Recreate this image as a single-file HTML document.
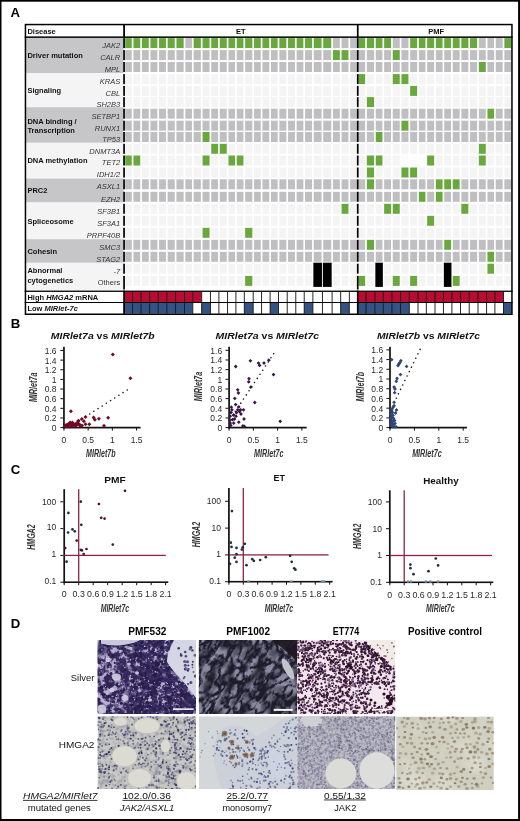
<!DOCTYPE html>
<html><head><meta charset="utf-8"><title>Figure</title><style>
html,body{margin:0;padding:0;background:#fff;overflow:hidden;}
svg{display:block;}
text{font-family:"Liberation Sans",Arial,sans-serif;}
.pl{font-size:13.2px;font-weight:bold;fill:#000;}
.b75{font-size:7.5px;font-weight:bold;fill:#111;}
.gi{font-size:7.5px;font-style:italic;fill:#353535;}
.gn{font-size:7.5px;fill:#353535;}
.tk{font-size:8.5px;fill:#2a2a2a;}
.tt{font-size:8.6px;font-weight:bold;font-style:italic;fill:#111;}
.ax{font-size:10.2px;font-style:italic;font-weight:bold;fill:#333;}
.ct{font-size:9.7px;font-weight:bold;fill:#111;}
.tkc{font-size:8.8px;fill:#2a2a2a;}
.dl{font-size:9.7px;fill:#111;}
.dbt{font-size:9.2px;fill:#111;}
.dh{font-size:10.3px;font-weight:bold;fill:#000;}
</style></head><body>
<svg width="520" height="821" viewBox="0 0 520 821">
<rect x="0" y="0" width="520" height="821" fill="#fff"/>
<text x="10.6" y="17.2" class="pl">A</text>
<rect x="25" y="38" width="98.5" height="35" fill="#c6c6c9"/>
<rect x="25" y="73" width="98.5" height="34.2" fill="#f4f4f5"/>
<rect x="25" y="107.2" width="98.5" height="35.6" fill="#c6c6c9"/>
<rect x="25" y="142.8" width="98.5" height="35.7" fill="#f4f4f5"/>
<rect x="25" y="178.5" width="98.5" height="24" fill="#c6c6c9"/>
<rect x="25" y="202.5" width="98.5" height="36.7" fill="#f4f4f5"/>
<rect x="25" y="239.2" width="98.5" height="23.6" fill="#c6c6c9"/>
<rect x="25" y="262.8" width="98.5" height="27.8" fill="#f4f4f5"/>
<rect x="125.2" y="38.1" width="6.55" height="10.0" fill="#68a83c"/>
<rect x="133.45" y="38.1" width="6.8" height="10.0" fill="#68a83c"/>
<rect x="141.95" y="38.1" width="6.8" height="10.0" fill="#68a83c"/>
<rect x="150.45" y="38.1" width="6.9" height="10.0" fill="#68a83c"/>
<rect x="159.05" y="38.1" width="6.9" height="10.0" fill="#68a83c"/>
<rect x="167.65" y="38.1" width="7.1" height="10.0" fill="#68a83c"/>
<rect x="176.45" y="38.1" width="7.2" height="10.0" fill="#68a83c"/>
<rect x="185.35" y="38.1" width="6.6" height="10.0" fill="#bfbfc2"/>
<rect x="193.65" y="38.1" width="7.2" height="10.0" fill="#68a83c"/>
<rect x="202.55" y="38.1" width="7" height="10.0" fill="#68a83c"/>
<rect x="211.25" y="38.1" width="6.8" height="10.0" fill="#68a83c"/>
<rect x="219.75" y="38.1" width="7" height="10.0" fill="#68a83c"/>
<rect x="228.45" y="38.1" width="6.6" height="10.0" fill="#68a83c"/>
<rect x="236.75" y="38.1" width="6.7" height="10.0" fill="#68a83c"/>
<rect x="245.15" y="38.1" width="7.2" height="10.0" fill="#68a83c"/>
<rect x="254.05" y="38.1" width="6.7" height="10.0" fill="#68a83c"/>
<rect x="262.45" y="38.1" width="6.8" height="10.0" fill="#68a83c"/>
<rect x="270.95" y="38.1" width="6.7" height="10.0" fill="#68a83c"/>
<rect x="279.35" y="38.1" width="7" height="10.0" fill="#68a83c"/>
<rect x="288.05" y="38.1" width="6.9" height="10.0" fill="#68a83c"/>
<rect x="296.65" y="38.1" width="6.7" height="10.0" fill="#68a83c"/>
<rect x="305.05" y="38.1" width="7" height="10.0" fill="#68a83c"/>
<rect x="313.75" y="38.1" width="7.8" height="10.0" fill="#68a83c"/>
<rect x="323.25" y="38.1" width="8" height="10.0" fill="#68a83c"/>
<rect x="332.95" y="38.1" width="6.9" height="10.0" fill="#bfbfc2"/>
<rect x="341.55" y="38.1" width="6.9" height="10.0" fill="#bfbfc2"/>
<rect x="350.15" y="38.1" width="6.75" height="10.0" fill="#bfbfc2"/>
<rect x="358.5" y="38.1" width="6.65" height="10.0" fill="#68a83c"/>
<rect x="366.85" y="38.1" width="7.2" height="10.0" fill="#68a83c"/>
<rect x="375.75" y="38.1" width="6.7" height="10.0" fill="#68a83c"/>
<rect x="384.15" y="38.1" width="6.9" height="10.0" fill="#68a83c"/>
<rect x="392.75" y="38.1" width="7" height="10.0" fill="#bfbfc2"/>
<rect x="401.45" y="38.1" width="7" height="10.0" fill="#bfbfc2"/>
<rect x="410.15" y="38.1" width="7" height="10.0" fill="#68a83c"/>
<rect x="418.85" y="38.1" width="6.6" height="10.0" fill="#68a83c"/>
<rect x="427.15" y="38.1" width="7" height="10.0" fill="#68a83c"/>
<rect x="435.85" y="38.1" width="6.7" height="10.0" fill="#68a83c"/>
<rect x="444.25" y="38.1" width="6.8" height="10.0" fill="#68a83c"/>
<rect x="452.75" y="38.1" width="6.9" height="10.0" fill="#68a83c"/>
<rect x="461.35" y="38.1" width="7" height="10.0" fill="#68a83c"/>
<rect x="470.05" y="38.1" width="7.1" height="10.0" fill="#68a83c"/>
<rect x="478.85" y="38.1" width="6.9" height="10.0" fill="#bfbfc2"/>
<rect x="487.45" y="38.1" width="6.6" height="10.0" fill="#bfbfc2"/>
<rect x="495.75" y="38.1" width="6.9" height="10.0" fill="#bfbfc2"/>
<rect x="504.35" y="38.1" width="6.65" height="10.0" fill="#68a83c"/>
<rect x="125.2" y="50.1" width="6.55" height="10.0" fill="#bfbfc2"/>
<rect x="133.45" y="50.1" width="6.8" height="10.0" fill="#bfbfc2"/>
<rect x="141.95" y="50.1" width="6.8" height="10.0" fill="#bfbfc2"/>
<rect x="150.45" y="50.1" width="6.9" height="10.0" fill="#bfbfc2"/>
<rect x="159.05" y="50.1" width="6.9" height="10.0" fill="#bfbfc2"/>
<rect x="167.65" y="50.1" width="7.1" height="10.0" fill="#bfbfc2"/>
<rect x="176.45" y="50.1" width="7.2" height="10.0" fill="#bfbfc2"/>
<rect x="185.35" y="50.1" width="6.6" height="10.0" fill="#bfbfc2"/>
<rect x="193.65" y="50.1" width="7.2" height="10.0" fill="#bfbfc2"/>
<rect x="202.55" y="50.1" width="7" height="10.0" fill="#bfbfc2"/>
<rect x="211.25" y="50.1" width="6.8" height="10.0" fill="#bfbfc2"/>
<rect x="219.75" y="50.1" width="7" height="10.0" fill="#bfbfc2"/>
<rect x="228.45" y="50.1" width="6.6" height="10.0" fill="#bfbfc2"/>
<rect x="236.75" y="50.1" width="6.7" height="10.0" fill="#bfbfc2"/>
<rect x="245.15" y="50.1" width="7.2" height="10.0" fill="#bfbfc2"/>
<rect x="254.05" y="50.1" width="6.7" height="10.0" fill="#bfbfc2"/>
<rect x="262.45" y="50.1" width="6.8" height="10.0" fill="#bfbfc2"/>
<rect x="270.95" y="50.1" width="6.7" height="10.0" fill="#bfbfc2"/>
<rect x="279.35" y="50.1" width="7" height="10.0" fill="#bfbfc2"/>
<rect x="288.05" y="50.1" width="6.9" height="10.0" fill="#bfbfc2"/>
<rect x="296.65" y="50.1" width="6.7" height="10.0" fill="#bfbfc2"/>
<rect x="305.05" y="50.1" width="7" height="10.0" fill="#bfbfc2"/>
<rect x="313.75" y="50.1" width="7.8" height="10.0" fill="#bfbfc2"/>
<rect x="323.25" y="50.1" width="8" height="10.0" fill="#bfbfc2"/>
<rect x="332.95" y="50.1" width="6.9" height="10.0" fill="#68a83c"/>
<rect x="341.55" y="50.1" width="6.9" height="10.0" fill="#68a83c"/>
<rect x="350.15" y="50.1" width="6.75" height="10.0" fill="#bfbfc2"/>
<rect x="358.5" y="50.1" width="6.65" height="10.0" fill="#bfbfc2"/>
<rect x="366.85" y="50.1" width="7.2" height="10.0" fill="#bfbfc2"/>
<rect x="375.75" y="50.1" width="6.7" height="10.0" fill="#bfbfc2"/>
<rect x="384.15" y="50.1" width="6.9" height="10.0" fill="#bfbfc2"/>
<rect x="392.75" y="50.1" width="7" height="10.0" fill="#68a83c"/>
<rect x="401.45" y="50.1" width="7" height="10.0" fill="#bfbfc2"/>
<rect x="410.15" y="50.1" width="7" height="10.0" fill="#bfbfc2"/>
<rect x="418.85" y="50.1" width="6.6" height="10.0" fill="#bfbfc2"/>
<rect x="427.15" y="50.1" width="7" height="10.0" fill="#bfbfc2"/>
<rect x="435.85" y="50.1" width="6.7" height="10.0" fill="#bfbfc2"/>
<rect x="444.25" y="50.1" width="6.8" height="10.0" fill="#bfbfc2"/>
<rect x="452.75" y="50.1" width="6.9" height="10.0" fill="#bfbfc2"/>
<rect x="461.35" y="50.1" width="7" height="10.0" fill="#bfbfc2"/>
<rect x="470.05" y="50.1" width="7.1" height="10.0" fill="#bfbfc2"/>
<rect x="478.85" y="50.1" width="6.9" height="10.0" fill="#bfbfc2"/>
<rect x="487.45" y="50.1" width="6.6" height="10.0" fill="#bfbfc2"/>
<rect x="495.75" y="50.1" width="6.9" height="10.0" fill="#bfbfc2"/>
<rect x="504.35" y="50.1" width="6.65" height="10.0" fill="#bfbfc2"/>
<rect x="125.2" y="62" width="6.55" height="10.0" fill="#bfbfc2"/>
<rect x="133.45" y="62" width="6.8" height="10.0" fill="#bfbfc2"/>
<rect x="141.95" y="62" width="6.8" height="10.0" fill="#bfbfc2"/>
<rect x="150.45" y="62" width="6.9" height="10.0" fill="#bfbfc2"/>
<rect x="159.05" y="62" width="6.9" height="10.0" fill="#bfbfc2"/>
<rect x="167.65" y="62" width="7.1" height="10.0" fill="#bfbfc2"/>
<rect x="176.45" y="62" width="7.2" height="10.0" fill="#bfbfc2"/>
<rect x="185.35" y="62" width="6.6" height="10.0" fill="#bfbfc2"/>
<rect x="193.65" y="62" width="7.2" height="10.0" fill="#bfbfc2"/>
<rect x="202.55" y="62" width="7" height="10.0" fill="#bfbfc2"/>
<rect x="211.25" y="62" width="6.8" height="10.0" fill="#bfbfc2"/>
<rect x="219.75" y="62" width="7" height="10.0" fill="#bfbfc2"/>
<rect x="228.45" y="62" width="6.6" height="10.0" fill="#bfbfc2"/>
<rect x="236.75" y="62" width="6.7" height="10.0" fill="#bfbfc2"/>
<rect x="245.15" y="62" width="7.2" height="10.0" fill="#bfbfc2"/>
<rect x="254.05" y="62" width="6.7" height="10.0" fill="#bfbfc2"/>
<rect x="262.45" y="62" width="6.8" height="10.0" fill="#bfbfc2"/>
<rect x="270.95" y="62" width="6.7" height="10.0" fill="#bfbfc2"/>
<rect x="279.35" y="62" width="7" height="10.0" fill="#bfbfc2"/>
<rect x="288.05" y="62" width="6.9" height="10.0" fill="#bfbfc2"/>
<rect x="296.65" y="62" width="6.7" height="10.0" fill="#bfbfc2"/>
<rect x="305.05" y="62" width="7" height="10.0" fill="#bfbfc2"/>
<rect x="313.75" y="62" width="7.8" height="10.0" fill="#bfbfc2"/>
<rect x="323.25" y="62" width="8" height="10.0" fill="#bfbfc2"/>
<rect x="332.95" y="62" width="6.9" height="10.0" fill="#bfbfc2"/>
<rect x="341.55" y="62" width="6.9" height="10.0" fill="#bfbfc2"/>
<rect x="350.15" y="62" width="6.75" height="10.0" fill="#bfbfc2"/>
<rect x="358.5" y="62" width="6.65" height="10.0" fill="#bfbfc2"/>
<rect x="366.85" y="62" width="7.2" height="10.0" fill="#bfbfc2"/>
<rect x="375.75" y="62" width="6.7" height="10.0" fill="#bfbfc2"/>
<rect x="384.15" y="62" width="6.9" height="10.0" fill="#bfbfc2"/>
<rect x="392.75" y="62" width="7" height="10.0" fill="#bfbfc2"/>
<rect x="401.45" y="62" width="7" height="10.0" fill="#bfbfc2"/>
<rect x="410.15" y="62" width="7" height="10.0" fill="#bfbfc2"/>
<rect x="418.85" y="62" width="6.6" height="10.0" fill="#bfbfc2"/>
<rect x="427.15" y="62" width="7" height="10.0" fill="#bfbfc2"/>
<rect x="435.85" y="62" width="6.7" height="10.0" fill="#bfbfc2"/>
<rect x="444.25" y="62" width="6.8" height="10.0" fill="#bfbfc2"/>
<rect x="452.75" y="62" width="6.9" height="10.0" fill="#bfbfc2"/>
<rect x="461.35" y="62" width="7" height="10.0" fill="#bfbfc2"/>
<rect x="470.05" y="62" width="7.1" height="10.0" fill="#bfbfc2"/>
<rect x="478.85" y="62" width="6.9" height="10.0" fill="#68a83c"/>
<rect x="487.45" y="62" width="6.6" height="10.0" fill="#bfbfc2"/>
<rect x="495.75" y="62" width="6.9" height="10.0" fill="#bfbfc2"/>
<rect x="504.35" y="62" width="6.65" height="10.0" fill="#bfbfc2"/>
<rect x="125.2" y="74.1" width="6.55" height="10.0" fill="#f4f4f5"/>
<rect x="133.45" y="74.1" width="6.8" height="10.0" fill="#f4f4f5"/>
<rect x="141.95" y="74.1" width="6.8" height="10.0" fill="#f4f4f5"/>
<rect x="150.45" y="74.1" width="6.9" height="10.0" fill="#f4f4f5"/>
<rect x="159.05" y="74.1" width="6.9" height="10.0" fill="#f4f4f5"/>
<rect x="167.65" y="74.1" width="7.1" height="10.0" fill="#f4f4f5"/>
<rect x="176.45" y="74.1" width="7.2" height="10.0" fill="#f4f4f5"/>
<rect x="185.35" y="74.1" width="6.6" height="10.0" fill="#f4f4f5"/>
<rect x="193.65" y="74.1" width="7.2" height="10.0" fill="#f4f4f5"/>
<rect x="202.55" y="74.1" width="7" height="10.0" fill="#f4f4f5"/>
<rect x="211.25" y="74.1" width="6.8" height="10.0" fill="#f4f4f5"/>
<rect x="219.75" y="74.1" width="7" height="10.0" fill="#f4f4f5"/>
<rect x="228.45" y="74.1" width="6.6" height="10.0" fill="#f4f4f5"/>
<rect x="236.75" y="74.1" width="6.7" height="10.0" fill="#f4f4f5"/>
<rect x="245.15" y="74.1" width="7.2" height="10.0" fill="#f4f4f5"/>
<rect x="254.05" y="74.1" width="6.7" height="10.0" fill="#f4f4f5"/>
<rect x="262.45" y="74.1" width="6.8" height="10.0" fill="#f4f4f5"/>
<rect x="270.95" y="74.1" width="6.7" height="10.0" fill="#f4f4f5"/>
<rect x="279.35" y="74.1" width="7" height="10.0" fill="#f4f4f5"/>
<rect x="288.05" y="74.1" width="6.9" height="10.0" fill="#f4f4f5"/>
<rect x="296.65" y="74.1" width="6.7" height="10.0" fill="#f4f4f5"/>
<rect x="305.05" y="74.1" width="7" height="10.0" fill="#f4f4f5"/>
<rect x="313.75" y="74.1" width="7.8" height="10.0" fill="#f4f4f5"/>
<rect x="323.25" y="74.1" width="8" height="10.0" fill="#f4f4f5"/>
<rect x="332.95" y="74.1" width="6.9" height="10.0" fill="#f4f4f5"/>
<rect x="341.55" y="74.1" width="6.9" height="10.0" fill="#f4f4f5"/>
<rect x="350.15" y="74.1" width="6.75" height="10.0" fill="#f4f4f5"/>
<rect x="358.5" y="74.1" width="6.65" height="10.0" fill="#68a83c"/>
<rect x="366.85" y="74.1" width="7.2" height="10.0" fill="#f4f4f5"/>
<rect x="375.75" y="74.1" width="6.7" height="10.0" fill="#f4f4f5"/>
<rect x="384.15" y="74.1" width="6.9" height="10.0" fill="#f4f4f5"/>
<rect x="392.75" y="74.1" width="7" height="10.0" fill="#68a83c"/>
<rect x="401.45" y="74.1" width="7" height="10.0" fill="#68a83c"/>
<rect x="410.15" y="74.1" width="7" height="10.0" fill="#f4f4f5"/>
<rect x="418.85" y="74.1" width="6.6" height="10.0" fill="#f4f4f5"/>
<rect x="427.15" y="74.1" width="7" height="10.0" fill="#f4f4f5"/>
<rect x="435.85" y="74.1" width="6.7" height="10.0" fill="#f4f4f5"/>
<rect x="444.25" y="74.1" width="6.8" height="10.0" fill="#f4f4f5"/>
<rect x="452.75" y="74.1" width="6.9" height="10.0" fill="#f4f4f5"/>
<rect x="461.35" y="74.1" width="7" height="10.0" fill="#f4f4f5"/>
<rect x="470.05" y="74.1" width="7.1" height="10.0" fill="#f4f4f5"/>
<rect x="478.85" y="74.1" width="6.9" height="10.0" fill="#f4f4f5"/>
<rect x="487.45" y="74.1" width="6.6" height="10.0" fill="#f4f4f5"/>
<rect x="495.75" y="74.1" width="6.9" height="10.0" fill="#f4f4f5"/>
<rect x="504.35" y="74.1" width="6.65" height="10.0" fill="#f4f4f5"/>
<rect x="125.2" y="85.9" width="6.55" height="10.0" fill="#f4f4f5"/>
<rect x="133.45" y="85.9" width="6.8" height="10.0" fill="#f4f4f5"/>
<rect x="141.95" y="85.9" width="6.8" height="10.0" fill="#f4f4f5"/>
<rect x="150.45" y="85.9" width="6.9" height="10.0" fill="#f4f4f5"/>
<rect x="159.05" y="85.9" width="6.9" height="10.0" fill="#f4f4f5"/>
<rect x="167.65" y="85.9" width="7.1" height="10.0" fill="#f4f4f5"/>
<rect x="176.45" y="85.9" width="7.2" height="10.0" fill="#f4f4f5"/>
<rect x="185.35" y="85.9" width="6.6" height="10.0" fill="#f4f4f5"/>
<rect x="193.65" y="85.9" width="7.2" height="10.0" fill="#f4f4f5"/>
<rect x="202.55" y="85.9" width="7" height="10.0" fill="#f4f4f5"/>
<rect x="211.25" y="85.9" width="6.8" height="10.0" fill="#f4f4f5"/>
<rect x="219.75" y="85.9" width="7" height="10.0" fill="#f4f4f5"/>
<rect x="228.45" y="85.9" width="6.6" height="10.0" fill="#f4f4f5"/>
<rect x="236.75" y="85.9" width="6.7" height="10.0" fill="#f4f4f5"/>
<rect x="245.15" y="85.9" width="7.2" height="10.0" fill="#f4f4f5"/>
<rect x="254.05" y="85.9" width="6.7" height="10.0" fill="#f4f4f5"/>
<rect x="262.45" y="85.9" width="6.8" height="10.0" fill="#f4f4f5"/>
<rect x="270.95" y="85.9" width="6.7" height="10.0" fill="#f4f4f5"/>
<rect x="279.35" y="85.9" width="7" height="10.0" fill="#f4f4f5"/>
<rect x="288.05" y="85.9" width="6.9" height="10.0" fill="#f4f4f5"/>
<rect x="296.65" y="85.9" width="6.7" height="10.0" fill="#f4f4f5"/>
<rect x="305.05" y="85.9" width="7" height="10.0" fill="#f4f4f5"/>
<rect x="313.75" y="85.9" width="7.8" height="10.0" fill="#f4f4f5"/>
<rect x="323.25" y="85.9" width="8" height="10.0" fill="#f4f4f5"/>
<rect x="332.95" y="85.9" width="6.9" height="10.0" fill="#f4f4f5"/>
<rect x="341.55" y="85.9" width="6.9" height="10.0" fill="#f4f4f5"/>
<rect x="350.15" y="85.9" width="6.75" height="10.0" fill="#f4f4f5"/>
<rect x="358.5" y="85.9" width="6.65" height="10.0" fill="#f4f4f5"/>
<rect x="366.85" y="85.9" width="7.2" height="10.0" fill="#f4f4f5"/>
<rect x="375.75" y="85.9" width="6.7" height="10.0" fill="#f4f4f5"/>
<rect x="384.15" y="85.9" width="6.9" height="10.0" fill="#f4f4f5"/>
<rect x="392.75" y="85.9" width="7" height="10.0" fill="#f4f4f5"/>
<rect x="401.45" y="85.9" width="7" height="10.0" fill="#f4f4f5"/>
<rect x="410.15" y="85.9" width="7" height="10.0" fill="#68a83c"/>
<rect x="418.85" y="85.9" width="6.6" height="10.0" fill="#f4f4f5"/>
<rect x="427.15" y="85.9" width="7" height="10.0" fill="#f4f4f5"/>
<rect x="435.85" y="85.9" width="6.7" height="10.0" fill="#f4f4f5"/>
<rect x="444.25" y="85.9" width="6.8" height="10.0" fill="#f4f4f5"/>
<rect x="452.75" y="85.9" width="6.9" height="10.0" fill="#f4f4f5"/>
<rect x="461.35" y="85.9" width="7" height="10.0" fill="#f4f4f5"/>
<rect x="470.05" y="85.9" width="7.1" height="10.0" fill="#f4f4f5"/>
<rect x="478.85" y="85.9" width="6.9" height="10.0" fill="#f4f4f5"/>
<rect x="487.45" y="85.9" width="6.6" height="10.0" fill="#f4f4f5"/>
<rect x="495.75" y="85.9" width="6.9" height="10.0" fill="#f4f4f5"/>
<rect x="504.35" y="85.9" width="6.65" height="10.0" fill="#f4f4f5"/>
<rect x="125.2" y="97.1" width="6.55" height="10.0" fill="#f4f4f5"/>
<rect x="133.45" y="97.1" width="6.8" height="10.0" fill="#f4f4f5"/>
<rect x="141.95" y="97.1" width="6.8" height="10.0" fill="#f4f4f5"/>
<rect x="150.45" y="97.1" width="6.9" height="10.0" fill="#f4f4f5"/>
<rect x="159.05" y="97.1" width="6.9" height="10.0" fill="#f4f4f5"/>
<rect x="167.65" y="97.1" width="7.1" height="10.0" fill="#f4f4f5"/>
<rect x="176.45" y="97.1" width="7.2" height="10.0" fill="#f4f4f5"/>
<rect x="185.35" y="97.1" width="6.6" height="10.0" fill="#f4f4f5"/>
<rect x="193.65" y="97.1" width="7.2" height="10.0" fill="#f4f4f5"/>
<rect x="202.55" y="97.1" width="7" height="10.0" fill="#f4f4f5"/>
<rect x="211.25" y="97.1" width="6.8" height="10.0" fill="#f4f4f5"/>
<rect x="219.75" y="97.1" width="7" height="10.0" fill="#f4f4f5"/>
<rect x="228.45" y="97.1" width="6.6" height="10.0" fill="#f4f4f5"/>
<rect x="236.75" y="97.1" width="6.7" height="10.0" fill="#f4f4f5"/>
<rect x="245.15" y="97.1" width="7.2" height="10.0" fill="#f4f4f5"/>
<rect x="254.05" y="97.1" width="6.7" height="10.0" fill="#f4f4f5"/>
<rect x="262.45" y="97.1" width="6.8" height="10.0" fill="#f4f4f5"/>
<rect x="270.95" y="97.1" width="6.7" height="10.0" fill="#f4f4f5"/>
<rect x="279.35" y="97.1" width="7" height="10.0" fill="#f4f4f5"/>
<rect x="288.05" y="97.1" width="6.9" height="10.0" fill="#f4f4f5"/>
<rect x="296.65" y="97.1" width="6.7" height="10.0" fill="#f4f4f5"/>
<rect x="305.05" y="97.1" width="7" height="10.0" fill="#f4f4f5"/>
<rect x="313.75" y="97.1" width="7.8" height="10.0" fill="#f4f4f5"/>
<rect x="323.25" y="97.1" width="8" height="10.0" fill="#f4f4f5"/>
<rect x="332.95" y="97.1" width="6.9" height="10.0" fill="#f4f4f5"/>
<rect x="341.55" y="97.1" width="6.9" height="10.0" fill="#f4f4f5"/>
<rect x="350.15" y="97.1" width="6.75" height="10.0" fill="#f4f4f5"/>
<rect x="358.5" y="97.1" width="6.65" height="10.0" fill="#f4f4f5"/>
<rect x="366.85" y="97.1" width="7.2" height="10.0" fill="#68a83c"/>
<rect x="375.75" y="97.1" width="6.7" height="10.0" fill="#f4f4f5"/>
<rect x="384.15" y="97.1" width="6.9" height="10.0" fill="#f4f4f5"/>
<rect x="392.75" y="97.1" width="7" height="10.0" fill="#f4f4f5"/>
<rect x="401.45" y="97.1" width="7" height="10.0" fill="#f4f4f5"/>
<rect x="410.15" y="97.1" width="7" height="10.0" fill="#f4f4f5"/>
<rect x="418.85" y="97.1" width="6.6" height="10.0" fill="#f4f4f5"/>
<rect x="427.15" y="97.1" width="7" height="10.0" fill="#f4f4f5"/>
<rect x="435.85" y="97.1" width="6.7" height="10.0" fill="#f4f4f5"/>
<rect x="444.25" y="97.1" width="6.8" height="10.0" fill="#f4f4f5"/>
<rect x="452.75" y="97.1" width="6.9" height="10.0" fill="#f4f4f5"/>
<rect x="461.35" y="97.1" width="7" height="10.0" fill="#f4f4f5"/>
<rect x="470.05" y="97.1" width="7.1" height="10.0" fill="#f4f4f5"/>
<rect x="478.85" y="97.1" width="6.9" height="10.0" fill="#f4f4f5"/>
<rect x="487.45" y="97.1" width="6.6" height="10.0" fill="#f4f4f5"/>
<rect x="495.75" y="97.1" width="6.9" height="10.0" fill="#f4f4f5"/>
<rect x="504.35" y="97.1" width="6.65" height="10.0" fill="#f4f4f5"/>
<rect x="125.2" y="108.7" width="6.55" height="10.0" fill="#bfbfc2"/>
<rect x="133.45" y="108.7" width="6.8" height="10.0" fill="#bfbfc2"/>
<rect x="141.95" y="108.7" width="6.8" height="10.0" fill="#bfbfc2"/>
<rect x="150.45" y="108.7" width="6.9" height="10.0" fill="#bfbfc2"/>
<rect x="159.05" y="108.7" width="6.9" height="10.0" fill="#bfbfc2"/>
<rect x="167.65" y="108.7" width="7.1" height="10.0" fill="#bfbfc2"/>
<rect x="176.45" y="108.7" width="7.2" height="10.0" fill="#bfbfc2"/>
<rect x="185.35" y="108.7" width="6.6" height="10.0" fill="#bfbfc2"/>
<rect x="193.65" y="108.7" width="7.2" height="10.0" fill="#bfbfc2"/>
<rect x="202.55" y="108.7" width="7" height="10.0" fill="#bfbfc2"/>
<rect x="211.25" y="108.7" width="6.8" height="10.0" fill="#bfbfc2"/>
<rect x="219.75" y="108.7" width="7" height="10.0" fill="#bfbfc2"/>
<rect x="228.45" y="108.7" width="6.6" height="10.0" fill="#bfbfc2"/>
<rect x="236.75" y="108.7" width="6.7" height="10.0" fill="#bfbfc2"/>
<rect x="245.15" y="108.7" width="7.2" height="10.0" fill="#bfbfc2"/>
<rect x="254.05" y="108.7" width="6.7" height="10.0" fill="#bfbfc2"/>
<rect x="262.45" y="108.7" width="6.8" height="10.0" fill="#bfbfc2"/>
<rect x="270.95" y="108.7" width="6.7" height="10.0" fill="#bfbfc2"/>
<rect x="279.35" y="108.7" width="7" height="10.0" fill="#bfbfc2"/>
<rect x="288.05" y="108.7" width="6.9" height="10.0" fill="#bfbfc2"/>
<rect x="296.65" y="108.7" width="6.7" height="10.0" fill="#bfbfc2"/>
<rect x="305.05" y="108.7" width="7" height="10.0" fill="#bfbfc2"/>
<rect x="313.75" y="108.7" width="7.8" height="10.0" fill="#bfbfc2"/>
<rect x="323.25" y="108.7" width="8" height="10.0" fill="#bfbfc2"/>
<rect x="332.95" y="108.7" width="6.9" height="10.0" fill="#bfbfc2"/>
<rect x="341.55" y="108.7" width="6.9" height="10.0" fill="#bfbfc2"/>
<rect x="350.15" y="108.7" width="6.75" height="10.0" fill="#bfbfc2"/>
<rect x="358.5" y="108.7" width="6.65" height="10.0" fill="#bfbfc2"/>
<rect x="366.85" y="108.7" width="7.2" height="10.0" fill="#bfbfc2"/>
<rect x="375.75" y="108.7" width="6.7" height="10.0" fill="#bfbfc2"/>
<rect x="384.15" y="108.7" width="6.9" height="10.0" fill="#bfbfc2"/>
<rect x="392.75" y="108.7" width="7" height="10.0" fill="#bfbfc2"/>
<rect x="401.45" y="108.7" width="7" height="10.0" fill="#bfbfc2"/>
<rect x="410.15" y="108.7" width="7" height="10.0" fill="#bfbfc2"/>
<rect x="418.85" y="108.7" width="6.6" height="10.0" fill="#bfbfc2"/>
<rect x="427.15" y="108.7" width="7" height="10.0" fill="#bfbfc2"/>
<rect x="435.85" y="108.7" width="6.7" height="10.0" fill="#bfbfc2"/>
<rect x="444.25" y="108.7" width="6.8" height="10.0" fill="#bfbfc2"/>
<rect x="452.75" y="108.7" width="6.9" height="10.0" fill="#bfbfc2"/>
<rect x="461.35" y="108.7" width="7" height="10.0" fill="#bfbfc2"/>
<rect x="470.05" y="108.7" width="7.1" height="10.0" fill="#bfbfc2"/>
<rect x="478.85" y="108.7" width="6.9" height="10.0" fill="#bfbfc2"/>
<rect x="487.45" y="108.7" width="6.6" height="10.0" fill="#68a83c"/>
<rect x="495.75" y="108.7" width="6.9" height="10.0" fill="#bfbfc2"/>
<rect x="504.35" y="108.7" width="6.65" height="10.0" fill="#bfbfc2"/>
<rect x="125.2" y="120.7" width="6.55" height="10.0" fill="#bfbfc2"/>
<rect x="133.45" y="120.7" width="6.8" height="10.0" fill="#bfbfc2"/>
<rect x="141.95" y="120.7" width="6.8" height="10.0" fill="#bfbfc2"/>
<rect x="150.45" y="120.7" width="6.9" height="10.0" fill="#bfbfc2"/>
<rect x="159.05" y="120.7" width="6.9" height="10.0" fill="#bfbfc2"/>
<rect x="167.65" y="120.7" width="7.1" height="10.0" fill="#bfbfc2"/>
<rect x="176.45" y="120.7" width="7.2" height="10.0" fill="#bfbfc2"/>
<rect x="185.35" y="120.7" width="6.6" height="10.0" fill="#bfbfc2"/>
<rect x="193.65" y="120.7" width="7.2" height="10.0" fill="#bfbfc2"/>
<rect x="202.55" y="120.7" width="7" height="10.0" fill="#bfbfc2"/>
<rect x="211.25" y="120.7" width="6.8" height="10.0" fill="#bfbfc2"/>
<rect x="219.75" y="120.7" width="7" height="10.0" fill="#bfbfc2"/>
<rect x="228.45" y="120.7" width="6.6" height="10.0" fill="#bfbfc2"/>
<rect x="236.75" y="120.7" width="6.7" height="10.0" fill="#bfbfc2"/>
<rect x="245.15" y="120.7" width="7.2" height="10.0" fill="#bfbfc2"/>
<rect x="254.05" y="120.7" width="6.7" height="10.0" fill="#bfbfc2"/>
<rect x="262.45" y="120.7" width="6.8" height="10.0" fill="#bfbfc2"/>
<rect x="270.95" y="120.7" width="6.7" height="10.0" fill="#bfbfc2"/>
<rect x="279.35" y="120.7" width="7" height="10.0" fill="#bfbfc2"/>
<rect x="288.05" y="120.7" width="6.9" height="10.0" fill="#bfbfc2"/>
<rect x="296.65" y="120.7" width="6.7" height="10.0" fill="#bfbfc2"/>
<rect x="305.05" y="120.7" width="7" height="10.0" fill="#bfbfc2"/>
<rect x="313.75" y="120.7" width="7.8" height="10.0" fill="#bfbfc2"/>
<rect x="323.25" y="120.7" width="8" height="10.0" fill="#bfbfc2"/>
<rect x="332.95" y="120.7" width="6.9" height="10.0" fill="#bfbfc2"/>
<rect x="341.55" y="120.7" width="6.9" height="10.0" fill="#bfbfc2"/>
<rect x="350.15" y="120.7" width="6.75" height="10.0" fill="#bfbfc2"/>
<rect x="358.5" y="120.7" width="6.65" height="10.0" fill="#bfbfc2"/>
<rect x="366.85" y="120.7" width="7.2" height="10.0" fill="#bfbfc2"/>
<rect x="375.75" y="120.7" width="6.7" height="10.0" fill="#bfbfc2"/>
<rect x="384.15" y="120.7" width="6.9" height="10.0" fill="#bfbfc2"/>
<rect x="392.75" y="120.7" width="7" height="10.0" fill="#bfbfc2"/>
<rect x="401.45" y="120.7" width="7" height="10.0" fill="#68a83c"/>
<rect x="410.15" y="120.7" width="7" height="10.0" fill="#bfbfc2"/>
<rect x="418.85" y="120.7" width="6.6" height="10.0" fill="#bfbfc2"/>
<rect x="427.15" y="120.7" width="7" height="10.0" fill="#bfbfc2"/>
<rect x="435.85" y="120.7" width="6.7" height="10.0" fill="#bfbfc2"/>
<rect x="444.25" y="120.7" width="6.8" height="10.0" fill="#bfbfc2"/>
<rect x="452.75" y="120.7" width="6.9" height="10.0" fill="#bfbfc2"/>
<rect x="461.35" y="120.7" width="7" height="10.0" fill="#bfbfc2"/>
<rect x="470.05" y="120.7" width="7.1" height="10.0" fill="#bfbfc2"/>
<rect x="478.85" y="120.7" width="6.9" height="10.0" fill="#bfbfc2"/>
<rect x="487.45" y="120.7" width="6.6" height="10.0" fill="#bfbfc2"/>
<rect x="495.75" y="120.7" width="6.9" height="10.0" fill="#bfbfc2"/>
<rect x="504.35" y="120.7" width="6.65" height="10.0" fill="#bfbfc2"/>
<rect x="125.2" y="132" width="6.55" height="10.0" fill="#bfbfc2"/>
<rect x="133.45" y="132" width="6.8" height="10.0" fill="#bfbfc2"/>
<rect x="141.95" y="132" width="6.8" height="10.0" fill="#bfbfc2"/>
<rect x="150.45" y="132" width="6.9" height="10.0" fill="#bfbfc2"/>
<rect x="159.05" y="132" width="6.9" height="10.0" fill="#bfbfc2"/>
<rect x="167.65" y="132" width="7.1" height="10.0" fill="#bfbfc2"/>
<rect x="176.45" y="132" width="7.2" height="10.0" fill="#bfbfc2"/>
<rect x="185.35" y="132" width="6.6" height="10.0" fill="#bfbfc2"/>
<rect x="193.65" y="132" width="7.2" height="10.0" fill="#bfbfc2"/>
<rect x="202.55" y="132" width="7" height="10.0" fill="#68a83c"/>
<rect x="211.25" y="132" width="6.8" height="10.0" fill="#bfbfc2"/>
<rect x="219.75" y="132" width="7" height="10.0" fill="#bfbfc2"/>
<rect x="228.45" y="132" width="6.6" height="10.0" fill="#bfbfc2"/>
<rect x="236.75" y="132" width="6.7" height="10.0" fill="#bfbfc2"/>
<rect x="245.15" y="132" width="7.2" height="10.0" fill="#bfbfc2"/>
<rect x="254.05" y="132" width="6.7" height="10.0" fill="#bfbfc2"/>
<rect x="262.45" y="132" width="6.8" height="10.0" fill="#bfbfc2"/>
<rect x="270.95" y="132" width="6.7" height="10.0" fill="#bfbfc2"/>
<rect x="279.35" y="132" width="7" height="10.0" fill="#bfbfc2"/>
<rect x="288.05" y="132" width="6.9" height="10.0" fill="#bfbfc2"/>
<rect x="296.65" y="132" width="6.7" height="10.0" fill="#bfbfc2"/>
<rect x="305.05" y="132" width="7" height="10.0" fill="#bfbfc2"/>
<rect x="313.75" y="132" width="7.8" height="10.0" fill="#bfbfc2"/>
<rect x="323.25" y="132" width="8" height="10.0" fill="#bfbfc2"/>
<rect x="332.95" y="132" width="6.9" height="10.0" fill="#bfbfc2"/>
<rect x="341.55" y="132" width="6.9" height="10.0" fill="#bfbfc2"/>
<rect x="350.15" y="132" width="6.75" height="10.0" fill="#bfbfc2"/>
<rect x="358.5" y="132" width="6.65" height="10.0" fill="#bfbfc2"/>
<rect x="366.85" y="132" width="7.2" height="10.0" fill="#bfbfc2"/>
<rect x="375.75" y="132" width="6.7" height="10.0" fill="#68a83c"/>
<rect x="384.15" y="132" width="6.9" height="10.0" fill="#bfbfc2"/>
<rect x="392.75" y="132" width="7" height="10.0" fill="#bfbfc2"/>
<rect x="401.45" y="132" width="7" height="10.0" fill="#bfbfc2"/>
<rect x="410.15" y="132" width="7" height="10.0" fill="#bfbfc2"/>
<rect x="418.85" y="132" width="6.6" height="10.0" fill="#bfbfc2"/>
<rect x="427.15" y="132" width="7" height="10.0" fill="#bfbfc2"/>
<rect x="435.85" y="132" width="6.7" height="10.0" fill="#bfbfc2"/>
<rect x="444.25" y="132" width="6.8" height="10.0" fill="#bfbfc2"/>
<rect x="452.75" y="132" width="6.9" height="10.0" fill="#bfbfc2"/>
<rect x="461.35" y="132" width="7" height="10.0" fill="#bfbfc2"/>
<rect x="470.05" y="132" width="7.1" height="10.0" fill="#bfbfc2"/>
<rect x="478.85" y="132" width="6.9" height="10.0" fill="#bfbfc2"/>
<rect x="487.45" y="132" width="6.6" height="10.0" fill="#bfbfc2"/>
<rect x="495.75" y="132" width="6.9" height="10.0" fill="#bfbfc2"/>
<rect x="504.35" y="132" width="6.65" height="10.0" fill="#bfbfc2"/>
<rect x="125.2" y="143.8" width="6.55" height="10.0" fill="#f4f4f5"/>
<rect x="133.45" y="143.8" width="6.8" height="10.0" fill="#f4f4f5"/>
<rect x="141.95" y="143.8" width="6.8" height="10.0" fill="#f4f4f5"/>
<rect x="150.45" y="143.8" width="6.9" height="10.0" fill="#f4f4f5"/>
<rect x="159.05" y="143.8" width="6.9" height="10.0" fill="#f4f4f5"/>
<rect x="167.65" y="143.8" width="7.1" height="10.0" fill="#f4f4f5"/>
<rect x="176.45" y="143.8" width="7.2" height="10.0" fill="#f4f4f5"/>
<rect x="185.35" y="143.8" width="6.6" height="10.0" fill="#f4f4f5"/>
<rect x="193.65" y="143.8" width="7.2" height="10.0" fill="#f4f4f5"/>
<rect x="202.55" y="143.8" width="7" height="10.0" fill="#f4f4f5"/>
<rect x="211.25" y="143.8" width="6.8" height="10.0" fill="#68a83c"/>
<rect x="219.75" y="143.8" width="7" height="10.0" fill="#68a83c"/>
<rect x="228.45" y="143.8" width="6.6" height="10.0" fill="#f4f4f5"/>
<rect x="236.75" y="143.8" width="6.7" height="10.0" fill="#f4f4f5"/>
<rect x="245.15" y="143.8" width="7.2" height="10.0" fill="#f4f4f5"/>
<rect x="254.05" y="143.8" width="6.7" height="10.0" fill="#f4f4f5"/>
<rect x="262.45" y="143.8" width="6.8" height="10.0" fill="#f4f4f5"/>
<rect x="270.95" y="143.8" width="6.7" height="10.0" fill="#f4f4f5"/>
<rect x="279.35" y="143.8" width="7" height="10.0" fill="#f4f4f5"/>
<rect x="288.05" y="143.8" width="6.9" height="10.0" fill="#f4f4f5"/>
<rect x="296.65" y="143.8" width="6.7" height="10.0" fill="#f4f4f5"/>
<rect x="305.05" y="143.8" width="7" height="10.0" fill="#f4f4f5"/>
<rect x="313.75" y="143.8" width="7.8" height="10.0" fill="#f4f4f5"/>
<rect x="323.25" y="143.8" width="8" height="10.0" fill="#f4f4f5"/>
<rect x="332.95" y="143.8" width="6.9" height="10.0" fill="#f4f4f5"/>
<rect x="341.55" y="143.8" width="6.9" height="10.0" fill="#f4f4f5"/>
<rect x="350.15" y="143.8" width="6.75" height="10.0" fill="#f4f4f5"/>
<rect x="358.5" y="143.8" width="6.65" height="10.0" fill="#f4f4f5"/>
<rect x="366.85" y="143.8" width="7.2" height="10.0" fill="#f4f4f5"/>
<rect x="375.75" y="143.8" width="6.7" height="10.0" fill="#f4f4f5"/>
<rect x="384.15" y="143.8" width="6.9" height="10.0" fill="#f4f4f5"/>
<rect x="392.75" y="143.8" width="7" height="10.0" fill="#f4f4f5"/>
<rect x="401.45" y="143.8" width="7" height="10.0" fill="#f4f4f5"/>
<rect x="410.15" y="143.8" width="7" height="10.0" fill="#f4f4f5"/>
<rect x="418.85" y="143.8" width="6.6" height="10.0" fill="#f4f4f5"/>
<rect x="427.15" y="143.8" width="7" height="10.0" fill="#f4f4f5"/>
<rect x="435.85" y="143.8" width="6.7" height="10.0" fill="#f4f4f5"/>
<rect x="444.25" y="143.8" width="6.8" height="10.0" fill="#f4f4f5"/>
<rect x="452.75" y="143.8" width="6.9" height="10.0" fill="#f4f4f5"/>
<rect x="461.35" y="143.8" width="7" height="10.0" fill="#f4f4f5"/>
<rect x="470.05" y="143.8" width="7.1" height="10.0" fill="#f4f4f5"/>
<rect x="478.85" y="143.8" width="6.9" height="10.0" fill="#68a83c"/>
<rect x="487.45" y="143.8" width="6.6" height="10.0" fill="#f4f4f5"/>
<rect x="495.75" y="143.8" width="6.9" height="10.0" fill="#f4f4f5"/>
<rect x="504.35" y="143.8" width="6.65" height="10.0" fill="#f4f4f5"/>
<rect x="125.2" y="155.5" width="6.55" height="10.0" fill="#68a83c"/>
<rect x="133.45" y="155.5" width="6.8" height="10.0" fill="#68a83c"/>
<rect x="141.95" y="155.5" width="6.8" height="10.0" fill="#f4f4f5"/>
<rect x="150.45" y="155.5" width="6.9" height="10.0" fill="#f4f4f5"/>
<rect x="159.05" y="155.5" width="6.9" height="10.0" fill="#f4f4f5"/>
<rect x="167.65" y="155.5" width="7.1" height="10.0" fill="#f4f4f5"/>
<rect x="176.45" y="155.5" width="7.2" height="10.0" fill="#f4f4f5"/>
<rect x="185.35" y="155.5" width="6.6" height="10.0" fill="#f4f4f5"/>
<rect x="193.65" y="155.5" width="7.2" height="10.0" fill="#f4f4f5"/>
<rect x="202.55" y="155.5" width="7" height="10.0" fill="#68a83c"/>
<rect x="211.25" y="155.5" width="6.8" height="10.0" fill="#f4f4f5"/>
<rect x="219.75" y="155.5" width="7" height="10.0" fill="#f4f4f5"/>
<rect x="228.45" y="155.5" width="6.6" height="10.0" fill="#68a83c"/>
<rect x="236.75" y="155.5" width="6.7" height="10.0" fill="#68a83c"/>
<rect x="245.15" y="155.5" width="7.2" height="10.0" fill="#f4f4f5"/>
<rect x="254.05" y="155.5" width="6.7" height="10.0" fill="#f4f4f5"/>
<rect x="262.45" y="155.5" width="6.8" height="10.0" fill="#f4f4f5"/>
<rect x="270.95" y="155.5" width="6.7" height="10.0" fill="#f4f4f5"/>
<rect x="279.35" y="155.5" width="7" height="10.0" fill="#f4f4f5"/>
<rect x="288.05" y="155.5" width="6.9" height="10.0" fill="#f4f4f5"/>
<rect x="296.65" y="155.5" width="6.7" height="10.0" fill="#f4f4f5"/>
<rect x="305.05" y="155.5" width="7" height="10.0" fill="#f4f4f5"/>
<rect x="313.75" y="155.5" width="7.8" height="10.0" fill="#f4f4f5"/>
<rect x="323.25" y="155.5" width="8" height="10.0" fill="#f4f4f5"/>
<rect x="332.95" y="155.5" width="6.9" height="10.0" fill="#f4f4f5"/>
<rect x="341.55" y="155.5" width="6.9" height="10.0" fill="#f4f4f5"/>
<rect x="350.15" y="155.5" width="6.75" height="10.0" fill="#f4f4f5"/>
<rect x="358.5" y="155.5" width="6.65" height="10.0" fill="#f4f4f5"/>
<rect x="366.85" y="155.5" width="7.2" height="10.0" fill="#68a83c"/>
<rect x="375.75" y="155.5" width="6.7" height="10.0" fill="#68a83c"/>
<rect x="384.15" y="155.5" width="6.9" height="10.0" fill="#f4f4f5"/>
<rect x="392.75" y="155.5" width="7" height="10.0" fill="#f4f4f5"/>
<rect x="401.45" y="155.5" width="7" height="10.0" fill="#fdfdfd"/>
<rect x="410.15" y="155.5" width="7" height="10.0" fill="#fdfdfd"/>
<rect x="418.85" y="155.5" width="6.6" height="10.0" fill="#fdfdfd"/>
<rect x="427.15" y="155.5" width="7" height="10.0" fill="#68a83c"/>
<rect x="435.85" y="155.5" width="6.7" height="10.0" fill="#f4f4f5"/>
<rect x="444.25" y="155.5" width="6.8" height="10.0" fill="#f4f4f5"/>
<rect x="452.75" y="155.5" width="6.9" height="10.0" fill="#f4f4f5"/>
<rect x="461.35" y="155.5" width="7" height="10.0" fill="#f4f4f5"/>
<rect x="470.05" y="155.5" width="7.1" height="10.0" fill="#f4f4f5"/>
<rect x="478.85" y="155.5" width="6.9" height="10.0" fill="#68a83c"/>
<rect x="487.45" y="155.5" width="6.6" height="10.0" fill="#f4f4f5"/>
<rect x="495.75" y="155.5" width="6.9" height="10.0" fill="#f4f4f5"/>
<rect x="504.35" y="155.5" width="6.65" height="10.0" fill="#f4f4f5"/>
<rect x="125.2" y="167.5" width="6.55" height="10.0" fill="#f4f4f5"/>
<rect x="133.45" y="167.5" width="6.8" height="10.0" fill="#f4f4f5"/>
<rect x="141.95" y="167.5" width="6.8" height="10.0" fill="#f4f4f5"/>
<rect x="150.45" y="167.5" width="6.9" height="10.0" fill="#f4f4f5"/>
<rect x="159.05" y="167.5" width="6.9" height="10.0" fill="#f4f4f5"/>
<rect x="167.65" y="167.5" width="7.1" height="10.0" fill="#f4f4f5"/>
<rect x="176.45" y="167.5" width="7.2" height="10.0" fill="#f4f4f5"/>
<rect x="185.35" y="167.5" width="6.6" height="10.0" fill="#f4f4f5"/>
<rect x="193.65" y="167.5" width="7.2" height="10.0" fill="#f4f4f5"/>
<rect x="202.55" y="167.5" width="7" height="10.0" fill="#f4f4f5"/>
<rect x="211.25" y="167.5" width="6.8" height="10.0" fill="#f4f4f5"/>
<rect x="219.75" y="167.5" width="7" height="10.0" fill="#f4f4f5"/>
<rect x="228.45" y="167.5" width="6.6" height="10.0" fill="#f4f4f5"/>
<rect x="236.75" y="167.5" width="6.7" height="10.0" fill="#f4f4f5"/>
<rect x="245.15" y="167.5" width="7.2" height="10.0" fill="#f4f4f5"/>
<rect x="254.05" y="167.5" width="6.7" height="10.0" fill="#f4f4f5"/>
<rect x="262.45" y="167.5" width="6.8" height="10.0" fill="#f4f4f5"/>
<rect x="270.95" y="167.5" width="6.7" height="10.0" fill="#f4f4f5"/>
<rect x="279.35" y="167.5" width="7" height="10.0" fill="#f4f4f5"/>
<rect x="288.05" y="167.5" width="6.9" height="10.0" fill="#f4f4f5"/>
<rect x="296.65" y="167.5" width="6.7" height="10.0" fill="#f4f4f5"/>
<rect x="305.05" y="167.5" width="7" height="10.0" fill="#f4f4f5"/>
<rect x="313.75" y="167.5" width="7.8" height="10.0" fill="#f4f4f5"/>
<rect x="323.25" y="167.5" width="8" height="10.0" fill="#f4f4f5"/>
<rect x="332.95" y="167.5" width="6.9" height="10.0" fill="#f4f4f5"/>
<rect x="341.55" y="167.5" width="6.9" height="10.0" fill="#f4f4f5"/>
<rect x="350.15" y="167.5" width="6.75" height="10.0" fill="#f4f4f5"/>
<rect x="358.5" y="167.5" width="6.65" height="10.0" fill="#f4f4f5"/>
<rect x="366.85" y="167.5" width="7.2" height="10.0" fill="#68a83c"/>
<rect x="375.75" y="167.5" width="6.7" height="10.0" fill="#f4f4f5"/>
<rect x="384.15" y="167.5" width="6.9" height="10.0" fill="#f4f4f5"/>
<rect x="392.75" y="167.5" width="7" height="10.0" fill="#f4f4f5"/>
<rect x="401.45" y="167.5" width="7" height="10.0" fill="#68a83c"/>
<rect x="410.15" y="167.5" width="7" height="10.0" fill="#68a83c"/>
<rect x="418.85" y="167.5" width="6.6" height="10.0" fill="#f4f4f5"/>
<rect x="427.15" y="167.5" width="7" height="10.0" fill="#f4f4f5"/>
<rect x="435.85" y="167.5" width="6.7" height="10.0" fill="#f4f4f5"/>
<rect x="444.25" y="167.5" width="6.8" height="10.0" fill="#f4f4f5"/>
<rect x="452.75" y="167.5" width="6.9" height="10.0" fill="#f4f4f5"/>
<rect x="461.35" y="167.5" width="7" height="10.0" fill="#f4f4f5"/>
<rect x="470.05" y="167.5" width="7.1" height="10.0" fill="#f4f4f5"/>
<rect x="478.85" y="167.5" width="6.9" height="10.0" fill="#f4f4f5"/>
<rect x="487.45" y="167.5" width="6.6" height="10.0" fill="#f4f4f5"/>
<rect x="495.75" y="167.5" width="6.9" height="10.0" fill="#f4f4f5"/>
<rect x="504.35" y="167.5" width="6.65" height="10.0" fill="#f4f4f5"/>
<rect x="125.2" y="179.3" width="6.55" height="10.0" fill="#bfbfc2"/>
<rect x="133.45" y="179.3" width="6.8" height="10.0" fill="#bfbfc2"/>
<rect x="141.95" y="179.3" width="6.8" height="10.0" fill="#bfbfc2"/>
<rect x="150.45" y="179.3" width="6.9" height="10.0" fill="#bfbfc2"/>
<rect x="159.05" y="179.3" width="6.9" height="10.0" fill="#bfbfc2"/>
<rect x="167.65" y="179.3" width="7.1" height="10.0" fill="#bfbfc2"/>
<rect x="176.45" y="179.3" width="7.2" height="10.0" fill="#bfbfc2"/>
<rect x="185.35" y="179.3" width="6.6" height="10.0" fill="#bfbfc2"/>
<rect x="193.65" y="179.3" width="7.2" height="10.0" fill="#bfbfc2"/>
<rect x="202.55" y="179.3" width="7" height="10.0" fill="#bfbfc2"/>
<rect x="211.25" y="179.3" width="6.8" height="10.0" fill="#bfbfc2"/>
<rect x="219.75" y="179.3" width="7" height="10.0" fill="#bfbfc2"/>
<rect x="228.45" y="179.3" width="6.6" height="10.0" fill="#bfbfc2"/>
<rect x="236.75" y="179.3" width="6.7" height="10.0" fill="#bfbfc2"/>
<rect x="245.15" y="179.3" width="7.2" height="10.0" fill="#bfbfc2"/>
<rect x="254.05" y="179.3" width="6.7" height="10.0" fill="#bfbfc2"/>
<rect x="262.45" y="179.3" width="6.8" height="10.0" fill="#bfbfc2"/>
<rect x="270.95" y="179.3" width="6.7" height="10.0" fill="#bfbfc2"/>
<rect x="279.35" y="179.3" width="7" height="10.0" fill="#bfbfc2"/>
<rect x="288.05" y="179.3" width="6.9" height="10.0" fill="#bfbfc2"/>
<rect x="296.65" y="179.3" width="6.7" height="10.0" fill="#bfbfc2"/>
<rect x="305.05" y="179.3" width="7" height="10.0" fill="#bfbfc2"/>
<rect x="313.75" y="179.3" width="7.8" height="10.0" fill="#bfbfc2"/>
<rect x="323.25" y="179.3" width="8" height="10.0" fill="#bfbfc2"/>
<rect x="332.95" y="179.3" width="6.9" height="10.0" fill="#bfbfc2"/>
<rect x="341.55" y="179.3" width="6.9" height="10.0" fill="#bfbfc2"/>
<rect x="350.15" y="179.3" width="6.75" height="10.0" fill="#bfbfc2"/>
<rect x="358.5" y="179.3" width="6.65" height="10.0" fill="#bfbfc2"/>
<rect x="366.85" y="179.3" width="7.2" height="10.0" fill="#68a83c"/>
<rect x="375.75" y="179.3" width="6.7" height="10.0" fill="#bfbfc2"/>
<rect x="384.15" y="179.3" width="6.9" height="10.0" fill="#bfbfc2"/>
<rect x="392.75" y="179.3" width="7" height="10.0" fill="#bfbfc2"/>
<rect x="401.45" y="179.3" width="7" height="10.0" fill="#bfbfc2"/>
<rect x="410.15" y="179.3" width="7" height="10.0" fill="#bfbfc2"/>
<rect x="418.85" y="179.3" width="6.6" height="10.0" fill="#bfbfc2"/>
<rect x="427.15" y="179.3" width="7" height="10.0" fill="#bfbfc2"/>
<rect x="435.85" y="179.3" width="6.7" height="10.0" fill="#68a83c"/>
<rect x="444.25" y="179.3" width="6.8" height="10.0" fill="#68a83c"/>
<rect x="452.75" y="179.3" width="6.9" height="10.0" fill="#68a83c"/>
<rect x="461.35" y="179.3" width="7" height="10.0" fill="#bfbfc2"/>
<rect x="470.05" y="179.3" width="7.1" height="10.0" fill="#bfbfc2"/>
<rect x="478.85" y="179.3" width="6.9" height="10.0" fill="#bfbfc2"/>
<rect x="487.45" y="179.3" width="6.6" height="10.0" fill="#bfbfc2"/>
<rect x="495.75" y="179.3" width="6.9" height="10.0" fill="#bfbfc2"/>
<rect x="504.35" y="179.3" width="6.65" height="10.0" fill="#bfbfc2"/>
<rect x="125.2" y="191.8" width="6.55" height="10.0" fill="#bfbfc2"/>
<rect x="133.45" y="191.8" width="6.8" height="10.0" fill="#bfbfc2"/>
<rect x="141.95" y="191.8" width="6.8" height="10.0" fill="#bfbfc2"/>
<rect x="150.45" y="191.8" width="6.9" height="10.0" fill="#bfbfc2"/>
<rect x="159.05" y="191.8" width="6.9" height="10.0" fill="#bfbfc2"/>
<rect x="167.65" y="191.8" width="7.1" height="10.0" fill="#bfbfc2"/>
<rect x="176.45" y="191.8" width="7.2" height="10.0" fill="#bfbfc2"/>
<rect x="185.35" y="191.8" width="6.6" height="10.0" fill="#bfbfc2"/>
<rect x="193.65" y="191.8" width="7.2" height="10.0" fill="#bfbfc2"/>
<rect x="202.55" y="191.8" width="7" height="10.0" fill="#bfbfc2"/>
<rect x="211.25" y="191.8" width="6.8" height="10.0" fill="#bfbfc2"/>
<rect x="219.75" y="191.8" width="7" height="10.0" fill="#bfbfc2"/>
<rect x="228.45" y="191.8" width="6.6" height="10.0" fill="#bfbfc2"/>
<rect x="236.75" y="191.8" width="6.7" height="10.0" fill="#bfbfc2"/>
<rect x="245.15" y="191.8" width="7.2" height="10.0" fill="#bfbfc2"/>
<rect x="254.05" y="191.8" width="6.7" height="10.0" fill="#bfbfc2"/>
<rect x="262.45" y="191.8" width="6.8" height="10.0" fill="#bfbfc2"/>
<rect x="270.95" y="191.8" width="6.7" height="10.0" fill="#bfbfc2"/>
<rect x="279.35" y="191.8" width="7" height="10.0" fill="#bfbfc2"/>
<rect x="288.05" y="191.8" width="6.9" height="10.0" fill="#bfbfc2"/>
<rect x="296.65" y="191.8" width="6.7" height="10.0" fill="#bfbfc2"/>
<rect x="305.05" y="191.8" width="7" height="10.0" fill="#bfbfc2"/>
<rect x="313.75" y="191.8" width="7.8" height="10.0" fill="#bfbfc2"/>
<rect x="323.25" y="191.8" width="8" height="10.0" fill="#bfbfc2"/>
<rect x="332.95" y="191.8" width="6.9" height="10.0" fill="#bfbfc2"/>
<rect x="341.55" y="191.8" width="6.9" height="10.0" fill="#bfbfc2"/>
<rect x="350.15" y="191.8" width="6.75" height="10.0" fill="#bfbfc2"/>
<rect x="358.5" y="191.8" width="6.65" height="10.0" fill="#bfbfc2"/>
<rect x="366.85" y="191.8" width="7.2" height="10.0" fill="#bfbfc2"/>
<rect x="375.75" y="191.8" width="6.7" height="10.0" fill="#bfbfc2"/>
<rect x="384.15" y="191.8" width="6.9" height="10.0" fill="#bfbfc2"/>
<rect x="392.75" y="191.8" width="7" height="10.0" fill="#bfbfc2"/>
<rect x="401.45" y="191.8" width="7" height="10.0" fill="#bfbfc2"/>
<rect x="410.15" y="191.8" width="7" height="10.0" fill="#bfbfc2"/>
<rect x="418.85" y="191.8" width="6.6" height="10.0" fill="#68a83c"/>
<rect x="427.15" y="191.8" width="7" height="10.0" fill="#bfbfc2"/>
<rect x="435.85" y="191.8" width="6.7" height="10.0" fill="#68a83c"/>
<rect x="444.25" y="191.8" width="6.8" height="10.0" fill="#bfbfc2"/>
<rect x="452.75" y="191.8" width="6.9" height="10.0" fill="#bfbfc2"/>
<rect x="461.35" y="191.8" width="7" height="10.0" fill="#bfbfc2"/>
<rect x="470.05" y="191.8" width="7.1" height="10.0" fill="#bfbfc2"/>
<rect x="478.85" y="191.8" width="6.9" height="10.0" fill="#bfbfc2"/>
<rect x="487.45" y="191.8" width="6.6" height="10.0" fill="#bfbfc2"/>
<rect x="495.75" y="191.8" width="6.9" height="10.0" fill="#bfbfc2"/>
<rect x="504.35" y="191.8" width="6.65" height="10.0" fill="#bfbfc2"/>
<rect x="125.2" y="203.8" width="6.55" height="10.0" fill="#f4f4f5"/>
<rect x="133.45" y="203.8" width="6.8" height="10.0" fill="#f4f4f5"/>
<rect x="141.95" y="203.8" width="6.8" height="10.0" fill="#f4f4f5"/>
<rect x="150.45" y="203.8" width="6.9" height="10.0" fill="#f4f4f5"/>
<rect x="159.05" y="203.8" width="6.9" height="10.0" fill="#f4f4f5"/>
<rect x="167.65" y="203.8" width="7.1" height="10.0" fill="#f4f4f5"/>
<rect x="176.45" y="203.8" width="7.2" height="10.0" fill="#f4f4f5"/>
<rect x="185.35" y="203.8" width="6.6" height="10.0" fill="#f4f4f5"/>
<rect x="193.65" y="203.8" width="7.2" height="10.0" fill="#f4f4f5"/>
<rect x="202.55" y="203.8" width="7" height="10.0" fill="#f4f4f5"/>
<rect x="211.25" y="203.8" width="6.8" height="10.0" fill="#f4f4f5"/>
<rect x="219.75" y="203.8" width="7" height="10.0" fill="#f4f4f5"/>
<rect x="228.45" y="203.8" width="6.6" height="10.0" fill="#f4f4f5"/>
<rect x="236.75" y="203.8" width="6.7" height="10.0" fill="#f4f4f5"/>
<rect x="245.15" y="203.8" width="7.2" height="10.0" fill="#f4f4f5"/>
<rect x="254.05" y="203.8" width="6.7" height="10.0" fill="#f4f4f5"/>
<rect x="262.45" y="203.8" width="6.8" height="10.0" fill="#f4f4f5"/>
<rect x="270.95" y="203.8" width="6.7" height="10.0" fill="#f4f4f5"/>
<rect x="279.35" y="203.8" width="7" height="10.0" fill="#f4f4f5"/>
<rect x="288.05" y="203.8" width="6.9" height="10.0" fill="#f4f4f5"/>
<rect x="296.65" y="203.8" width="6.7" height="10.0" fill="#f4f4f5"/>
<rect x="305.05" y="203.8" width="7" height="10.0" fill="#f4f4f5"/>
<rect x="313.75" y="203.8" width="7.8" height="10.0" fill="#f4f4f5"/>
<rect x="323.25" y="203.8" width="8" height="10.0" fill="#f4f4f5"/>
<rect x="332.95" y="203.8" width="6.9" height="10.0" fill="#f4f4f5"/>
<rect x="341.55" y="203.8" width="6.9" height="10.0" fill="#68a83c"/>
<rect x="350.15" y="203.8" width="6.75" height="10.0" fill="#f4f4f5"/>
<rect x="358.5" y="203.8" width="6.65" height="10.0" fill="#f4f4f5"/>
<rect x="366.85" y="203.8" width="7.2" height="10.0" fill="#f4f4f5"/>
<rect x="375.75" y="203.8" width="6.7" height="10.0" fill="#f4f4f5"/>
<rect x="384.15" y="203.8" width="6.9" height="10.0" fill="#68a83c"/>
<rect x="392.75" y="203.8" width="7" height="10.0" fill="#68a83c"/>
<rect x="401.45" y="203.8" width="7" height="10.0" fill="#f4f4f5"/>
<rect x="410.15" y="203.8" width="7" height="10.0" fill="#f4f4f5"/>
<rect x="418.85" y="203.8" width="6.6" height="10.0" fill="#f4f4f5"/>
<rect x="427.15" y="203.8" width="7" height="10.0" fill="#f4f4f5"/>
<rect x="435.85" y="203.8" width="6.7" height="10.0" fill="#f4f4f5"/>
<rect x="444.25" y="203.8" width="6.8" height="10.0" fill="#f4f4f5"/>
<rect x="452.75" y="203.8" width="6.9" height="10.0" fill="#f4f4f5"/>
<rect x="461.35" y="203.8" width="7" height="10.0" fill="#68a83c"/>
<rect x="470.05" y="203.8" width="7.1" height="10.0" fill="#f4f4f5"/>
<rect x="478.85" y="203.8" width="6.9" height="10.0" fill="#f4f4f5"/>
<rect x="487.45" y="203.8" width="6.6" height="10.0" fill="#f4f4f5"/>
<rect x="495.75" y="203.8" width="6.9" height="10.0" fill="#f4f4f5"/>
<rect x="504.35" y="203.8" width="6.65" height="10.0" fill="#f4f4f5"/>
<rect x="125.2" y="215.8" width="6.55" height="10.0" fill="#f4f4f5"/>
<rect x="133.45" y="215.8" width="6.8" height="10.0" fill="#f4f4f5"/>
<rect x="141.95" y="215.8" width="6.8" height="10.0" fill="#f4f4f5"/>
<rect x="150.45" y="215.8" width="6.9" height="10.0" fill="#f4f4f5"/>
<rect x="159.05" y="215.8" width="6.9" height="10.0" fill="#f4f4f5"/>
<rect x="167.65" y="215.8" width="7.1" height="10.0" fill="#f4f4f5"/>
<rect x="176.45" y="215.8" width="7.2" height="10.0" fill="#f4f4f5"/>
<rect x="185.35" y="215.8" width="6.6" height="10.0" fill="#f4f4f5"/>
<rect x="193.65" y="215.8" width="7.2" height="10.0" fill="#f4f4f5"/>
<rect x="202.55" y="215.8" width="7" height="10.0" fill="#f4f4f5"/>
<rect x="211.25" y="215.8" width="6.8" height="10.0" fill="#f4f4f5"/>
<rect x="219.75" y="215.8" width="7" height="10.0" fill="#f4f4f5"/>
<rect x="228.45" y="215.8" width="6.6" height="10.0" fill="#f4f4f5"/>
<rect x="236.75" y="215.8" width="6.7" height="10.0" fill="#f4f4f5"/>
<rect x="245.15" y="215.8" width="7.2" height="10.0" fill="#f4f4f5"/>
<rect x="254.05" y="215.8" width="6.7" height="10.0" fill="#f4f4f5"/>
<rect x="262.45" y="215.8" width="6.8" height="10.0" fill="#f4f4f5"/>
<rect x="270.95" y="215.8" width="6.7" height="10.0" fill="#f4f4f5"/>
<rect x="279.35" y="215.8" width="7" height="10.0" fill="#f4f4f5"/>
<rect x="288.05" y="215.8" width="6.9" height="10.0" fill="#f4f4f5"/>
<rect x="296.65" y="215.8" width="6.7" height="10.0" fill="#f4f4f5"/>
<rect x="305.05" y="215.8" width="7" height="10.0" fill="#f4f4f5"/>
<rect x="313.75" y="215.8" width="7.8" height="10.0" fill="#f4f4f5"/>
<rect x="323.25" y="215.8" width="8" height="10.0" fill="#f4f4f5"/>
<rect x="332.95" y="215.8" width="6.9" height="10.0" fill="#f4f4f5"/>
<rect x="341.55" y="215.8" width="6.9" height="10.0" fill="#f4f4f5"/>
<rect x="350.15" y="215.8" width="6.75" height="10.0" fill="#f4f4f5"/>
<rect x="358.5" y="215.8" width="6.65" height="10.0" fill="#f4f4f5"/>
<rect x="366.85" y="215.8" width="7.2" height="10.0" fill="#f4f4f5"/>
<rect x="375.75" y="215.8" width="6.7" height="10.0" fill="#f4f4f5"/>
<rect x="384.15" y="215.8" width="6.9" height="10.0" fill="#f4f4f5"/>
<rect x="392.75" y="215.8" width="7" height="10.0" fill="#f4f4f5"/>
<rect x="401.45" y="215.8" width="7" height="10.0" fill="#f4f4f5"/>
<rect x="410.15" y="215.8" width="7" height="10.0" fill="#f4f4f5"/>
<rect x="418.85" y="215.8" width="6.6" height="10.0" fill="#f4f4f5"/>
<rect x="427.15" y="215.8" width="7" height="10.0" fill="#68a83c"/>
<rect x="435.85" y="215.8" width="6.7" height="10.0" fill="#f4f4f5"/>
<rect x="444.25" y="215.8" width="6.8" height="10.0" fill="#f4f4f5"/>
<rect x="452.75" y="215.8" width="6.9" height="10.0" fill="#f4f4f5"/>
<rect x="461.35" y="215.8" width="7" height="10.0" fill="#f4f4f5"/>
<rect x="470.05" y="215.8" width="7.1" height="10.0" fill="#f4f4f5"/>
<rect x="478.85" y="215.8" width="6.9" height="10.0" fill="#f4f4f5"/>
<rect x="487.45" y="215.8" width="6.6" height="10.0" fill="#f4f4f5"/>
<rect x="495.75" y="215.8" width="6.9" height="10.0" fill="#f4f4f5"/>
<rect x="504.35" y="215.8" width="6.65" height="10.0" fill="#f4f4f5"/>
<rect x="125.2" y="227.8" width="6.55" height="10.0" fill="#f4f4f5"/>
<rect x="133.45" y="227.8" width="6.8" height="10.0" fill="#f4f4f5"/>
<rect x="141.95" y="227.8" width="6.8" height="10.0" fill="#f4f4f5"/>
<rect x="150.45" y="227.8" width="6.9" height="10.0" fill="#f4f4f5"/>
<rect x="159.05" y="227.8" width="6.9" height="10.0" fill="#f4f4f5"/>
<rect x="167.65" y="227.8" width="7.1" height="10.0" fill="#f4f4f5"/>
<rect x="176.45" y="227.8" width="7.2" height="10.0" fill="#f4f4f5"/>
<rect x="185.35" y="227.8" width="6.6" height="10.0" fill="#f4f4f5"/>
<rect x="193.65" y="227.8" width="7.2" height="10.0" fill="#f4f4f5"/>
<rect x="202.55" y="227.8" width="7" height="10.0" fill="#68a83c"/>
<rect x="211.25" y="227.8" width="6.8" height="10.0" fill="#f4f4f5"/>
<rect x="219.75" y="227.8" width="7" height="10.0" fill="#f4f4f5"/>
<rect x="228.45" y="227.8" width="6.6" height="10.0" fill="#f4f4f5"/>
<rect x="236.75" y="227.8" width="6.7" height="10.0" fill="#f4f4f5"/>
<rect x="245.15" y="227.8" width="7.2" height="10.0" fill="#68a83c"/>
<rect x="254.05" y="227.8" width="6.7" height="10.0" fill="#f4f4f5"/>
<rect x="262.45" y="227.8" width="6.8" height="10.0" fill="#f4f4f5"/>
<rect x="270.95" y="227.8" width="6.7" height="10.0" fill="#f4f4f5"/>
<rect x="279.35" y="227.8" width="7" height="10.0" fill="#f4f4f5"/>
<rect x="288.05" y="227.8" width="6.9" height="10.0" fill="#f4f4f5"/>
<rect x="296.65" y="227.8" width="6.7" height="10.0" fill="#f4f4f5"/>
<rect x="305.05" y="227.8" width="7" height="10.0" fill="#f4f4f5"/>
<rect x="313.75" y="227.8" width="7.8" height="10.0" fill="#f4f4f5"/>
<rect x="323.25" y="227.8" width="8" height="10.0" fill="#f4f4f5"/>
<rect x="332.95" y="227.8" width="6.9" height="10.0" fill="#f4f4f5"/>
<rect x="341.55" y="227.8" width="6.9" height="10.0" fill="#f4f4f5"/>
<rect x="350.15" y="227.8" width="6.75" height="10.0" fill="#f4f4f5"/>
<rect x="358.5" y="227.8" width="6.65" height="10.0" fill="#f4f4f5"/>
<rect x="366.85" y="227.8" width="7.2" height="10.0" fill="#f4f4f5"/>
<rect x="375.75" y="227.8" width="6.7" height="10.0" fill="#f4f4f5"/>
<rect x="384.15" y="227.8" width="6.9" height="10.0" fill="#f4f4f5"/>
<rect x="392.75" y="227.8" width="7" height="10.0" fill="#f4f4f5"/>
<rect x="401.45" y="227.8" width="7" height="10.0" fill="#f4f4f5"/>
<rect x="410.15" y="227.8" width="7" height="10.0" fill="#f4f4f5"/>
<rect x="418.85" y="227.8" width="6.6" height="10.0" fill="#f4f4f5"/>
<rect x="427.15" y="227.8" width="7" height="10.0" fill="#f4f4f5"/>
<rect x="435.85" y="227.8" width="6.7" height="10.0" fill="#f4f4f5"/>
<rect x="444.25" y="227.8" width="6.8" height="10.0" fill="#f4f4f5"/>
<rect x="452.75" y="227.8" width="6.9" height="10.0" fill="#f4f4f5"/>
<rect x="461.35" y="227.8" width="7" height="10.0" fill="#f4f4f5"/>
<rect x="470.05" y="227.8" width="7.1" height="10.0" fill="#f4f4f5"/>
<rect x="478.85" y="227.8" width="6.9" height="10.0" fill="#f4f4f5"/>
<rect x="487.45" y="227.8" width="6.6" height="10.0" fill="#f4f4f5"/>
<rect x="495.75" y="227.8" width="6.9" height="10.0" fill="#f4f4f5"/>
<rect x="504.35" y="227.8" width="6.65" height="10.0" fill="#f4f4f5"/>
<rect x="125.2" y="239.8" width="6.55" height="10.0" fill="#bfbfc2"/>
<rect x="133.45" y="239.8" width="6.8" height="10.0" fill="#bfbfc2"/>
<rect x="141.95" y="239.8" width="6.8" height="10.0" fill="#bfbfc2"/>
<rect x="150.45" y="239.8" width="6.9" height="10.0" fill="#bfbfc2"/>
<rect x="159.05" y="239.8" width="6.9" height="10.0" fill="#bfbfc2"/>
<rect x="167.65" y="239.8" width="7.1" height="10.0" fill="#bfbfc2"/>
<rect x="176.45" y="239.8" width="7.2" height="10.0" fill="#bfbfc2"/>
<rect x="185.35" y="239.8" width="6.6" height="10.0" fill="#bfbfc2"/>
<rect x="193.65" y="239.8" width="7.2" height="10.0" fill="#bfbfc2"/>
<rect x="202.55" y="239.8" width="7" height="10.0" fill="#bfbfc2"/>
<rect x="211.25" y="239.8" width="6.8" height="10.0" fill="#bfbfc2"/>
<rect x="219.75" y="239.8" width="7" height="10.0" fill="#bfbfc2"/>
<rect x="228.45" y="239.8" width="6.6" height="10.0" fill="#bfbfc2"/>
<rect x="236.75" y="239.8" width="6.7" height="10.0" fill="#bfbfc2"/>
<rect x="245.15" y="239.8" width="7.2" height="10.0" fill="#bfbfc2"/>
<rect x="254.05" y="239.8" width="6.7" height="10.0" fill="#bfbfc2"/>
<rect x="262.45" y="239.8" width="6.8" height="10.0" fill="#bfbfc2"/>
<rect x="270.95" y="239.8" width="6.7" height="10.0" fill="#bfbfc2"/>
<rect x="279.35" y="239.8" width="7" height="10.0" fill="#bfbfc2"/>
<rect x="288.05" y="239.8" width="6.9" height="10.0" fill="#bfbfc2"/>
<rect x="296.65" y="239.8" width="6.7" height="10.0" fill="#bfbfc2"/>
<rect x="305.05" y="239.8" width="7" height="10.0" fill="#bfbfc2"/>
<rect x="313.75" y="239.8" width="7.8" height="10.0" fill="#bfbfc2"/>
<rect x="323.25" y="239.8" width="8" height="10.0" fill="#bfbfc2"/>
<rect x="332.95" y="239.8" width="6.9" height="10.0" fill="#bfbfc2"/>
<rect x="341.55" y="239.8" width="6.9" height="10.0" fill="#bfbfc2"/>
<rect x="350.15" y="239.8" width="6.75" height="10.0" fill="#bfbfc2"/>
<rect x="358.5" y="239.8" width="6.65" height="10.0" fill="#bfbfc2"/>
<rect x="366.85" y="239.8" width="7.2" height="10.0" fill="#68a83c"/>
<rect x="375.75" y="239.8" width="6.7" height="10.0" fill="#bfbfc2"/>
<rect x="384.15" y="239.8" width="6.9" height="10.0" fill="#bfbfc2"/>
<rect x="392.75" y="239.8" width="7" height="10.0" fill="#bfbfc2"/>
<rect x="401.45" y="239.8" width="7" height="10.0" fill="#bfbfc2"/>
<rect x="410.15" y="239.8" width="7" height="10.0" fill="#bfbfc2"/>
<rect x="418.85" y="239.8" width="6.6" height="10.0" fill="#bfbfc2"/>
<rect x="427.15" y="239.8" width="7" height="10.0" fill="#bfbfc2"/>
<rect x="435.85" y="239.8" width="6.7" height="10.0" fill="#bfbfc2"/>
<rect x="444.25" y="239.8" width="6.8" height="10.0" fill="#68a83c"/>
<rect x="452.75" y="239.8" width="6.9" height="10.0" fill="#bfbfc2"/>
<rect x="461.35" y="239.8" width="7" height="10.0" fill="#bfbfc2"/>
<rect x="470.05" y="239.8" width="7.1" height="10.0" fill="#bfbfc2"/>
<rect x="478.85" y="239.8" width="6.9" height="10.0" fill="#bfbfc2"/>
<rect x="487.45" y="239.8" width="6.6" height="10.0" fill="#bfbfc2"/>
<rect x="495.75" y="239.8" width="6.9" height="10.0" fill="#bfbfc2"/>
<rect x="504.35" y="239.8" width="6.65" height="10.0" fill="#bfbfc2"/>
<rect x="125.2" y="251.8" width="6.55" height="10.0" fill="#bfbfc2"/>
<rect x="133.45" y="251.8" width="6.8" height="10.0" fill="#bfbfc2"/>
<rect x="141.95" y="251.8" width="6.8" height="10.0" fill="#bfbfc2"/>
<rect x="150.45" y="251.8" width="6.9" height="10.0" fill="#bfbfc2"/>
<rect x="159.05" y="251.8" width="6.9" height="10.0" fill="#bfbfc2"/>
<rect x="167.65" y="251.8" width="7.1" height="10.0" fill="#bfbfc2"/>
<rect x="176.45" y="251.8" width="7.2" height="10.0" fill="#bfbfc2"/>
<rect x="185.35" y="251.8" width="6.6" height="10.0" fill="#bfbfc2"/>
<rect x="193.65" y="251.8" width="7.2" height="10.0" fill="#bfbfc2"/>
<rect x="202.55" y="251.8" width="7" height="10.0" fill="#bfbfc2"/>
<rect x="211.25" y="251.8" width="6.8" height="10.0" fill="#bfbfc2"/>
<rect x="219.75" y="251.8" width="7" height="10.0" fill="#bfbfc2"/>
<rect x="228.45" y="251.8" width="6.6" height="10.0" fill="#bfbfc2"/>
<rect x="236.75" y="251.8" width="6.7" height="10.0" fill="#bfbfc2"/>
<rect x="245.15" y="251.8" width="7.2" height="10.0" fill="#bfbfc2"/>
<rect x="254.05" y="251.8" width="6.7" height="10.0" fill="#bfbfc2"/>
<rect x="262.45" y="251.8" width="6.8" height="10.0" fill="#bfbfc2"/>
<rect x="270.95" y="251.8" width="6.7" height="10.0" fill="#bfbfc2"/>
<rect x="279.35" y="251.8" width="7" height="10.0" fill="#bfbfc2"/>
<rect x="288.05" y="251.8" width="6.9" height="10.0" fill="#bfbfc2"/>
<rect x="296.65" y="251.8" width="6.7" height="10.0" fill="#bfbfc2"/>
<rect x="305.05" y="251.8" width="7" height="10.0" fill="#bfbfc2"/>
<rect x="313.75" y="251.8" width="7.8" height="10.0" fill="#bfbfc2"/>
<rect x="323.25" y="251.8" width="8" height="10.0" fill="#bfbfc2"/>
<rect x="332.95" y="251.8" width="6.9" height="10.0" fill="#bfbfc2"/>
<rect x="341.55" y="251.8" width="6.9" height="10.0" fill="#bfbfc2"/>
<rect x="350.15" y="251.8" width="6.75" height="10.0" fill="#bfbfc2"/>
<rect x="358.5" y="251.8" width="6.65" height="10.0" fill="#bfbfc2"/>
<rect x="366.85" y="251.8" width="7.2" height="10.0" fill="#bfbfc2"/>
<rect x="375.75" y="251.8" width="6.7" height="10.0" fill="#bfbfc2"/>
<rect x="384.15" y="251.8" width="6.9" height="10.0" fill="#bfbfc2"/>
<rect x="392.75" y="251.8" width="7" height="10.0" fill="#bfbfc2"/>
<rect x="401.45" y="251.8" width="7" height="10.0" fill="#bfbfc2"/>
<rect x="410.15" y="251.8" width="7" height="10.0" fill="#bfbfc2"/>
<rect x="418.85" y="251.8" width="6.6" height="10.0" fill="#bfbfc2"/>
<rect x="427.15" y="251.8" width="7" height="10.0" fill="#bfbfc2"/>
<rect x="435.85" y="251.8" width="6.7" height="10.0" fill="#bfbfc2"/>
<rect x="444.25" y="251.8" width="6.8" height="10.0" fill="#bfbfc2"/>
<rect x="452.75" y="251.8" width="6.9" height="10.0" fill="#bfbfc2"/>
<rect x="461.35" y="251.8" width="7" height="10.0" fill="#bfbfc2"/>
<rect x="470.05" y="251.8" width="7.1" height="10.0" fill="#bfbfc2"/>
<rect x="478.85" y="251.8" width="6.9" height="10.0" fill="#bfbfc2"/>
<rect x="487.45" y="251.8" width="6.6" height="10.0" fill="#68a83c"/>
<rect x="495.75" y="251.8" width="6.9" height="10.0" fill="#bfbfc2"/>
<rect x="504.35" y="251.8" width="6.65" height="10.0" fill="#bfbfc2"/>
<rect x="125.2" y="263.7" width="6.55" height="10.0" fill="#f4f4f5"/>
<rect x="133.45" y="263.7" width="6.8" height="10.0" fill="#f4f4f5"/>
<rect x="141.95" y="263.7" width="6.8" height="10.0" fill="#f4f4f5"/>
<rect x="150.45" y="263.7" width="6.9" height="10.0" fill="#f4f4f5"/>
<rect x="159.05" y="263.7" width="6.9" height="10.0" fill="#f4f4f5"/>
<rect x="167.65" y="263.7" width="7.1" height="10.0" fill="#f4f4f5"/>
<rect x="176.45" y="263.7" width="7.2" height="10.0" fill="#f4f4f5"/>
<rect x="185.35" y="263.7" width="6.6" height="10.0" fill="#f4f4f5"/>
<rect x="193.65" y="263.7" width="7.2" height="10.0" fill="#f4f4f5"/>
<rect x="202.55" y="263.7" width="7" height="10.0" fill="#f4f4f5"/>
<rect x="211.25" y="263.7" width="6.8" height="10.0" fill="#f4f4f5"/>
<rect x="219.75" y="263.7" width="7" height="10.0" fill="#f4f4f5"/>
<rect x="228.45" y="263.7" width="6.6" height="10.0" fill="#f4f4f5"/>
<rect x="236.75" y="263.7" width="6.7" height="10.0" fill="#f4f4f5"/>
<rect x="245.15" y="263.7" width="7.2" height="10.0" fill="#f4f4f5"/>
<rect x="254.05" y="263.7" width="6.7" height="10.0" fill="#f4f4f5"/>
<rect x="262.45" y="263.7" width="6.8" height="10.0" fill="#f4f4f5"/>
<rect x="270.95" y="263.7" width="6.7" height="10.0" fill="#f4f4f5"/>
<rect x="279.35" y="263.7" width="7" height="10.0" fill="#f4f4f5"/>
<rect x="288.05" y="263.7" width="6.9" height="10.0" fill="#f4f4f5"/>
<rect x="296.65" y="263.7" width="6.7" height="10.0" fill="#f4f4f5"/>
<rect x="305.05" y="263.7" width="7" height="10.0" fill="#f4f4f5"/>
<rect x="332.95" y="263.7" width="6.9" height="10.0" fill="#f4f4f5"/>
<rect x="341.55" y="263.7" width="6.9" height="10.0" fill="#f4f4f5"/>
<rect x="350.15" y="263.7" width="6.75" height="10.0" fill="#f4f4f5"/>
<rect x="358.5" y="263.7" width="6.65" height="10.0" fill="#f4f4f5"/>
<rect x="366.85" y="263.7" width="7.2" height="10.0" fill="#f4f4f5"/>
<rect x="384.15" y="263.7" width="6.9" height="10.0" fill="#f4f4f5"/>
<rect x="392.75" y="263.7" width="7" height="10.0" fill="#f4f4f5"/>
<rect x="401.45" y="263.7" width="7" height="10.0" fill="#f4f4f5"/>
<rect x="410.15" y="263.7" width="7" height="10.0" fill="#f4f4f5"/>
<rect x="418.85" y="263.7" width="6.6" height="10.0" fill="#f4f4f5"/>
<rect x="427.15" y="263.7" width="7" height="10.0" fill="#f4f4f5"/>
<rect x="435.85" y="263.7" width="6.7" height="10.0" fill="#f4f4f5"/>
<rect x="452.75" y="263.7" width="6.9" height="10.0" fill="#f4f4f5"/>
<rect x="461.35" y="263.7" width="7" height="10.0" fill="#f4f4f5"/>
<rect x="470.05" y="263.7" width="7.1" height="10.0" fill="#f4f4f5"/>
<rect x="478.85" y="263.7" width="6.9" height="10.0" fill="#f4f4f5"/>
<rect x="487.45" y="263.7" width="6.6" height="10.0" fill="#68a83c"/>
<rect x="495.75" y="263.7" width="6.9" height="10.0" fill="#f4f4f5"/>
<rect x="504.35" y="263.7" width="6.65" height="10.0" fill="#f4f4f5"/>
<rect x="125.2" y="275.9" width="6.55" height="10.0" fill="#f4f4f5"/>
<rect x="133.45" y="275.9" width="6.8" height="10.0" fill="#f4f4f5"/>
<rect x="141.95" y="275.9" width="6.8" height="10.0" fill="#f4f4f5"/>
<rect x="150.45" y="275.9" width="6.9" height="10.0" fill="#f4f4f5"/>
<rect x="159.05" y="275.9" width="6.9" height="10.0" fill="#f4f4f5"/>
<rect x="167.65" y="275.9" width="7.1" height="10.0" fill="#f4f4f5"/>
<rect x="176.45" y="275.9" width="7.2" height="10.0" fill="#f4f4f5"/>
<rect x="185.35" y="275.9" width="6.6" height="10.0" fill="#f4f4f5"/>
<rect x="193.65" y="275.9" width="7.2" height="10.0" fill="#f4f4f5"/>
<rect x="202.55" y="275.9" width="7" height="10.0" fill="#f4f4f5"/>
<rect x="211.25" y="275.9" width="6.8" height="10.0" fill="#f4f4f5"/>
<rect x="219.75" y="275.9" width="7" height="10.0" fill="#f4f4f5"/>
<rect x="228.45" y="275.9" width="6.6" height="10.0" fill="#f4f4f5"/>
<rect x="236.75" y="275.9" width="6.7" height="10.0" fill="#f4f4f5"/>
<rect x="245.15" y="275.9" width="7.2" height="10.0" fill="#68a83c"/>
<rect x="254.05" y="275.9" width="6.7" height="10.0" fill="#f4f4f5"/>
<rect x="262.45" y="275.9" width="6.8" height="10.0" fill="#f4f4f5"/>
<rect x="270.95" y="275.9" width="6.7" height="10.0" fill="#f4f4f5"/>
<rect x="279.35" y="275.9" width="7" height="10.0" fill="#f4f4f5"/>
<rect x="288.05" y="275.9" width="6.9" height="10.0" fill="#f4f4f5"/>
<rect x="296.65" y="275.9" width="6.7" height="10.0" fill="#f4f4f5"/>
<rect x="305.05" y="275.9" width="7" height="10.0" fill="#f4f4f5"/>
<rect x="332.95" y="275.9" width="6.9" height="10.0" fill="#f4f4f5"/>
<rect x="341.55" y="275.9" width="6.9" height="10.0" fill="#f4f4f5"/>
<rect x="350.15" y="275.9" width="6.75" height="10.0" fill="#f4f4f5"/>
<rect x="358.5" y="275.9" width="6.65" height="10.0" fill="#68a83c"/>
<rect x="366.85" y="275.9" width="7.2" height="10.0" fill="#f4f4f5"/>
<rect x="384.15" y="275.9" width="6.9" height="10.0" fill="#f4f4f5"/>
<rect x="392.75" y="275.9" width="7" height="10.0" fill="#68a83c"/>
<rect x="401.45" y="275.9" width="7" height="10.0" fill="#f4f4f5"/>
<rect x="410.15" y="275.9" width="7" height="10.0" fill="#68a83c"/>
<rect x="418.85" y="275.9" width="6.6" height="10.0" fill="#f4f4f5"/>
<rect x="427.15" y="275.9" width="7" height="10.0" fill="#f4f4f5"/>
<rect x="435.85" y="275.9" width="6.7" height="10.0" fill="#f4f4f5"/>
<rect x="452.75" y="275.9" width="6.9" height="10.0" fill="#68a83c"/>
<rect x="461.35" y="275.9" width="7" height="10.0" fill="#f4f4f5"/>
<rect x="470.05" y="275.9" width="7.1" height="10.0" fill="#f4f4f5"/>
<rect x="478.85" y="275.9" width="6.9" height="10.0" fill="#f4f4f5"/>
<rect x="487.45" y="275.9" width="6.6" height="10.0" fill="#f4f4f5"/>
<rect x="495.75" y="275.9" width="6.9" height="10.0" fill="#f4f4f5"/>
<rect x="504.35" y="275.9" width="6.65" height="10.0" fill="#f4f4f5"/>
<rect x="313.35" y="262.7" width="8.6" height="24.2" fill="#000"/>
<rect x="322.85" y="262.7" width="8.8" height="24.2" fill="#000"/>
<rect x="375.35" y="262.7" width="7.5" height="24.2" fill="#000"/>
<rect x="443.85" y="262.7" width="7.6" height="24.2" fill="#000"/>
<rect x="123.2" y="38.1" width="1.7" height="10" fill="#000"/>
<rect x="123.2" y="50.1" width="1.7" height="10" fill="#000"/>
<rect x="123.2" y="62" width="1.7" height="10" fill="#000"/>
<rect x="123.2" y="74.1" width="1.7" height="10" fill="#000"/>
<rect x="123.2" y="85.9" width="1.7" height="10" fill="#000"/>
<rect x="123.2" y="97.1" width="1.7" height="10" fill="#000"/>
<rect x="123.2" y="108.7" width="1.7" height="10" fill="#000"/>
<rect x="123.2" y="120.7" width="1.7" height="10" fill="#000"/>
<rect x="123.2" y="132" width="1.7" height="10" fill="#000"/>
<rect x="123.2" y="143.8" width="1.7" height="10" fill="#000"/>
<rect x="123.2" y="155.5" width="1.7" height="10" fill="#000"/>
<rect x="123.2" y="167.5" width="1.7" height="10" fill="#000"/>
<rect x="123.2" y="179.3" width="1.7" height="10" fill="#000"/>
<rect x="123.2" y="191.8" width="1.7" height="10" fill="#000"/>
<rect x="123.2" y="203.8" width="1.7" height="10" fill="#000"/>
<rect x="123.2" y="215.8" width="1.7" height="10" fill="#000"/>
<rect x="123.2" y="227.8" width="1.7" height="10" fill="#000"/>
<rect x="123.2" y="239.8" width="1.7" height="10" fill="#000"/>
<rect x="123.2" y="251.8" width="1.7" height="10" fill="#000"/>
<rect x="123.2" y="263.7" width="1.7" height="10" fill="#000"/>
<rect x="123.2" y="275.9" width="1.7" height="13.6" fill="#000"/>
<rect x="356.9" y="38.1" width="1.7" height="10" fill="#000"/>
<rect x="356.9" y="50.1" width="1.7" height="10" fill="#000"/>
<rect x="356.9" y="62" width="1.7" height="10" fill="#000"/>
<rect x="356.9" y="74.1" width="1.7" height="10" fill="#000"/>
<rect x="356.9" y="85.9" width="1.7" height="10" fill="#000"/>
<rect x="356.9" y="97.1" width="1.7" height="10" fill="#000"/>
<rect x="356.9" y="108.7" width="1.7" height="10" fill="#000"/>
<rect x="356.9" y="120.7" width="1.7" height="10" fill="#000"/>
<rect x="356.9" y="132" width="1.7" height="10" fill="#000"/>
<rect x="356.9" y="143.8" width="1.7" height="10" fill="#000"/>
<rect x="356.9" y="155.5" width="1.7" height="10" fill="#000"/>
<rect x="356.9" y="167.5" width="1.7" height="10" fill="#000"/>
<rect x="356.9" y="179.3" width="1.7" height="10" fill="#000"/>
<rect x="356.9" y="191.8" width="1.7" height="10" fill="#000"/>
<rect x="356.9" y="203.8" width="1.7" height="10" fill="#000"/>
<rect x="356.9" y="215.8" width="1.7" height="10" fill="#000"/>
<rect x="356.9" y="227.8" width="1.7" height="10" fill="#000"/>
<rect x="356.9" y="239.8" width="1.7" height="10" fill="#000"/>
<rect x="356.9" y="251.8" width="1.7" height="10" fill="#000"/>
<rect x="356.9" y="263.7" width="1.7" height="10" fill="#000"/>
<rect x="356.9" y="275.9" width="1.7" height="13.6" fill="#000"/>
<rect x="124.45" y="291.8" width="8.15" height="10.2" fill="#b80c32"/>
<rect x="124.45" y="303.0" width="8.15" height="10.6" fill="#345384"/>
<rect x="132.6" y="291.8" width="8.5" height="10.2" fill="#b80c32"/>
<rect x="132.6" y="303.0" width="8.5" height="10.6" fill="#345384"/>
<rect x="141.1" y="291.8" width="8.5" height="10.2" fill="#b80c32"/>
<rect x="141.1" y="303.0" width="8.5" height="10.6" fill="#345384"/>
<rect x="149.6" y="291.8" width="8.6" height="10.2" fill="#b80c32"/>
<rect x="149.6" y="303.0" width="8.6" height="10.6" fill="#345384"/>
<rect x="158.2" y="291.8" width="8.6" height="10.2" fill="#b80c32"/>
<rect x="158.2" y="303.0" width="8.6" height="10.6" fill="#345384"/>
<rect x="166.8" y="291.8" width="8.8" height="10.2" fill="#b80c32"/>
<rect x="166.8" y="303.0" width="8.8" height="10.6" fill="#345384"/>
<rect x="175.6" y="291.8" width="8.9" height="10.2" fill="#b80c32"/>
<rect x="175.6" y="303.0" width="8.9" height="10.6" fill="#345384"/>
<rect x="184.5" y="291.8" width="8.3" height="10.2" fill="#b80c32"/>
<rect x="184.5" y="303.0" width="8.3" height="10.6" fill="#345384"/>
<rect x="192.8" y="291.8" width="8.9" height="10.2" fill="#b80c32"/>
<rect x="192.8" y="303.0" width="8.9" height="10.6" fill="#fff"/>
<rect x="201.7" y="291.8" width="8.7" height="10.2" fill="#fff"/>
<rect x="201.7" y="303.0" width="8.7" height="10.6" fill="#345384"/>
<rect x="210.4" y="291.8" width="8.5" height="10.2" fill="#fff"/>
<rect x="210.4" y="303.0" width="8.5" height="10.6" fill="#fff"/>
<rect x="218.9" y="291.8" width="8.7" height="10.2" fill="#fff"/>
<rect x="218.9" y="303.0" width="8.7" height="10.6" fill="#fff"/>
<rect x="227.6" y="291.8" width="8.3" height="10.2" fill="#fff"/>
<rect x="227.6" y="303.0" width="8.3" height="10.6" fill="#fff"/>
<rect x="235.9" y="291.8" width="8.4" height="10.2" fill="#fff"/>
<rect x="235.9" y="303.0" width="8.4" height="10.6" fill="#fff"/>
<rect x="244.3" y="291.8" width="8.9" height="10.2" fill="#fff"/>
<rect x="244.3" y="303.0" width="8.9" height="10.6" fill="#345384"/>
<rect x="253.2" y="291.8" width="8.4" height="10.2" fill="#fff"/>
<rect x="253.2" y="303.0" width="8.4" height="10.6" fill="#fff"/>
<rect x="261.6" y="291.8" width="8.5" height="10.2" fill="#fff"/>
<rect x="261.6" y="303.0" width="8.5" height="10.6" fill="#fff"/>
<rect x="270.1" y="291.8" width="8.4" height="10.2" fill="#fff"/>
<rect x="270.1" y="303.0" width="8.4" height="10.6" fill="#345384"/>
<rect x="278.5" y="291.8" width="8.7" height="10.2" fill="#fff"/>
<rect x="278.5" y="303.0" width="8.7" height="10.6" fill="#fff"/>
<rect x="287.2" y="291.8" width="8.6" height="10.2" fill="#fff"/>
<rect x="287.2" y="303.0" width="8.6" height="10.6" fill="#fff"/>
<rect x="295.8" y="291.8" width="8.4" height="10.2" fill="#fff"/>
<rect x="295.8" y="303.0" width="8.4" height="10.6" fill="#fff"/>
<rect x="304.2" y="291.8" width="8.7" height="10.2" fill="#fff"/>
<rect x="304.2" y="303.0" width="8.7" height="10.6" fill="#345384"/>
<rect x="312.9" y="291.8" width="9.5" height="10.2" fill="#fff"/>
<rect x="312.9" y="303.0" width="9.5" height="10.6" fill="#fff"/>
<rect x="322.4" y="291.8" width="9.7" height="10.2" fill="#fff"/>
<rect x="322.4" y="303.0" width="9.7" height="10.6" fill="#fff"/>
<rect x="332.1" y="291.8" width="8.6" height="10.2" fill="#fff"/>
<rect x="332.1" y="303.0" width="8.6" height="10.6" fill="#fff"/>
<rect x="340.7" y="291.8" width="8.6" height="10.2" fill="#fff"/>
<rect x="340.7" y="303.0" width="8.6" height="10.6" fill="#345384"/>
<rect x="349.3" y="291.8" width="8.45" height="10.2" fill="#fff"/>
<rect x="349.3" y="303.0" width="8.45" height="10.6" fill="#fff"/>
<rect x="357.7" y="291.8" width="8.3" height="10.2" fill="#b80c32"/>
<rect x="357.7" y="303.0" width="8.3" height="10.6" fill="#345384"/>
<rect x="366" y="291.8" width="8.9" height="10.2" fill="#b80c32"/>
<rect x="366" y="303.0" width="8.9" height="10.6" fill="#345384"/>
<rect x="374.9" y="291.8" width="8.4" height="10.2" fill="#b80c32"/>
<rect x="374.9" y="303.0" width="8.4" height="10.6" fill="#345384"/>
<rect x="383.3" y="291.8" width="8.6" height="10.2" fill="#b80c32"/>
<rect x="383.3" y="303.0" width="8.6" height="10.6" fill="#345384"/>
<rect x="391.9" y="291.8" width="8.7" height="10.2" fill="#b80c32"/>
<rect x="391.9" y="303.0" width="8.7" height="10.6" fill="#345384"/>
<rect x="400.6" y="291.8" width="8.7" height="10.2" fill="#b80c32"/>
<rect x="400.6" y="303.0" width="8.7" height="10.6" fill="#345384"/>
<rect x="409.3" y="291.8" width="8.7" height="10.2" fill="#b80c32"/>
<rect x="409.3" y="303.0" width="8.7" height="10.6" fill="#fff"/>
<rect x="418" y="291.8" width="8.3" height="10.2" fill="#b80c32"/>
<rect x="418" y="303.0" width="8.3" height="10.6" fill="#fff"/>
<rect x="426.3" y="291.8" width="8.7" height="10.2" fill="#b80c32"/>
<rect x="426.3" y="303.0" width="8.7" height="10.6" fill="#fff"/>
<rect x="435" y="291.8" width="8.4" height="10.2" fill="#b80c32"/>
<rect x="435" y="303.0" width="8.4" height="10.6" fill="#fff"/>
<rect x="443.4" y="291.8" width="8.5" height="10.2" fill="#b80c32"/>
<rect x="443.4" y="303.0" width="8.5" height="10.6" fill="#fff"/>
<rect x="451.9" y="291.8" width="8.6" height="10.2" fill="#b80c32"/>
<rect x="451.9" y="303.0" width="8.6" height="10.6" fill="#fff"/>
<rect x="460.5" y="291.8" width="8.7" height="10.2" fill="#b80c32"/>
<rect x="460.5" y="303.0" width="8.7" height="10.6" fill="#fff"/>
<rect x="469.2" y="291.8" width="8.8" height="10.2" fill="#b80c32"/>
<rect x="469.2" y="303.0" width="8.8" height="10.6" fill="#fff"/>
<rect x="478" y="291.8" width="8.6" height="10.2" fill="#b80c32"/>
<rect x="478" y="303.0" width="8.6" height="10.6" fill="#fff"/>
<rect x="486.6" y="291.8" width="8.3" height="10.2" fill="#b80c32"/>
<rect x="486.6" y="303.0" width="8.3" height="10.6" fill="#fff"/>
<rect x="494.9" y="291.8" width="8.6" height="10.2" fill="#b80c32"/>
<rect x="494.9" y="303.0" width="8.6" height="10.6" fill="#fff"/>
<rect x="503.5" y="291.8" width="8.35" height="10.2" fill="#fff"/>
<rect x="503.5" y="303.0" width="8.35" height="10.6" fill="#345384"/>
<rect x="132.15" y="291.8" width="0.9" height="22" fill="#111"/>
<rect x="140.65" y="291.8" width="0.9" height="22" fill="#111"/>
<rect x="149.15" y="291.8" width="0.9" height="22" fill="#111"/>
<rect x="157.75" y="291.8" width="0.9" height="22" fill="#111"/>
<rect x="166.35" y="291.8" width="0.9" height="22" fill="#111"/>
<rect x="175.15" y="291.8" width="0.9" height="22" fill="#111"/>
<rect x="184.05" y="291.8" width="0.9" height="22" fill="#111"/>
<rect x="192.35" y="291.8" width="0.9" height="22" fill="#111"/>
<rect x="201.25" y="291.8" width="0.9" height="22" fill="#111"/>
<rect x="209.95" y="291.8" width="0.9" height="22" fill="#111"/>
<rect x="218.45" y="291.8" width="0.9" height="22" fill="#111"/>
<rect x="227.15" y="291.8" width="0.9" height="22" fill="#111"/>
<rect x="235.45" y="291.8" width="0.9" height="22" fill="#111"/>
<rect x="243.85" y="291.8" width="0.9" height="22" fill="#111"/>
<rect x="252.75" y="291.8" width="0.9" height="22" fill="#111"/>
<rect x="261.15" y="291.8" width="0.9" height="22" fill="#111"/>
<rect x="269.65" y="291.8" width="0.9" height="22" fill="#111"/>
<rect x="278.05" y="291.8" width="0.9" height="22" fill="#111"/>
<rect x="286.75" y="291.8" width="0.9" height="22" fill="#111"/>
<rect x="295.35" y="291.8" width="0.9" height="22" fill="#111"/>
<rect x="303.75" y="291.8" width="0.9" height="22" fill="#111"/>
<rect x="312.45" y="291.8" width="0.9" height="22" fill="#111"/>
<rect x="321.95" y="291.8" width="0.9" height="22" fill="#111"/>
<rect x="331.65" y="291.8" width="0.9" height="22" fill="#111"/>
<rect x="340.25" y="291.8" width="0.9" height="22" fill="#111"/>
<rect x="348.85" y="291.8" width="0.9" height="22" fill="#111"/>
<rect x="365.55" y="291.8" width="0.9" height="22" fill="#111"/>
<rect x="374.45" y="291.8" width="0.9" height="22" fill="#111"/>
<rect x="382.85" y="291.8" width="0.9" height="22" fill="#111"/>
<rect x="391.45" y="291.8" width="0.9" height="22" fill="#111"/>
<rect x="400.15" y="291.8" width="0.9" height="22" fill="#111"/>
<rect x="408.85" y="291.8" width="0.9" height="22" fill="#111"/>
<rect x="417.55" y="291.8" width="0.9" height="22" fill="#111"/>
<rect x="425.85" y="291.8" width="0.9" height="22" fill="#111"/>
<rect x="434.55" y="291.8" width="0.9" height="22" fill="#111"/>
<rect x="442.95" y="291.8" width="0.9" height="22" fill="#111"/>
<rect x="451.45" y="291.8" width="0.9" height="22" fill="#111"/>
<rect x="460.05" y="291.8" width="0.9" height="22" fill="#111"/>
<rect x="468.75" y="291.8" width="0.9" height="22" fill="#111"/>
<rect x="477.55" y="291.8" width="0.9" height="22" fill="#111"/>
<rect x="486.15" y="291.8" width="0.9" height="22" fill="#111"/>
<rect x="494.45" y="291.8" width="0.9" height="22" fill="#111"/>
<rect x="503.05" y="291.8" width="0.9" height="22" fill="#111"/>
<rect x="24.7" y="290.6" width="487.9" height="1.3" fill="#000"/>
<rect x="24.7" y="302.0" width="487.9" height="1.0" fill="#000"/>
<rect x="123.2" y="290.6" width="1.8" height="24" fill="#000"/>
<rect x="356.9" y="290.6" width="1.7" height="24" fill="#000"/>
<rect x="24.7" y="36.4" width="487.9" height="1.5" fill="#000"/>
<rect x="123.2" y="24" width="1.8" height="13" fill="#000"/>
<rect x="356.9" y="24" width="1.7" height="13" fill="#000"/>
<rect x="25.45" y="24.55" width="486.5" height="289.7" fill="none" stroke="#000" stroke-width="1.5"/>
<text x="27.4" y="33.7" class="b75">Disease</text>
<text x="240.8" y="33.7" class="b75" text-anchor="middle">ET</text>
<text x="436.2" y="33.7" class="b75" text-anchor="middle">PMF</text>
<text x="27.4" y="58.25" class="b75">Driver mutation</text>
<text x="27.4" y="92.85" class="b75">Signaling</text>
<text x="27.4" y="123.9" class="b75">DNA binding /</text>
<text x="27.4" y="132.6" class="b75">Transcription</text>
<text x="27.4" y="163.4" class="b75">DNA methylation</text>
<text x="27.4" y="193.25" class="b75">PRC2</text>
<text x="27.4" y="223.6" class="b75">Spliceosome</text>
<text x="27.4" y="253.75" class="b75">Cohesin</text>
<text x="27.4" y="273.3" class="b75">Abnormal</text>
<text x="27.4" y="282.5" class="b75">cytogenetics</text>
<text x="120.2" y="48" class="gi" text-anchor="end">JAK2</text>
<text x="120.2" y="60" class="gi" text-anchor="end">CALR</text>
<text x="120.2" y="71.9" class="gi" text-anchor="end">MPL</text>
<text x="120.2" y="84" class="gi" text-anchor="end">KRAS</text>
<text x="120.2" y="95.8" class="gi" text-anchor="end">CBL</text>
<text x="120.2" y="107" class="gi" text-anchor="end">SH2B3</text>
<text x="120.2" y="118.6" class="gi" text-anchor="end">SETBP1</text>
<text x="120.2" y="130.6" class="gi" text-anchor="end">RUNX1</text>
<text x="120.2" y="141.9" class="gi" text-anchor="end">TP53</text>
<text x="120.2" y="153.7" class="gi" text-anchor="end">DNMT3A</text>
<text x="120.2" y="165.4" class="gi" text-anchor="end">TET2</text>
<text x="120.2" y="177.4" class="gi" text-anchor="end">IDH1/2</text>
<text x="120.2" y="189.2" class="gi" text-anchor="end">ASXL1</text>
<text x="120.2" y="201.7" class="gi" text-anchor="end">EZH2</text>
<text x="120.2" y="213.7" class="gi" text-anchor="end">SF3B1</text>
<text x="120.2" y="225.7" class="gi" text-anchor="end">SF3A1</text>
<text x="120.2" y="237.7" class="gi" text-anchor="end">PRPF40B</text>
<text x="120.2" y="249.7" class="gi" text-anchor="end">SMC3</text>
<text x="120.2" y="261.7" class="gi" text-anchor="end">STAG2</text>
<text x="120.2" y="273.6" class="gi" text-anchor="end">-7</text>
<text x="120.2" y="285.1" class="gn" text-anchor="end">Others</text>
<text x="27.4" y="299.5" class="b75">High <tspan font-style="italic">HMGA2</tspan> mRNA</text>
<text x="27.4" y="311.3" class="b75">Low <tspan font-style="italic">MIRlet-7c</tspan></text>
<text x="10.7" y="328.3" class="pl">B</text>
<rect x="63.1" y="346.8" width="1.7" height="81.8" fill="#111"/>
<rect x="63.1" y="426.75" width="77.5" height="1.7" fill="#111"/>
<rect x="60.35" y="427.1" width="3" height="1" fill="#111"/>
<text x="56.6" y="431" class="tk" text-anchor="end">0</text>
<rect x="60.35" y="417.46" width="3" height="1" fill="#111"/>
<text x="56.6" y="421.36" class="tk" text-anchor="end">0.2</text>
<rect x="60.35" y="407.82" width="3" height="1" fill="#111"/>
<text x="56.6" y="411.72" class="tk" text-anchor="end">0.4</text>
<rect x="60.35" y="398.18" width="3" height="1" fill="#111"/>
<text x="56.6" y="402.08" class="tk" text-anchor="end">0.6</text>
<rect x="60.35" y="388.54" width="3" height="1" fill="#111"/>
<text x="56.6" y="392.44" class="tk" text-anchor="end">0.8</text>
<rect x="60.35" y="378.9" width="3" height="1" fill="#111"/>
<text x="56.6" y="382.8" class="tk" text-anchor="end">1</text>
<rect x="60.35" y="369.26" width="3" height="1" fill="#111"/>
<text x="56.6" y="373.16" class="tk" text-anchor="end">1.2</text>
<rect x="60.35" y="359.62" width="3" height="1" fill="#111"/>
<text x="56.6" y="363.52" class="tk" text-anchor="end">1.4</text>
<rect x="60.35" y="349.98" width="3" height="1" fill="#111"/>
<text x="56.6" y="353.88" class="tk" text-anchor="end">1.6</text>
<rect x="63.45" y="427.6" width="1" height="3" fill="#111"/>
<text x="63.95" y="442.7" class="tk" text-anchor="middle">0</text>
<rect x="87.65" y="427.6" width="1" height="3" fill="#111"/>
<text x="88.15" y="442.7" class="tk" text-anchor="middle">0.5</text>
<rect x="111.85" y="427.6" width="1" height="3" fill="#111"/>
<text x="112.35" y="442.7" class="tk" text-anchor="middle">1</text>
<rect x="136.05" y="427.6" width="1" height="3" fill="#111"/>
<text x="136.55" y="442.7" class="tk" text-anchor="middle">1.5</text>
<line x1="73" y1="424.6" x2="129.3" y2="388.6" stroke="#111" stroke-width="1.6" stroke-linecap="round" stroke-dasharray="0 4.95"/>
<path d="M112.8 352.5L114.8 354.5L112.8 356.5L110.8 354.5Z" fill="#700a26"/>
<path d="M130.4 376.3L132.4 378.3L130.4 380.3L128.4 378.3Z" fill="#700a26"/>
<path d="M70.9 409.3L72.9 411.3L70.9 413.3L68.9 411.3Z" fill="#700a26"/>
<path d="M85.5 415L87.5 417L85.5 419L83.5 417Z" fill="#700a26"/>
<path d="M81.9 416.9L83.9 418.9L81.9 420.9L79.9 418.9Z" fill="#700a26"/>
<path d="M83.9 419.2L85.9 421.2L83.9 423.2L81.9 421.2Z" fill="#700a26"/>
<path d="M85.5 422.2L87.5 424.2L85.5 426.2L83.5 424.2Z" fill="#700a26"/>
<path d="M89.3 422.2L91.3 424.2L89.3 426.2L87.3 424.2Z" fill="#700a26"/>
<path d="M93.6 415.6L95.6 417.6L93.6 419.6L91.6 417.6Z" fill="#700a26"/>
<path d="M94.9 417.7L96.9 419.7L94.9 421.7L92.9 419.7Z" fill="#700a26"/>
<path d="M98.9 416.8L100.9 418.8L98.9 420.8L96.9 418.8Z" fill="#700a26"/>
<path d="M108.1 415.8L110.1 417.8L108.1 419.8L106.1 417.8Z" fill="#700a26"/>
<path d="M104 423.8L106 425.8L104 427.8L102 425.8Z" fill="#700a26"/>
<path d="M78.4 419L80.4 421L78.4 423L76.4 421Z" fill="#700a26"/>
<path d="M78.8 422L80.8 424L78.8 426L76.8 424Z" fill="#700a26"/>
<path d="M70.1 420.4L72.1 422.4L70.1 424.4L68.1 422.4Z" fill="#700a26"/>
<path d="M72.4 420.4L74.4 422.4L72.4 424.4L70.4 422.4Z" fill="#700a26"/>
<path d="M78.5 418.7L80.5 420.7L78.5 422.7L76.5 420.7Z" fill="#700a26"/>
<path d="M65.2 423.6L67.2 425.6L65.2 427.6L63.2 425.6Z" fill="#700a26"/>
<path d="M66.3 423L68.3 425L66.3 427L64.3 425Z" fill="#700a26"/>
<path d="M68 422.4L70 424.4L68 426.4L66 424.4Z" fill="#700a26"/>
<path d="M69.2 421.4L71.2 423.4L69.2 425.4L67.2 423.4Z" fill="#700a26"/>
<path d="M70.6 422L72.6 424L70.6 426L68.6 424Z" fill="#700a26"/>
<path d="M71.8 423L73.8 425L71.8 427L69.8 425Z" fill="#700a26"/>
<path d="M73.3 422.2L75.3 424.2L73.3 426.2L71.3 424.2Z" fill="#700a26"/>
<path d="M74.4 422.6L76.4 424.6L74.4 426.6L72.4 424.6Z" fill="#700a26"/>
<path d="M75.6 422L77.6 424L75.6 426L73.6 424Z" fill="#700a26"/>
<path d="M76.7 423L78.7 425L76.7 427L74.7 425Z" fill="#700a26"/>
<path d="M77.4 421L79.4 423L77.4 425L75.4 423Z" fill="#700a26"/>
<path d="M79.6 422.8L81.6 424.8L79.6 426.8L77.6 424.8Z" fill="#700a26"/>
<path d="M67 424.6L69 426.6L67 428.6L65 426.6Z" fill="#700a26"/>
<path d="M64.6 424.8L66.6 426.8L64.6 428.8L62.6 426.8Z" fill="#700a26"/>
<path d="M72 424.2L74 426.2L72 428.2L70 426.2Z" fill="#700a26"/>
<path d="M75 424.4L77 426.4L75 428.4L73 426.4Z" fill="#700a26"/>
<path d="M80.4 424L82.4 426L80.4 428L78.4 426Z" fill="#700a26"/>
<path d="M82 423.6L84 425.6L82 427.6L80 425.6Z" fill="#700a26"/>
<path d="M69 424.5L71 426.5L69 428.5L67 426.5Z" fill="#700a26"/>
<text x="102.7" y="339.4" class="tt" text-anchor="middle" textLength="103.8" lengthAdjust="spacingAndGlyphs">MIRlet7a<tspan font-style="normal"> vs </tspan>MIRlet7b</text>
<text x="100.85" y="457.4" class="ax" text-anchor="middle" textLength="29.5" lengthAdjust="spacingAndGlyphs">MIRlet7b</text>
<text x="0" y="0" transform="translate(37 387.35) rotate(-90)" class="ax" text-anchor="middle" textLength="29.5" lengthAdjust="spacingAndGlyphs">MIRlet7a</text>
<rect x="228.25" y="346.8" width="1.7" height="81.8" fill="#111"/>
<rect x="228.25" y="426.75" width="78.45" height="1.7" fill="#111"/>
<rect x="225.5" y="427.1" width="3" height="1" fill="#111"/>
<text x="222.2" y="431" class="tk" text-anchor="end">0</text>
<rect x="225.5" y="417.44" width="3" height="1" fill="#111"/>
<text x="222.2" y="421.34" class="tk" text-anchor="end">0.2</text>
<rect x="225.5" y="407.78" width="3" height="1" fill="#111"/>
<text x="222.2" y="411.68" class="tk" text-anchor="end">0.4</text>
<rect x="225.5" y="398.12" width="3" height="1" fill="#111"/>
<text x="222.2" y="402.02" class="tk" text-anchor="end">0.6</text>
<rect x="225.5" y="388.46" width="3" height="1" fill="#111"/>
<text x="222.2" y="392.36" class="tk" text-anchor="end">0.8</text>
<rect x="225.5" y="378.8" width="3" height="1" fill="#111"/>
<text x="222.2" y="382.7" class="tk" text-anchor="end">1</text>
<rect x="225.5" y="369.14" width="3" height="1" fill="#111"/>
<text x="222.2" y="373.04" class="tk" text-anchor="end">1.2</text>
<rect x="225.5" y="359.48" width="3" height="1" fill="#111"/>
<text x="222.2" y="363.38" class="tk" text-anchor="end">1.4</text>
<rect x="225.5" y="349.82" width="3" height="1" fill="#111"/>
<text x="222.2" y="353.72" class="tk" text-anchor="end">1.6</text>
<rect x="228.6" y="427.6" width="1" height="3" fill="#111"/>
<text x="229.1" y="442.7" class="tk" text-anchor="middle">0</text>
<rect x="252.85" y="427.6" width="1" height="3" fill="#111"/>
<text x="253.35" y="442.7" class="tk" text-anchor="middle">0.5</text>
<rect x="277.1" y="427.6" width="1" height="3" fill="#111"/>
<text x="277.6" y="442.7" class="tk" text-anchor="middle">1</text>
<rect x="301.35" y="427.6" width="1" height="3" fill="#111"/>
<text x="301.85" y="442.7" class="tk" text-anchor="middle">1.5</text>
<line x1="229.8" y1="419.6" x2="274.4" y2="352.7" stroke="#111" stroke-width="1.6" stroke-linecap="round" stroke-dasharray="0 4.95"/>
<path d="M235.7 364.6L237.6 366.5L235.7 368.4L233.8 366.5Z" fill="#3a1648"/>
<path d="M250.4 358.9L252.3 360.8L250.4 362.7L248.5 360.8Z" fill="#3a1648"/>
<path d="M258.5 361.2L260.4 363.1L258.5 365L256.6 363.1Z" fill="#3a1648"/>
<path d="M259.6 363.5L261.5 365.4L259.6 367.3L257.7 365.4Z" fill="#3a1648"/>
<path d="M264 361.2L265.9 363.1L264 365L262.1 363.1Z" fill="#3a1648"/>
<path d="M268.8 358.3L270.7 360.2L268.8 362.1L266.9 360.2Z" fill="#3a1648"/>
<path d="M273.5 372.7L275.4 374.6L273.5 376.5L271.6 374.6Z" fill="#3a1648"/>
<path d="M249 376.8L250.9 378.7L249 380.6L247.1 378.7Z" fill="#3a1648"/>
<path d="M248.7 379.9L250.6 381.8L248.7 383.7L246.8 381.8Z" fill="#3a1648"/>
<path d="M250.8 385.3L252.7 387.2L250.8 389.1L248.9 387.2Z" fill="#3a1648"/>
<path d="M237.7 387.9L239.6 389.8L237.7 391.7L235.8 389.8Z" fill="#3a1648"/>
<path d="M238.4 391.1L240.3 393L238.4 394.9L236.5 393Z" fill="#3a1648"/>
<path d="M234.8 396.5L236.7 398.4L234.8 400.3L232.9 398.4Z" fill="#3a1648"/>
<path d="M254.8 400.6L256.7 402.5L254.8 404.4L252.9 402.5Z" fill="#3a1648"/>
<path d="M235.6 402.7L237.5 404.6L235.6 406.5L233.7 404.6Z" fill="#3a1648"/>
<path d="M231.3 405.3L233.2 407.2L231.3 409.1L229.4 407.2Z" fill="#3a1648"/>
<path d="M238.8 405L240.7 406.9L238.8 408.8L236.9 406.9Z" fill="#3a1648"/>
<path d="M237.7 407.9L239.6 409.8L237.7 411.7L235.8 409.8Z" fill="#3a1648"/>
<path d="M243.5 407.9L245.4 409.8L243.5 411.7L241.6 409.8Z" fill="#3a1648"/>
<path d="M240.6 407.9L242.5 409.8L240.6 411.7L238.7 409.8Z" fill="#3a1648"/>
<path d="M231.9 407.9L233.8 409.8L231.9 411.7L230 409.8Z" fill="#3a1648"/>
<path d="M236.5 410.8L238.4 412.7L236.5 414.6L234.6 412.7Z" fill="#3a1648"/>
<path d="M233.7 413.1L235.6 415L233.7 416.9L231.8 415Z" fill="#3a1648"/>
<path d="M236 414.3L237.9 416.2L236 418.1L234.1 416.2Z" fill="#3a1648"/>
<path d="M230.2 414.3L232.1 416.2L230.2 418.1L228.3 416.2Z" fill="#3a1648"/>
<path d="M232.5 417.7L234.4 419.6L232.5 421.5L230.6 419.6Z" fill="#3a1648"/>
<path d="M244 417.1L245.9 419L244 420.9L242.1 419Z" fill="#3a1648"/>
<path d="M238.8 420.3L240.7 422.2L238.8 424.1L236.9 422.2Z" fill="#3a1648"/>
<path d="M233.7 421.2L235.6 423.1L233.7 425L231.8 423.1Z" fill="#3a1648"/>
<path d="M230.2 421.2L232.1 423.1L230.2 425L228.3 423.1Z" fill="#3a1648"/>
<path d="M242.9 424.1L244.8 426L242.9 427.9L241 426Z" fill="#3a1648"/>
<path d="M244.4 424.6L246.3 426.5L244.4 428.4L242.5 426.5Z" fill="#3a1648"/>
<path d="M280.2 419.4L282.1 421.3L280.2 423.2L278.3 421.3Z" fill="#3a1648"/>
<path d="M230.8 423.5L232.7 425.4L230.8 427.3L228.9 425.4Z" fill="#3a1648"/>
<path d="M239.5 409.6L241.4 411.5L239.5 413.4L237.6 411.5Z" fill="#3a1648"/>
<path d="M234.5 417.1L236.4 419L234.5 420.9L232.6 419Z" fill="#3a1648"/>
<path d="M241 412.1L242.9 414L241 415.9L239.1 414Z" fill="#3a1648"/>
<path d="M230 418.1L231.9 420L230 421.9L228.1 420Z" fill="#3a1648"/>
<path d="M231 410.6L232.9 412.5L231 414.4L229.1 412.5Z" fill="#3a1648"/>
<text x="267.4" y="338.9" class="tt" text-anchor="middle" textLength="103.6" lengthAdjust="spacingAndGlyphs">MIRlet7a<tspan font-style="normal"> vs </tspan>MIRlet7c</text>
<text x="268.85" y="457.3" class="ax" text-anchor="middle" textLength="29.5" lengthAdjust="spacingAndGlyphs">MIRlet7c</text>
<text x="0" y="0" transform="translate(202.2 386.5) rotate(-90)" class="ax" text-anchor="middle" textLength="29.5" lengthAdjust="spacingAndGlyphs">MIRlet7a</text>
<rect x="389.15" y="346.8" width="1.7" height="81.8" fill="#111"/>
<rect x="389.15" y="426.75" width="77.85" height="1.7" fill="#111"/>
<rect x="386.4" y="427.1" width="3" height="1" fill="#111"/>
<text x="383.2" y="431" class="tk" text-anchor="end">0</text>
<rect x="386.4" y="417.38" width="3" height="1" fill="#111"/>
<text x="383.2" y="421.28" class="tk" text-anchor="end">0.2</text>
<rect x="386.4" y="407.66" width="3" height="1" fill="#111"/>
<text x="383.2" y="411.56" class="tk" text-anchor="end">0.4</text>
<rect x="386.4" y="397.94" width="3" height="1" fill="#111"/>
<text x="383.2" y="401.84" class="tk" text-anchor="end">0.6</text>
<rect x="386.4" y="388.22" width="3" height="1" fill="#111"/>
<text x="383.2" y="392.12" class="tk" text-anchor="end">0.8</text>
<rect x="386.4" y="378.5" width="3" height="1" fill="#111"/>
<text x="383.2" y="382.4" class="tk" text-anchor="end">1</text>
<rect x="386.4" y="368.78" width="3" height="1" fill="#111"/>
<text x="383.2" y="372.68" class="tk" text-anchor="end">1.2</text>
<rect x="386.4" y="359.06" width="3" height="1" fill="#111"/>
<text x="383.2" y="362.96" class="tk" text-anchor="end">1.4</text>
<rect x="386.4" y="349.34" width="3" height="1" fill="#111"/>
<text x="383.2" y="353.24" class="tk" text-anchor="end">1.6</text>
<rect x="389.5" y="427.6" width="1" height="3" fill="#111"/>
<text x="390" y="442.7" class="tk" text-anchor="middle">0</text>
<rect x="413.9" y="427.6" width="1" height="3" fill="#111"/>
<text x="414.4" y="442.7" class="tk" text-anchor="middle">0.5</text>
<rect x="438.3" y="427.6" width="1" height="3" fill="#111"/>
<text x="438.8" y="442.7" class="tk" text-anchor="middle">1</text>
<rect x="462.7" y="427.6" width="1" height="3" fill="#111"/>
<text x="463.2" y="442.7" class="tk" text-anchor="middle">1.5</text>
<line x1="396.2" y1="398.3" x2="421" y2="347.6" stroke="#111" stroke-width="1.6" stroke-linecap="round" stroke-dasharray="0 4.95"/>
<path d="M391.7 357.8L393.6 359.7L391.7 361.6L389.8 359.7Z" fill="#2e4676"/>
<path d="M400.9 358.8L402.8 360.7L400.9 362.6L399 360.7Z" fill="#2e4676"/>
<path d="M399.9 360.7L401.8 362.6L399.9 364.5L398 362.6Z" fill="#2e4676"/>
<path d="M398.9 362.1L400.8 364L398.9 365.9L397 364Z" fill="#2e4676"/>
<path d="M398 363.6L399.9 365.5L398 367.4L396.1 365.5Z" fill="#2e4676"/>
<path d="M406.6 364.5L408.5 366.4L406.6 368.3L404.7 366.4Z" fill="#2e4676"/>
<path d="M400.4 372.7L402.3 374.6L400.4 376.5L398.5 374.6Z" fill="#2e4676"/>
<path d="M397 376.6L398.9 378.5L397 380.4L395.1 378.5Z" fill="#2e4676"/>
<path d="M396.3 379.4L398.2 381.3L396.3 383.2L394.4 381.3Z" fill="#2e4676"/>
<path d="M394.1 385.2L396 387.1L394.1 389L392.2 387.1Z" fill="#2e4676"/>
<path d="M395 387.1L396.9 389L395 390.9L393.1 389Z" fill="#2e4676"/>
<path d="M394.6 390.8L396.5 392.7L394.6 394.6L392.7 392.7Z" fill="#2e4676"/>
<path d="M394.1 400.4L396 402.3L394.1 404.2L392.2 402.3Z" fill="#2e4676"/>
<path d="M394.1 403.8L396 405.7L394.1 407.6L392.2 405.7Z" fill="#2e4676"/>
<path d="M396.5 408.1L398.4 410L396.5 411.9L394.6 410Z" fill="#2e4676"/>
<path d="M393.2 405.2L395.1 407.1L393.2 409L391.3 407.1Z" fill="#2e4676"/>
<path d="M391.5 408.6L393.4 410.5L391.5 412.4L389.6 410.5Z" fill="#2e4676"/>
<path d="M392.5 410.6L394.4 412.5L392.5 414.4L390.6 412.5Z" fill="#2e4676"/>
<path d="M391 412.6L392.9 414.5L391 416.4L389.1 414.5Z" fill="#2e4676"/>
<path d="M393 413.6L394.9 415.5L393 417.4L391.1 415.5Z" fill="#2e4676"/>
<path d="M391.5 415.6L393.4 417.5L391.5 419.4L389.6 417.5Z" fill="#2e4676"/>
<path d="M393.5 416.6L395.4 418.5L393.5 420.4L391.6 418.5Z" fill="#2e4676"/>
<path d="M391 418.1L392.9 420L391 421.9L389.1 420Z" fill="#2e4676"/>
<path d="M392.5 419.6L394.4 421.5L392.5 423.4L390.6 421.5Z" fill="#2e4676"/>
<path d="M394.5 418.6L396.4 420.5L394.5 422.4L392.6 420.5Z" fill="#2e4676"/>
<path d="M391.5 421.1L393.4 423L391.5 424.9L389.6 423Z" fill="#2e4676"/>
<path d="M393 422.1L394.9 424L393 425.9L391.1 424Z" fill="#2e4676"/>
<path d="M395 421.6L396.9 423.5L395 425.4L393.1 423.5Z" fill="#2e4676"/>
<path d="M391 423.6L392.9 425.5L391 427.4L389.1 425.5Z" fill="#2e4676"/>
<path d="M392.5 424.6L394.4 426.5L392.5 428.4L390.6 426.5Z" fill="#2e4676"/>
<path d="M394 424.6L395.9 426.5L394 428.4L392.1 426.5Z" fill="#2e4676"/>
<path d="M396 424.9L397.9 426.8L396 428.7L394.1 426.8Z" fill="#2e4676"/>
<path d="M390.8 416.9L392.7 418.8L390.8 420.7L388.9 418.8Z" fill="#2e4676"/>
<path d="M395.5 411.1L397.4 413L395.5 414.9L393.6 413Z" fill="#2e4676"/>
<path d="M392 407.1L393.9 409L392 410.9L390.1 409Z" fill="#2e4676"/>
<text x="428.45" y="338.5" class="tt" text-anchor="middle" textLength="103.1" lengthAdjust="spacingAndGlyphs">MIRlet7b<tspan font-style="normal"> vs </tspan>MIRlet7c</text>
<text x="426.9" y="457" class="ax" text-anchor="middle" textLength="29.5" lengthAdjust="spacingAndGlyphs">MIRlet7c</text>
<text x="0" y="0" transform="translate(363.5 386.75) rotate(-90)" class="ax" text-anchor="middle" textLength="29.5" lengthAdjust="spacingAndGlyphs">MIRlet7b</text>
<text x="10.7" y="473.6" class="pl">C</text>
<rect x="63.35" y="489.2" width="1.7" height="94" fill="#111"/>
<rect x="63.35" y="581.4" width="104.95" height="1.6" fill="#111"/>
<rect x="60.4" y="581.7" width="3" height="1" fill="#111"/>
<text x="56.3" y="584.4" class="tk" text-anchor="end">0.1</text>
<rect x="60.4" y="554.9" width="3" height="1" fill="#111"/>
<text x="56.3" y="556.6" class="tk" text-anchor="end">1</text>
<rect x="60.4" y="528.1" width="3" height="1" fill="#111"/>
<text x="56.3" y="529.8" class="tk" text-anchor="end">10</text>
<rect x="60.4" y="501.3" width="3" height="1" fill="#111"/>
<text x="56.3" y="504.6" class="tk" text-anchor="end">100</text>
<rect x="63.7" y="582.2" width="1" height="3" fill="#111"/>
<text x="64.2" y="597.4" class="tkc" text-anchor="middle">0</text>
<rect x="78.19" y="582.2" width="1" height="3" fill="#111"/>
<text x="78.69" y="597.4" class="tkc" text-anchor="middle">0.3</text>
<rect x="92.68" y="582.2" width="1" height="3" fill="#111"/>
<text x="93.18" y="597.4" class="tkc" text-anchor="middle">0.6</text>
<rect x="107.17" y="582.2" width="1" height="3" fill="#111"/>
<text x="107.67" y="597.4" class="tkc" text-anchor="middle">0.9</text>
<rect x="121.66" y="582.2" width="1" height="3" fill="#111"/>
<text x="122.16" y="597.4" class="tkc" text-anchor="middle">1.2</text>
<rect x="136.15" y="582.2" width="1" height="3" fill="#111"/>
<text x="136.65" y="597.4" class="tkc" text-anchor="middle">1.5</text>
<rect x="150.64" y="582.2" width="1" height="3" fill="#111"/>
<text x="151.14" y="597.4" class="tkc" text-anchor="middle">1.8</text>
<rect x="165.13" y="582.2" width="1" height="3" fill="#111"/>
<text x="165.63" y="597.4" class="tkc" text-anchor="middle">2.1</text>
<rect x="78.04" y="489.2" width="1.3" height="93" fill="#8e2444"/>
<rect x="64.2" y="554.75" width="101.6" height="1.3" fill="#8e2444"/>
<circle cx="125" cy="490.8" r="1.35" fill="#5c0c26"/>
<circle cx="98.9" cy="504" r="1.35" fill="#5c0c26"/>
<circle cx="101.2" cy="517.8" r="1.35" fill="#5c0c26"/>
<circle cx="104.6" cy="518.6" r="1.35" fill="#5c0c26"/>
<circle cx="76.7" cy="540.6" r="1.35" fill="#5c0c26"/>
<circle cx="65.2" cy="548.1" r="1.35" fill="#5c0c26"/>
<circle cx="86.5" cy="549" r="1.35" fill="#5c0c26"/>
<circle cx="83.7" cy="554.1" r="1.35" fill="#5c0c26"/>
<circle cx="80.8" cy="501.7" r="1.35" fill="#1c2d48"/>
<circle cx="68.4" cy="512.9" r="1.35" fill="#1c2d48"/>
<circle cx="81.3" cy="524.8" r="1.35" fill="#1c2d48"/>
<circle cx="72.5" cy="529.4" r="1.35" fill="#1c2d48"/>
<circle cx="74.8" cy="531.3" r="1.35" fill="#1c2d48"/>
<circle cx="68.1" cy="532.5" r="1.35" fill="#1c2d48"/>
<circle cx="112.8" cy="544.6" r="1.35" fill="#1c2d48"/>
<circle cx="80.8" cy="549.8" r="1.35" fill="#1c2d48"/>
<circle cx="81.9" cy="550.4" r="1.35" fill="#1c2d48"/>
<circle cx="66.6" cy="561.7" r="1.35" fill="#1c2d48"/>
<text x="115" y="483.1" class="ct" text-anchor="middle" textLength="21.5" lengthAdjust="spacingAndGlyphs">PMF</text>
<text x="0" y="0" transform="translate(34.8 537.1) rotate(-90)" class="ax" text-anchor="middle" textLength="25.3" lengthAdjust="spacingAndGlyphs">HMGA2</text>
<text x="114.9" y="612.2" class="ax" text-anchor="middle" textLength="28.5" lengthAdjust="spacingAndGlyphs">MIRlet7c</text>
<rect x="228.05" y="488" width="1.7" height="94.7" fill="#111"/>
<rect x="228.05" y="580.9" width="104.55" height="1.6" fill="#111"/>
<rect x="225.1" y="581.2" width="3" height="1" fill="#111"/>
<text x="221" y="583.9" class="tk" text-anchor="end">0.1</text>
<rect x="225.1" y="554.4" width="3" height="1" fill="#111"/>
<text x="221" y="556.9" class="tk" text-anchor="end">1</text>
<rect x="225.1" y="527.6" width="3" height="1" fill="#111"/>
<text x="221" y="530.7" class="tk" text-anchor="end">10</text>
<rect x="225.1" y="500.8" width="3" height="1" fill="#111"/>
<text x="221" y="504.1" class="tk" text-anchor="end">100</text>
<rect x="228.4" y="581.7" width="1" height="3" fill="#111"/>
<text x="228.9" y="596.9" class="tkc" text-anchor="middle">0</text>
<rect x="242.8" y="581.7" width="1" height="3" fill="#111"/>
<text x="243.3" y="596.9" class="tkc" text-anchor="middle">0.3</text>
<rect x="257.2" y="581.7" width="1" height="3" fill="#111"/>
<text x="257.7" y="596.9" class="tkc" text-anchor="middle">0.6</text>
<rect x="271.6" y="581.7" width="1" height="3" fill="#111"/>
<text x="272.1" y="596.9" class="tkc" text-anchor="middle">0.9</text>
<rect x="286" y="581.7" width="1" height="3" fill="#111"/>
<text x="286.5" y="596.9" class="tkc" text-anchor="middle">1.2</text>
<rect x="300.4" y="581.7" width="1" height="3" fill="#111"/>
<text x="300.9" y="596.9" class="tkc" text-anchor="middle">1.5</text>
<rect x="314.8" y="581.7" width="1" height="3" fill="#111"/>
<text x="315.3" y="596.9" class="tkc" text-anchor="middle">1.8</text>
<rect x="329.2" y="581.7" width="1" height="3" fill="#111"/>
<text x="329.7" y="596.9" class="tkc" text-anchor="middle">2.1</text>
<rect x="242.65" y="488" width="1.3" height="93.7" fill="#8e2444"/>
<rect x="228.9" y="554.25" width="99.7" height="1.3" fill="#8e2444"/>
<circle cx="231.9" cy="511.1" r="1.35" fill="#1c2d48"/>
<circle cx="230.8" cy="542.7" r="1.35" fill="#1c2d48"/>
<circle cx="231.5" cy="546.9" r="1.35" fill="#1c2d48"/>
<circle cx="236.5" cy="547.9" r="1.35" fill="#1c2d48"/>
<circle cx="244.8" cy="543.8" r="1.35" fill="#1c2d48"/>
<circle cx="242.7" cy="547.3" r="1.35" fill="#1c2d48"/>
<circle cx="241.9" cy="549.6" r="1.35" fill="#1c2d48"/>
<circle cx="236.5" cy="554.2" r="1.35" fill="#1c2d48"/>
<circle cx="234.8" cy="557.7" r="1.35" fill="#1c2d48"/>
<circle cx="236.5" cy="561.9" r="1.35" fill="#1c2d48"/>
<circle cx="230" cy="563.8" r="1.35" fill="#1c2d48"/>
<circle cx="246.5" cy="565.2" r="1.35" fill="#1c2d48"/>
<circle cx="252.3" cy="559.2" r="1.35" fill="#1c2d48"/>
<circle cx="253.8" cy="560.8" r="1.35" fill="#1c2d48"/>
<circle cx="260.2" cy="560" r="1.35" fill="#1c2d48"/>
<circle cx="265.8" cy="557.2" r="1.35" fill="#1c2d48"/>
<circle cx="290.1" cy="555.8" r="1.35" fill="#1c2d48"/>
<circle cx="291.7" cy="561.8" r="1.35" fill="#1c2d48"/>
<circle cx="294.2" cy="568.3" r="1.35" fill="#1c2d48"/>
<circle cx="295.4" cy="569.7" r="1.35" fill="#1c2d48"/>
<circle cx="248.5" cy="581.6" r="1.35" fill="#6f8aa8"/>
<circle cx="291.2" cy="581.6" r="1.35" fill="#6f8aa8"/>
<circle cx="322" cy="581.6" r="1.35" fill="#6f8aa8"/>
<circle cx="324" cy="581.6" r="1.35" fill="#6f8aa8"/>
<text x="279.25" y="480.8" class="ct" text-anchor="middle" textLength="11.4" lengthAdjust="spacingAndGlyphs">ET</text>
<text x="0" y="0" transform="translate(199.6 534.6) rotate(-90)" class="ax" text-anchor="middle" textLength="25.3" lengthAdjust="spacingAndGlyphs">HMGA2</text>
<text x="278.9" y="612" class="ax" text-anchor="middle" textLength="28.5" lengthAdjust="spacingAndGlyphs">MIRlet7c</text>
<rect x="388.95" y="490.3" width="1.7" height="93" fill="#111"/>
<rect x="388.95" y="581.5" width="104.35" height="1.6" fill="#111"/>
<rect x="386" y="581.8" width="3" height="1" fill="#111"/>
<text x="382" y="584.5" class="tk" text-anchor="end">0.1</text>
<rect x="386" y="555" width="3" height="1" fill="#111"/>
<text x="382" y="558.1" class="tk" text-anchor="end">1</text>
<rect x="386" y="528.2" width="3" height="1" fill="#111"/>
<text x="382" y="531.9" class="tk" text-anchor="end">10</text>
<rect x="386" y="501.4" width="3" height="1" fill="#111"/>
<text x="382" y="505.1" class="tk" text-anchor="end">100</text>
<rect x="389.3" y="582.3" width="1" height="3" fill="#111"/>
<text x="389.8" y="597.5" class="tkc" text-anchor="middle">0</text>
<rect x="403.7" y="582.3" width="1" height="3" fill="#111"/>
<text x="404.2" y="597.5" class="tkc" text-anchor="middle">0.3</text>
<rect x="418.1" y="582.3" width="1" height="3" fill="#111"/>
<text x="418.6" y="597.5" class="tkc" text-anchor="middle">0.6</text>
<rect x="432.5" y="582.3" width="1" height="3" fill="#111"/>
<text x="433" y="597.5" class="tkc" text-anchor="middle">0.9</text>
<rect x="446.9" y="582.3" width="1" height="3" fill="#111"/>
<text x="447.4" y="597.5" class="tkc" text-anchor="middle">1.2</text>
<rect x="461.3" y="582.3" width="1" height="3" fill="#111"/>
<text x="461.8" y="597.5" class="tkc" text-anchor="middle">1.5</text>
<rect x="475.7" y="582.3" width="1" height="3" fill="#111"/>
<text x="476.2" y="597.5" class="tkc" text-anchor="middle">1.8</text>
<rect x="490.1" y="582.3" width="1" height="3" fill="#111"/>
<text x="490.6" y="597.5" class="tkc" text-anchor="middle">2.1</text>
<rect x="403.55" y="490.3" width="1.3" height="92" fill="#8e2444"/>
<rect x="389.8" y="554.85" width="102.2" height="1.3" fill="#8e2444"/>
<circle cx="435.8" cy="558.5" r="1.35" fill="#1c2d48"/>
<circle cx="438.1" cy="565.4" r="1.35" fill="#1c2d48"/>
<circle cx="410.4" cy="564.6" r="1.35" fill="#1c2d48"/>
<circle cx="410.4" cy="568.2" r="1.35" fill="#1c2d48"/>
<circle cx="413.5" cy="574.2" r="1.35" fill="#1c2d48"/>
<circle cx="428.5" cy="571.2" r="1.35" fill="#1c2d48"/>
<circle cx="408" cy="581.6" r="1.35" fill="#6f8aa8"/>
<circle cx="411" cy="581.6" r="1.35" fill="#6f8aa8"/>
<circle cx="425.8" cy="581.6" r="1.35" fill="#6f8aa8"/>
<circle cx="430.4" cy="581.6" r="1.35" fill="#6f8aa8"/>
<circle cx="438.1" cy="581.6" r="1.35" fill="#6f8aa8"/>
<text x="441" y="483.9" class="ct" text-anchor="middle" textLength="35.5" lengthAdjust="spacingAndGlyphs">Healthy</text>
<text x="0" y="0" transform="translate(360.8 536.3) rotate(-90)" class="ax" text-anchor="middle" textLength="25.3" lengthAdjust="spacingAndGlyphs">HMGA2</text>
<text x="440.3" y="612" class="ax" text-anchor="middle" textLength="28.5" lengthAdjust="spacingAndGlyphs">MIRlet7c</text>
<defs><filter id="bl" x="-0.02" y="-0.02" width="1.04" height="1.04"><feGaussianBlur stdDeviation="0.45"/></filter><filter id="f1a" x="0" y="0" width="1" height="1" filterUnits="objectBoundingBox" color-interpolation-filters="sRGB"><feTurbulence type="fractalNoise" baseFrequency="0.17" numOctaves="3" seed="3"/><feColorMatrix type="matrix" values="0 0 0 0 0.204 0 0 0 0 0.153 0 0 0 0 0.353 5.0 0 0 0 -1.95"/></filter><filter id="f1c" x="0" y="0" width="1" height="1" filterUnits="objectBoundingBox" color-interpolation-filters="sRGB"><feTurbulence type="fractalNoise" baseFrequency="0.05" numOctaves="2" seed="13"/><feColorMatrix type="matrix" values="0 0 0 0 0.227 0 0 0 0 0.173 0 0 0 0 0.376 4.0 0 0 0 -1.9"/></filter><filter id="f2a" x="0" y="0" width="1" height="1" filterUnits="objectBoundingBox" color-interpolation-filters="sRGB"><feTurbulence type="turbulence" baseFrequency="0.08 0.14" numOctaves="3" seed="5"/><feColorMatrix type="matrix" values="0 0 0 0 0.110 0 0 0 0 0.110 0 0 0 0 0.173 -4.6 0 0 0 1.75"/></filter><filter id="f2b" x="0" y="0" width="1" height="1" filterUnits="objectBoundingBox" color-interpolation-filters="sRGB"><feTurbulence type="fractalNoise" baseFrequency="0.05 0.09" numOctaves="2" seed="17"/><feColorMatrix type="matrix" values="0 0 0 0 0.133 0 0 0 0 0.133 0 0 0 0 0.180 3.0 0 0 0 -1.2"/></filter><filter id="f4n" x="0" y="0" width="1" height="1" filterUnits="objectBoundingBox" color-interpolation-filters="sRGB"><feTurbulence type="fractalNoise" baseFrequency="0.2" numOctaves="2" seed="71"/><feColorMatrix type="matrix" values="0 0 0 0 0.612 0 0 0 0 0.612 0 0 0 0 0.643 2.2 0 0 0 -0.9"/></filter><filter id="f6n" x="0" y="0" width="1" height="1" filterUnits="objectBoundingBox" color-interpolation-filters="sRGB"><feTurbulence type="fractalNoise" baseFrequency="0.35" numOctaves="2" seed="81"/><feColorMatrix type="matrix" values="0 0 0 0 0.541 0 0 0 0 0.533 0 0 0 0 0.612 2.4 0 0 0 -0.95"/></filter><filter id="f7n" x="0" y="0" width="1" height="1" filterUnits="objectBoundingBox" color-interpolation-filters="sRGB"><feTurbulence type="fractalNoise" baseFrequency="0.04" numOctaves="2" seed="91"/><feColorMatrix type="matrix" values="0 0 0 0 0.878 0 0 0 0 0.878 0 0 0 0 0.831 2.2 0 0 0 -1.0"/></filter></defs>
<text x="10.7" y="628.3" class="pl">D</text>
<text x="147.3" y="635.0" class="dh" text-anchor="middle" textLength="38.2" lengthAdjust="spacingAndGlyphs">PMF532</text>
<text x="248.2" y="635.0" class="dh" text-anchor="middle" textLength="43.8" lengthAdjust="spacingAndGlyphs">PMF1002</text>
<text x="345.95" y="635.0" class="dh" text-anchor="middle" textLength="26.5" lengthAdjust="spacingAndGlyphs">ET774</text>
<text x="445" y="635.0" class="dh" text-anchor="middle" textLength="74.0" lengthAdjust="spacingAndGlyphs">Positive control</text>
<text x="94.4" y="680.9" class="dl" text-anchor="end" textLength="23.6" lengthAdjust="spacingAndGlyphs">Silver</text>
<text x="94.4" y="747.8" class="dl" text-anchor="end" textLength="35.6" lengthAdjust="spacingAndGlyphs">HMGA2</text>
<clipPath id="c1"><rect x="97.5" y="640.1" width="98.5" height="74"/></clipPath>
<g clip-path="url(#c1)">
<rect x="97.5" y="640.1" width="98.5" height="74" fill="#b4aed0"/>
<g filter="url(#bl)"><rect x="97.5" y="640.1" width="98.5" height="74" filter="url(#f1c)"/><rect x="97.5" y="640.1" width="98.5" height="74" filter="url(#f1a)"/><g fill="#2c2150"><circle cx="129.4" cy="651.2" r="1.4"/><circle cx="132.0" cy="676.8" r="1.5"/><circle cx="151.0" cy="642.0" r="1.3"/><circle cx="132.0" cy="680.7" r="1.0"/><circle cx="148.6" cy="681.2" r="1.5"/><circle cx="146.8" cy="653.2" r="1.2"/><circle cx="171.7" cy="682.1" r="1.6"/><circle cx="104.0" cy="694.6" r="1.1"/><circle cx="148.4" cy="674.4" r="1.3"/><circle cx="133.8" cy="700.0" r="1.1"/><circle cx="122.0" cy="648.1" r="1.0"/><circle cx="141.8" cy="692.8" r="1.2"/><circle cx="151.1" cy="651.9" r="1.2"/><circle cx="178.2" cy="702.3" r="1.6"/><circle cx="134.1" cy="686.0" r="1.0"/><circle cx="175.5" cy="699.6" r="1.1"/><circle cx="149.9" cy="670.1" r="1.1"/><circle cx="114.7" cy="662.9" r="1.1"/><circle cx="100.5" cy="650.3" r="1.4"/><circle cx="117.8" cy="648.3" r="0.9"/><circle cx="159.7" cy="661.3" r="1.0"/><circle cx="118.6" cy="691.8" r="1.3"/><circle cx="160.7" cy="673.6" r="1.2"/><circle cx="142.5" cy="713.4" r="1.0"/><circle cx="128.7" cy="662.2" r="1.4"/><circle cx="159.2" cy="671.6" r="0.9"/><circle cx="143.3" cy="655.3" r="1.1"/><circle cx="118.5" cy="708.6" r="1.1"/><circle cx="152.4" cy="704.5" r="1.3"/></g><g fill="#33275a" fill-opacity="0.5"><circle cx="106.8" cy="683.2" r="1.6"/><circle cx="112.4" cy="653.1" r="1.1"/><circle cx="170.7" cy="646.3" r="1.0"/><circle cx="168.5" cy="676.6" r="1.1"/><circle cx="158.1" cy="654.5" r="1.3"/><circle cx="132.9" cy="651.1" r="1.7"/><circle cx="147.1" cy="668.0" r="1.7"/><circle cx="166.1" cy="684.2" r="1.4"/></g><g fill="#251c45" fill-opacity="0.5"><circle cx="140.2" cy="645.2" r="1.0"/><circle cx="165.7" cy="686.0" r="1.0"/><circle cx="151.6" cy="663.1" r="1.0"/><circle cx="139.4" cy="696.6" r="1.5"/><circle cx="163.0" cy="710.3" r="1.0"/><circle cx="159.8" cy="674.3" r="1.0"/><circle cx="148.1" cy="694.8" r="1.5"/></g><g fill="#2c2150" fill-opacity="0.75"><circle cx="153.2" cy="710.2" r="1.4"/><circle cx="153.8" cy="653.9" r="1.0"/><circle cx="122.0" cy="653.3" r="1.5"/><circle cx="121.9" cy="669.0" r="1.6"/><circle cx="165.5" cy="678.2" r="1.4"/><circle cx="118.1" cy="652.0" r="1.2"/><circle cx="153.3" cy="679.8" r="1.7"/><circle cx="111.4" cy="685.9" r="1.0"/><circle cx="103.1" cy="654.2" r="0.9"/><circle cx="116.8" cy="663.6" r="1.5"/><circle cx="103.8" cy="713.0" r="1.5"/><circle cx="97.8" cy="699.1" r="1.5"/><circle cx="135.2" cy="675.5" r="1.4"/><circle cx="135.6" cy="707.9" r="1.6"/><circle cx="103.9" cy="668.9" r="1.6"/><circle cx="121.0" cy="675.8" r="1.4"/><circle cx="116.5" cy="646.7" r="1.2"/><circle cx="161.1" cy="672.0" r="1.1"/><circle cx="159.2" cy="679.1" r="1.2"/><circle cx="99.8" cy="684.2" r="1.2"/><circle cx="115.8" cy="709.3" r="1.5"/><circle cx="97.8" cy="660.7" r="1.2"/><circle cx="129.8" cy="663.7" r="1.2"/><circle cx="136.1" cy="651.9" r="1.2"/><circle cx="107.4" cy="674.4" r="0.9"/><circle cx="156.6" cy="701.3" r="1.1"/><circle cx="123.1" cy="697.6" r="1.7"/><circle cx="137.9" cy="661.0" r="1.1"/><circle cx="151.8" cy="687.5" r="1.6"/><circle cx="104.0" cy="685.5" r="1.5"/><circle cx="123.4" cy="677.5" r="1.2"/><circle cx="114.1" cy="698.2" r="1.0"/><circle cx="132.9" cy="704.7" r="1.3"/><circle cx="189.0" cy="706.3" r="1.0"/><circle cx="127.8" cy="655.7" r="1.4"/><circle cx="100.6" cy="670.6" r="1.2"/><circle cx="166.9" cy="679.9" r="1.1"/><circle cx="173.0" cy="676.3" r="1.7"/><circle cx="132.5" cy="669.7" r="1.2"/><circle cx="110.0" cy="684.0" r="1.5"/><circle cx="116.1" cy="712.3" r="1.5"/><circle cx="169.7" cy="672.2" r="1.1"/><circle cx="135.8" cy="676.3" r="1.7"/><circle cx="111.3" cy="701.6" r="1.4"/><circle cx="114.0" cy="706.0" r="1.4"/><circle cx="118.5" cy="645.8" r="1.6"/><circle cx="115.3" cy="666.7" r="1.4"/><circle cx="164.7" cy="709.0" r="1.2"/><circle cx="101.4" cy="693.6" r="1.6"/><circle cx="139.0" cy="647.5" r="1.6"/><circle cx="99.5" cy="682.0" r="1.4"/><circle cx="99.0" cy="688.2" r="1.6"/><circle cx="123.4" cy="671.3" r="1.4"/><circle cx="168.6" cy="712.8" r="1.1"/><circle cx="142.8" cy="646.5" r="1.5"/><circle cx="143.1" cy="646.1" r="1.2"/><circle cx="160.5" cy="708.3" r="1.5"/><circle cx="103.3" cy="681.0" r="0.9"/><circle cx="159.4" cy="650.6" r="1.1"/></g><g fill="#33275a" fill-opacity="0.75"><circle cx="136.6" cy="712.3" r="0.9"/><circle cx="111.7" cy="648.7" r="1.1"/><circle cx="136.3" cy="675.7" r="1.2"/><circle cx="123.2" cy="667.2" r="1.0"/><circle cx="105.9" cy="688.9" r="1.6"/><circle cx="169.0" cy="647.6" r="1.5"/><circle cx="112.5" cy="677.8" r="1.6"/><circle cx="166.5" cy="646.6" r="0.9"/><circle cx="101.8" cy="692.6" r="1.7"/><circle cx="115.3" cy="709.1" r="1.4"/><circle cx="131.3" cy="701.7" r="1.5"/><circle cx="135.1" cy="675.2" r="1.3"/><circle cx="155.3" cy="669.2" r="1.1"/><circle cx="155.0" cy="706.2" r="1.4"/><circle cx="152.5" cy="686.5" r="1.4"/><circle cx="111.5" cy="678.8" r="1.7"/><circle cx="145.9" cy="673.4" r="1.1"/><circle cx="102.4" cy="694.3" r="1.3"/><circle cx="147.1" cy="686.7" r="1.6"/><circle cx="128.7" cy="702.2" r="1.1"/><circle cx="176.6" cy="694.7" r="1.6"/><circle cx="153.3" cy="667.6" r="1.5"/><circle cx="115.8" cy="657.5" r="1.1"/><circle cx="136.5" cy="713.5" r="1.3"/><circle cx="167.7" cy="691.0" r="1.6"/><circle cx="191.7" cy="707.9" r="1.0"/><circle cx="133.0" cy="696.7" r="1.3"/><circle cx="153.4" cy="662.5" r="1.3"/><circle cx="107.8" cy="685.4" r="1.4"/><circle cx="129.7" cy="705.2" r="1.2"/><circle cx="149.8" cy="640.5" r="0.9"/><circle cx="155.9" cy="710.9" r="1.3"/><circle cx="140.7" cy="697.3" r="1.4"/><circle cx="168.7" cy="684.7" r="1.2"/><circle cx="98.7" cy="703.3" r="1.2"/><circle cx="163.3" cy="688.3" r="1.6"/><circle cx="121.4" cy="669.6" r="1.5"/><circle cx="119.0" cy="693.1" r="1.7"/><circle cx="113.7" cy="708.9" r="1.0"/><circle cx="161.5" cy="697.8" r="1.3"/><circle cx="134.6" cy="658.8" r="1.2"/><circle cx="126.4" cy="685.1" r="1.4"/><circle cx="185.6" cy="698.4" r="1.6"/><circle cx="145.2" cy="707.1" r="1.5"/><circle cx="147.1" cy="660.1" r="1.3"/><circle cx="146.8" cy="680.3" r="1.2"/><circle cx="98.9" cy="668.7" r="1.4"/><circle cx="109.5" cy="675.0" r="1.1"/><circle cx="111.8" cy="699.1" r="1.2"/><circle cx="111.4" cy="706.0" r="1.7"/><circle cx="126.0" cy="682.8" r="1.2"/><circle cx="159.4" cy="673.5" r="1.2"/><circle cx="142.0" cy="705.9" r="1.3"/><circle cx="99.1" cy="699.8" r="1.2"/></g><g fill="#3d3066" fill-opacity="0.75"><circle cx="158.5" cy="676.8" r="1.3"/><circle cx="149.2" cy="704.8" r="1.5"/><circle cx="104.7" cy="677.9" r="1.0"/><circle cx="145.7" cy="642.9" r="1.4"/><circle cx="157.7" cy="676.6" r="1.1"/><circle cx="118.0" cy="667.9" r="1.4"/><circle cx="128.2" cy="650.7" r="1.5"/><circle cx="165.7" cy="678.3" r="1.1"/><circle cx="125.0" cy="659.2" r="1.5"/><circle cx="189.8" cy="713.2" r="1.7"/><circle cx="183.4" cy="701.2" r="1.1"/><circle cx="141.6" cy="670.9" r="1.2"/><circle cx="142.7" cy="692.1" r="1.2"/><circle cx="104.6" cy="709.5" r="1.4"/><circle cx="130.9" cy="681.0" r="1.6"/><circle cx="113.6" cy="646.3" r="1.6"/><circle cx="165.7" cy="643.4" r="1.0"/><circle cx="123.4" cy="711.3" r="1.7"/><circle cx="160.8" cy="645.7" r="1.0"/><circle cx="159.7" cy="660.7" r="1.0"/><circle cx="188.8" cy="692.8" r="1.6"/><circle cx="162.7" cy="687.1" r="1.0"/><circle cx="144.0" cy="665.5" r="1.1"/><circle cx="171.6" cy="676.9" r="1.4"/><circle cx="127.1" cy="709.9" r="1.1"/><circle cx="146.6" cy="690.0" r="1.2"/><circle cx="116.6" cy="674.5" r="1.1"/><circle cx="171.1" cy="706.6" r="1.2"/><circle cx="180.9" cy="689.2" r="1.0"/><circle cx="167.4" cy="665.9" r="0.9"/><circle cx="153.3" cy="666.5" r="1.2"/><circle cx="139.2" cy="700.8" r="1.2"/><circle cx="188.8" cy="694.6" r="1.0"/><circle cx="152.9" cy="696.1" r="0.9"/><circle cx="156.6" cy="680.8" r="1.4"/><circle cx="127.9" cy="658.5" r="1.2"/><circle cx="150.3" cy="703.5" r="1.5"/><circle cx="123.7" cy="681.0" r="1.2"/><circle cx="170.1" cy="644.9" r="1.4"/><circle cx="173.3" cy="684.6" r="1.3"/><circle cx="129.7" cy="651.5" r="1.6"/><circle cx="160.8" cy="691.6" r="1.3"/><circle cx="98.8" cy="671.0" r="1.2"/><circle cx="152.9" cy="656.7" r="1.7"/><circle cx="176.8" cy="699.2" r="1.2"/><circle cx="145.3" cy="686.2" r="1.0"/><circle cx="150.6" cy="703.9" r="0.9"/><circle cx="152.9" cy="689.3" r="1.6"/><circle cx="152.1" cy="707.6" r="1.1"/><circle cx="169.0" cy="641.1" r="1.0"/><circle cx="154.6" cy="706.5" r="1.6"/><circle cx="111.8" cy="695.9" r="1.7"/><circle cx="141.0" cy="688.4" r="1.3"/><circle cx="138.1" cy="651.5" r="1.1"/><circle cx="195.8" cy="708.5" r="1.0"/><circle cx="175.3" cy="709.9" r="1.1"/></g><g fill="#251c45" fill-opacity="0.75"><circle cx="162.9" cy="644.5" r="1.5"/><circle cx="135.5" cy="689.5" r="0.9"/><circle cx="183.3" cy="710.5" r="1.4"/><circle cx="144.2" cy="648.5" r="1.3"/><circle cx="178.1" cy="694.8" r="1.1"/><circle cx="107.6" cy="674.8" r="1.2"/><circle cx="115.1" cy="698.5" r="1.2"/><circle cx="155.7" cy="674.5" r="1.4"/><circle cx="152.8" cy="696.3" r="1.6"/><circle cx="117.1" cy="660.5" r="1.3"/><circle cx="119.1" cy="710.6" r="1.2"/><circle cx="163.3" cy="656.6" r="1.5"/><circle cx="181.2" cy="690.1" r="1.7"/><circle cx="108.0" cy="700.7" r="1.2"/><circle cx="120.6" cy="696.1" r="1.1"/><circle cx="124.0" cy="689.8" r="1.5"/><circle cx="113.4" cy="655.4" r="1.6"/><circle cx="142.1" cy="664.7" r="1.5"/><circle cx="138.2" cy="670.7" r="1.3"/><circle cx="168.6" cy="688.0" r="1.5"/><circle cx="156.7" cy="640.8" r="1.1"/><circle cx="158.9" cy="685.2" r="1.6"/><circle cx="168.9" cy="702.2" r="1.7"/><circle cx="167.0" cy="654.5" r="1.3"/><circle cx="133.4" cy="706.5" r="0.9"/><circle cx="159.1" cy="670.0" r="1.2"/><circle cx="187.5" cy="700.4" r="1.0"/><circle cx="151.5" cy="644.7" r="1.0"/><circle cx="145.0" cy="644.0" r="1.6"/><circle cx="140.7" cy="641.7" r="1.4"/><circle cx="142.5" cy="658.8" r="1.7"/><circle cx="127.2" cy="649.9" r="1.2"/><circle cx="98.9" cy="699.4" r="1.5"/><circle cx="178.4" cy="706.1" r="1.4"/><circle cx="170.9" cy="674.5" r="1.5"/><circle cx="181.4" cy="708.3" r="1.7"/><circle cx="162.9" cy="705.2" r="1.5"/><circle cx="139.2" cy="673.7" r="1.4"/><circle cx="107.5" cy="682.6" r="1.3"/><circle cx="158.0" cy="687.2" r="1.1"/><circle cx="123.6" cy="657.4" r="1.0"/><circle cx="145.2" cy="706.5" r="0.9"/><circle cx="152.1" cy="701.3" r="1.1"/><circle cx="148.9" cy="701.1" r="1.5"/><circle cx="105.8" cy="686.6" r="1.5"/><circle cx="128.3" cy="684.5" r="1.7"/><circle cx="128.7" cy="710.3" r="1.5"/><circle cx="181.3" cy="699.8" r="1.4"/><circle cx="148.7" cy="641.5" r="0.9"/><circle cx="153.1" cy="687.5" r="1.7"/><circle cx="114.0" cy="676.4" r="1.2"/></g><g fill="#251c45"><circle cx="137.1" cy="660.6" r="1.0"/><circle cx="124.9" cy="670.8" r="1.2"/><circle cx="146.9" cy="696.6" r="1.2"/><circle cx="103.5" cy="694.8" r="1.6"/><circle cx="191.8" cy="703.2" r="1.0"/><circle cx="101.6" cy="687.2" r="1.7"/><circle cx="142.7" cy="700.8" r="1.7"/><circle cx="128.6" cy="697.3" r="1.5"/><circle cx="136.1" cy="708.7" r="1.6"/><circle cx="120.5" cy="675.2" r="1.7"/><circle cx="123.6" cy="646.2" r="1.0"/><circle cx="112.7" cy="679.6" r="1.4"/><circle cx="136.0" cy="670.0" r="1.7"/><circle cx="148.8" cy="708.6" r="1.0"/><circle cx="160.4" cy="704.6" r="1.5"/><circle cx="117.2" cy="685.1" r="1.3"/><circle cx="168.8" cy="675.4" r="1.3"/><circle cx="161.1" cy="667.6" r="1.1"/><circle cx="121.4" cy="703.2" r="1.5"/><circle cx="160.5" cy="701.4" r="1.3"/><circle cx="142.0" cy="698.2" r="1.1"/><circle cx="130.9" cy="703.9" r="1.2"/><circle cx="111.3" cy="673.1" r="1.0"/><circle cx="185.7" cy="689.5" r="1.1"/><circle cx="109.2" cy="695.9" r="1.7"/></g><g fill="#3d3066"><circle cx="125.3" cy="650.8" r="1.3"/><circle cx="186.2" cy="702.3" r="1.3"/><circle cx="121.9" cy="678.8" r="1.6"/><circle cx="134.5" cy="649.0" r="1.2"/><circle cx="109.9" cy="682.2" r="0.9"/><circle cx="139.3" cy="667.4" r="1.3"/><circle cx="133.2" cy="669.4" r="0.9"/><circle cx="147.2" cy="655.2" r="1.7"/><circle cx="132.1" cy="696.0" r="1.0"/><circle cx="137.2" cy="687.2" r="1.1"/><circle cx="148.3" cy="663.0" r="1.7"/><circle cx="126.2" cy="686.4" r="1.2"/><circle cx="160.9" cy="649.1" r="1.6"/><circle cx="122.8" cy="660.9" r="1.5"/><circle cx="125.8" cy="672.3" r="1.3"/><circle cx="162.6" cy="704.7" r="1.6"/><circle cx="179.3" cy="698.9" r="1.2"/><circle cx="127.4" cy="668.5" r="1.0"/><circle cx="178.5" cy="698.3" r="1.3"/><circle cx="138.7" cy="668.6" r="1.5"/><circle cx="153.3" cy="661.7" r="0.9"/><circle cx="173.1" cy="700.7" r="1.7"/><circle cx="120.7" cy="693.4" r="1.0"/><circle cx="113.0" cy="701.7" r="1.0"/></g><g fill="#33275a"><circle cx="119.5" cy="700.1" r="1.7"/><circle cx="163.4" cy="698.1" r="1.6"/><circle cx="160.9" cy="667.1" r="1.1"/><circle cx="124.3" cy="707.1" r="1.0"/><circle cx="147.3" cy="712.5" r="1.3"/><circle cx="185.0" cy="711.9" r="1.1"/><circle cx="179.8" cy="706.1" r="1.4"/><circle cx="177.5" cy="686.7" r="1.6"/><circle cx="110.6" cy="674.2" r="1.6"/><circle cx="117.6" cy="658.9" r="1.4"/><circle cx="141.5" cy="685.8" r="1.6"/><circle cx="186.6" cy="702.4" r="1.1"/><circle cx="108.5" cy="686.1" r="1.0"/><circle cx="145.8" cy="676.4" r="1.5"/><circle cx="146.9" cy="668.1" r="1.6"/><circle cx="166.8" cy="702.5" r="1.0"/><circle cx="162.3" cy="654.5" r="1.0"/><circle cx="108.3" cy="662.5" r="1.2"/><circle cx="159.9" cy="686.3" r="1.0"/><circle cx="138.1" cy="647.6" r="1.4"/><circle cx="170.8" cy="708.4" r="1.2"/><circle cx="135.7" cy="667.9" r="1.5"/><circle cx="105.9" cy="681.0" r="1.5"/><circle cx="155.5" cy="654.0" r="1.1"/><circle cx="109.7" cy="675.7" r="1.0"/><circle cx="187.6" cy="706.1" r="1.3"/><circle cx="113.5" cy="701.7" r="1.7"/><circle cx="153.8" cy="650.2" r="1.0"/></g><g fill="#2c2150" fill-opacity="0.5"><circle cx="139.7" cy="660.4" r="0.9"/><circle cx="100.4" cy="670.5" r="1.4"/><circle cx="171.9" cy="707.9" r="1.4"/><circle cx="132.8" cy="667.1" r="1.5"/><circle cx="110.3" cy="708.3" r="1.2"/><circle cx="110.5" cy="656.8" r="1.4"/><circle cx="148.5" cy="676.5" r="1.0"/><circle cx="185.2" cy="707.7" r="0.9"/><circle cx="130.9" cy="713.7" r="1.2"/></g><g fill="#3d3066" fill-opacity="0.5"><circle cx="171.0" cy="691.1" r="1.6"/><circle cx="161.2" cy="661.8" r="1.2"/></g><g fill="#46386e"><circle cx="139.0" cy="645.9" r="1.1"/><circle cx="168.5" cy="692.4" r="1.6"/><circle cx="146.9" cy="640.7" r="1.6"/><circle cx="133.7" cy="670.1" r="1.1"/><circle cx="142.1" cy="664.8" r="1.3"/><circle cx="182.1" cy="707.6" r="1.7"/><circle cx="143.9" cy="690.3" r="1.2"/><circle cx="149.7" cy="652.4" r="1.0"/><circle cx="166.9" cy="709.1" r="1.4"/><circle cx="148.7" cy="654.0" r="1.4"/><circle cx="168.8" cy="703.0" r="1.7"/><circle cx="154.3" cy="647.7" r="1.3"/><circle cx="166.6" cy="676.9" r="1.8"/><circle cx="135.6" cy="703.0" r="1.2"/><circle cx="145.5" cy="666.1" r="1.3"/><circle cx="147.6" cy="712.5" r="1.7"/><circle cx="160.8" cy="653.9" r="1.1"/><circle cx="137.1" cy="678.7" r="1.7"/><circle cx="155.6" cy="699.3" r="1.5"/><circle cx="166.4" cy="711.1" r="1.4"/><circle cx="141.9" cy="656.5" r="1.1"/><circle cx="188.8" cy="700.5" r="1.2"/><circle cx="142.2" cy="649.6" r="1.2"/><circle cx="151.1" cy="656.0" r="1.3"/><circle cx="167.3" cy="672.6" r="1.8"/><circle cx="147.8" cy="689.1" r="1.1"/><circle cx="164.2" cy="686.6" r="1.8"/><circle cx="161.1" cy="690.1" r="1.2"/><circle cx="163.8" cy="711.8" r="1.5"/><circle cx="165.0" cy="664.7" r="1.7"/><circle cx="131.0" cy="693.1" r="1.8"/><circle cx="153.1" cy="650.8" r="1.3"/><circle cx="173.0" cy="685.1" r="1.2"/><circle cx="177.5" cy="691.2" r="1.1"/><circle cx="151.4" cy="683.0" r="1.3"/><circle cx="162.7" cy="658.6" r="1.4"/><circle cx="157.5" cy="680.1" r="1.6"/><circle cx="175.7" cy="696.1" r="1.1"/><circle cx="158.7" cy="646.9" r="1.3"/><circle cx="132.8" cy="699.3" r="1.1"/><circle cx="148.4" cy="656.0" r="1.7"/><circle cx="152.5" cy="666.2" r="1.0"/><circle cx="159.3" cy="656.8" r="1.2"/><circle cx="144.4" cy="677.1" r="1.2"/><circle cx="139.0" cy="694.4" r="1.8"/><circle cx="165.1" cy="713.2" r="1.0"/><circle cx="150.4" cy="666.8" r="1.3"/><circle cx="179.2" cy="697.5" r="1.2"/><circle cx="186.8" cy="703.4" r="1.6"/><circle cx="153.5" cy="704.0" r="1.0"/><circle cx="146.2" cy="713.7" r="1.2"/><circle cx="132.8" cy="710.9" r="1.8"/><circle cx="170.0" cy="680.4" r="1.8"/><circle cx="142.0" cy="677.1" r="1.8"/><circle cx="168.5" cy="690.2" r="1.3"/><circle cx="142.9" cy="647.6" r="1.3"/><circle cx="164.5" cy="640.1" r="1.2"/><circle cx="143.1" cy="659.7" r="1.4"/><circle cx="130.0" cy="696.0" r="1.3"/><circle cx="148.7" cy="678.4" r="1.0"/><circle cx="146.6" cy="704.2" r="1.6"/><circle cx="143.3" cy="655.0" r="1.0"/><circle cx="171.3" cy="709.1" r="1.5"/><circle cx="156.2" cy="654.9" r="1.2"/><circle cx="136.4" cy="673.1" r="1.6"/><circle cx="148.3" cy="651.6" r="1.2"/><circle cx="139.2" cy="660.7" r="1.2"/><circle cx="179.5" cy="696.7" r="1.7"/><circle cx="195.2" cy="707.3" r="1.6"/><circle cx="184.7" cy="714.0" r="1.3"/><circle cx="153.9" cy="646.5" r="1.2"/><circle cx="160.3" cy="697.7" r="1.7"/><circle cx="189.2" cy="695.2" r="1.7"/><circle cx="136.7" cy="668.6" r="1.5"/><circle cx="138.3" cy="705.9" r="1.3"/><circle cx="146.9" cy="663.6" r="1.7"/><circle cx="138.5" cy="701.5" r="1.1"/><circle cx="146.7" cy="692.6" r="1.5"/><circle cx="173.5" cy="681.3" r="1.4"/><circle cx="144.3" cy="653.9" r="1.7"/><circle cx="156.9" cy="640.9" r="1.4"/><circle cx="187.9" cy="704.9" r="1.1"/><circle cx="186.4" cy="692.8" r="1.1"/><circle cx="149.0" cy="644.9" r="1.3"/><circle cx="135.7" cy="689.8" r="1.6"/><circle cx="175.6" cy="697.2" r="1.5"/><circle cx="144.5" cy="644.4" r="1.4"/><circle cx="166.5" cy="669.7" r="1.4"/><circle cx="134.5" cy="673.6" r="1.5"/><circle cx="136.8" cy="696.3" r="1.1"/><circle cx="139.6" cy="641.0" r="1.7"/><circle cx="157.9" cy="643.2" r="1.7"/><circle cx="189.9" cy="703.6" r="1.3"/><circle cx="181.8" cy="705.9" r="1.0"/><circle cx="133.1" cy="691.3" r="1.5"/><circle cx="152.4" cy="712.9" r="1.7"/><circle cx="189.7" cy="699.4" r="1.0"/><circle cx="133.4" cy="710.2" r="1.5"/><circle cx="170.5" cy="685.8" r="1.5"/><circle cx="164.6" cy="693.5" r="1.5"/><circle cx="150.6" cy="674.8" r="1.7"/><circle cx="158.7" cy="659.1" r="1.4"/><circle cx="137.6" cy="670.6" r="1.6"/><circle cx="151.8" cy="662.3" r="1.5"/><circle cx="166.4" cy="673.1" r="1.4"/><circle cx="166.6" cy="699.4" r="1.7"/><circle cx="138.7" cy="645.6" r="1.7"/><circle cx="170.4" cy="705.1" r="1.1"/><circle cx="158.3" cy="673.7" r="1.3"/><circle cx="184.3" cy="687.6" r="1.5"/><circle cx="143.2" cy="700.9" r="1.5"/><circle cx="134.4" cy="704.3" r="1.3"/><circle cx="159.9" cy="654.0" r="1.7"/><circle cx="145.6" cy="687.4" r="1.6"/><circle cx="153.2" cy="678.7" r="1.2"/><circle cx="169.3" cy="672.4" r="1.1"/><circle cx="156.7" cy="708.7" r="1.7"/><circle cx="131.2" cy="708.4" r="1.1"/><circle cx="162.6" cy="691.9" r="1.3"/><circle cx="149.0" cy="649.1" r="1.2"/><circle cx="161.4" cy="700.3" r="1.6"/><circle cx="152.0" cy="702.2" r="1.1"/><circle cx="185.2" cy="705.1" r="1.1"/><circle cx="165.7" cy="647.8" r="1.5"/><circle cx="171.5" cy="682.1" r="1.4"/><circle cx="188.8" cy="706.7" r="1.8"/><circle cx="169.8" cy="699.5" r="1.3"/><circle cx="167.8" cy="707.0" r="1.2"/><circle cx="139.1" cy="651.9" r="1.3"/><circle cx="134.7" cy="707.0" r="1.8"/><circle cx="151.3" cy="668.7" r="1.3"/></g><g fill="#33275a"><circle cx="176.9" cy="696.4" r="1.1"/><circle cx="142.3" cy="646.6" r="1.5"/><circle cx="148.0" cy="654.9" r="1.5"/><circle cx="153.1" cy="708.5" r="1.1"/><circle cx="148.0" cy="664.1" r="1.2"/><circle cx="141.0" cy="711.1" r="1.6"/><circle cx="154.6" cy="689.5" r="1.1"/><circle cx="144.1" cy="686.7" r="1.5"/><circle cx="152.0" cy="662.2" r="1.4"/><circle cx="171.0" cy="708.8" r="1.1"/><circle cx="169.8" cy="678.8" r="1.7"/><circle cx="186.9" cy="706.4" r="1.4"/><circle cx="165.8" cy="670.5" r="1.1"/><circle cx="147.9" cy="693.0" r="1.3"/><circle cx="186.0" cy="710.2" r="1.1"/><circle cx="142.2" cy="668.9" r="1.6"/><circle cx="142.4" cy="654.2" r="1.2"/><circle cx="155.9" cy="660.7" r="1.0"/><circle cx="156.5" cy="702.0" r="1.6"/><circle cx="139.8" cy="710.5" r="1.4"/><circle cx="175.5" cy="691.5" r="1.6"/><circle cx="189.9" cy="699.7" r="1.6"/><circle cx="150.3" cy="702.6" r="1.4"/><circle cx="137.9" cy="648.5" r="1.7"/><circle cx="185.1" cy="697.7" r="1.4"/><circle cx="154.2" cy="654.9" r="1.2"/><circle cx="173.7" cy="676.0" r="1.4"/><circle cx="134.5" cy="687.5" r="1.6"/><circle cx="155.1" cy="709.7" r="1.5"/><circle cx="167.5" cy="674.2" r="1.6"/><circle cx="156.5" cy="681.7" r="1.3"/><circle cx="154.9" cy="667.3" r="1.5"/><circle cx="142.1" cy="672.7" r="1.2"/><circle cx="140.7" cy="702.0" r="1.5"/><circle cx="185.5" cy="690.4" r="1.6"/><circle cx="132.2" cy="701.5" r="1.3"/><circle cx="151.4" cy="641.1" r="1.5"/><circle cx="191.1" cy="704.7" r="1.5"/><circle cx="144.1" cy="672.9" r="1.0"/><circle cx="170.8" cy="684.5" r="1.7"/><circle cx="190.0" cy="706.9" r="1.1"/><circle cx="181.2" cy="698.8" r="1.2"/><circle cx="179.2" cy="694.8" r="1.4"/><circle cx="153.8" cy="669.3" r="1.6"/><circle cx="144.8" cy="678.8" r="1.8"/><circle cx="133.7" cy="680.3" r="1.2"/><circle cx="143.4" cy="684.9" r="1.6"/><circle cx="151.7" cy="707.2" r="1.3"/><circle cx="191.3" cy="697.0" r="1.8"/><circle cx="148.5" cy="676.0" r="1.7"/><circle cx="147.7" cy="685.2" r="1.8"/><circle cx="155.4" cy="653.3" r="1.5"/><circle cx="193.9" cy="703.2" r="1.8"/><circle cx="153.3" cy="663.6" r="1.3"/><circle cx="152.5" cy="668.6" r="1.3"/><circle cx="176.2" cy="678.7" r="1.4"/><circle cx="139.5" cy="652.5" r="1.3"/><circle cx="155.6" cy="685.0" r="1.2"/><circle cx="152.4" cy="682.9" r="1.7"/><circle cx="168.4" cy="670.1" r="1.6"/><circle cx="140.7" cy="693.4" r="1.6"/><circle cx="162.9" cy="651.8" r="1.6"/><circle cx="133.1" cy="701.4" r="1.1"/><circle cx="167.5" cy="711.7" r="1.3"/><circle cx="161.4" cy="647.2" r="1.5"/><circle cx="154.5" cy="702.0" r="1.1"/><circle cx="184.8" cy="704.7" r="1.4"/><circle cx="143.6" cy="647.9" r="1.2"/><circle cx="151.0" cy="654.7" r="1.3"/><circle cx="159.7" cy="698.6" r="1.5"/><circle cx="148.9" cy="647.3" r="1.2"/><circle cx="149.4" cy="650.4" r="1.2"/><circle cx="129.8" cy="698.0" r="1.6"/><circle cx="167.9" cy="673.9" r="1.3"/><circle cx="144.3" cy="711.0" r="1.3"/><circle cx="178.1" cy="687.5" r="1.2"/><circle cx="134.9" cy="678.2" r="1.7"/><circle cx="170.2" cy="697.7" r="1.3"/><circle cx="146.7" cy="684.6" r="1.3"/><circle cx="154.4" cy="708.7" r="1.2"/><circle cx="180.7" cy="690.4" r="1.7"/><circle cx="148.5" cy="682.1" r="1.2"/><circle cx="181.1" cy="695.1" r="1.6"/><circle cx="136.4" cy="706.4" r="1.3"/><circle cx="137.0" cy="688.3" r="1.7"/><circle cx="133.4" cy="676.9" r="1.3"/><circle cx="178.9" cy="705.4" r="1.1"/><circle cx="138.3" cy="677.6" r="1.7"/><circle cx="151.1" cy="662.4" r="1.6"/><circle cx="160.1" cy="682.7" r="1.3"/><circle cx="142.0" cy="665.4" r="1.1"/><circle cx="151.1" cy="679.8" r="1.8"/><circle cx="140.0" cy="644.0" r="1.5"/><circle cx="142.6" cy="659.1" r="1.0"/><circle cx="147.9" cy="655.3" r="1.3"/><circle cx="149.9" cy="664.9" r="1.5"/><circle cx="152.2" cy="688.3" r="1.5"/><circle cx="151.3" cy="652.3" r="1.5"/><circle cx="179.0" cy="709.1" r="1.0"/><circle cx="188.0" cy="696.5" r="1.7"/><circle cx="153.7" cy="675.9" r="1.7"/><circle cx="132.8" cy="709.9" r="1.4"/><circle cx="171.0" cy="697.2" r="1.5"/><circle cx="167.5" cy="706.8" r="1.1"/><circle cx="166.4" cy="709.6" r="1.3"/><circle cx="164.9" cy="692.7" r="1.1"/><circle cx="154.5" cy="707.5" r="1.8"/><circle cx="166.3" cy="705.7" r="1.0"/><circle cx="143.0" cy="682.2" r="1.2"/><circle cx="152.1" cy="703.7" r="1.8"/><circle cx="173.1" cy="692.5" r="1.5"/><circle cx="152.0" cy="676.6" r="1.3"/><circle cx="150.3" cy="692.2" r="1.3"/><circle cx="182.6" cy="691.4" r="1.5"/><circle cx="137.3" cy="691.6" r="1.0"/><circle cx="137.4" cy="706.7" r="1.6"/><circle cx="175.3" cy="699.6" r="1.6"/><circle cx="162.1" cy="664.6" r="1.0"/><circle cx="147.4" cy="661.7" r="1.3"/><circle cx="175.8" cy="694.5" r="1.0"/><circle cx="152.9" cy="655.0" r="1.6"/><circle cx="170.1" cy="705.7" r="1.6"/><circle cx="183.0" cy="687.7" r="1.0"/><circle cx="175.6" cy="689.7" r="1.0"/><circle cx="157.4" cy="665.1" r="1.6"/><circle cx="139.3" cy="662.4" r="1.3"/><circle cx="159.9" cy="695.7" r="1.0"/><circle cx="167.9" cy="668.0" r="1.7"/><circle cx="157.8" cy="651.4" r="1.2"/><circle cx="173.8" cy="684.8" r="1.2"/><circle cx="182.0" cy="706.9" r="1.1"/><circle cx="163.2" cy="657.2" r="1.7"/><circle cx="139.1" cy="683.9" r="1.1"/><circle cx="171.3" cy="695.3" r="1.0"/><circle cx="166.9" cy="690.2" r="1.3"/></g><g fill="#3d3066"><circle cx="154.0" cy="693.5" r="1.0"/><circle cx="165.0" cy="713.0" r="1.0"/><circle cx="150.3" cy="658.1" r="1.7"/><circle cx="157.9" cy="657.7" r="1.4"/><circle cx="134.3" cy="661.8" r="1.3"/><circle cx="144.5" cy="694.5" r="1.6"/><circle cx="165.5" cy="688.2" r="1.2"/><circle cx="171.7" cy="678.3" r="1.7"/><circle cx="155.9" cy="667.9" r="1.2"/><circle cx="148.0" cy="702.5" r="1.7"/><circle cx="156.3" cy="686.3" r="1.8"/><circle cx="174.1" cy="695.3" r="1.1"/><circle cx="137.5" cy="688.6" r="1.2"/><circle cx="139.0" cy="676.9" r="1.4"/><circle cx="137.3" cy="666.6" r="1.1"/><circle cx="185.9" cy="690.0" r="1.8"/><circle cx="141.1" cy="649.3" r="1.6"/><circle cx="143.5" cy="711.4" r="1.1"/><circle cx="150.6" cy="655.3" r="1.0"/><circle cx="136.5" cy="673.0" r="1.5"/><circle cx="170.8" cy="686.5" r="1.7"/><circle cx="185.0" cy="708.7" r="1.1"/><circle cx="138.1" cy="701.2" r="1.3"/><circle cx="134.7" cy="708.2" r="1.7"/><circle cx="169.1" cy="704.6" r="1.5"/><circle cx="141.3" cy="711.0" r="1.4"/><circle cx="180.0" cy="686.9" r="1.5"/><circle cx="160.8" cy="706.3" r="1.6"/><circle cx="166.7" cy="650.7" r="1.6"/><circle cx="176.6" cy="680.8" r="1.7"/><circle cx="176.2" cy="708.3" r="1.7"/><circle cx="143.3" cy="641.7" r="1.1"/><circle cx="144.2" cy="687.6" r="1.0"/><circle cx="143.2" cy="674.3" r="1.0"/><circle cx="143.0" cy="681.4" r="1.1"/><circle cx="142.2" cy="712.8" r="1.4"/><circle cx="150.2" cy="664.2" r="1.3"/><circle cx="166.1" cy="705.4" r="1.2"/><circle cx="156.2" cy="672.2" r="1.1"/><circle cx="134.5" cy="662.4" r="1.4"/><circle cx="149.1" cy="708.1" r="1.6"/><circle cx="150.1" cy="676.8" r="1.7"/><circle cx="138.9" cy="643.5" r="1.6"/><circle cx="163.6" cy="680.7" r="1.6"/><circle cx="158.6" cy="688.0" r="1.4"/><circle cx="150.2" cy="644.8" r="1.8"/><circle cx="172.2" cy="708.5" r="1.6"/><circle cx="162.0" cy="657.6" r="1.3"/><circle cx="137.7" cy="693.2" r="1.2"/><circle cx="144.5" cy="659.4" r="1.3"/><circle cx="153.0" cy="705.6" r="1.5"/><circle cx="162.8" cy="670.3" r="1.5"/><circle cx="181.6" cy="692.4" r="1.6"/><circle cx="195.7" cy="709.6" r="1.4"/><circle cx="163.4" cy="646.6" r="1.1"/><circle cx="148.7" cy="673.3" r="1.2"/><circle cx="142.5" cy="682.1" r="1.0"/><circle cx="172.8" cy="695.2" r="1.1"/><circle cx="152.8" cy="698.1" r="1.6"/><circle cx="131.2" cy="688.3" r="1.7"/><circle cx="172.1" cy="707.0" r="1.3"/><circle cx="158.1" cy="642.4" r="1.3"/><circle cx="178.5" cy="689.4" r="1.1"/><circle cx="169.3" cy="672.9" r="1.8"/><circle cx="160.0" cy="712.2" r="1.3"/><circle cx="166.7" cy="712.0" r="1.6"/><circle cx="147.0" cy="709.9" r="1.2"/><circle cx="150.8" cy="708.0" r="1.4"/><circle cx="149.3" cy="669.1" r="1.6"/><circle cx="141.7" cy="672.1" r="1.2"/><circle cx="175.0" cy="692.1" r="1.5"/><circle cx="150.5" cy="691.8" r="1.1"/><circle cx="140.8" cy="652.8" r="1.6"/><circle cx="182.1" cy="711.2" r="1.3"/><circle cx="143.7" cy="666.3" r="1.1"/><circle cx="162.5" cy="658.6" r="1.3"/><circle cx="142.9" cy="641.6" r="1.7"/><circle cx="179.1" cy="702.0" r="1.8"/><circle cx="149.2" cy="680.3" r="1.3"/><circle cx="132.4" cy="701.2" r="1.3"/><circle cx="180.6" cy="689.0" r="1.2"/><circle cx="144.1" cy="709.0" r="1.7"/><circle cx="150.8" cy="693.5" r="1.1"/><circle cx="155.2" cy="644.5" r="1.2"/><circle cx="157.2" cy="663.6" r="1.2"/><circle cx="182.1" cy="710.1" r="1.6"/><circle cx="194.3" cy="702.2" r="1.2"/><circle cx="158.4" cy="663.0" r="1.6"/><circle cx="148.3" cy="708.2" r="1.4"/><circle cx="193.3" cy="706.7" r="1.2"/><circle cx="153.0" cy="648.7" r="1.5"/><circle cx="191.4" cy="711.9" r="1.1"/><circle cx="145.7" cy="695.4" r="1.7"/><circle cx="136.5" cy="646.8" r="1.5"/><circle cx="138.7" cy="653.6" r="1.8"/><circle cx="157.9" cy="665.1" r="1.6"/><circle cx="134.2" cy="674.5" r="1.5"/><circle cx="171.7" cy="703.2" r="1.5"/><circle cx="147.8" cy="652.8" r="1.6"/><circle cx="168.1" cy="706.6" r="1.8"/><circle cx="141.2" cy="663.5" r="1.7"/><circle cx="146.4" cy="685.8" r="1.3"/><circle cx="178.6" cy="700.2" r="1.2"/><circle cx="187.9" cy="706.9" r="1.0"/><circle cx="147.6" cy="665.6" r="1.7"/><circle cx="138.1" cy="661.6" r="1.4"/><circle cx="153.6" cy="666.2" r="1.3"/><circle cx="169.5" cy="690.2" r="1.3"/><circle cx="147.9" cy="675.5" r="1.4"/><circle cx="162.0" cy="641.5" r="1.4"/></g><g fill="#251c45"><circle cx="148.8" cy="702.4" r="1.7"/><circle cx="165.8" cy="703.6" r="1.3"/><circle cx="145.7" cy="648.0" r="1.6"/><circle cx="141.1" cy="656.8" r="1.5"/><circle cx="183.6" cy="709.5" r="1.3"/><circle cx="193.0" cy="709.2" r="1.2"/><circle cx="134.9" cy="711.9" r="1.6"/><circle cx="157.7" cy="680.6" r="1.5"/><circle cx="131.7" cy="703.4" r="1.7"/><circle cx="168.1" cy="668.1" r="1.4"/><circle cx="164.4" cy="668.5" r="1.3"/><circle cx="163.1" cy="663.2" r="1.5"/><circle cx="161.7" cy="678.3" r="1.5"/><circle cx="158.0" cy="643.0" r="1.5"/><circle cx="162.3" cy="647.3" r="1.3"/><circle cx="183.3" cy="713.4" r="1.7"/><circle cx="156.9" cy="668.6" r="1.0"/><circle cx="153.1" cy="666.9" r="1.3"/><circle cx="148.8" cy="688.3" r="1.8"/><circle cx="171.7" cy="682.1" r="1.2"/><circle cx="151.0" cy="699.2" r="1.6"/><circle cx="189.9" cy="695.5" r="1.1"/><circle cx="140.7" cy="679.1" r="1.3"/><circle cx="156.4" cy="665.2" r="1.4"/><circle cx="136.9" cy="645.3" r="1.0"/><circle cx="143.8" cy="687.8" r="1.8"/><circle cx="142.0" cy="643.1" r="1.5"/><circle cx="189.3" cy="710.0" r="1.4"/><circle cx="135.1" cy="656.9" r="1.1"/><circle cx="135.2" cy="645.3" r="1.0"/><circle cx="158.3" cy="680.2" r="1.4"/><circle cx="194.0" cy="707.3" r="1.7"/><circle cx="151.5" cy="694.6" r="1.8"/><circle cx="183.2" cy="693.9" r="1.3"/><circle cx="175.0" cy="689.8" r="1.7"/><circle cx="135.7" cy="655.2" r="1.7"/><circle cx="146.6" cy="666.2" r="1.4"/><circle cx="141.8" cy="641.5" r="1.0"/><circle cx="148.2" cy="695.5" r="1.5"/><circle cx="168.3" cy="699.3" r="1.1"/><circle cx="168.5" cy="697.5" r="1.8"/><circle cx="141.3" cy="685.8" r="1.7"/><circle cx="144.0" cy="664.1" r="1.0"/><circle cx="153.8" cy="681.4" r="1.5"/><circle cx="167.1" cy="713.7" r="1.2"/><circle cx="147.9" cy="666.8" r="1.7"/><circle cx="162.0" cy="673.6" r="1.1"/><circle cx="145.6" cy="673.1" r="1.1"/><circle cx="161.7" cy="640.4" r="1.1"/><circle cx="170.2" cy="703.6" r="1.2"/><circle cx="180.5" cy="708.2" r="1.6"/><circle cx="151.1" cy="692.8" r="1.2"/><circle cx="132.7" cy="681.8" r="1.7"/><circle cx="154.5" cy="675.1" r="1.7"/><circle cx="160.3" cy="702.8" r="1.2"/><circle cx="135.0" cy="708.9" r="1.3"/><circle cx="135.6" cy="653.6" r="1.3"/><circle cx="160.2" cy="679.7" r="1.1"/><circle cx="171.2" cy="712.0" r="1.5"/><circle cx="142.0" cy="683.5" r="1.4"/><circle cx="150.0" cy="700.5" r="1.7"/><circle cx="145.7" cy="680.3" r="1.3"/><circle cx="171.1" cy="699.6" r="1.5"/><circle cx="139.5" cy="707.3" r="1.4"/><circle cx="144.8" cy="679.7" r="1.5"/><circle cx="133.9" cy="660.9" r="1.0"/><circle cx="140.5" cy="673.9" r="1.6"/><circle cx="167.3" cy="642.4" r="1.4"/><circle cx="157.3" cy="665.3" r="1.2"/><circle cx="150.2" cy="706.6" r="1.6"/><circle cx="192.1" cy="712.7" r="1.3"/><circle cx="132.0" cy="705.0" r="1.8"/><circle cx="157.4" cy="683.4" r="1.5"/><circle cx="179.1" cy="682.2" r="1.6"/><circle cx="161.4" cy="647.8" r="1.6"/><circle cx="175.1" cy="689.0" r="1.5"/><circle cx="133.7" cy="688.2" r="1.2"/><circle cx="136.5" cy="652.1" r="1.8"/><circle cx="173.8" cy="691.2" r="1.6"/><circle cx="135.1" cy="645.1" r="1.1"/><circle cx="151.2" cy="660.9" r="1.4"/><circle cx="159.4" cy="656.0" r="1.5"/><circle cx="141.6" cy="675.3" r="1.4"/><circle cx="141.1" cy="711.2" r="1.3"/><circle cx="136.0" cy="700.1" r="1.5"/><circle cx="155.0" cy="645.9" r="1.7"/><circle cx="158.1" cy="664.0" r="1.8"/><circle cx="131.3" cy="711.9" r="1.4"/><circle cx="182.2" cy="695.7" r="1.7"/><circle cx="169.2" cy="701.1" r="1.4"/><circle cx="135.7" cy="709.0" r="1.7"/><circle cx="180.7" cy="693.2" r="1.7"/><circle cx="140.8" cy="663.6" r="1.4"/><circle cx="167.9" cy="670.1" r="1.2"/><circle cx="177.6" cy="706.1" r="1.7"/><circle cx="141.1" cy="653.7" r="1.6"/><circle cx="157.8" cy="669.8" r="1.6"/><circle cx="147.0" cy="686.9" r="1.7"/><circle cx="140.5" cy="705.4" r="1.8"/><circle cx="136.2" cy="687.2" r="1.1"/><circle cx="157.8" cy="684.0" r="1.2"/><circle cx="181.6" cy="690.2" r="1.1"/><circle cx="137.2" cy="656.0" r="1.4"/><circle cx="156.0" cy="663.0" r="1.5"/><circle cx="147.4" cy="677.4" r="1.1"/><circle cx="184.6" cy="697.0" r="1.5"/><circle cx="175.1" cy="702.3" r="1.5"/><circle cx="169.7" cy="708.2" r="1.3"/><circle cx="170.4" cy="675.3" r="1.3"/><circle cx="145.4" cy="676.7" r="1.8"/></g><g fill="#2c2150"><circle cx="180.3" cy="704.3" r="1.5"/><circle cx="161.4" cy="679.3" r="1.4"/><circle cx="131.8" cy="691.8" r="1.2"/><circle cx="186.7" cy="693.1" r="1.0"/><circle cx="158.0" cy="683.4" r="1.6"/><circle cx="167.4" cy="684.7" r="1.0"/><circle cx="170.0" cy="700.0" r="1.7"/><circle cx="146.0" cy="697.2" r="1.1"/><circle cx="139.5" cy="671.6" r="1.7"/><circle cx="146.6" cy="702.4" r="1.5"/><circle cx="161.8" cy="677.8" r="1.0"/><circle cx="142.9" cy="705.7" r="1.8"/><circle cx="154.4" cy="669.5" r="1.6"/><circle cx="142.5" cy="685.1" r="1.2"/><circle cx="185.5" cy="694.5" r="1.6"/><circle cx="157.8" cy="714.1" r="1.3"/><circle cx="139.1" cy="662.5" r="1.3"/><circle cx="155.9" cy="690.7" r="1.3"/><circle cx="132.9" cy="696.6" r="1.5"/><circle cx="174.4" cy="712.2" r="1.5"/><circle cx="146.6" cy="648.2" r="1.2"/><circle cx="138.5" cy="680.2" r="1.0"/><circle cx="176.9" cy="713.8" r="1.5"/><circle cx="156.2" cy="654.1" r="1.6"/><circle cx="137.5" cy="693.7" r="1.3"/><circle cx="146.3" cy="665.4" r="1.7"/><circle cx="137.8" cy="705.9" r="1.4"/><circle cx="157.6" cy="648.9" r="1.1"/><circle cx="136.9" cy="695.2" r="1.3"/><circle cx="132.1" cy="680.7" r="1.6"/><circle cx="142.2" cy="666.3" r="1.6"/><circle cx="159.6" cy="675.9" r="1.0"/><circle cx="165.7" cy="683.3" r="1.1"/><circle cx="149.9" cy="680.8" r="1.3"/><circle cx="139.2" cy="684.7" r="1.7"/><circle cx="175.4" cy="701.9" r="1.1"/><circle cx="136.1" cy="650.6" r="1.6"/><circle cx="135.7" cy="686.6" r="1.3"/><circle cx="140.1" cy="698.5" r="1.0"/><circle cx="173.6" cy="699.7" r="1.1"/><circle cx="141.7" cy="698.7" r="1.6"/><circle cx="134.6" cy="684.1" r="1.5"/><circle cx="137.6" cy="659.6" r="1.1"/><circle cx="176.8" cy="713.4" r="1.7"/><circle cx="131.2" cy="686.0" r="1.0"/><circle cx="164.0" cy="663.4" r="1.8"/><circle cx="135.8" cy="689.0" r="1.1"/><circle cx="194.4" cy="703.1" r="1.5"/><circle cx="154.4" cy="709.3" r="1.5"/><circle cx="153.2" cy="650.0" r="1.6"/><circle cx="172.6" cy="694.9" r="1.3"/><circle cx="148.4" cy="668.7" r="1.4"/><circle cx="140.7" cy="645.7" r="1.7"/><circle cx="154.7" cy="683.3" r="1.8"/><circle cx="155.8" cy="687.4" r="1.0"/><circle cx="161.7" cy="674.5" r="1.2"/><circle cx="136.0" cy="644.2" r="1.6"/><circle cx="181.8" cy="712.6" r="1.3"/><circle cx="159.8" cy="641.3" r="1.6"/><circle cx="137.7" cy="698.4" r="1.2"/><circle cx="136.5" cy="669.1" r="1.0"/><circle cx="150.5" cy="689.1" r="1.1"/><circle cx="160.6" cy="706.0" r="1.0"/><circle cx="161.8" cy="661.6" r="1.7"/><circle cx="142.3" cy="697.4" r="1.4"/><circle cx="173.7" cy="692.5" r="1.1"/><circle cx="169.4" cy="702.7" r="1.6"/><circle cx="146.2" cy="711.2" r="1.4"/><circle cx="165.8" cy="709.2" r="1.7"/><circle cx="165.1" cy="688.7" r="1.6"/><circle cx="171.5" cy="676.6" r="1.6"/><circle cx="188.3" cy="694.0" r="1.6"/><circle cx="148.0" cy="701.8" r="1.4"/><circle cx="146.9" cy="678.6" r="1.5"/><circle cx="147.7" cy="698.8" r="1.4"/><circle cx="146.8" cy="687.8" r="1.8"/><circle cx="144.4" cy="655.8" r="1.2"/><circle cx="150.5" cy="682.2" r="1.7"/><circle cx="145.0" cy="712.2" r="1.5"/><circle cx="155.1" cy="644.7" r="1.5"/><circle cx="154.0" cy="689.4" r="1.7"/><circle cx="164.8" cy="692.0" r="1.8"/><circle cx="147.6" cy="706.5" r="1.8"/><circle cx="166.6" cy="668.1" r="1.0"/><circle cx="142.3" cy="707.1" r="1.3"/><circle cx="181.0" cy="701.0" r="1.5"/><circle cx="142.2" cy="707.3" r="1.2"/><circle cx="142.1" cy="709.0" r="1.2"/><circle cx="135.9" cy="641.4" r="1.6"/><circle cx="169.0" cy="684.1" r="1.6"/><circle cx="153.2" cy="640.6" r="1.6"/><circle cx="142.0" cy="705.3" r="1.8"/><circle cx="171.0" cy="707.9" r="1.6"/><circle cx="189.8" cy="702.0" r="1.6"/><circle cx="146.3" cy="665.8" r="1.3"/><circle cx="144.5" cy="658.5" r="1.3"/><circle cx="140.1" cy="661.3" r="1.7"/><circle cx="146.6" cy="644.7" r="1.1"/><circle cx="154.0" cy="691.1" r="1.4"/><circle cx="137.8" cy="650.6" r="1.1"/><circle cx="170.5" cy="675.0" r="1.7"/><circle cx="133.2" cy="674.1" r="1.6"/><circle cx="162.0" cy="677.8" r="1.3"/><circle cx="171.6" cy="688.2" r="1.6"/><circle cx="151.6" cy="652.0" r="1.7"/><circle cx="128.7" cy="707.8" r="1.1"/><circle cx="154.3" cy="710.9" r="1.2"/><circle cx="134.7" cy="670.1" r="1.3"/><circle cx="167.3" cy="670.5" r="1.4"/><circle cx="152.4" cy="693.1" r="1.2"/><circle cx="134.8" cy="654.3" r="1.5"/><circle cx="162.6" cy="697.5" r="1.1"/><circle cx="156.1" cy="646.4" r="1.3"/><circle cx="173.5" cy="688.9" r="1.0"/><circle cx="141.1" cy="655.4" r="1.4"/><circle cx="155.7" cy="693.2" r="1.3"/><circle cx="132.2" cy="698.8" r="1.5"/><circle cx="138.0" cy="707.4" r="1.4"/><circle cx="161.4" cy="674.7" r="1.1"/><circle cx="141.5" cy="666.1" r="1.3"/><circle cx="164.0" cy="669.8" r="1.1"/><circle cx="168.3" cy="681.9" r="1.7"/></g><g fill="#c8c2e0"><circle cx="103.4" cy="699.7" r="0.5"/><circle cx="119.1" cy="672.4" r="0.5"/><circle cx="139.1" cy="686.7" r="0.7"/><circle cx="156.3" cy="712.4" r="0.5"/><circle cx="113.3" cy="642.9" r="0.5"/><circle cx="193.5" cy="713.7" r="0.7"/><circle cx="113.8" cy="706.2" r="0.7"/><circle cx="147.9" cy="650.9" r="0.5"/><circle cx="146.4" cy="691.0" r="0.5"/><circle cx="146.8" cy="708.4" r="0.7"/><circle cx="130.4" cy="675.5" r="0.6"/><circle cx="128.7" cy="667.9" r="0.5"/><circle cx="182.1" cy="713.3" r="0.6"/><circle cx="155.3" cy="671.7" r="0.7"/><circle cx="155.5" cy="649.9" r="0.6"/><circle cx="105.5" cy="673.3" r="0.6"/><circle cx="179.9" cy="700.1" r="0.5"/><circle cx="144.6" cy="646.4" r="0.7"/><circle cx="118.7" cy="684.5" r="0.7"/><circle cx="169.3" cy="665.4" r="0.7"/><circle cx="172.5" cy="683.7" r="0.5"/><circle cx="133.7" cy="711.1" r="0.7"/><circle cx="146.6" cy="660.9" r="0.5"/><circle cx="128.4" cy="642.1" r="0.5"/><circle cx="144.9" cy="708.9" r="0.5"/><circle cx="133.0" cy="684.8" r="0.5"/><circle cx="167.4" cy="683.5" r="0.6"/><circle cx="152.0" cy="655.2" r="0.6"/><circle cx="108.4" cy="661.2" r="0.5"/><circle cx="164.3" cy="692.8" r="0.5"/><circle cx="132.0" cy="692.6" r="0.6"/><circle cx="98.8" cy="655.0" r="0.5"/><circle cx="164.0" cy="668.5" r="0.7"/><circle cx="104.1" cy="701.5" r="0.7"/><circle cx="133.4" cy="689.0" r="0.7"/><circle cx="161.9" cy="651.9" r="0.7"/><circle cx="132.9" cy="706.7" r="0.5"/><circle cx="113.5" cy="651.2" r="0.5"/><circle cx="138.2" cy="680.3" r="0.5"/><circle cx="120.8" cy="650.4" r="0.7"/><circle cx="121.3" cy="701.1" r="0.5"/><circle cx="163.5" cy="701.9" r="0.6"/><circle cx="109.6" cy="702.8" r="0.6"/><circle cx="178.1" cy="698.6" r="0.5"/><circle cx="130.5" cy="647.6" r="0.7"/><circle cx="97.9" cy="656.5" r="0.6"/><circle cx="130.5" cy="659.7" r="0.7"/><circle cx="101.2" cy="670.9" r="0.7"/><circle cx="110.0" cy="645.0" r="0.6"/><circle cx="166.2" cy="682.8" r="0.7"/><circle cx="113.4" cy="672.4" r="0.5"/><circle cx="106.5" cy="693.8" r="0.7"/><circle cx="109.9" cy="666.3" r="0.6"/><circle cx="158.5" cy="688.9" r="0.5"/><circle cx="151.1" cy="661.7" r="0.7"/><circle cx="106.0" cy="666.7" r="0.6"/><circle cx="130.7" cy="648.0" r="0.7"/><circle cx="139.0" cy="663.3" r="0.7"/><circle cx="167.7" cy="666.1" r="0.5"/><circle cx="139.3" cy="651.3" r="0.7"/><circle cx="115.8" cy="698.0" r="0.7"/><circle cx="164.4" cy="686.3" r="0.5"/><circle cx="154.6" cy="682.4" r="0.5"/><circle cx="117.2" cy="703.4" r="0.7"/><circle cx="143.9" cy="697.2" r="0.7"/><circle cx="101.1" cy="664.1" r="0.6"/><circle cx="195.3" cy="707.8" r="0.5"/><circle cx="121.5" cy="683.5" r="0.6"/><circle cx="174.0" cy="675.5" r="0.7"/><circle cx="162.8" cy="674.2" r="0.6"/><circle cx="190.0" cy="705.1" r="0.5"/><circle cx="165.8" cy="645.0" r="0.7"/><circle cx="108.7" cy="661.5" r="0.6"/><circle cx="172.5" cy="685.8" r="0.7"/><circle cx="133.6" cy="712.9" r="0.6"/><circle cx="99.7" cy="706.6" r="0.5"/><circle cx="113.7" cy="707.9" r="0.7"/><circle cx="164.1" cy="676.8" r="0.6"/><circle cx="150.8" cy="645.0" r="0.5"/><circle cx="123.0" cy="687.8" r="0.5"/><circle cx="162.4" cy="704.4" r="0.5"/><circle cx="127.9" cy="690.3" r="0.6"/><circle cx="163.7" cy="695.1" r="0.5"/><circle cx="141.7" cy="711.9" r="0.7"/><circle cx="105.5" cy="686.3" r="0.6"/><circle cx="123.9" cy="702.7" r="0.5"/><circle cx="156.9" cy="649.8" r="0.6"/><circle cx="163.7" cy="662.3" r="0.7"/><circle cx="134.6" cy="699.8" r="0.7"/><circle cx="125.2" cy="695.2" r="0.7"/><circle cx="110.6" cy="662.6" r="0.5"/><circle cx="112.9" cy="696.6" r="0.6"/><circle cx="144.0" cy="677.6" r="0.7"/><circle cx="161.9" cy="658.4" r="0.6"/><circle cx="177.0" cy="704.6" r="0.5"/><circle cx="151.9" cy="684.6" r="0.6"/><circle cx="166.5" cy="652.6" r="0.7"/><circle cx="179.7" cy="692.9" r="0.6"/><circle cx="119.3" cy="704.2" r="0.6"/><circle cx="107.3" cy="693.5" r="0.7"/><circle cx="118.9" cy="697.9" r="0.5"/><circle cx="131.7" cy="647.7" r="0.7"/><circle cx="165.6" cy="651.4" r="0.6"/><circle cx="103.4" cy="682.4" r="0.7"/><circle cx="122.0" cy="646.2" r="0.5"/><circle cx="171.3" cy="673.5" r="0.6"/><circle cx="118.3" cy="643.6" r="0.5"/><circle cx="178.1" cy="704.8" r="0.6"/><circle cx="99.7" cy="672.7" r="0.5"/><circle cx="101.7" cy="661.9" r="0.7"/><circle cx="100.0" cy="693.7" r="0.6"/><circle cx="158.2" cy="687.2" r="0.7"/><circle cx="135.2" cy="672.3" r="0.5"/><circle cx="148.6" cy="681.2" r="0.7"/><circle cx="161.7" cy="659.5" r="0.7"/><circle cx="140.9" cy="696.5" r="0.5"/></g><g fill="#b4acd4"><circle cx="116.5" cy="695.4" r="0.7"/><circle cx="108.6" cy="652.0" r="0.5"/><circle cx="163.7" cy="711.8" r="0.6"/><circle cx="129.5" cy="670.3" r="0.6"/><circle cx="141.4" cy="686.1" r="0.7"/><circle cx="151.4" cy="705.5" r="0.5"/><circle cx="184.3" cy="684.5" r="0.6"/><circle cx="167.0" cy="654.0" r="0.6"/><circle cx="175.5" cy="698.4" r="0.7"/><circle cx="128.8" cy="696.1" r="0.5"/><circle cx="113.1" cy="703.6" r="0.6"/><circle cx="112.2" cy="696.4" r="0.6"/><circle cx="157.2" cy="672.3" r="0.7"/><circle cx="146.1" cy="693.5" r="0.5"/><circle cx="124.9" cy="667.5" r="0.7"/><circle cx="173.2" cy="691.3" r="0.6"/><circle cx="142.4" cy="704.0" r="0.6"/><circle cx="132.1" cy="703.1" r="0.7"/><circle cx="172.1" cy="687.8" r="0.7"/><circle cx="130.6" cy="652.1" r="0.7"/><circle cx="123.1" cy="644.5" r="0.5"/><circle cx="193.1" cy="697.1" r="0.6"/><circle cx="118.4" cy="670.8" r="0.6"/><circle cx="164.7" cy="695.2" r="0.5"/><circle cx="144.9" cy="679.3" r="0.5"/><circle cx="113.3" cy="690.7" r="0.6"/><circle cx="185.1" cy="707.8" r="0.7"/><circle cx="146.1" cy="659.8" r="0.6"/><circle cx="133.9" cy="697.6" r="0.7"/><circle cx="125.1" cy="706.3" r="0.7"/><circle cx="107.5" cy="709.1" r="0.5"/><circle cx="179.2" cy="706.1" r="0.6"/><circle cx="113.3" cy="677.3" r="0.6"/><circle cx="179.7" cy="683.6" r="0.6"/><circle cx="115.3" cy="645.2" r="0.5"/><circle cx="105.3" cy="695.9" r="0.5"/><circle cx="121.6" cy="651.5" r="0.5"/><circle cx="148.1" cy="708.8" r="0.6"/><circle cx="147.8" cy="652.5" r="0.7"/><circle cx="123.0" cy="673.6" r="0.5"/><circle cx="137.7" cy="679.7" r="0.5"/><circle cx="112.8" cy="645.2" r="0.6"/><circle cx="147.0" cy="676.2" r="0.5"/><circle cx="152.9" cy="673.2" r="0.5"/><circle cx="175.3" cy="698.6" r="0.5"/><circle cx="121.1" cy="656.4" r="0.7"/><circle cx="131.8" cy="691.5" r="0.6"/><circle cx="162.4" cy="659.3" r="0.5"/><circle cx="106.6" cy="656.4" r="0.5"/><circle cx="105.8" cy="662.7" r="0.6"/><circle cx="116.9" cy="678.4" r="0.6"/><circle cx="138.7" cy="689.2" r="0.5"/><circle cx="124.7" cy="697.1" r="0.7"/><circle cx="148.5" cy="658.4" r="0.7"/><circle cx="142.0" cy="666.5" r="0.5"/><circle cx="133.6" cy="641.2" r="0.6"/><circle cx="133.0" cy="642.4" r="0.7"/><circle cx="145.5" cy="667.4" r="0.5"/><circle cx="101.8" cy="649.7" r="0.6"/><circle cx="130.2" cy="703.1" r="0.7"/><circle cx="108.5" cy="660.1" r="0.6"/><circle cx="147.7" cy="649.1" r="0.5"/><circle cx="108.9" cy="713.1" r="0.5"/><circle cx="148.7" cy="680.8" r="0.5"/><circle cx="174.1" cy="702.4" r="0.6"/><circle cx="113.2" cy="710.9" r="0.7"/><circle cx="133.8" cy="672.1" r="0.6"/><circle cx="133.8" cy="692.8" r="0.5"/><circle cx="130.5" cy="685.6" r="0.6"/><circle cx="129.9" cy="702.6" r="0.6"/><circle cx="113.5" cy="689.1" r="0.6"/><circle cx="133.0" cy="659.1" r="0.5"/><circle cx="100.3" cy="656.3" r="0.7"/><circle cx="168.1" cy="694.3" r="0.5"/><circle cx="99.1" cy="706.0" r="0.6"/><circle cx="150.0" cy="703.9" r="0.5"/><circle cx="99.7" cy="693.3" r="0.5"/><circle cx="183.2" cy="713.3" r="0.6"/><circle cx="152.0" cy="640.4" r="0.5"/><circle cx="119.9" cy="646.8" r="0.7"/><circle cx="157.8" cy="703.9" r="0.5"/><circle cx="118.9" cy="710.7" r="0.6"/><circle cx="146.9" cy="642.0" r="0.7"/><circle cx="137.0" cy="651.9" r="0.6"/><circle cx="123.5" cy="665.8" r="0.5"/><circle cx="134.6" cy="682.9" r="0.5"/><circle cx="175.0" cy="690.3" r="0.7"/><circle cx="112.9" cy="652.8" r="0.7"/><circle cx="144.3" cy="679.8" r="0.6"/><circle cx="101.3" cy="696.9" r="0.6"/><circle cx="123.4" cy="653.5" r="0.5"/><circle cx="119.5" cy="658.0" r="0.7"/><circle cx="108.7" cy="656.6" r="0.5"/><circle cx="101.1" cy="696.1" r="0.6"/><circle cx="119.5" cy="671.0" r="0.6"/><circle cx="164.2" cy="683.3" r="0.6"/><circle cx="124.5" cy="701.4" r="0.7"/><circle cx="109.2" cy="690.8" r="0.7"/><circle cx="159.3" cy="686.8" r="0.7"/><circle cx="111.6" cy="669.1" r="0.5"/><circle cx="130.7" cy="649.5" r="0.7"/><circle cx="108.9" cy="694.2" r="0.5"/><circle cx="109.1" cy="674.4" r="0.6"/><circle cx="129.2" cy="687.9" r="0.7"/><circle cx="156.9" cy="652.7" r="0.5"/><circle cx="152.7" cy="670.8" r="0.5"/><circle cx="162.9" cy="698.5" r="0.7"/></g><path d="M174 640 C170 648 167 655 167 662 C172 670 180 678 186 685 C190 690 194 695 196 698 L196 640 Z" fill="#d4d6e3"/><g fill="#3e3768"><circle cx="190.8" cy="647.5" r="1.5"/><circle cx="184.6" cy="676.9" r="0.9"/><circle cx="180.7" cy="653.9" r="0.9"/><circle cx="192.8" cy="661.7" r="1.0"/><circle cx="185.3" cy="668.9" r="1.5"/><circle cx="187.9" cy="670.5" r="1.2"/><circle cx="192.4" cy="664.8" r="1.0"/><circle cx="192.4" cy="650.4" r="1.2"/><circle cx="181.2" cy="655.4" r="1.3"/><circle cx="188.3" cy="665.6" r="1.0"/><circle cx="178.7" cy="648.3" r="1.3"/></g><g fill="#524a7a"><circle cx="185.3" cy="665.2" r="1.5"/><circle cx="187.9" cy="669.2" r="0.9"/><circle cx="185.9" cy="656.3" r="1.3"/><circle cx="183.7" cy="678.3" r="1.0"/><circle cx="184.7" cy="661.5" r="1.5"/><circle cx="188.7" cy="668.9" r="1.0"/><circle cx="185.2" cy="652.0" r="1.3"/><circle cx="187.5" cy="661.8" r="1.5"/><circle cx="195.4" cy="676.1" r="1.6"/><circle cx="190.9" cy="682.5" r="1.5"/></g><g fill="#6a6490"><circle cx="188.1" cy="684.1" r="1.2"/><circle cx="185.7" cy="667.9" r="1.0"/><circle cx="193.5" cy="672.1" r="1.0"/><circle cx="195.0" cy="655.3" r="1.5"/><circle cx="192.6" cy="667.3" r="0.9"/><circle cx="189.9" cy="649.2" r="1.2"/><circle cx="185.0" cy="662.0" r="1.1"/><circle cx="188.1" cy="684.0" r="1.0"/></g><path d="M101 640 L140 640 C134 644 126 646 118 646 C110 646 105 645 101 643.5 Z" fill="#cac8de"/><path d="M103 644.5 C111 646.8 126 647.2 140 641" fill="none" stroke="#2a2040" stroke-width="1.1"/><ellipse cx="116.5" cy="677" rx="4.5" ry="3.6" fill="#cfcbe2" fill-opacity="0.92"/><ellipse cx="102" cy="709" rx="4.5" ry="4.5" fill="#cfcbe2" fill-opacity="0.92"/><ellipse cx="125" cy="698" rx="3.6" ry="3" fill="#cfcbe2" fill-opacity="0.92"/><ellipse cx="112" cy="690" rx="2.6" ry="2.2" fill="#cfcbe2" fill-opacity="0.92"/><ellipse cx="150" cy="700" rx="2.2" ry="1.8" fill="#cfcbe2" fill-opacity="0.92"/><ellipse cx="108" cy="660" rx="2.6" ry="2.2" fill="#cfcbe2" fill-opacity="0.92"/><ellipse cx="137" cy="673" rx="2" ry="1.8" fill="#cfcbe2" fill-opacity="0.92"/><ellipse cx="129" cy="664" rx="1.8" ry="1.6" fill="#cfcbe2" fill-opacity="0.92"/></g><rect x="173" y="708.3" width="20.7" height="1.6" fill="#f4f4f8"/>
</g>
<clipPath id="c2"><rect x="198.8" y="640.1" width="98.4" height="74"/></clipPath>
<g clip-path="url(#c2)">
<rect x="198.8" y="640.1" width="98.4" height="74" fill="#8a8aa0"/>
<g filter="url(#bl)"><g transform="rotate(-55 248 677)"><rect x="178" y="607" width="140" height="140" filter="url(#f2b)"/><rect x="178" y="607" width="140" height="140" filter="url(#f2a)"/></g><g fill="#403a5c" fill-opacity="0.5"><circle cx="286.6" cy="674.0" r="1.1"/><circle cx="277.4" cy="702.4" r="1.5"/><circle cx="256.9" cy="686.6" r="1.3"/><circle cx="202.6" cy="658.8" r="1.4"/><circle cx="273.5" cy="663.5" r="1.0"/><circle cx="210.0" cy="695.0" r="1.4"/><circle cx="247.2" cy="669.3" r="1.4"/><circle cx="228.9" cy="647.3" r="1.1"/><circle cx="264.5" cy="646.2" r="1.1"/><circle cx="227.1" cy="704.5" r="1.4"/><circle cx="293.7" cy="650.3" r="1.5"/><circle cx="270.8" cy="642.8" r="1.2"/><circle cx="222.1" cy="697.8" r="1.2"/><circle cx="212.0" cy="693.0" r="1.5"/><circle cx="242.6" cy="704.4" r="1.4"/><circle cx="232.6" cy="688.8" r="1.6"/><circle cx="242.7" cy="662.6" r="1.3"/></g><g fill="#35324a" fill-opacity="0.5"><circle cx="207.5" cy="706.1" r="1.3"/><circle cx="237.7" cy="640.9" r="1.2"/><circle cx="240.1" cy="689.4" r="1.0"/><circle cx="213.2" cy="669.5" r="1.5"/><circle cx="254.6" cy="664.2" r="1.5"/><circle cx="225.8" cy="671.9" r="1.3"/><circle cx="246.1" cy="670.5" r="1.6"/><circle cx="212.4" cy="643.7" r="1.2"/><circle cx="255.9" cy="640.9" r="1.2"/><circle cx="210.2" cy="684.4" r="1.5"/><circle cx="286.9" cy="658.3" r="1.3"/><circle cx="260.7" cy="684.7" r="0.9"/><circle cx="286.0" cy="710.5" r="1.0"/><circle cx="252.7" cy="708.8" r="0.9"/><circle cx="221.3" cy="640.1" r="1.5"/><circle cx="279.0" cy="651.8" r="1.0"/><circle cx="291.6" cy="686.4" r="1.0"/><circle cx="222.6" cy="698.4" r="1.4"/><circle cx="267.6" cy="649.4" r="1.2"/><circle cx="227.5" cy="648.7" r="1.2"/><circle cx="236.2" cy="708.1" r="1.5"/><circle cx="235.3" cy="713.0" r="1.1"/><circle cx="208.7" cy="664.8" r="1.1"/><circle cx="266.9" cy="686.7" r="1.4"/><circle cx="270.5" cy="654.7" r="1.1"/><circle cx="231.3" cy="663.8" r="1.0"/><circle cx="232.5" cy="694.1" r="1.4"/></g><g fill="#2a2838" fill-opacity="0.75"><circle cx="208.9" cy="651.5" r="1.4"/><circle cx="242.2" cy="686.8" r="1.5"/><circle cx="294.3" cy="667.6" r="1.6"/><circle cx="264.1" cy="664.9" r="1.2"/><circle cx="242.6" cy="698.8" r="1.3"/><circle cx="247.0" cy="676.5" r="1.2"/><circle cx="285.2" cy="689.3" r="1.1"/><circle cx="285.0" cy="644.4" r="1.5"/><circle cx="215.0" cy="659.5" r="1.4"/><circle cx="236.2" cy="709.0" r="1.3"/><circle cx="281.2" cy="648.9" r="1.5"/><circle cx="204.1" cy="651.8" r="1.1"/><circle cx="206.4" cy="694.2" r="1.0"/><circle cx="228.7" cy="666.9" r="1.1"/><circle cx="247.9" cy="682.4" r="1.1"/><circle cx="236.1" cy="713.1" r="0.9"/><circle cx="245.0" cy="705.9" r="1.1"/><circle cx="270.8" cy="648.7" r="1.4"/><circle cx="287.3" cy="660.2" r="1.0"/><circle cx="232.5" cy="677.7" r="1.2"/><circle cx="222.0" cy="658.4" r="1.1"/></g><g fill="#2a2838" fill-opacity="0.5"><circle cx="278.7" cy="711.9" r="1.1"/><circle cx="221.3" cy="658.7" r="0.9"/><circle cx="204.5" cy="673.1" r="0.9"/><circle cx="202.5" cy="698.4" r="1.2"/><circle cx="293.1" cy="677.0" r="1.3"/><circle cx="203.2" cy="661.5" r="1.4"/><circle cx="292.7" cy="697.7" r="1.6"/><circle cx="253.8" cy="697.4" r="1.6"/><circle cx="277.1" cy="643.9" r="1.0"/><circle cx="210.8" cy="699.4" r="1.3"/><circle cx="216.9" cy="685.5" r="1.2"/><circle cx="216.5" cy="655.4" r="1.6"/><circle cx="261.9" cy="677.9" r="1.0"/><circle cx="279.4" cy="667.7" r="1.5"/><circle cx="270.7" cy="646.6" r="1.6"/><circle cx="261.1" cy="667.1" r="1.0"/><circle cx="212.7" cy="664.1" r="1.2"/><circle cx="228.0" cy="707.8" r="1.0"/><circle cx="240.2" cy="686.2" r="1.1"/><circle cx="235.5" cy="644.3" r="1.4"/><circle cx="295.5" cy="653.9" r="1.4"/></g><g fill="#403a5c" fill-opacity="0.75"><circle cx="238.1" cy="654.2" r="1.4"/><circle cx="238.6" cy="647.6" r="1.4"/><circle cx="290.1" cy="682.0" r="1.5"/><circle cx="263.7" cy="671.9" r="1.5"/><circle cx="294.1" cy="686.2" r="1.2"/><circle cx="269.5" cy="712.6" r="1.4"/><circle cx="224.0" cy="659.2" r="1.0"/><circle cx="200.8" cy="713.8" r="1.4"/><circle cx="218.8" cy="667.5" r="1.4"/><circle cx="254.9" cy="686.9" r="1.1"/><circle cx="246.7" cy="642.5" r="1.4"/><circle cx="233.2" cy="696.4" r="1.3"/><circle cx="228.7" cy="696.3" r="1.2"/><circle cx="291.1" cy="661.0" r="1.4"/><circle cx="231.2" cy="649.9" r="1.5"/></g><g fill="#35324a" fill-opacity="0.75"><circle cx="212.2" cy="676.5" r="1.1"/><circle cx="200.0" cy="646.9" r="0.9"/><circle cx="274.2" cy="697.3" r="1.3"/><circle cx="211.5" cy="653.7" r="1.4"/><circle cx="282.3" cy="682.0" r="1.1"/><circle cx="267.4" cy="689.9" r="1.0"/><circle cx="283.8" cy="687.3" r="1.2"/><circle cx="207.6" cy="648.8" r="0.9"/><circle cx="236.4" cy="702.2" r="1.5"/><circle cx="253.6" cy="693.6" r="1.0"/><circle cx="229.1" cy="678.2" r="1.1"/><circle cx="200.4" cy="692.6" r="1.5"/><circle cx="210.1" cy="695.5" r="1.4"/><circle cx="252.2" cy="671.6" r="1.1"/><circle cx="279.1" cy="673.6" r="1.4"/><circle cx="276.0" cy="680.8" r="1.4"/><circle cx="227.5" cy="691.0" r="1.0"/><circle cx="260.2" cy="702.7" r="1.1"/><circle cx="222.2" cy="679.7" r="1.5"/></g><path d="M273 640 L297.2 640 L297.2 662 C292 656 286 651 281 647 C277 644 274 642 273 640 Z" fill="#20161f" fill-opacity="0.92"/><ellipse cx="288" cy="669" rx="3.6" ry="11.5" transform="rotate(-28 288 669)" fill="#c2c4cc"/></g><rect x="273.7" y="708.9" width="19" height="2" fill="#f2f2f6"/>
</g>
<clipPath id="c3"><rect x="297.2" y="640.1" width="98.1" height="74"/></clipPath>
<g clip-path="url(#c3)">
<rect x="297.2" y="640.1" width="98.1" height="74" fill="#f1e4ec"/>
<g filter="url(#bl)"><path d="M364 640 L395.3 640 L395.3 670 C388 663 380 656 372 648 C368 645 365 642 364 640 Z" fill="#f1ebe8"/><ellipse cx="378" cy="697" rx="10" ry="9" fill="#f3e9ee"/><g fill="#4a2646"><circle cx="331.5" cy="676.0" r="1.0"/><circle cx="390.8" cy="686.8" r="1.0"/><circle cx="299.2" cy="676.4" r="1.0"/><circle cx="349.0" cy="702.7" r="0.7"/><circle cx="301.2" cy="650.1" r="1.3"/><circle cx="337.0" cy="650.1" r="1.2"/><circle cx="311.4" cy="678.0" r="1.2"/><circle cx="306.8" cy="703.1" r="1.0"/><circle cx="344.7" cy="705.1" r="1.1"/><circle cx="371.6" cy="662.4" r="1.1"/><circle cx="386.5" cy="707.3" r="0.8"/><circle cx="387.0" cy="711.7" r="0.9"/><circle cx="374.5" cy="709.4" r="1.1"/><circle cx="307.0" cy="683.6" r="0.9"/><circle cx="317.3" cy="704.0" r="1.0"/><circle cx="322.9" cy="672.5" r="1.2"/><circle cx="314.5" cy="707.9" r="0.9"/><circle cx="323.2" cy="689.9" r="1.1"/><circle cx="361.3" cy="648.4" r="0.7"/><circle cx="346.9" cy="651.7" r="1.2"/><circle cx="382.3" cy="682.0" r="1.0"/><circle cx="314.9" cy="707.7" r="1.0"/><circle cx="298.2" cy="657.6" r="1.2"/><circle cx="343.2" cy="646.6" r="0.9"/><circle cx="349.2" cy="680.0" r="1.0"/><circle cx="387.4" cy="689.4" r="0.8"/><circle cx="386.3" cy="664.4" r="0.8"/><circle cx="342.5" cy="712.8" r="0.9"/><circle cx="380.4" cy="673.3" r="0.8"/><circle cx="337.3" cy="681.4" r="1.2"/><circle cx="310.1" cy="658.9" r="1.2"/><circle cx="328.6" cy="644.5" r="0.8"/><circle cx="365.9" cy="664.0" r="1.2"/><circle cx="370.4" cy="689.6" r="0.9"/><circle cx="394.8" cy="681.3" r="0.9"/><circle cx="340.0" cy="688.3" r="1.2"/><circle cx="315.6" cy="712.9" r="1.3"/><circle cx="317.0" cy="703.4" r="0.9"/><circle cx="297.9" cy="655.0" r="1.3"/><circle cx="349.1" cy="686.0" r="0.9"/><circle cx="333.1" cy="640.0" r="1.3"/><circle cx="304.4" cy="713.5" r="1.1"/><circle cx="312.9" cy="680.2" r="0.9"/><circle cx="310.4" cy="659.5" r="0.9"/><circle cx="342.1" cy="655.2" r="1.2"/><circle cx="297.7" cy="653.7" r="1.0"/><circle cx="311.9" cy="689.0" r="0.7"/><circle cx="345.6" cy="710.6" r="0.8"/><circle cx="352.7" cy="681.5" r="1.3"/><circle cx="326.5" cy="676.3" r="0.7"/><circle cx="358.6" cy="646.4" r="0.9"/><circle cx="356.5" cy="700.8" r="0.7"/><circle cx="379.2" cy="657.5" r="1.1"/><circle cx="333.4" cy="660.4" r="1.2"/><circle cx="304.9" cy="705.0" r="0.9"/><circle cx="317.0" cy="676.9" r="1.0"/><circle cx="321.7" cy="687.2" r="1.2"/><circle cx="357.6" cy="707.8" r="1.3"/><circle cx="358.6" cy="699.5" r="1.2"/><circle cx="356.0" cy="648.8" r="0.8"/><circle cx="353.8" cy="713.2" r="1.1"/><circle cx="308.4" cy="649.7" r="0.7"/><circle cx="358.4" cy="677.7" r="1.0"/><circle cx="323.6" cy="711.2" r="0.9"/><circle cx="366.9" cy="706.4" r="1.2"/><circle cx="345.5" cy="646.0" r="1.1"/><circle cx="387.3" cy="662.8" r="1.0"/><circle cx="326.1" cy="700.2" r="1.2"/><circle cx="367.8" cy="684.5" r="0.8"/><circle cx="374.4" cy="667.0" r="1.0"/><circle cx="312.6" cy="696.3" r="1.3"/><circle cx="314.7" cy="665.1" r="0.9"/><circle cx="342.6" cy="694.0" r="1.0"/><circle cx="324.4" cy="678.9" r="1.0"/><circle cx="339.6" cy="644.4" r="1.3"/><circle cx="320.1" cy="702.4" r="1.2"/><circle cx="389.9" cy="702.1" r="0.7"/><circle cx="358.0" cy="672.3" r="0.9"/><circle cx="301.3" cy="645.5" r="1.2"/><circle cx="315.4" cy="662.6" r="1.2"/><circle cx="362.7" cy="680.0" r="0.7"/><circle cx="394.2" cy="677.4" r="0.9"/><circle cx="354.2" cy="656.2" r="1.1"/><circle cx="339.6" cy="702.1" r="1.1"/><circle cx="349.0" cy="670.5" r="0.7"/><circle cx="323.1" cy="645.6" r="1.1"/><circle cx="345.6" cy="711.5" r="1.2"/><circle cx="312.6" cy="656.1" r="0.7"/><circle cx="355.3" cy="710.8" r="0.8"/><circle cx="347.0" cy="681.2" r="0.9"/><circle cx="297.9" cy="672.9" r="1.3"/><circle cx="305.1" cy="681.3" r="0.7"/><circle cx="353.4" cy="711.0" r="0.9"/><circle cx="356.1" cy="702.3" r="1.0"/><circle cx="377.9" cy="677.7" r="1.3"/><circle cx="363.2" cy="657.2" r="1.0"/><circle cx="349.5" cy="660.6" r="1.0"/><circle cx="342.1" cy="669.0" r="1.1"/><circle cx="318.3" cy="711.2" r="1.0"/><circle cx="348.4" cy="648.1" r="1.2"/><circle cx="345.6" cy="692.8" r="1.1"/><circle cx="372.8" cy="656.9" r="1.2"/><circle cx="325.2" cy="711.9" r="0.8"/><circle cx="300.9" cy="680.8" r="0.7"/><circle cx="319.2" cy="678.1" r="0.7"/><circle cx="353.2" cy="670.0" r="1.2"/><circle cx="371.3" cy="682.2" r="1.1"/><circle cx="330.8" cy="655.5" r="0.7"/><circle cx="303.2" cy="648.6" r="1.3"/><circle cx="320.7" cy="678.5" r="0.8"/><circle cx="369.4" cy="668.3" r="1.1"/><circle cx="321.1" cy="657.1" r="1.0"/><circle cx="390.1" cy="710.4" r="1.1"/><circle cx="345.5" cy="640.4" r="1.2"/><circle cx="306.1" cy="708.7" r="1.3"/><circle cx="330.1" cy="713.7" r="0.9"/><circle cx="340.0" cy="660.2" r="0.9"/><circle cx="321.0" cy="694.5" r="1.0"/><circle cx="342.9" cy="710.1" r="1.2"/><circle cx="302.1" cy="676.0" r="0.7"/><circle cx="339.5" cy="702.2" r="1.1"/><circle cx="356.8" cy="695.3" r="1.0"/><circle cx="330.2" cy="644.6" r="0.9"/><circle cx="317.0" cy="652.9" r="0.8"/><circle cx="336.1" cy="703.6" r="0.7"/><circle cx="336.4" cy="681.0" r="0.9"/><circle cx="359.7" cy="700.6" r="0.8"/><circle cx="354.8" cy="674.0" r="0.7"/><circle cx="364.7" cy="709.8" r="0.7"/><circle cx="389.1" cy="666.1" r="1.2"/><circle cx="345.4" cy="685.5" r="1.0"/><circle cx="390.2" cy="712.8" r="0.7"/><circle cx="299.1" cy="672.3" r="1.0"/><circle cx="312.1" cy="641.6" r="0.8"/><circle cx="319.0" cy="699.9" r="0.9"/><circle cx="330.8" cy="663.0" r="1.2"/><circle cx="357.9" cy="654.4" r="1.0"/><circle cx="393.4" cy="686.5" r="1.3"/><circle cx="361.0" cy="664.2" r="1.0"/><circle cx="345.0" cy="668.9" r="0.9"/><circle cx="312.3" cy="655.2" r="1.1"/><circle cx="356.2" cy="713.1" r="1.3"/><circle cx="375.1" cy="662.5" r="0.9"/><circle cx="328.6" cy="664.9" r="0.8"/><circle cx="344.9" cy="653.9" r="1.1"/><circle cx="369.4" cy="711.9" r="1.3"/><circle cx="363.0" cy="703.1" r="0.8"/><circle cx="318.7" cy="642.1" r="0.7"/><circle cx="322.2" cy="642.3" r="0.8"/><circle cx="301.0" cy="688.3" r="1.3"/><circle cx="314.9" cy="674.2" r="1.2"/><circle cx="312.8" cy="684.7" r="0.7"/><circle cx="310.1" cy="653.5" r="0.9"/><circle cx="343.0" cy="652.8" r="1.0"/><circle cx="325.2" cy="666.3" r="1.0"/><circle cx="371.8" cy="659.5" r="1.1"/><circle cx="302.7" cy="665.9" r="1.0"/><circle cx="315.1" cy="704.8" r="0.7"/><circle cx="349.5" cy="644.0" r="1.2"/><circle cx="346.6" cy="678.7" r="1.1"/><circle cx="347.1" cy="652.2" r="0.9"/><circle cx="351.3" cy="709.0" r="1.1"/><circle cx="355.9" cy="662.1" r="0.9"/><circle cx="378.7" cy="684.1" r="1.0"/><circle cx="328.8" cy="675.1" r="1.0"/><circle cx="331.7" cy="676.7" r="1.0"/><circle cx="339.2" cy="651.0" r="1.2"/><circle cx="346.6" cy="642.6" r="0.9"/><circle cx="378.0" cy="709.7" r="1.3"/><circle cx="348.4" cy="642.6" r="1.1"/><circle cx="342.2" cy="674.4" r="1.3"/><circle cx="361.6" cy="678.7" r="1.1"/><circle cx="350.9" cy="708.3" r="1.1"/><circle cx="365.2" cy="696.3" r="1.1"/><circle cx="388.1" cy="713.6" r="0.9"/><circle cx="341.4" cy="644.0" r="1.1"/><circle cx="352.4" cy="667.3" r="0.8"/><circle cx="319.7" cy="651.6" r="1.0"/><circle cx="299.2" cy="679.5" r="1.0"/><circle cx="316.0" cy="703.1" r="1.0"/><circle cx="324.1" cy="697.2" r="1.2"/><circle cx="387.2" cy="672.1" r="0.9"/><circle cx="333.6" cy="684.0" r="0.8"/><circle cx="366.3" cy="710.7" r="0.9"/><circle cx="343.6" cy="676.4" r="0.9"/><circle cx="349.0" cy="686.1" r="0.7"/><circle cx="337.7" cy="681.3" r="0.8"/><circle cx="320.2" cy="705.5" r="0.9"/><circle cx="307.2" cy="688.8" r="1.1"/><circle cx="384.6" cy="665.4" r="0.7"/><circle cx="362.6" cy="662.1" r="1.0"/><circle cx="310.2" cy="705.1" r="0.9"/><circle cx="320.5" cy="704.8" r="1.2"/><circle cx="364.5" cy="677.4" r="0.9"/><circle cx="350.6" cy="697.8" r="1.0"/><circle cx="361.3" cy="714.0" r="1.1"/><circle cx="354.4" cy="674.4" r="0.8"/><circle cx="367.9" cy="674.0" r="0.9"/><circle cx="336.9" cy="668.4" r="0.7"/><circle cx="344.0" cy="685.6" r="1.2"/><circle cx="334.7" cy="669.6" r="0.9"/><circle cx="338.0" cy="712.7" r="1.0"/><circle cx="367.1" cy="645.9" r="1.3"/><circle cx="341.1" cy="640.3" r="0.7"/><circle cx="366.4" cy="683.6" r="1.1"/><circle cx="307.2" cy="681.8" r="0.8"/><circle cx="307.4" cy="670.0" r="1.0"/><circle cx="386.9" cy="703.9" r="0.7"/><circle cx="330.7" cy="688.5" r="0.8"/><circle cx="318.2" cy="679.2" r="1.1"/><circle cx="314.6" cy="660.7" r="0.7"/><circle cx="364.5" cy="645.8" r="1.1"/><circle cx="335.6" cy="651.4" r="1.2"/><circle cx="390.9" cy="694.7" r="1.2"/><circle cx="350.2" cy="677.5" r="1.1"/><circle cx="321.8" cy="705.9" r="0.9"/><circle cx="356.2" cy="712.1" r="0.8"/><circle cx="344.6" cy="677.2" r="0.9"/><circle cx="313.0" cy="668.5" r="1.0"/><circle cx="327.0" cy="657.7" r="1.2"/><circle cx="313.3" cy="658.7" r="0.9"/><circle cx="367.3" cy="670.3" r="1.0"/><circle cx="330.2" cy="686.4" r="0.8"/><circle cx="325.0" cy="671.3" r="1.1"/><circle cx="363.3" cy="693.1" r="1.2"/><circle cx="318.0" cy="672.8" r="1.1"/><circle cx="331.8" cy="649.7" r="0.8"/><circle cx="375.5" cy="673.7" r="1.0"/><circle cx="362.4" cy="649.2" r="1.0"/><circle cx="377.9" cy="682.6" r="1.0"/><circle cx="326.8" cy="644.5" r="1.3"/><circle cx="298.6" cy="664.3" r="1.2"/><circle cx="382.2" cy="708.9" r="0.8"/><circle cx="332.8" cy="661.8" r="0.8"/><circle cx="325.1" cy="682.4" r="1.1"/><circle cx="336.1" cy="687.7" r="0.9"/><circle cx="368.1" cy="678.7" r="1.1"/><circle cx="339.9" cy="670.6" r="1.3"/><circle cx="371.7" cy="679.9" r="1.0"/><circle cx="334.5" cy="673.4" r="0.7"/><circle cx="317.2" cy="669.3" r="0.9"/><circle cx="321.7" cy="705.8" r="0.8"/><circle cx="365.0" cy="679.3" r="1.3"/><circle cx="320.1" cy="643.1" r="0.9"/><circle cx="350.5" cy="705.4" r="1.3"/><circle cx="350.7" cy="653.1" r="0.9"/><circle cx="363.5" cy="680.8" r="1.2"/><circle cx="339.4" cy="660.1" r="0.9"/><circle cx="355.2" cy="650.8" r="0.9"/><circle cx="298.7" cy="688.4" r="1.3"/><circle cx="301.9" cy="642.5" r="1.2"/><circle cx="385.1" cy="683.2" r="1.0"/><circle cx="377.1" cy="709.4" r="1.0"/><circle cx="367.1" cy="713.2" r="0.7"/><circle cx="304.0" cy="653.9" r="1.1"/><circle cx="366.9" cy="678.2" r="0.9"/><circle cx="326.4" cy="704.9" r="0.9"/><circle cx="361.5" cy="703.1" r="0.8"/><circle cx="377.5" cy="710.0" r="0.9"/><circle cx="316.1" cy="677.1" r="1.2"/><circle cx="309.1" cy="666.8" r="0.9"/><circle cx="340.5" cy="670.5" r="0.8"/><circle cx="325.5" cy="673.8" r="0.8"/><circle cx="346.0" cy="687.2" r="1.2"/><circle cx="345.0" cy="708.6" r="0.7"/><circle cx="332.3" cy="680.2" r="1.2"/><circle cx="347.9" cy="695.5" r="1.0"/><circle cx="362.7" cy="712.1" r="1.2"/></g><g fill="#5a3a5a"><circle cx="318.5" cy="696.7" r="1.0"/><circle cx="350.7" cy="709.7" r="0.7"/><circle cx="326.3" cy="686.3" r="1.2"/><circle cx="362.0" cy="658.8" r="1.2"/><circle cx="301.8" cy="653.4" r="0.7"/><circle cx="311.3" cy="690.5" r="1.0"/><circle cx="339.6" cy="681.6" r="0.9"/><circle cx="306.1" cy="641.3" r="1.1"/><circle cx="341.2" cy="701.2" r="1.2"/><circle cx="308.4" cy="684.0" r="1.3"/><circle cx="303.9" cy="699.9" r="1.1"/><circle cx="314.2" cy="700.7" r="0.8"/><circle cx="345.2" cy="680.3" r="1.2"/><circle cx="357.3" cy="665.9" r="0.8"/><circle cx="350.4" cy="661.9" r="0.8"/><circle cx="313.4" cy="669.8" r="0.7"/><circle cx="306.8" cy="653.3" r="1.3"/><circle cx="333.6" cy="665.4" r="0.7"/><circle cx="332.9" cy="705.3" r="1.1"/><circle cx="309.3" cy="665.6" r="0.7"/><circle cx="364.8" cy="692.9" r="1.0"/><circle cx="315.4" cy="670.5" r="1.0"/><circle cx="394.8" cy="709.2" r="1.2"/><circle cx="305.4" cy="690.1" r="0.9"/><circle cx="334.2" cy="650.1" r="1.2"/><circle cx="355.7" cy="700.4" r="0.8"/><circle cx="364.9" cy="714.0" r="0.9"/><circle cx="327.2" cy="675.3" r="1.1"/><circle cx="297.3" cy="645.3" r="0.7"/><circle cx="373.6" cy="668.9" r="1.0"/><circle cx="365.9" cy="650.5" r="0.7"/><circle cx="348.6" cy="703.5" r="1.2"/><circle cx="384.3" cy="662.9" r="1.2"/><circle cx="306.2" cy="647.8" r="1.0"/><circle cx="323.6" cy="651.0" r="1.2"/><circle cx="299.1" cy="702.0" r="1.1"/><circle cx="362.2" cy="688.2" r="0.7"/><circle cx="308.6" cy="681.8" r="1.3"/><circle cx="307.5" cy="667.4" r="1.3"/><circle cx="349.2" cy="665.2" r="1.3"/><circle cx="336.3" cy="707.3" r="0.9"/><circle cx="318.9" cy="692.6" r="1.0"/><circle cx="337.7" cy="659.9" r="0.8"/><circle cx="375.7" cy="659.6" r="1.1"/><circle cx="331.7" cy="663.7" r="1.1"/><circle cx="384.5" cy="666.5" r="1.2"/><circle cx="387.7" cy="713.0" r="0.7"/><circle cx="310.8" cy="677.5" r="1.3"/><circle cx="313.6" cy="663.3" r="0.9"/><circle cx="374.3" cy="653.8" r="0.8"/><circle cx="306.4" cy="664.3" r="0.7"/><circle cx="369.8" cy="661.4" r="1.1"/><circle cx="341.5" cy="644.3" r="1.1"/><circle cx="347.0" cy="663.3" r="1.0"/><circle cx="324.8" cy="674.4" r="1.3"/><circle cx="315.0" cy="664.6" r="0.7"/><circle cx="301.9" cy="692.1" r="1.1"/><circle cx="352.9" cy="677.9" r="1.1"/><circle cx="372.1" cy="682.3" r="0.8"/><circle cx="325.7" cy="680.0" r="0.7"/><circle cx="317.4" cy="679.2" r="0.7"/><circle cx="338.6" cy="696.0" r="0.9"/><circle cx="349.8" cy="648.9" r="1.2"/><circle cx="337.6" cy="692.5" r="0.8"/><circle cx="354.5" cy="666.2" r="1.1"/><circle cx="320.5" cy="667.8" r="1.3"/><circle cx="351.6" cy="664.1" r="0.7"/><circle cx="388.8" cy="696.2" r="1.1"/><circle cx="345.9" cy="648.4" r="1.0"/><circle cx="301.6" cy="709.6" r="1.2"/><circle cx="362.0" cy="678.7" r="0.7"/><circle cx="382.5" cy="712.8" r="0.8"/><circle cx="335.5" cy="675.7" r="0.7"/><circle cx="363.8" cy="702.2" r="1.2"/><circle cx="319.3" cy="649.9" r="1.1"/><circle cx="332.5" cy="694.4" r="0.7"/><circle cx="315.2" cy="695.5" r="1.2"/><circle cx="378.5" cy="676.9" r="0.7"/><circle cx="314.3" cy="662.7" r="1.2"/><circle cx="298.2" cy="684.4" r="1.2"/><circle cx="303.3" cy="670.9" r="0.8"/><circle cx="372.2" cy="660.6" r="1.1"/><circle cx="347.0" cy="686.8" r="0.8"/><circle cx="312.4" cy="707.5" r="1.1"/><circle cx="353.4" cy="694.5" r="1.1"/><circle cx="331.5" cy="644.5" r="0.8"/><circle cx="319.6" cy="704.0" r="1.2"/><circle cx="352.4" cy="650.0" r="0.8"/><circle cx="303.2" cy="707.1" r="1.3"/><circle cx="383.6" cy="678.2" r="1.2"/><circle cx="312.9" cy="686.6" r="1.3"/><circle cx="302.7" cy="663.5" r="1.2"/><circle cx="351.0" cy="643.8" r="0.8"/><circle cx="312.4" cy="693.8" r="0.7"/><circle cx="316.6" cy="643.2" r="1.1"/><circle cx="338.1" cy="712.7" r="1.1"/><circle cx="318.9" cy="663.1" r="1.1"/><circle cx="388.7" cy="714.1" r="0.8"/><circle cx="358.5" cy="679.6" r="0.7"/><circle cx="331.6" cy="712.4" r="0.8"/><circle cx="339.1" cy="688.7" r="0.7"/><circle cx="351.4" cy="644.1" r="0.9"/><circle cx="377.6" cy="711.2" r="1.1"/><circle cx="304.5" cy="660.7" r="0.8"/><circle cx="332.7" cy="704.9" r="1.0"/><circle cx="311.7" cy="704.6" r="1.0"/><circle cx="350.7" cy="699.3" r="0.7"/><circle cx="329.9" cy="691.8" r="0.9"/><circle cx="341.7" cy="710.8" r="1.3"/><circle cx="371.8" cy="671.2" r="0.8"/><circle cx="306.4" cy="649.9" r="1.1"/><circle cx="312.1" cy="681.9" r="0.8"/><circle cx="360.9" cy="693.5" r="1.3"/><circle cx="386.6" cy="672.2" r="0.8"/><circle cx="323.8" cy="652.5" r="1.3"/><circle cx="379.7" cy="687.5" r="1.3"/><circle cx="308.6" cy="700.9" r="0.9"/><circle cx="374.8" cy="711.6" r="1.1"/><circle cx="393.2" cy="677.3" r="1.1"/><circle cx="316.7" cy="693.1" r="1.0"/><circle cx="327.7" cy="693.7" r="1.3"/><circle cx="345.1" cy="646.8" r="1.2"/><circle cx="343.9" cy="675.9" r="1.1"/><circle cx="330.0" cy="697.5" r="0.9"/><circle cx="368.1" cy="693.3" r="1.1"/><circle cx="392.8" cy="698.4" r="1.2"/><circle cx="304.7" cy="656.5" r="1.1"/><circle cx="326.6" cy="696.7" r="1.2"/><circle cx="363.4" cy="671.4" r="1.0"/><circle cx="357.7" cy="670.2" r="1.2"/><circle cx="355.7" cy="640.7" r="1.1"/><circle cx="394.8" cy="698.4" r="1.2"/><circle cx="359.7" cy="683.3" r="1.0"/><circle cx="394.4" cy="708.8" r="1.2"/><circle cx="335.8" cy="673.9" r="0.8"/><circle cx="316.4" cy="702.6" r="0.8"/><circle cx="354.0" cy="654.0" r="1.1"/><circle cx="355.7" cy="711.3" r="1.3"/><circle cx="302.7" cy="664.7" r="0.8"/><circle cx="333.0" cy="700.9" r="0.7"/><circle cx="387.9" cy="710.7" r="0.7"/><circle cx="386.2" cy="706.5" r="1.2"/><circle cx="380.4" cy="670.8" r="1.3"/><circle cx="350.7" cy="643.2" r="0.8"/><circle cx="308.7" cy="687.7" r="0.9"/><circle cx="367.6" cy="666.8" r="1.1"/><circle cx="313.5" cy="673.8" r="0.7"/><circle cx="350.6" cy="664.7" r="0.7"/><circle cx="351.1" cy="685.6" r="0.8"/><circle cx="358.0" cy="697.8" r="1.1"/><circle cx="341.5" cy="643.9" r="0.7"/><circle cx="375.0" cy="683.7" r="1.1"/><circle cx="322.6" cy="664.4" r="0.8"/><circle cx="298.5" cy="699.5" r="1.2"/><circle cx="391.9" cy="711.6" r="0.9"/><circle cx="363.0" cy="683.9" r="0.9"/><circle cx="336.9" cy="656.7" r="0.7"/><circle cx="306.5" cy="681.0" r="1.0"/><circle cx="320.6" cy="662.5" r="0.9"/><circle cx="343.8" cy="645.2" r="1.0"/><circle cx="323.6" cy="693.6" r="1.1"/><circle cx="307.4" cy="705.8" r="1.0"/><circle cx="365.2" cy="714.0" r="0.9"/><circle cx="334.9" cy="710.8" r="1.2"/><circle cx="357.8" cy="662.0" r="1.1"/><circle cx="337.5" cy="648.5" r="0.7"/><circle cx="367.5" cy="675.5" r="1.1"/><circle cx="370.2" cy="662.1" r="0.8"/><circle cx="343.1" cy="642.2" r="0.8"/><circle cx="365.7" cy="670.3" r="1.3"/><circle cx="393.9" cy="672.4" r="0.8"/><circle cx="350.1" cy="657.7" r="1.3"/><circle cx="339.5" cy="657.0" r="1.2"/><circle cx="348.0" cy="696.3" r="0.7"/><circle cx="334.6" cy="694.8" r="1.0"/><circle cx="381.5" cy="670.2" r="0.9"/><circle cx="378.0" cy="653.6" r="1.0"/><circle cx="304.1" cy="657.1" r="1.1"/><circle cx="318.1" cy="713.1" r="0.9"/><circle cx="315.3" cy="699.3" r="1.1"/><circle cx="300.2" cy="708.5" r="1.1"/><circle cx="379.0" cy="708.2" r="0.7"/><circle cx="365.1" cy="646.2" r="1.1"/><circle cx="331.7" cy="683.4" r="0.8"/><circle cx="334.5" cy="702.9" r="1.1"/><circle cx="365.0" cy="681.9" r="1.1"/><circle cx="328.3" cy="680.0" r="1.3"/><circle cx="302.7" cy="651.0" r="1.0"/><circle cx="357.4" cy="705.7" r="0.8"/><circle cx="315.9" cy="704.1" r="0.9"/><circle cx="363.9" cy="690.0" r="0.9"/><circle cx="393.4" cy="681.8" r="0.7"/><circle cx="339.7" cy="690.4" r="1.2"/><circle cx="325.4" cy="670.6" r="1.0"/><circle cx="339.8" cy="665.0" r="1.1"/><circle cx="359.7" cy="681.0" r="0.7"/><circle cx="351.6" cy="662.5" r="0.8"/><circle cx="335.7" cy="646.3" r="0.8"/><circle cx="372.8" cy="669.7" r="1.2"/><circle cx="366.4" cy="646.4" r="0.8"/><circle cx="302.8" cy="663.0" r="1.0"/><circle cx="386.3" cy="676.3" r="1.1"/><circle cx="346.6" cy="695.3" r="1.1"/><circle cx="376.5" cy="711.6" r="0.7"/><circle cx="356.5" cy="696.8" r="1.1"/><circle cx="324.4" cy="695.1" r="1.1"/><circle cx="386.1" cy="686.3" r="0.9"/><circle cx="312.2" cy="654.0" r="1.2"/><circle cx="372.1" cy="670.9" r="1.2"/><circle cx="327.8" cy="647.7" r="0.9"/><circle cx="322.0" cy="669.5" r="1.0"/><circle cx="362.2" cy="680.3" r="1.1"/><circle cx="348.6" cy="692.0" r="1.0"/><circle cx="303.6" cy="665.3" r="0.7"/><circle cx="319.3" cy="692.3" r="0.9"/><circle cx="324.0" cy="654.0" r="1.2"/><circle cx="312.6" cy="710.6" r="1.3"/><circle cx="297.4" cy="699.2" r="0.7"/><circle cx="394.3" cy="689.2" r="1.3"/><circle cx="310.8" cy="661.7" r="1.0"/><circle cx="388.8" cy="699.5" r="1.2"/><circle cx="339.6" cy="678.0" r="1.2"/><circle cx="355.6" cy="693.4" r="0.9"/><circle cx="367.5" cy="660.3" r="1.0"/><circle cx="362.3" cy="652.0" r="1.0"/><circle cx="375.8" cy="683.0" r="0.8"/><circle cx="327.1" cy="675.2" r="0.8"/><circle cx="356.0" cy="705.4" r="0.9"/><circle cx="303.3" cy="698.2" r="1.0"/><circle cx="335.1" cy="650.2" r="1.2"/><circle cx="392.0" cy="690.0" r="0.8"/><circle cx="344.1" cy="664.5" r="0.8"/><circle cx="346.8" cy="646.2" r="1.0"/><circle cx="305.4" cy="708.2" r="0.9"/><circle cx="311.4" cy="690.0" r="1.2"/><circle cx="310.0" cy="654.9" r="0.8"/><circle cx="309.5" cy="683.1" r="0.8"/><circle cx="327.4" cy="642.2" r="1.2"/><circle cx="324.3" cy="700.3" r="1.1"/><circle cx="370.0" cy="704.4" r="1.3"/><circle cx="343.2" cy="653.4" r="1.2"/><circle cx="307.9" cy="649.2" r="1.3"/><circle cx="311.2" cy="658.5" r="0.8"/><circle cx="377.9" cy="663.6" r="0.7"/><circle cx="344.4" cy="707.1" r="1.1"/><circle cx="332.9" cy="698.4" r="0.8"/><circle cx="384.2" cy="660.2" r="0.9"/><circle cx="350.6" cy="687.0" r="0.8"/><circle cx="300.7" cy="672.7" r="0.8"/><circle cx="305.4" cy="653.3" r="1.2"/><circle cx="378.5" cy="672.6" r="0.8"/><circle cx="340.6" cy="691.1" r="1.1"/><circle cx="346.7" cy="686.2" r="1.1"/><circle cx="325.9" cy="650.8" r="0.7"/><circle cx="325.4" cy="690.6" r="1.2"/><circle cx="327.1" cy="696.6" r="0.9"/><circle cx="314.7" cy="645.9" r="1.3"/><circle cx="389.2" cy="671.8" r="1.0"/><circle cx="351.7" cy="704.9" r="1.1"/><circle cx="349.7" cy="676.5" r="0.8"/><circle cx="301.2" cy="682.8" r="1.3"/><circle cx="345.9" cy="681.7" r="1.0"/><circle cx="359.4" cy="646.8" r="1.0"/></g><g fill="#2e1028"><circle cx="330.4" cy="669.5" r="1.3"/><circle cx="315.9" cy="681.4" r="1.1"/><circle cx="313.7" cy="665.5" r="1.2"/><circle cx="317.8" cy="647.9" r="1.1"/><circle cx="311.8" cy="690.7" r="0.7"/><circle cx="320.7" cy="641.1" r="1.2"/><circle cx="340.8" cy="648.6" r="0.8"/><circle cx="319.7" cy="665.4" r="1.0"/><circle cx="329.6" cy="710.0" r="1.3"/><circle cx="364.3" cy="673.1" r="1.1"/><circle cx="354.8" cy="672.9" r="1.2"/><circle cx="333.0" cy="643.6" r="1.2"/><circle cx="334.6" cy="660.1" r="0.7"/><circle cx="304.0" cy="659.3" r="0.8"/><circle cx="351.2" cy="664.2" r="0.8"/><circle cx="360.3" cy="690.5" r="0.8"/><circle cx="310.5" cy="664.0" r="0.8"/><circle cx="342.4" cy="700.2" r="0.9"/><circle cx="331.9" cy="691.4" r="0.9"/><circle cx="371.8" cy="681.1" r="0.9"/><circle cx="391.4" cy="698.0" r="1.1"/><circle cx="309.9" cy="684.4" r="1.1"/><circle cx="345.2" cy="703.0" r="0.7"/><circle cx="379.4" cy="681.4" r="0.9"/><circle cx="318.9" cy="656.4" r="0.7"/><circle cx="370.9" cy="710.1" r="1.2"/><circle cx="333.8" cy="714.0" r="1.0"/><circle cx="322.1" cy="641.9" r="1.3"/><circle cx="388.8" cy="710.2" r="1.2"/><circle cx="330.6" cy="700.7" r="1.0"/><circle cx="302.8" cy="699.1" r="1.2"/><circle cx="367.3" cy="713.0" r="0.7"/><circle cx="340.3" cy="713.1" r="0.9"/><circle cx="332.3" cy="685.9" r="1.0"/><circle cx="317.0" cy="706.9" r="1.3"/><circle cx="370.2" cy="702.6" r="0.7"/><circle cx="391.0" cy="669.3" r="0.8"/><circle cx="305.3" cy="695.6" r="0.8"/><circle cx="323.1" cy="677.7" r="0.7"/><circle cx="344.6" cy="700.3" r="1.1"/><circle cx="361.7" cy="654.5" r="1.0"/><circle cx="304.7" cy="697.0" r="0.8"/><circle cx="338.9" cy="679.3" r="0.8"/><circle cx="311.6" cy="645.7" r="0.9"/><circle cx="299.7" cy="674.8" r="1.0"/><circle cx="340.3" cy="711.9" r="1.0"/><circle cx="349.6" cy="683.1" r="0.7"/><circle cx="394.4" cy="677.5" r="1.1"/><circle cx="344.3" cy="674.7" r="0.7"/><circle cx="335.0" cy="700.3" r="0.8"/><circle cx="322.1" cy="702.0" r="1.2"/><circle cx="340.5" cy="690.6" r="0.8"/><circle cx="308.7" cy="678.2" r="1.2"/><circle cx="366.0" cy="671.2" r="0.7"/><circle cx="340.4" cy="709.7" r="1.0"/><circle cx="304.6" cy="704.4" r="1.0"/><circle cx="368.9" cy="650.6" r="1.0"/><circle cx="362.2" cy="692.6" r="0.9"/><circle cx="372.0" cy="675.5" r="0.7"/><circle cx="307.6" cy="647.0" r="0.7"/><circle cx="309.8" cy="710.2" r="1.1"/><circle cx="361.3" cy="651.7" r="1.2"/><circle cx="340.2" cy="648.4" r="0.8"/><circle cx="350.7" cy="705.2" r="0.7"/><circle cx="304.3" cy="650.8" r="0.7"/><circle cx="303.2" cy="641.7" r="1.1"/><circle cx="324.3" cy="678.1" r="0.7"/><circle cx="304.5" cy="645.6" r="1.2"/><circle cx="310.2" cy="680.6" r="0.9"/><circle cx="301.1" cy="690.1" r="0.9"/><circle cx="338.6" cy="661.9" r="1.0"/><circle cx="315.2" cy="653.6" r="1.1"/><circle cx="342.6" cy="691.9" r="1.1"/><circle cx="372.3" cy="680.3" r="1.1"/><circle cx="305.9" cy="697.4" r="1.2"/><circle cx="316.0" cy="667.8" r="0.8"/><circle cx="362.7" cy="676.6" r="0.8"/><circle cx="382.6" cy="682.6" r="1.2"/><circle cx="301.5" cy="705.4" r="1.0"/><circle cx="347.6" cy="693.9" r="0.9"/><circle cx="319.1" cy="675.8" r="1.1"/><circle cx="311.3" cy="689.3" r="1.2"/><circle cx="313.7" cy="702.1" r="0.8"/><circle cx="365.5" cy="644.2" r="0.8"/><circle cx="330.0" cy="641.8" r="0.7"/><circle cx="353.4" cy="701.3" r="0.7"/><circle cx="317.4" cy="657.2" r="1.2"/><circle cx="366.2" cy="711.2" r="1.0"/><circle cx="364.6" cy="674.5" r="1.2"/><circle cx="357.8" cy="678.4" r="1.0"/><circle cx="345.8" cy="651.7" r="0.9"/><circle cx="382.4" cy="659.1" r="1.3"/><circle cx="349.2" cy="689.3" r="1.3"/><circle cx="364.0" cy="648.2" r="0.7"/><circle cx="391.1" cy="690.3" r="0.8"/><circle cx="374.4" cy="683.0" r="1.1"/><circle cx="323.3" cy="695.6" r="0.9"/><circle cx="335.2" cy="712.3" r="0.8"/><circle cx="391.5" cy="703.3" r="0.8"/><circle cx="363.2" cy="644.6" r="1.0"/><circle cx="350.0" cy="683.6" r="1.2"/><circle cx="380.5" cy="708.1" r="0.7"/><circle cx="298.8" cy="703.0" r="1.0"/><circle cx="354.6" cy="671.4" r="1.2"/><circle cx="308.9" cy="659.2" r="0.9"/><circle cx="369.2" cy="667.5" r="1.1"/><circle cx="343.7" cy="684.5" r="0.9"/><circle cx="378.8" cy="655.5" r="1.1"/><circle cx="298.1" cy="702.1" r="1.2"/><circle cx="353.3" cy="649.8" r="1.3"/><circle cx="366.4" cy="693.8" r="1.1"/><circle cx="336.9" cy="646.8" r="1.0"/><circle cx="315.7" cy="688.2" r="0.9"/><circle cx="348.6" cy="671.0" r="1.3"/><circle cx="332.4" cy="710.5" r="1.2"/><circle cx="380.9" cy="666.8" r="1.2"/><circle cx="351.8" cy="645.3" r="1.1"/><circle cx="310.8" cy="659.7" r="1.2"/><circle cx="299.6" cy="651.3" r="0.9"/><circle cx="354.1" cy="684.1" r="1.3"/><circle cx="309.4" cy="681.4" r="0.8"/><circle cx="340.0" cy="673.4" r="0.9"/><circle cx="329.6" cy="713.7" r="1.1"/><circle cx="302.6" cy="656.4" r="1.1"/><circle cx="350.1" cy="682.1" r="1.1"/><circle cx="353.3" cy="692.3" r="0.9"/><circle cx="359.8" cy="668.3" r="1.2"/><circle cx="335.9" cy="685.7" r="1.0"/><circle cx="344.8" cy="660.1" r="1.0"/><circle cx="338.1" cy="692.4" r="1.0"/><circle cx="341.0" cy="673.7" r="1.0"/><circle cx="308.1" cy="674.3" r="0.8"/><circle cx="302.5" cy="660.0" r="1.3"/><circle cx="369.8" cy="661.9" r="0.7"/><circle cx="395.1" cy="686.0" r="0.9"/><circle cx="318.9" cy="647.0" r="0.8"/><circle cx="332.5" cy="698.1" r="1.1"/><circle cx="371.2" cy="651.9" r="0.9"/><circle cx="303.5" cy="706.0" r="1.0"/><circle cx="332.8" cy="671.1" r="0.9"/><circle cx="324.8" cy="643.6" r="0.7"/><circle cx="341.6" cy="644.7" r="0.7"/><circle cx="352.5" cy="679.6" r="0.9"/><circle cx="339.7" cy="669.8" r="0.8"/><circle cx="344.6" cy="681.5" r="1.3"/><circle cx="337.6" cy="712.8" r="1.2"/><circle cx="330.6" cy="677.5" r="1.2"/><circle cx="339.8" cy="647.8" r="0.9"/><circle cx="364.6" cy="649.9" r="0.7"/><circle cx="336.3" cy="662.7" r="1.2"/><circle cx="364.5" cy="652.2" r="1.2"/><circle cx="336.1" cy="704.3" r="1.1"/><circle cx="355.7" cy="648.8" r="0.9"/><circle cx="376.3" cy="659.7" r="1.2"/><circle cx="363.3" cy="703.6" r="0.7"/><circle cx="325.4" cy="705.3" r="1.1"/><circle cx="328.1" cy="645.5" r="1.3"/><circle cx="347.0" cy="673.6" r="1.2"/><circle cx="337.8" cy="644.8" r="1.2"/><circle cx="324.8" cy="667.0" r="1.0"/><circle cx="307.1" cy="682.5" r="1.1"/><circle cx="344.3" cy="645.1" r="0.9"/><circle cx="367.5" cy="655.6" r="1.1"/><circle cx="339.3" cy="673.0" r="1.3"/><circle cx="327.0" cy="696.5" r="1.0"/><circle cx="306.4" cy="661.9" r="0.7"/><circle cx="320.0" cy="701.7" r="1.1"/><circle cx="308.6" cy="648.0" r="1.2"/><circle cx="310.9" cy="710.5" r="1.1"/><circle cx="314.2" cy="698.9" r="1.3"/><circle cx="321.7" cy="711.9" r="0.8"/><circle cx="338.4" cy="686.4" r="0.9"/><circle cx="347.0" cy="666.5" r="1.3"/><circle cx="376.6" cy="679.1" r="0.8"/><circle cx="301.2" cy="704.4" r="1.0"/><circle cx="371.9" cy="657.3" r="1.1"/><circle cx="379.6" cy="678.8" r="0.8"/><circle cx="315.3" cy="671.6" r="0.8"/><circle cx="349.3" cy="653.4" r="0.9"/><circle cx="344.1" cy="655.8" r="0.7"/><circle cx="333.2" cy="661.9" r="1.3"/><circle cx="336.4" cy="656.4" r="0.7"/><circle cx="338.6" cy="672.4" r="0.7"/><circle cx="338.4" cy="649.7" r="1.0"/><circle cx="352.9" cy="661.1" r="1.2"/><circle cx="333.0" cy="648.7" r="1.0"/><circle cx="369.8" cy="648.4" r="0.9"/><circle cx="319.1" cy="671.6" r="1.2"/><circle cx="394.3" cy="674.1" r="1.2"/><circle cx="324.7" cy="709.4" r="0.9"/><circle cx="363.5" cy="661.6" r="1.1"/><circle cx="325.3" cy="647.9" r="0.8"/><circle cx="377.0" cy="709.1" r="1.3"/><circle cx="373.0" cy="655.7" r="1.3"/><circle cx="338.0" cy="699.4" r="0.9"/><circle cx="377.1" cy="678.7" r="1.0"/><circle cx="346.5" cy="661.5" r="0.7"/><circle cx="363.9" cy="649.0" r="1.0"/><circle cx="310.8" cy="668.7" r="1.2"/><circle cx="300.5" cy="713.1" r="0.7"/><circle cx="362.5" cy="668.6" r="1.2"/><circle cx="357.9" cy="666.2" r="0.8"/><circle cx="390.2" cy="668.4" r="1.0"/><circle cx="332.5" cy="691.2" r="0.8"/><circle cx="360.9" cy="661.8" r="1.0"/><circle cx="345.7" cy="678.0" r="0.9"/><circle cx="341.1" cy="682.3" r="1.0"/><circle cx="318.9" cy="642.8" r="0.9"/><circle cx="339.9" cy="697.0" r="1.2"/><circle cx="329.5" cy="657.9" r="0.9"/><circle cx="370.3" cy="678.3" r="0.7"/><circle cx="389.7" cy="695.4" r="0.9"/><circle cx="324.9" cy="663.7" r="0.9"/><circle cx="348.3" cy="696.5" r="0.9"/><circle cx="337.1" cy="693.3" r="0.8"/><circle cx="325.2" cy="652.6" r="0.8"/><circle cx="351.6" cy="654.0" r="0.9"/><circle cx="370.5" cy="663.9" r="1.0"/><circle cx="367.8" cy="674.7" r="0.8"/><circle cx="321.1" cy="671.6" r="1.1"/><circle cx="314.2" cy="647.5" r="1.0"/><circle cx="321.3" cy="644.9" r="0.7"/><circle cx="317.9" cy="672.7" r="1.2"/><circle cx="384.7" cy="682.8" r="1.1"/><circle cx="371.3" cy="672.8" r="1.2"/><circle cx="329.5" cy="659.2" r="0.9"/><circle cx="344.2" cy="669.6" r="1.1"/><circle cx="303.8" cy="690.2" r="0.8"/><circle cx="384.8" cy="670.8" r="1.2"/><circle cx="301.9" cy="652.8" r="1.1"/><circle cx="324.7" cy="678.9" r="0.7"/><circle cx="302.1" cy="710.3" r="1.0"/><circle cx="368.6" cy="682.0" r="1.2"/><circle cx="305.6" cy="648.2" r="0.9"/><circle cx="394.4" cy="671.9" r="0.8"/><circle cx="303.2" cy="642.8" r="0.8"/><circle cx="350.0" cy="700.1" r="1.0"/><circle cx="301.6" cy="661.0" r="1.0"/><circle cx="326.6" cy="675.8" r="0.9"/><circle cx="367.6" cy="691.8" r="0.9"/><circle cx="373.0" cy="665.9" r="1.1"/><circle cx="341.4" cy="651.3" r="1.2"/><circle cx="322.1" cy="669.6" r="1.1"/><circle cx="367.5" cy="660.2" r="0.9"/><circle cx="369.9" cy="711.8" r="0.9"/><circle cx="378.7" cy="663.8" r="0.9"/><circle cx="308.6" cy="706.2" r="1.0"/><circle cx="328.8" cy="675.2" r="0.8"/><circle cx="350.5" cy="683.9" r="1.0"/><circle cx="312.5" cy="650.6" r="0.8"/><circle cx="312.9" cy="666.8" r="1.1"/><circle cx="391.1" cy="704.0" r="1.3"/><circle cx="323.9" cy="713.8" r="1.3"/><circle cx="368.5" cy="656.2" r="0.8"/><circle cx="335.2" cy="667.9" r="0.8"/><circle cx="307.8" cy="650.5" r="1.0"/><circle cx="381.9" cy="708.0" r="0.8"/><circle cx="334.3" cy="710.0" r="0.7"/><circle cx="388.9" cy="683.8" r="1.2"/><circle cx="364.6" cy="708.7" r="1.2"/><circle cx="330.7" cy="710.1" r="0.8"/><circle cx="365.8" cy="703.7" r="1.3"/><circle cx="321.5" cy="668.7" r="1.1"/><circle cx="309.8" cy="649.4" r="0.8"/><circle cx="362.2" cy="656.6" r="1.2"/></g><g fill="#3a1a38"><circle cx="356.1" cy="647.4" r="1.3"/><circle cx="364.4" cy="670.4" r="1.1"/><circle cx="343.5" cy="700.2" r="0.8"/><circle cx="314.6" cy="655.1" r="0.9"/><circle cx="338.9" cy="712.2" r="1.3"/><circle cx="298.7" cy="708.5" r="0.9"/><circle cx="321.0" cy="642.1" r="1.1"/><circle cx="323.7" cy="676.1" r="0.9"/><circle cx="339.8" cy="691.7" r="1.0"/><circle cx="346.1" cy="683.3" r="1.2"/><circle cx="346.6" cy="709.0" r="0.8"/><circle cx="320.7" cy="674.1" r="1.1"/><circle cx="298.8" cy="664.3" r="0.9"/><circle cx="360.8" cy="697.8" r="1.0"/><circle cx="355.0" cy="676.6" r="1.1"/><circle cx="302.5" cy="664.4" r="1.1"/><circle cx="311.7" cy="659.4" r="0.8"/><circle cx="345.8" cy="653.0" r="0.7"/><circle cx="346.6" cy="693.2" r="1.3"/><circle cx="306.1" cy="685.3" r="1.2"/><circle cx="321.8" cy="709.4" r="0.8"/><circle cx="330.8" cy="642.5" r="0.7"/><circle cx="385.6" cy="678.2" r="0.8"/><circle cx="395.2" cy="700.7" r="1.0"/><circle cx="317.5" cy="653.1" r="0.9"/><circle cx="363.6" cy="691.6" r="0.7"/><circle cx="352.8" cy="704.2" r="0.7"/><circle cx="301.7" cy="712.8" r="0.8"/><circle cx="336.2" cy="697.8" r="1.2"/><circle cx="326.3" cy="647.5" r="0.8"/><circle cx="357.0" cy="657.3" r="1.2"/><circle cx="330.5" cy="659.9" r="1.1"/><circle cx="347.3" cy="653.3" r="1.2"/><circle cx="351.4" cy="642.3" r="0.9"/><circle cx="343.9" cy="681.0" r="1.1"/><circle cx="343.1" cy="643.1" r="1.2"/><circle cx="361.0" cy="702.0" r="0.7"/><circle cx="373.9" cy="649.5" r="0.8"/><circle cx="329.6" cy="709.2" r="1.2"/><circle cx="372.3" cy="679.7" r="1.2"/><circle cx="383.0" cy="663.9" r="0.9"/><circle cx="328.3" cy="650.8" r="1.1"/><circle cx="366.8" cy="647.5" r="0.9"/><circle cx="310.7" cy="645.2" r="1.2"/><circle cx="365.3" cy="688.7" r="0.9"/><circle cx="376.7" cy="679.2" r="1.0"/><circle cx="310.8" cy="689.8" r="1.1"/><circle cx="334.2" cy="705.2" r="0.7"/><circle cx="353.7" cy="711.8" r="1.2"/><circle cx="352.0" cy="698.1" r="1.3"/><circle cx="344.1" cy="701.4" r="0.9"/><circle cx="394.7" cy="688.1" r="0.7"/><circle cx="322.8" cy="673.2" r="0.7"/><circle cx="325.3" cy="641.1" r="0.9"/><circle cx="335.4" cy="693.9" r="1.1"/><circle cx="381.3" cy="669.7" r="0.7"/><circle cx="328.9" cy="687.2" r="1.0"/><circle cx="345.1" cy="653.0" r="0.8"/><circle cx="297.8" cy="666.2" r="0.9"/><circle cx="365.5" cy="687.5" r="0.7"/><circle cx="331.2" cy="641.8" r="0.8"/><circle cx="333.2" cy="683.1" r="0.8"/><circle cx="361.2" cy="647.0" r="1.2"/><circle cx="349.4" cy="658.9" r="0.7"/><circle cx="388.1" cy="679.5" r="0.8"/><circle cx="305.5" cy="712.6" r="1.0"/><circle cx="316.1" cy="690.6" r="1.2"/><circle cx="354.9" cy="712.7" r="0.8"/><circle cx="359.9" cy="657.0" r="0.8"/><circle cx="349.7" cy="690.4" r="0.7"/><circle cx="315.5" cy="674.4" r="1.0"/><circle cx="319.5" cy="701.8" r="0.9"/><circle cx="298.5" cy="692.4" r="1.3"/><circle cx="370.4" cy="666.4" r="1.2"/><circle cx="327.9" cy="659.8" r="1.2"/><circle cx="343.1" cy="661.3" r="1.2"/><circle cx="303.8" cy="712.5" r="1.2"/><circle cx="298.5" cy="646.9" r="1.2"/><circle cx="356.8" cy="691.0" r="1.0"/><circle cx="354.2" cy="713.1" r="1.2"/><circle cx="381.6" cy="665.6" r="1.1"/><circle cx="395.0" cy="676.8" r="1.1"/><circle cx="353.4" cy="670.2" r="1.0"/><circle cx="302.0" cy="693.1" r="1.1"/><circle cx="300.3" cy="642.7" r="0.7"/><circle cx="318.6" cy="656.9" r="0.8"/><circle cx="362.4" cy="683.0" r="1.2"/><circle cx="309.2" cy="677.1" r="1.0"/><circle cx="358.9" cy="686.0" r="0.9"/><circle cx="324.5" cy="654.6" r="0.9"/><circle cx="363.3" cy="657.3" r="0.9"/><circle cx="361.6" cy="646.5" r="0.8"/><circle cx="363.3" cy="682.6" r="1.3"/><circle cx="372.7" cy="679.9" r="1.1"/><circle cx="392.4" cy="696.3" r="0.8"/><circle cx="365.5" cy="643.2" r="1.0"/><circle cx="349.2" cy="668.8" r="0.7"/><circle cx="329.7" cy="649.7" r="1.0"/><circle cx="353.7" cy="711.4" r="1.1"/><circle cx="333.9" cy="687.6" r="0.8"/><circle cx="344.7" cy="653.2" r="1.1"/><circle cx="308.5" cy="655.6" r="1.2"/><circle cx="368.1" cy="693.8" r="0.8"/><circle cx="325.1" cy="647.9" r="0.8"/><circle cx="343.3" cy="650.4" r="1.1"/><circle cx="331.0" cy="661.1" r="1.3"/><circle cx="322.2" cy="651.6" r="1.2"/><circle cx="298.4" cy="685.3" r="0.7"/><circle cx="338.8" cy="708.6" r="0.8"/><circle cx="319.5" cy="643.5" r="0.7"/><circle cx="373.0" cy="711.5" r="1.0"/><circle cx="347.8" cy="680.0" r="0.7"/><circle cx="307.6" cy="643.9" r="0.8"/><circle cx="392.2" cy="711.8" r="1.2"/><circle cx="297.7" cy="649.9" r="1.1"/><circle cx="314.4" cy="682.5" r="0.8"/><circle cx="306.4" cy="664.9" r="0.8"/><circle cx="316.4" cy="671.2" r="1.0"/><circle cx="308.4" cy="656.5" r="1.1"/><circle cx="350.8" cy="666.4" r="1.3"/><circle cx="302.3" cy="702.3" r="1.0"/><circle cx="321.5" cy="645.3" r="1.1"/><circle cx="299.8" cy="705.5" r="0.8"/><circle cx="319.7" cy="646.6" r="0.9"/><circle cx="360.0" cy="682.4" r="1.3"/><circle cx="335.8" cy="663.8" r="1.3"/><circle cx="300.2" cy="691.9" r="1.0"/><circle cx="346.3" cy="642.7" r="0.9"/><circle cx="356.2" cy="643.3" r="0.7"/><circle cx="350.7" cy="652.2" r="1.1"/><circle cx="315.1" cy="683.0" r="0.9"/><circle cx="303.4" cy="681.3" r="1.3"/><circle cx="312.7" cy="675.9" r="1.1"/><circle cx="375.8" cy="655.4" r="1.0"/><circle cx="365.4" cy="649.6" r="0.9"/><circle cx="334.7" cy="659.0" r="1.0"/><circle cx="322.2" cy="670.4" r="0.9"/><circle cx="372.0" cy="667.0" r="0.8"/><circle cx="335.4" cy="671.5" r="1.0"/><circle cx="298.1" cy="697.7" r="1.1"/><circle cx="346.3" cy="713.9" r="0.7"/><circle cx="359.5" cy="644.6" r="1.0"/><circle cx="390.1" cy="693.1" r="1.0"/><circle cx="325.7" cy="713.6" r="0.7"/><circle cx="332.4" cy="668.8" r="1.2"/><circle cx="317.9" cy="705.8" r="1.0"/><circle cx="393.1" cy="680.7" r="1.2"/><circle cx="329.3" cy="699.4" r="1.2"/><circle cx="305.4" cy="645.4" r="1.0"/><circle cx="343.9" cy="709.1" r="0.7"/><circle cx="327.7" cy="713.6" r="1.3"/><circle cx="317.8" cy="649.5" r="1.1"/><circle cx="318.5" cy="650.2" r="1.0"/><circle cx="366.2" cy="642.8" r="1.1"/><circle cx="319.0" cy="711.6" r="0.7"/><circle cx="305.3" cy="649.0" r="1.2"/><circle cx="364.2" cy="669.4" r="1.2"/><circle cx="372.1" cy="684.5" r="0.8"/><circle cx="392.2" cy="710.4" r="0.9"/><circle cx="300.3" cy="641.0" r="1.0"/><circle cx="349.2" cy="649.5" r="0.7"/><circle cx="342.5" cy="670.5" r="1.1"/><circle cx="373.7" cy="672.8" r="1.1"/><circle cx="350.5" cy="666.2" r="0.7"/><circle cx="348.9" cy="695.9" r="1.1"/><circle cx="311.4" cy="674.8" r="0.8"/><circle cx="372.9" cy="655.9" r="0.9"/><circle cx="325.5" cy="652.3" r="1.3"/><circle cx="317.4" cy="651.3" r="1.2"/><circle cx="352.0" cy="701.9" r="0.7"/><circle cx="327.6" cy="695.2" r="1.1"/><circle cx="372.2" cy="677.9" r="1.2"/><circle cx="368.7" cy="693.5" r="1.1"/><circle cx="300.9" cy="710.8" r="0.8"/><circle cx="297.9" cy="649.2" r="0.9"/><circle cx="346.8" cy="649.6" r="0.9"/><circle cx="345.7" cy="644.8" r="0.8"/><circle cx="326.7" cy="695.7" r="0.7"/><circle cx="323.4" cy="646.1" r="0.7"/><circle cx="344.0" cy="695.5" r="0.7"/><circle cx="371.1" cy="711.9" r="1.1"/><circle cx="327.1" cy="692.7" r="1.2"/><circle cx="304.1" cy="702.0" r="0.8"/><circle cx="364.7" cy="677.8" r="1.0"/><circle cx="337.8" cy="645.8" r="1.2"/><circle cx="379.1" cy="706.9" r="1.1"/><circle cx="371.0" cy="682.7" r="0.7"/><circle cx="361.6" cy="703.2" r="1.3"/><circle cx="315.1" cy="713.4" r="1.1"/><circle cx="324.9" cy="706.6" r="1.1"/><circle cx="303.7" cy="658.5" r="1.0"/><circle cx="309.2" cy="647.6" r="1.2"/><circle cx="301.4" cy="699.6" r="1.2"/><circle cx="326.6" cy="700.8" r="0.7"/><circle cx="309.1" cy="667.0" r="0.7"/><circle cx="335.1" cy="713.4" r="1.1"/><circle cx="314.1" cy="664.9" r="1.1"/><circle cx="317.6" cy="684.2" r="1.1"/><circle cx="317.7" cy="677.7" r="1.0"/><circle cx="342.7" cy="694.0" r="1.2"/><circle cx="372.4" cy="653.0" r="0.9"/><circle cx="321.4" cy="690.8" r="0.9"/><circle cx="336.9" cy="640.1" r="1.2"/><circle cx="359.3" cy="694.6" r="1.1"/><circle cx="314.8" cy="657.9" r="0.7"/><circle cx="368.2" cy="655.7" r="1.2"/><circle cx="305.7" cy="686.1" r="0.8"/><circle cx="350.6" cy="699.2" r="0.9"/><circle cx="334.2" cy="691.0" r="1.2"/><circle cx="368.8" cy="651.8" r="1.0"/><circle cx="372.6" cy="676.3" r="0.7"/><circle cx="345.9" cy="655.4" r="1.2"/><circle cx="335.2" cy="652.4" r="1.3"/><circle cx="346.0" cy="646.9" r="1.2"/><circle cx="368.1" cy="646.1" r="1.2"/><circle cx="355.3" cy="707.2" r="1.1"/><circle cx="308.4" cy="662.2" r="1.0"/><circle cx="356.3" cy="645.8" r="1.0"/><circle cx="391.4" cy="697.6" r="0.7"/><circle cx="347.8" cy="709.2" r="0.8"/><circle cx="356.5" cy="659.0" r="0.9"/><circle cx="310.1" cy="647.8" r="1.2"/><circle cx="327.5" cy="708.8" r="0.7"/><circle cx="307.0" cy="666.0" r="1.3"/><circle cx="389.5" cy="673.2" r="1.2"/><circle cx="311.8" cy="646.2" r="1.0"/><circle cx="359.7" cy="665.1" r="0.9"/><circle cx="391.1" cy="710.8" r="1.0"/><circle cx="372.0" cy="708.3" r="1.1"/><circle cx="351.0" cy="649.7" r="0.9"/><circle cx="319.6" cy="656.1" r="1.1"/><circle cx="345.5" cy="677.0" r="1.2"/><circle cx="338.3" cy="700.9" r="1.1"/><circle cx="348.1" cy="652.4" r="1.2"/><circle cx="356.0" cy="664.4" r="1.3"/><circle cx="327.6" cy="702.8" r="0.7"/><circle cx="384.2" cy="712.2" r="1.2"/><circle cx="349.2" cy="663.3" r="1.1"/><circle cx="331.1" cy="660.3" r="0.9"/><circle cx="387.8" cy="709.2" r="1.1"/><circle cx="330.6" cy="666.5" r="1.1"/><circle cx="361.7" cy="651.2" r="1.0"/><circle cx="303.1" cy="686.7" r="1.1"/><circle cx="297.6" cy="642.7" r="1.3"/><circle cx="364.1" cy="706.9" r="0.9"/><circle cx="348.0" cy="695.6" r="1.1"/><circle cx="343.8" cy="645.2" r="0.7"/><circle cx="334.3" cy="677.3" r="1.2"/><circle cx="363.4" cy="705.6" r="0.7"/><circle cx="339.6" cy="666.9" r="1.1"/><circle cx="338.5" cy="687.7" r="0.7"/><circle cx="312.1" cy="714.0" r="0.7"/><circle cx="375.2" cy="663.9" r="0.7"/><circle cx="378.4" cy="708.1" r="1.3"/><circle cx="297.8" cy="691.5" r="1.1"/><circle cx="334.6" cy="666.0" r="0.9"/><circle cx="353.2" cy="696.0" r="0.8"/><circle cx="368.0" cy="656.1" r="1.0"/><circle cx="320.6" cy="643.1" r="1.1"/><circle cx="333.5" cy="698.0" r="1.0"/><circle cx="324.7" cy="640.4" r="1.2"/><circle cx="394.3" cy="698.6" r="1.0"/><circle cx="372.2" cy="649.2" r="1.0"/><circle cx="341.1" cy="687.4" r="0.8"/><circle cx="370.7" cy="667.8" r="0.7"/><circle cx="351.3" cy="683.0" r="1.1"/><circle cx="380.0" cy="663.0" r="0.8"/><circle cx="331.9" cy="689.6" r="0.7"/><circle cx="338.8" cy="676.9" r="0.7"/><circle cx="364.9" cy="651.9" r="0.9"/><circle cx="388.6" cy="704.5" r="1.2"/><circle cx="360.9" cy="656.3" r="0.7"/><circle cx="358.5" cy="676.3" r="1.2"/><circle cx="370.2" cy="659.5" r="0.8"/><circle cx="345.6" cy="666.8" r="0.7"/><circle cx="317.4" cy="703.7" r="0.7"/><circle cx="377.5" cy="658.7" r="1.0"/><circle cx="341.2" cy="651.8" r="1.2"/><circle cx="356.2" cy="648.5" r="0.8"/><circle cx="390.6" cy="714.0" r="1.2"/><circle cx="369.3" cy="704.9" r="0.9"/><circle cx="391.4" cy="712.9" r="1.0"/><circle cx="300.5" cy="676.3" r="0.7"/><circle cx="317.8" cy="688.7" r="0.8"/><circle cx="371.6" cy="650.6" r="1.2"/><circle cx="323.7" cy="643.5" r="1.2"/><circle cx="379.0" cy="671.8" r="1.3"/><circle cx="324.9" cy="647.9" r="1.3"/><circle cx="365.0" cy="693.9" r="1.1"/><circle cx="380.2" cy="669.4" r="0.8"/><circle cx="299.2" cy="707.7" r="1.3"/><circle cx="381.7" cy="706.1" r="0.9"/><circle cx="358.6" cy="700.9" r="0.7"/><circle cx="328.1" cy="703.9" r="0.7"/><circle cx="324.6" cy="676.0" r="1.0"/><circle cx="327.0" cy="706.1" r="1.1"/><circle cx="386.5" cy="662.1" r="0.8"/><circle cx="298.5" cy="669.5" r="1.2"/><circle cx="341.0" cy="679.7" r="1.3"/><circle cx="384.2" cy="681.9" r="1.1"/><circle cx="343.6" cy="701.1" r="1.3"/><circle cx="346.9" cy="670.3" r="0.7"/><circle cx="359.1" cy="687.7" r="0.8"/><circle cx="335.4" cy="703.8" r="1.0"/><circle cx="347.6" cy="671.9" r="0.7"/><circle cx="371.7" cy="654.6" r="0.9"/><circle cx="322.6" cy="665.8" r="1.3"/><circle cx="346.8" cy="702.8" r="1.3"/><circle cx="310.0" cy="706.6" r="0.7"/><circle cx="371.7" cy="660.4" r="0.8"/><circle cx="338.2" cy="665.1" r="0.9"/><circle cx="311.4" cy="711.9" r="1.2"/><circle cx="333.3" cy="683.5" r="0.7"/><circle cx="382.8" cy="671.6" r="0.9"/><circle cx="367.3" cy="670.8" r="0.7"/><circle cx="336.0" cy="699.1" r="1.0"/><circle cx="343.7" cy="709.7" r="1.2"/><circle cx="355.7" cy="668.0" r="1.1"/><circle cx="372.0" cy="660.6" r="0.9"/><circle cx="350.0" cy="662.9" r="0.8"/><circle cx="357.7" cy="711.3" r="0.9"/><circle cx="367.2" cy="704.9" r="0.7"/><circle cx="330.2" cy="662.4" r="0.7"/><circle cx="318.4" cy="712.8" r="0.7"/><circle cx="380.5" cy="674.8" r="0.7"/><circle cx="376.9" cy="655.0" r="1.1"/><circle cx="335.4" cy="664.0" r="1.1"/><circle cx="362.9" cy="672.5" r="0.9"/><circle cx="336.9" cy="662.9" r="1.3"/><circle cx="346.8" cy="681.5" r="0.8"/><circle cx="380.3" cy="672.6" r="0.9"/><circle cx="298.5" cy="671.4" r="1.3"/><circle cx="350.3" cy="645.0" r="0.9"/><circle cx="339.8" cy="669.0" r="1.1"/><circle cx="322.9" cy="679.3" r="0.9"/><circle cx="337.4" cy="667.2" r="0.8"/><circle cx="352.8" cy="685.8" r="0.7"/><circle cx="333.4" cy="677.4" r="1.2"/><circle cx="299.3" cy="669.7" r="0.8"/><circle cx="343.2" cy="672.7" r="0.7"/><circle cx="324.2" cy="695.2" r="1.2"/><circle cx="362.6" cy="644.0" r="1.0"/><circle cx="347.9" cy="647.9" r="0.7"/><circle cx="372.4" cy="649.7" r="1.0"/><circle cx="313.5" cy="684.6" r="1.0"/><circle cx="381.5" cy="680.3" r="0.8"/><circle cx="329.8" cy="705.8" r="0.7"/><circle cx="373.9" cy="672.5" r="0.8"/><circle cx="316.8" cy="693.7" r="1.1"/><circle cx="310.4" cy="643.5" r="1.0"/><circle cx="310.9" cy="659.8" r="0.9"/><circle cx="378.4" cy="677.6" r="0.8"/><circle cx="341.7" cy="696.1" r="1.1"/><circle cx="308.0" cy="665.5" r="1.3"/><circle cx="340.3" cy="689.5" r="1.0"/><circle cx="370.9" cy="663.4" r="0.8"/><circle cx="343.1" cy="711.0" r="1.3"/><circle cx="358.9" cy="671.2" r="1.2"/><circle cx="316.1" cy="663.4" r="0.9"/><circle cx="366.3" cy="644.9" r="0.7"/><circle cx="332.9" cy="656.1" r="1.1"/><circle cx="394.4" cy="695.5" r="1.0"/><circle cx="345.7" cy="683.0" r="0.9"/><circle cx="324.6" cy="679.2" r="1.1"/><circle cx="305.9" cy="661.9" r="1.1"/><circle cx="320.4" cy="689.4" r="0.7"/><circle cx="319.8" cy="655.6" r="1.2"/><circle cx="367.3" cy="698.4" r="0.9"/><circle cx="320.5" cy="694.3" r="0.7"/><circle cx="377.4" cy="707.8" r="0.8"/><circle cx="319.4" cy="669.6" r="1.1"/><circle cx="333.4" cy="692.8" r="0.8"/><circle cx="355.7" cy="663.7" r="0.9"/><circle cx="308.9" cy="671.0" r="1.1"/><circle cx="359.8" cy="656.0" r="0.8"/><circle cx="314.8" cy="696.2" r="0.8"/><circle cx="338.1" cy="699.2" r="0.8"/><circle cx="323.8" cy="658.3" r="1.1"/><circle cx="364.0" cy="647.0" r="1.1"/><circle cx="355.4" cy="686.3" r="1.2"/><circle cx="375.3" cy="670.4" r="0.7"/><circle cx="388.4" cy="683.8" r="1.2"/><circle cx="327.1" cy="697.9" r="1.0"/><circle cx="367.2" cy="698.9" r="1.2"/><circle cx="373.0" cy="657.3" r="0.7"/><circle cx="356.3" cy="708.4" r="0.8"/><circle cx="331.0" cy="698.3" r="1.1"/><circle cx="336.0" cy="705.4" r="0.8"/><circle cx="343.3" cy="642.3" r="0.9"/><circle cx="380.9" cy="674.7" r="1.2"/><circle cx="302.8" cy="684.6" r="1.3"/><circle cx="386.8" cy="666.0" r="1.3"/><circle cx="353.1" cy="662.4" r="0.7"/><circle cx="355.9" cy="673.3" r="0.8"/><circle cx="386.6" cy="703.3" r="1.0"/><circle cx="299.7" cy="674.8" r="1.1"/><circle cx="305.3" cy="656.4" r="1.1"/><circle cx="313.7" cy="656.8" r="0.9"/><circle cx="329.3" cy="685.0" r="1.3"/><circle cx="331.7" cy="657.2" r="0.7"/><circle cx="301.1" cy="664.4" r="0.8"/><circle cx="333.7" cy="670.9" r="1.3"/><circle cx="306.6" cy="691.5" r="0.7"/><circle cx="325.1" cy="643.0" r="0.9"/><circle cx="328.5" cy="646.3" r="0.8"/><circle cx="306.9" cy="659.9" r="1.2"/><circle cx="376.9" cy="683.7" r="1.2"/><circle cx="362.5" cy="675.7" r="1.0"/><circle cx="309.6" cy="698.6" r="1.0"/><circle cx="313.9" cy="642.8" r="1.0"/><circle cx="355.0" cy="684.8" r="0.7"/><circle cx="376.2" cy="681.9" r="0.9"/><circle cx="340.9" cy="659.2" r="0.7"/><circle cx="313.6" cy="645.8" r="0.9"/><circle cx="349.3" cy="659.6" r="0.7"/><circle cx="361.0" cy="702.7" r="1.1"/><circle cx="298.2" cy="649.0" r="1.1"/><circle cx="335.3" cy="710.2" r="0.9"/><circle cx="309.4" cy="660.6" r="1.2"/><circle cx="373.6" cy="654.5" r="1.0"/><circle cx="376.3" cy="656.9" r="1.0"/><circle cx="384.8" cy="677.7" r="0.9"/><circle cx="388.9" cy="682.4" r="1.1"/><circle cx="326.5" cy="694.9" r="0.8"/><circle cx="365.4" cy="674.4" r="1.0"/><circle cx="385.2" cy="707.7" r="0.9"/><circle cx="335.9" cy="643.9" r="1.0"/><circle cx="355.7" cy="658.5" r="1.1"/><circle cx="363.3" cy="674.2" r="0.8"/><circle cx="307.6" cy="675.3" r="0.8"/><circle cx="346.6" cy="659.2" r="0.7"/><circle cx="388.1" cy="665.4" r="1.1"/><circle cx="393.0" cy="707.7" r="0.9"/><circle cx="344.7" cy="672.4" r="1.0"/><circle cx="298.4" cy="669.3" r="1.0"/><circle cx="319.4" cy="693.3" r="1.3"/><circle cx="352.6" cy="674.1" r="0.7"/><circle cx="330.9" cy="664.1" r="0.7"/><circle cx="314.4" cy="692.3" r="0.7"/><circle cx="306.8" cy="662.5" r="0.8"/><circle cx="359.3" cy="643.4" r="1.3"/><circle cx="329.5" cy="701.5" r="1.1"/><circle cx="297.8" cy="687.3" r="0.7"/><circle cx="379.2" cy="712.6" r="0.9"/><circle cx="374.5" cy="656.6" r="0.8"/><circle cx="335.0" cy="689.4" r="0.7"/><circle cx="353.0" cy="660.1" r="0.8"/><circle cx="328.9" cy="655.4" r="0.9"/><circle cx="309.3" cy="682.3" r="0.7"/><circle cx="305.3" cy="669.5" r="1.1"/><circle cx="356.8" cy="671.6" r="0.8"/><circle cx="337.3" cy="677.7" r="0.7"/><circle cx="363.2" cy="649.2" r="1.2"/><circle cx="320.3" cy="671.6" r="1.1"/><circle cx="306.5" cy="658.7" r="1.0"/><circle cx="308.9" cy="643.1" r="1.2"/><circle cx="310.5" cy="677.0" r="1.3"/><circle cx="333.2" cy="706.6" r="1.1"/><circle cx="374.5" cy="705.7" r="1.3"/><circle cx="365.0" cy="711.1" r="0.8"/><circle cx="371.7" cy="681.2" r="1.3"/><circle cx="342.2" cy="686.7" r="1.2"/><circle cx="380.2" cy="688.0" r="1.0"/><circle cx="322.1" cy="696.0" r="1.3"/><circle cx="311.8" cy="652.7" r="0.8"/><circle cx="342.8" cy="662.8" r="0.9"/><circle cx="355.1" cy="649.6" r="1.1"/><circle cx="384.5" cy="663.8" r="1.1"/><circle cx="361.5" cy="694.3" r="0.9"/><circle cx="303.0" cy="710.2" r="0.8"/><circle cx="316.7" cy="689.7" r="1.3"/><circle cx="329.7" cy="652.7" r="1.1"/><circle cx="357.8" cy="644.5" r="1.2"/><circle cx="386.2" cy="685.4" r="1.1"/><circle cx="370.4" cy="687.0" r="0.7"/><circle cx="306.1" cy="680.8" r="1.3"/><circle cx="354.8" cy="671.9" r="0.9"/><circle cx="299.5" cy="670.9" r="0.9"/><circle cx="338.5" cy="704.7" r="1.2"/><circle cx="368.4" cy="682.0" r="1.0"/><circle cx="326.6" cy="689.2" r="1.2"/><circle cx="365.7" cy="702.2" r="1.1"/><circle cx="351.3" cy="697.3" r="0.8"/><circle cx="359.4" cy="707.7" r="1.1"/><circle cx="347.7" cy="672.9" r="1.1"/><circle cx="384.6" cy="689.2" r="0.9"/><circle cx="360.3" cy="684.8" r="0.7"/><circle cx="387.7" cy="679.4" r="0.8"/><circle cx="319.6" cy="694.9" r="0.7"/><circle cx="317.9" cy="710.7" r="1.1"/><circle cx="384.6" cy="684.2" r="1.1"/><circle cx="361.5" cy="649.6" r="1.2"/><circle cx="374.1" cy="673.5" r="1.2"/><circle cx="332.9" cy="698.8" r="0.9"/><circle cx="366.4" cy="707.4" r="1.0"/><circle cx="357.6" cy="683.0" r="1.2"/><circle cx="311.0" cy="648.7" r="0.7"/><circle cx="362.5" cy="697.7" r="1.2"/><circle cx="380.7" cy="709.7" r="0.9"/><circle cx="316.0" cy="683.7" r="0.8"/><circle cx="299.7" cy="699.8" r="1.2"/><circle cx="304.9" cy="655.9" r="0.7"/><circle cx="311.9" cy="648.5" r="1.1"/><circle cx="314.7" cy="685.7" r="0.9"/><circle cx="345.2" cy="677.2" r="0.8"/><circle cx="365.4" cy="653.4" r="1.3"/><circle cx="358.0" cy="680.8" r="1.0"/><circle cx="309.3" cy="710.9" r="0.8"/><circle cx="366.4" cy="685.2" r="0.8"/><circle cx="357.9" cy="670.1" r="0.7"/><circle cx="391.5" cy="682.6" r="1.0"/><circle cx="387.2" cy="705.4" r="1.0"/><circle cx="359.4" cy="691.0" r="1.1"/><circle cx="339.5" cy="652.3" r="1.2"/><circle cx="337.0" cy="699.6" r="0.7"/><circle cx="297.6" cy="640.6" r="1.0"/><circle cx="297.4" cy="686.8" r="1.2"/><circle cx="335.9" cy="659.1" r="1.2"/><circle cx="343.7" cy="663.9" r="1.3"/><circle cx="338.2" cy="668.4" r="0.9"/><circle cx="345.7" cy="641.6" r="0.7"/><circle cx="356.7" cy="652.1" r="1.1"/><circle cx="305.7" cy="650.4" r="1.0"/><circle cx="388.0" cy="712.7" r="0.9"/><circle cx="299.9" cy="665.3" r="1.1"/><circle cx="323.3" cy="671.0" r="0.8"/><circle cx="302.0" cy="675.5" r="1.2"/><circle cx="335.4" cy="713.6" r="0.8"/><circle cx="347.3" cy="691.4" r="1.0"/><circle cx="373.7" cy="673.2" r="0.8"/><circle cx="319.4" cy="705.7" r="0.8"/><circle cx="375.3" cy="709.1" r="0.8"/><circle cx="319.2" cy="643.6" r="0.7"/><circle cx="363.3" cy="670.1" r="1.2"/><circle cx="385.2" cy="666.8" r="0.8"/><circle cx="318.7" cy="668.0" r="0.9"/><circle cx="368.8" cy="690.4" r="0.9"/><circle cx="351.1" cy="657.0" r="0.8"/><circle cx="374.4" cy="713.2" r="1.1"/><circle cx="370.3" cy="682.0" r="1.0"/><circle cx="321.0" cy="648.7" r="1.3"/><circle cx="370.2" cy="653.2" r="0.7"/><circle cx="331.8" cy="701.0" r="0.7"/><circle cx="330.5" cy="643.5" r="0.9"/><circle cx="340.6" cy="701.8" r="0.8"/><circle cx="344.7" cy="680.2" r="1.2"/><circle cx="313.4" cy="664.5" r="1.3"/><circle cx="351.6" cy="696.4" r="0.9"/><circle cx="369.5" cy="647.2" r="1.1"/><circle cx="307.8" cy="702.4" r="0.9"/><circle cx="339.2" cy="655.0" r="0.8"/><circle cx="346.9" cy="647.5" r="1.2"/><circle cx="313.0" cy="696.1" r="1.1"/><circle cx="302.5" cy="664.0" r="0.9"/><circle cx="339.1" cy="648.9" r="1.3"/><circle cx="374.1" cy="660.9" r="1.0"/><circle cx="321.4" cy="683.7" r="1.1"/></g><g fill="#8a6a9a"><circle cx="328.8" cy="683.4" r="1.2"/><circle cx="360.7" cy="685.8" r="1.2"/><circle cx="374.6" cy="670.4" r="1.0"/><circle cx="312.7" cy="687.3" r="1.0"/><circle cx="347.1" cy="684.2" r="0.9"/><circle cx="332.9" cy="666.6" r="0.8"/><circle cx="338.9" cy="649.3" r="1.2"/><circle cx="353.5" cy="685.8" r="0.9"/><circle cx="336.8" cy="663.7" r="0.8"/><circle cx="345.9" cy="668.9" r="1.2"/><circle cx="304.9" cy="707.8" r="1.1"/><circle cx="322.1" cy="664.5" r="1.0"/><circle cx="336.0" cy="674.1" r="1.3"/><circle cx="317.5" cy="642.9" r="1.3"/><circle cx="355.6" cy="683.0" r="1.0"/><circle cx="319.4" cy="656.3" r="1.2"/><circle cx="329.5" cy="680.7" r="1.2"/><circle cx="373.0" cy="659.4" r="1.2"/><circle cx="342.0" cy="703.2" r="1.1"/><circle cx="312.9" cy="678.0" r="1.0"/><circle cx="342.9" cy="673.2" r="1.0"/><circle cx="298.4" cy="648.5" r="1.2"/><circle cx="328.6" cy="679.0" r="1.3"/><circle cx="352.3" cy="707.8" r="1.3"/><circle cx="308.3" cy="657.5" r="1.3"/><circle cx="353.3" cy="684.3" r="1.2"/><circle cx="386.2" cy="673.1" r="1.0"/><circle cx="319.7" cy="665.5" r="1.2"/><circle cx="336.5" cy="670.6" r="1.1"/><circle cx="344.2" cy="640.2" r="1.2"/><circle cx="389.6" cy="692.0" r="1.0"/><circle cx="308.2" cy="645.4" r="1.0"/><circle cx="308.7" cy="684.9" r="1.2"/><circle cx="312.2" cy="655.2" r="1.1"/><circle cx="383.7" cy="671.9" r="0.8"/><circle cx="325.2" cy="670.0" r="0.8"/><circle cx="360.9" cy="684.6" r="1.3"/><circle cx="356.3" cy="691.1" r="1.0"/><circle cx="394.5" cy="671.5" r="1.1"/><circle cx="340.1" cy="710.9" r="0.9"/><circle cx="328.8" cy="713.6" r="1.1"/><circle cx="302.8" cy="647.8" r="1.1"/><circle cx="349.0" cy="663.4" r="1.1"/><circle cx="304.0" cy="706.8" r="1.2"/><circle cx="320.3" cy="642.1" r="1.3"/><circle cx="379.7" cy="713.4" r="0.8"/><circle cx="299.2" cy="691.9" r="1.2"/><circle cx="390.1" cy="698.2" r="1.0"/><circle cx="342.5" cy="684.7" r="1.0"/><circle cx="315.6" cy="679.3" r="0.8"/><circle cx="328.1" cy="641.6" r="1.1"/><circle cx="305.2" cy="642.3" r="0.9"/><circle cx="324.9" cy="690.5" r="0.8"/><circle cx="300.8" cy="650.3" r="0.9"/><circle cx="393.3" cy="674.9" r="1.0"/><circle cx="350.6" cy="668.8" r="0.8"/><circle cx="309.7" cy="675.3" r="1.2"/><circle cx="370.7" cy="687.2" r="1.2"/><circle cx="315.5" cy="646.8" r="0.8"/><circle cx="365.6" cy="701.6" r="0.9"/><circle cx="352.2" cy="679.9" r="1.2"/><circle cx="348.6" cy="640.9" r="1.2"/><circle cx="361.4" cy="666.0" r="1.0"/><circle cx="387.2" cy="682.0" r="1.3"/><circle cx="384.2" cy="698.0" r="0.9"/><circle cx="344.6" cy="640.9" r="1.0"/></g><g fill="#8a6070"><circle cx="387.1" cy="649.9" r="0.9"/><circle cx="383.1" cy="645.7" r="0.8"/><circle cx="391.9" cy="658.5" r="0.8"/><circle cx="393.9" cy="666.3" r="0.7"/><circle cx="378.0" cy="653.2" r="0.8"/><circle cx="393.9" cy="646.5" r="1.0"/><circle cx="384.3" cy="655.9" r="0.9"/><circle cx="385.3" cy="659.8" r="0.9"/><circle cx="384.6" cy="659.6" r="0.7"/><circle cx="379.7" cy="647.7" r="0.6"/><circle cx="385.7" cy="656.3" r="1.0"/><circle cx="387.6" cy="652.4" r="0.7"/><circle cx="380.6" cy="648.8" r="0.7"/><circle cx="377.6" cy="645.1" r="0.9"/><circle cx="391.9" cy="642.8" r="0.9"/><circle cx="394.8" cy="653.2" r="0.8"/><circle cx="388.4" cy="661.9" r="0.8"/></g><g fill="#3a1a38"><circle cx="384.8" cy="665.4" r="0.9"/><circle cx="365.6" cy="648.5" r="0.9"/><circle cx="383.7" cy="659.7" r="1.4"/><circle cx="374.6" cy="655.2" r="1.2"/><circle cx="367.9" cy="646.5" r="0.9"/><circle cx="370.2" cy="645.9" r="0.8"/><circle cx="386.2" cy="662.4" r="1.0"/><circle cx="374.6" cy="652.1" r="0.9"/><circle cx="369.0" cy="651.2" r="1.0"/><circle cx="383.2" cy="659.5" r="1.3"/><circle cx="384.3" cy="665.7" r="1.0"/><circle cx="386.3" cy="661.9" r="0.9"/><circle cx="390.5" cy="669.5" r="1.3"/><circle cx="383.7" cy="661.4" r="0.8"/><circle cx="376.3" cy="659.3" r="1.4"/><circle cx="371.2" cy="654.3" r="1.0"/><circle cx="367.4" cy="649.3" r="0.8"/><circle cx="383.6" cy="661.5" r="1.4"/></g><g fill="#2e1028"><circle cx="386.5" cy="668.7" r="1.0"/><circle cx="393.4" cy="668.7" r="1.1"/><circle cx="381.5" cy="658.2" r="1.4"/><circle cx="376.8" cy="654.4" r="1.1"/><circle cx="381.9" cy="666.6" r="1.1"/><circle cx="381.6" cy="659.2" r="1.2"/><circle cx="390.6" cy="667.0" r="1.2"/><circle cx="369.2" cy="653.5" r="0.9"/><circle cx="381.8" cy="663.6" r="0.8"/><circle cx="368.3" cy="649.1" r="1.2"/><circle cx="368.7" cy="647.6" r="1.1"/><circle cx="376.7" cy="655.2" r="1.3"/><circle cx="387.9" cy="669.6" r="1.2"/><circle cx="384.3" cy="667.9" r="1.1"/><circle cx="377.4" cy="660.5" r="0.8"/><circle cx="375.4" cy="653.2" r="1.2"/><circle cx="365.0" cy="642.7" r="1.2"/></g><circle cx="388" cy="697" r="2.2" fill="#2a0c22"/><circle cx="391" cy="701" r="2.2" fill="#2a0c22"/><circle cx="389" cy="704" r="2.0" fill="#2a0c22"/><circle cx="392" cy="699" r="1.8" fill="#2a0c22"/><circle cx="349" cy="665" r="2.0" fill="#2a0c22"/><circle cx="351" cy="668" r="1.8" fill="#2a0c22"/><circle cx="347" cy="667" r="1.6" fill="#2a0c22"/><circle cx="384" cy="694" r="1.6" fill="#2a0c22"/><circle cx="371" cy="700" r="1.5" fill="#2a0c22"/><circle cx="375" cy="703" r="1.4" fill="#2a0c22"/></g><rect x="372" y="708.8" width="19.5" height="1.6" fill="#f6f2f4"/>
</g>
<clipPath id="c4"><rect x="97.5" y="716.2" width="98.5" height="72.9"/></clipPath>
<g clip-path="url(#c4)">
<rect x="97.5" y="716.2" width="98.5" height="72.9" fill="#c8c8c5"/>
<g filter="url(#bl)"><rect x="97.5" y="716.2" width="98.5" height="73" filter="url(#f4n)"/><ellipse cx="124.5" cy="756.2" rx="12.7" ry="10.6" fill="#dcdbd3" stroke="#b0b0b2" stroke-width="0.5"/><ellipse cx="139.5" cy="778.2" rx="12" ry="9.6" fill="#dcdbd3" stroke="#b0b0b2" stroke-width="0.5"/><ellipse cx="147" cy="725.8" rx="13" ry="8" fill="#dcdbd3" stroke="#b0b0b2" stroke-width="0.5"/><ellipse cx="120.5" cy="721.5" rx="7" ry="4.5" fill="#dcdbd3" stroke="#b0b0b2" stroke-width="0.5"/><ellipse cx="186.5" cy="781" rx="10" ry="9.5" fill="#dcdbd3" stroke="#b0b0b2" stroke-width="0.5"/><ellipse cx="165.5" cy="746" rx="5" ry="6.5" fill="#dcdbd3" stroke="#b0b0b2" stroke-width="0.5"/><g fill="#34345e" fill-opacity="0.75"><circle cx="169.2" cy="724.1" r="1.0"/><circle cx="157.3" cy="719.2" r="0.9"/><circle cx="111.3" cy="727.3" r="0.8"/><circle cx="169.4" cy="777.1" r="1.0"/><circle cx="100.0" cy="734.7" r="1.0"/><circle cx="128.3" cy="745.4" r="0.8"/><circle cx="145.1" cy="745.0" r="1.1"/><circle cx="159.4" cy="745.7" r="1.1"/><circle cx="99.0" cy="769.2" r="1.0"/><circle cx="167.0" cy="768.2" r="0.8"/><circle cx="191.0" cy="770.1" r="1.0"/><circle cx="192.3" cy="723.0" r="1.0"/><circle cx="151.4" cy="766.7" r="0.8"/><circle cx="179.4" cy="771.2" r="0.9"/><circle cx="190.1" cy="752.0" r="0.8"/><circle cx="145.1" cy="760.2" r="1.0"/><circle cx="168.2" cy="785.2" r="0.8"/><circle cx="100.5" cy="734.5" r="1.0"/><circle cx="105.7" cy="722.8" r="1.0"/><circle cx="173.9" cy="768.8" r="1.1"/><circle cx="190.5" cy="756.7" r="1.1"/><circle cx="169.7" cy="734.6" r="0.9"/><circle cx="191.9" cy="723.4" r="1.0"/><circle cx="158.7" cy="780.9" r="0.9"/><circle cx="173.8" cy="717.4" r="1.1"/><circle cx="97.6" cy="725.0" r="1.0"/><circle cx="181.2" cy="737.8" r="0.8"/><circle cx="165.2" cy="731.3" r="0.8"/><circle cx="145.6" cy="737.7" r="1.0"/><circle cx="183.3" cy="767.8" r="1.0"/><circle cx="160.8" cy="724.5" r="0.9"/><circle cx="173.9" cy="775.9" r="1.1"/><circle cx="172.2" cy="778.7" r="1.0"/><circle cx="139.5" cy="752.4" r="0.9"/><circle cx="166.6" cy="766.7" r="0.8"/><circle cx="176.0" cy="753.2" r="0.9"/><circle cx="187.3" cy="760.0" r="1.0"/><circle cx="161.5" cy="733.6" r="1.0"/><circle cx="170.3" cy="750.6" r="1.1"/><circle cx="190.0" cy="769.1" r="1.0"/><circle cx="190.8" cy="770.7" r="0.8"/><circle cx="128.6" cy="728.2" r="1.1"/><circle cx="111.5" cy="758.8" r="0.9"/><circle cx="135.6" cy="732.9" r="1.1"/><circle cx="189.8" cy="749.4" r="0.8"/><circle cx="189.5" cy="726.2" r="0.8"/><circle cx="112.7" cy="716.5" r="1.1"/><circle cx="179.8" cy="772.5" r="1.0"/><circle cx="165.9" cy="788.7" r="0.9"/><circle cx="161.1" cy="767.6" r="1.1"/><circle cx="174.2" cy="765.2" r="0.9"/><circle cx="187.6" cy="720.2" r="1.1"/><circle cx="105.7" cy="744.4" r="0.9"/><circle cx="160.5" cy="765.4" r="0.9"/><circle cx="151.0" cy="762.0" r="0.8"/><circle cx="130.9" cy="735.6" r="1.0"/><circle cx="167.7" cy="772.0" r="0.8"/><circle cx="189.3" cy="742.9" r="0.8"/><circle cx="177.3" cy="739.8" r="1.1"/><circle cx="115.3" cy="734.1" r="0.9"/><circle cx="146.5" cy="758.3" r="0.9"/><circle cx="171.4" cy="778.0" r="1.1"/><circle cx="122.6" cy="733.7" r="0.8"/><circle cx="138.6" cy="759.5" r="1.1"/><circle cx="187.6" cy="748.9" r="1.1"/></g><g fill="#7a7a92" fill-opacity="0.75"><circle cx="154.9" cy="764.5" r="0.8"/><circle cx="116.9" cy="788.3" r="0.9"/><circle cx="99.5" cy="771.8" r="1.0"/><circle cx="154.7" cy="752.2" r="0.8"/><circle cx="185.6" cy="718.0" r="1.0"/><circle cx="102.8" cy="730.7" r="0.8"/><circle cx="160.2" cy="739.3" r="0.8"/><circle cx="160.9" cy="738.2" r="0.8"/><circle cx="186.7" cy="720.7" r="0.8"/><circle cx="181.2" cy="748.9" r="0.9"/><circle cx="104.2" cy="777.0" r="1.0"/><circle cx="116.3" cy="732.6" r="1.0"/><circle cx="186.0" cy="767.6" r="0.9"/><circle cx="111.9" cy="734.8" r="1.0"/><circle cx="159.1" cy="787.7" r="1.1"/><circle cx="111.5" cy="724.7" r="0.8"/><circle cx="167.6" cy="720.5" r="0.8"/><circle cx="194.7" cy="719.6" r="0.8"/><circle cx="131.1" cy="717.1" r="1.1"/><circle cx="185.9" cy="732.6" r="1.0"/><circle cx="155.7" cy="774.1" r="1.0"/><circle cx="162.9" cy="754.0" r="0.9"/><circle cx="98.0" cy="750.1" r="0.8"/><circle cx="158.2" cy="765.0" r="0.9"/><circle cx="188.4" cy="742.6" r="0.8"/><circle cx="189.7" cy="762.9" r="1.1"/><circle cx="103.6" cy="717.0" r="1.1"/><circle cx="158.6" cy="759.5" r="0.9"/><circle cx="140.3" cy="744.4" r="1.0"/><circle cx="137.8" cy="742.7" r="0.8"/><circle cx="104.0" cy="780.1" r="0.9"/><circle cx="193.3" cy="754.3" r="0.9"/><circle cx="166.6" cy="767.0" r="0.8"/><circle cx="130.0" cy="738.6" r="1.1"/><circle cx="104.8" cy="769.2" r="0.9"/><circle cx="155.0" cy="781.2" r="0.8"/><circle cx="179.2" cy="749.8" r="0.9"/><circle cx="128.2" cy="742.3" r="0.8"/><circle cx="114.4" cy="766.5" r="0.8"/><circle cx="169.2" cy="738.8" r="1.0"/><circle cx="195.8" cy="725.0" r="1.0"/><circle cx="127.4" cy="726.1" r="1.1"/><circle cx="100.3" cy="743.9" r="1.0"/><circle cx="146.4" cy="787.5" r="0.8"/><circle cx="168.8" cy="769.2" r="1.0"/><circle cx="178.3" cy="722.9" r="0.8"/><circle cx="163.4" cy="734.0" r="1.1"/><circle cx="179.8" cy="743.8" r="0.9"/><circle cx="112.5" cy="749.5" r="0.8"/><circle cx="153.9" cy="775.3" r="1.0"/><circle cx="166.1" cy="775.9" r="1.0"/><circle cx="194.3" cy="764.9" r="1.0"/><circle cx="181.0" cy="729.3" r="0.8"/><circle cx="100.5" cy="730.9" r="1.1"/><circle cx="156.5" cy="771.2" r="1.0"/><circle cx="120.4" cy="740.1" r="0.8"/><circle cx="188.7" cy="722.5" r="0.8"/><circle cx="151.1" cy="753.2" r="1.0"/><circle cx="176.5" cy="726.4" r="0.9"/><circle cx="191.9" cy="770.0" r="1.0"/><circle cx="147.4" cy="765.2" r="1.1"/><circle cx="142.3" cy="742.0" r="1.0"/><circle cx="115.5" cy="780.8" r="0.9"/><circle cx="192.6" cy="717.4" r="1.0"/><circle cx="155.0" cy="754.6" r="0.8"/><circle cx="100.1" cy="717.9" r="1.0"/><circle cx="132.9" cy="733.1" r="1.0"/><circle cx="128.0" cy="738.6" r="0.9"/><circle cx="170.3" cy="769.3" r="1.1"/><circle cx="169.9" cy="764.3" r="0.8"/><circle cx="170.1" cy="770.9" r="1.1"/><circle cx="154.3" cy="777.1" r="0.9"/><circle cx="102.1" cy="768.9" r="1.1"/><circle cx="141.6" cy="767.1" r="1.1"/><circle cx="194.0" cy="716.9" r="1.1"/><circle cx="175.2" cy="771.6" r="0.8"/><circle cx="156.5" cy="742.2" r="0.9"/><circle cx="176.8" cy="771.6" r="1.1"/><circle cx="112.7" cy="766.5" r="0.8"/><circle cx="159.6" cy="774.0" r="0.9"/><circle cx="177.0" cy="727.9" r="1.1"/><circle cx="174.4" cy="743.9" r="0.9"/><circle cx="167.7" cy="765.2" r="0.8"/><circle cx="167.9" cy="755.1" r="1.0"/><circle cx="187.9" cy="742.9" r="1.0"/><circle cx="149.4" cy="744.8" r="0.9"/><circle cx="175.5" cy="775.6" r="1.0"/><circle cx="124.6" cy="737.3" r="1.0"/><circle cx="153.8" cy="745.8" r="1.0"/><circle cx="173.1" cy="739.7" r="0.8"/><circle cx="108.4" cy="768.8" r="1.1"/><circle cx="191.6" cy="728.9" r="1.1"/><circle cx="109.0" cy="732.9" r="0.9"/><circle cx="105.5" cy="720.5" r="0.8"/><circle cx="195.1" cy="768.3" r="1.1"/><circle cx="178.4" cy="754.9" r="0.9"/><circle cx="169.4" cy="779.5" r="1.1"/><circle cx="172.7" cy="725.1" r="1.1"/><circle cx="126.3" cy="770.5" r="0.8"/></g><g fill="#44446c" fill-opacity="0.75"><circle cx="102.2" cy="745.9" r="0.9"/><circle cx="103.7" cy="756.0" r="1.0"/><circle cx="103.5" cy="772.3" r="1.0"/><circle cx="147.2" cy="743.3" r="1.1"/><circle cx="179.8" cy="749.0" r="0.8"/><circle cx="135.1" cy="747.7" r="0.9"/><circle cx="149.2" cy="745.3" r="0.9"/><circle cx="163.0" cy="752.9" r="0.8"/><circle cx="189.0" cy="758.5" r="1.1"/><circle cx="107.0" cy="739.6" r="0.8"/><circle cx="175.1" cy="748.4" r="1.1"/><circle cx="176.2" cy="785.3" r="1.0"/><circle cx="108.7" cy="773.6" r="1.0"/><circle cx="98.0" cy="722.1" r="0.8"/><circle cx="166.9" cy="777.0" r="0.9"/><circle cx="160.0" cy="748.7" r="0.8"/><circle cx="103.5" cy="726.3" r="0.9"/><circle cx="195.2" cy="727.8" r="1.0"/><circle cx="191.0" cy="762.0" r="0.9"/><circle cx="118.2" cy="786.7" r="1.1"/><circle cx="140.2" cy="745.1" r="1.1"/><circle cx="173.6" cy="717.0" r="0.8"/><circle cx="142.8" cy="738.6" r="1.0"/><circle cx="175.4" cy="743.2" r="1.1"/><circle cx="101.9" cy="726.8" r="1.1"/><circle cx="184.3" cy="735.1" r="0.9"/><circle cx="163.5" cy="738.3" r="0.8"/><circle cx="168.7" cy="738.8" r="1.0"/><circle cx="109.9" cy="749.4" r="0.8"/><circle cx="141.4" cy="751.3" r="1.0"/><circle cx="153.9" cy="777.6" r="1.1"/><circle cx="182.1" cy="736.7" r="0.9"/><circle cx="159.0" cy="745.8" r="0.9"/><circle cx="114.4" cy="779.6" r="0.8"/><circle cx="178.1" cy="721.4" r="1.0"/><circle cx="141.5" cy="717.1" r="0.9"/><circle cx="164.3" cy="720.6" r="0.9"/><circle cx="175.5" cy="766.2" r="0.8"/><circle cx="120.8" cy="784.9" r="1.1"/><circle cx="195.4" cy="760.9" r="0.9"/><circle cx="133.1" cy="768.3" r="0.9"/><circle cx="112.6" cy="732.2" r="0.9"/><circle cx="139.2" cy="763.3" r="1.0"/><circle cx="126.0" cy="771.3" r="0.9"/><circle cx="141.6" cy="738.9" r="1.1"/><circle cx="105.0" cy="772.8" r="0.9"/><circle cx="132.1" cy="724.6" r="1.1"/><circle cx="153.1" cy="717.6" r="1.1"/><circle cx="174.5" cy="765.4" r="0.9"/><circle cx="121.2" cy="772.6" r="1.0"/><circle cx="195.6" cy="731.5" r="0.9"/><circle cx="194.3" cy="723.2" r="0.9"/><circle cx="138.7" cy="788.9" r="0.9"/><circle cx="113.5" cy="733.3" r="0.9"/><circle cx="169.7" cy="733.4" r="0.8"/><circle cx="100.2" cy="757.9" r="0.9"/><circle cx="116.1" cy="769.1" r="0.8"/><circle cx="102.7" cy="766.2" r="1.1"/><circle cx="111.4" cy="780.7" r="1.1"/><circle cx="138.4" cy="739.0" r="0.9"/><circle cx="99.3" cy="777.6" r="0.8"/><circle cx="101.6" cy="756.0" r="1.1"/><circle cx="184.0" cy="757.2" r="0.9"/><circle cx="99.0" cy="747.0" r="0.8"/><circle cx="170.0" cy="753.3" r="0.8"/><circle cx="194.9" cy="732.8" r="0.8"/><circle cx="110.2" cy="781.9" r="1.1"/><circle cx="109.2" cy="777.1" r="0.8"/><circle cx="176.8" cy="749.3" r="0.9"/><circle cx="97.9" cy="739.8" r="1.0"/><circle cx="149.2" cy="785.2" r="1.1"/><circle cx="133.1" cy="740.7" r="0.9"/><circle cx="153.5" cy="751.1" r="1.0"/><circle cx="188.8" cy="741.0" r="0.8"/><circle cx="185.1" cy="753.6" r="1.0"/><circle cx="193.3" cy="721.2" r="1.1"/><circle cx="102.1" cy="764.7" r="0.9"/><circle cx="115.6" cy="765.3" r="0.9"/><circle cx="104.6" cy="754.4" r="0.9"/><circle cx="182.2" cy="733.1" r="0.9"/><circle cx="187.4" cy="717.3" r="0.8"/><circle cx="155.7" cy="741.2" r="0.8"/><circle cx="191.0" cy="722.3" r="1.1"/><circle cx="100.8" cy="722.3" r="0.8"/><circle cx="129.6" cy="732.1" r="0.9"/><circle cx="174.9" cy="758.5" r="0.8"/><circle cx="127.3" cy="728.1" r="0.9"/><circle cx="174.7" cy="783.9" r="1.1"/><circle cx="133.0" cy="718.0" r="0.9"/><circle cx="118.4" cy="739.2" r="1.0"/><circle cx="109.1" cy="777.8" r="0.9"/><circle cx="140.9" cy="744.5" r="1.0"/><circle cx="103.1" cy="719.1" r="1.1"/><circle cx="152.4" cy="744.6" r="0.8"/><circle cx="191.2" cy="748.9" r="0.9"/></g><g fill="#5a5a80" fill-opacity="0.75"><circle cx="153.0" cy="785.1" r="1.1"/><circle cx="175.3" cy="750.5" r="0.8"/><circle cx="126.1" cy="785.2" r="0.8"/><circle cx="183.5" cy="765.9" r="1.0"/><circle cx="102.6" cy="751.6" r="0.8"/><circle cx="144.4" cy="763.6" r="0.8"/><circle cx="172.5" cy="772.4" r="1.1"/><circle cx="163.1" cy="760.0" r="1.0"/><circle cx="107.9" cy="730.1" r="1.0"/><circle cx="150.3" cy="769.9" r="0.8"/><circle cx="121.2" cy="731.0" r="1.1"/><circle cx="176.9" cy="787.9" r="1.0"/><circle cx="100.2" cy="726.9" r="0.9"/><circle cx="191.1" cy="746.4" r="0.8"/><circle cx="185.5" cy="763.4" r="1.0"/><circle cx="195.4" cy="771.5" r="1.1"/><circle cx="115.9" cy="736.8" r="1.0"/><circle cx="191.9" cy="737.8" r="0.9"/><circle cx="171.4" cy="774.5" r="0.8"/><circle cx="140.2" cy="756.8" r="0.8"/><circle cx="150.0" cy="736.5" r="1.0"/><circle cx="123.3" cy="768.6" r="1.1"/><circle cx="128.1" cy="730.8" r="0.9"/><circle cx="141.8" cy="717.5" r="0.9"/><circle cx="99.5" cy="722.0" r="0.9"/><circle cx="185.3" cy="725.0" r="0.8"/><circle cx="172.8" cy="788.4" r="0.8"/><circle cx="104.0" cy="725.5" r="1.1"/><circle cx="127.4" cy="729.4" r="0.8"/><circle cx="134.2" cy="719.6" r="0.8"/><circle cx="156.4" cy="753.6" r="1.0"/><circle cx="102.4" cy="751.3" r="1.1"/><circle cx="100.3" cy="752.5" r="1.1"/><circle cx="180.8" cy="770.8" r="0.8"/><circle cx="173.4" cy="718.8" r="1.1"/><circle cx="170.7" cy="720.3" r="1.0"/><circle cx="166.1" cy="780.7" r="0.9"/><circle cx="124.8" cy="786.4" r="1.0"/><circle cx="169.2" cy="737.4" r="0.9"/><circle cx="101.0" cy="772.7" r="0.8"/><circle cx="98.4" cy="757.9" r="1.1"/><circle cx="127.5" cy="772.3" r="0.9"/><circle cx="163.6" cy="775.1" r="0.9"/><circle cx="174.1" cy="737.6" r="1.0"/><circle cx="121.7" cy="729.8" r="1.1"/><circle cx="193.2" cy="737.7" r="0.8"/><circle cx="189.8" cy="727.8" r="0.9"/><circle cx="109.5" cy="776.6" r="0.9"/><circle cx="177.6" cy="764.3" r="0.9"/><circle cx="183.0" cy="765.7" r="0.8"/><circle cx="116.8" cy="766.3" r="1.1"/><circle cx="171.8" cy="774.2" r="1.0"/><circle cx="169.7" cy="717.8" r="0.9"/><circle cx="127.7" cy="743.3" r="1.1"/><circle cx="176.2" cy="747.7" r="1.0"/><circle cx="104.9" cy="735.9" r="0.9"/><circle cx="110.1" cy="730.7" r="0.9"/><circle cx="196.0" cy="723.9" r="1.1"/><circle cx="148.1" cy="763.7" r="1.1"/><circle cx="138.5" cy="764.4" r="1.0"/><circle cx="100.1" cy="763.6" r="0.8"/><circle cx="107.5" cy="754.1" r="1.0"/><circle cx="109.5" cy="784.8" r="0.8"/><circle cx="172.8" cy="742.3" r="0.9"/><circle cx="179.5" cy="789.1" r="1.0"/><circle cx="175.3" cy="779.3" r="1.1"/><circle cx="193.3" cy="744.1" r="0.8"/><circle cx="156.6" cy="716.8" r="1.1"/><circle cx="145.5" cy="766.6" r="1.0"/><circle cx="123.2" cy="741.3" r="1.0"/><circle cx="133.3" cy="743.8" r="1.1"/><circle cx="180.8" cy="759.5" r="1.0"/><circle cx="186.0" cy="758.9" r="1.1"/><circle cx="167.5" cy="726.1" r="0.9"/><circle cx="145.0" cy="741.0" r="0.9"/><circle cx="168.3" cy="770.1" r="0.9"/><circle cx="178.9" cy="770.0" r="0.8"/><circle cx="153.4" cy="746.6" r="1.0"/><circle cx="101.1" cy="770.4" r="0.8"/><circle cx="158.9" cy="757.9" r="0.8"/><circle cx="112.0" cy="788.7" r="1.1"/><circle cx="180.8" cy="734.0" r="0.9"/><circle cx="109.3" cy="765.6" r="0.8"/><circle cx="156.6" cy="787.3" r="1.1"/><circle cx="116.6" cy="739.5" r="0.8"/><circle cx="174.9" cy="746.2" r="1.0"/><circle cx="158.6" cy="779.4" r="0.9"/><circle cx="190.6" cy="756.4" r="1.0"/><circle cx="155.8" cy="761.9" r="1.1"/><circle cx="162.9" cy="763.5" r="0.9"/><circle cx="173.8" cy="757.9" r="1.0"/><circle cx="170.8" cy="727.4" r="1.1"/></g><g fill="#5a5a80"><circle cx="156.4" cy="781.1" r="1.0"/><circle cx="181.3" cy="732.7" r="1.0"/><circle cx="189.6" cy="719.8" r="0.9"/><circle cx="141.0" cy="764.4" r="1.0"/><circle cx="101.4" cy="772.1" r="1.0"/><circle cx="124.4" cy="743.4" r="1.1"/><circle cx="159.5" cy="766.1" r="1.1"/><circle cx="166.2" cy="726.8" r="0.8"/><circle cx="123.9" cy="735.2" r="1.1"/><circle cx="176.8" cy="743.0" r="0.8"/><circle cx="98.1" cy="747.3" r="1.1"/><circle cx="110.1" cy="754.7" r="0.8"/><circle cx="175.2" cy="764.7" r="0.9"/><circle cx="135.2" cy="764.7" r="0.8"/><circle cx="155.6" cy="754.6" r="1.1"/><circle cx="166.6" cy="725.2" r="1.0"/><circle cx="192.1" cy="739.4" r="1.0"/><circle cx="161.6" cy="724.8" r="1.1"/><circle cx="142.9" cy="763.6" r="1.0"/><circle cx="125.6" cy="731.7" r="1.0"/><circle cx="180.5" cy="757.2" r="1.1"/><circle cx="121.1" cy="772.5" r="1.0"/><circle cx="109.6" cy="734.4" r="0.9"/><circle cx="158.8" cy="740.1" r="1.1"/><circle cx="134.0" cy="748.3" r="0.8"/><circle cx="147.7" cy="716.3" r="0.9"/><circle cx="190.2" cy="735.5" r="0.8"/><circle cx="147.7" cy="749.2" r="1.1"/><circle cx="169.1" cy="776.3" r="1.0"/><circle cx="178.2" cy="730.9" r="1.1"/><circle cx="176.0" cy="726.2" r="1.0"/><circle cx="138.5" cy="747.6" r="0.8"/><circle cx="112.3" cy="720.3" r="1.0"/><circle cx="113.7" cy="770.4" r="1.1"/><circle cx="168.3" cy="724.2" r="1.0"/><circle cx="189.3" cy="738.1" r="1.0"/><circle cx="98.5" cy="729.4" r="0.8"/><circle cx="147.9" cy="754.7" r="0.8"/></g><g fill="#34345e"><circle cx="188.7" cy="729.8" r="1.0"/><circle cx="108.9" cy="752.2" r="1.1"/><circle cx="186.1" cy="730.0" r="0.9"/><circle cx="142.9" cy="757.9" r="0.8"/><circle cx="176.0" cy="785.1" r="1.1"/><circle cx="108.9" cy="726.0" r="0.9"/><circle cx="190.5" cy="744.1" r="1.0"/><circle cx="109.1" cy="767.2" r="1.0"/><circle cx="173.5" cy="732.9" r="0.8"/><circle cx="154.1" cy="736.6" r="0.8"/><circle cx="98.1" cy="739.1" r="0.8"/><circle cx="178.2" cy="729.8" r="1.1"/><circle cx="191.6" cy="757.2" r="1.0"/><circle cx="162.7" cy="761.6" r="0.8"/><circle cx="190.4" cy="738.4" r="0.9"/><circle cx="106.4" cy="754.2" r="1.1"/><circle cx="180.1" cy="771.4" r="1.1"/><circle cx="125.0" cy="734.5" r="0.9"/><circle cx="186.0" cy="734.6" r="0.8"/><circle cx="167.9" cy="773.8" r="1.1"/><circle cx="155.4" cy="743.9" r="1.0"/><circle cx="141.7" cy="753.0" r="1.1"/><circle cx="169.2" cy="738.9" r="1.1"/><circle cx="192.2" cy="755.1" r="0.8"/><circle cx="104.5" cy="723.2" r="0.9"/><circle cx="130.8" cy="738.7" r="0.9"/><circle cx="99.0" cy="717.9" r="1.0"/><circle cx="173.4" cy="778.3" r="1.0"/><circle cx="176.8" cy="719.5" r="0.9"/><circle cx="189.4" cy="723.7" r="1.0"/><circle cx="184.2" cy="739.6" r="1.1"/><circle cx="183.3" cy="751.4" r="0.9"/><circle cx="118.6" cy="745.8" r="1.1"/><circle cx="97.7" cy="788.2" r="1.1"/><circle cx="191.8" cy="727.8" r="0.8"/><circle cx="114.3" cy="765.8" r="0.8"/><circle cx="156.2" cy="748.4" r="1.1"/><circle cx="180.6" cy="748.0" r="1.0"/><circle cx="127.5" cy="717.1" r="0.8"/><circle cx="104.3" cy="773.1" r="0.8"/><circle cx="99.9" cy="771.5" r="0.8"/><circle cx="166.4" cy="762.4" r="0.8"/><circle cx="100.1" cy="754.9" r="1.0"/><circle cx="133.3" cy="735.3" r="1.1"/><circle cx="114.0" cy="727.2" r="0.8"/></g><g fill="#44446c"><circle cx="171.8" cy="788.8" r="1.1"/><circle cx="168.5" cy="768.8" r="1.1"/><circle cx="138.8" cy="718.7" r="0.8"/><circle cx="100.0" cy="771.4" r="1.1"/><circle cx="105.0" cy="772.1" r="1.0"/><circle cx="157.2" cy="788.0" r="0.8"/><circle cx="178.8" cy="754.7" r="1.0"/><circle cx="156.3" cy="752.1" r="0.9"/><circle cx="196.0" cy="786.4" r="0.9"/><circle cx="168.2" cy="772.8" r="1.0"/><circle cx="111.3" cy="748.0" r="1.0"/><circle cx="165.7" cy="721.7" r="1.0"/><circle cx="175.0" cy="739.6" r="0.8"/><circle cx="191.6" cy="743.1" r="0.8"/><circle cx="184.8" cy="721.4" r="1.1"/><circle cx="161.8" cy="725.1" r="1.1"/><circle cx="184.5" cy="722.7" r="0.9"/><circle cx="105.5" cy="769.0" r="0.9"/><circle cx="151.3" cy="785.0" r="0.8"/><circle cx="159.8" cy="745.8" r="0.9"/><circle cx="194.2" cy="749.8" r="0.9"/><circle cx="186.8" cy="751.6" r="0.8"/><circle cx="140.6" cy="747.8" r="0.9"/><circle cx="173.1" cy="722.8" r="0.9"/><circle cx="174.9" cy="745.1" r="1.1"/><circle cx="182.7" cy="754.2" r="1.0"/><circle cx="108.4" cy="735.2" r="0.9"/><circle cx="125.0" cy="788.8" r="0.8"/><circle cx="182.4" cy="732.5" r="1.1"/><circle cx="169.3" cy="731.2" r="0.8"/><circle cx="164.2" cy="721.6" r="0.8"/><circle cx="171.5" cy="747.8" r="0.8"/><circle cx="171.4" cy="734.2" r="1.1"/><circle cx="138.9" cy="753.5" r="1.0"/><circle cx="162.3" cy="762.7" r="0.9"/><circle cx="111.4" cy="719.4" r="0.9"/><circle cx="174.1" cy="752.5" r="0.9"/><circle cx="106.2" cy="785.5" r="1.0"/><circle cx="109.0" cy="769.6" r="0.8"/><circle cx="175.6" cy="752.6" r="0.8"/><circle cx="106.5" cy="764.8" r="0.9"/><circle cx="109.3" cy="744.3" r="0.8"/><circle cx="187.0" cy="760.2" r="0.9"/><circle cx="100.0" cy="769.0" r="0.8"/><circle cx="150.4" cy="716.6" r="1.0"/><circle cx="173.6" cy="736.3" r="1.0"/></g><g fill="#7a7a92"><circle cx="168.2" cy="781.4" r="0.8"/><circle cx="98.8" cy="766.8" r="0.9"/><circle cx="100.0" cy="766.5" r="0.9"/><circle cx="135.9" cy="733.4" r="1.1"/><circle cx="99.9" cy="740.2" r="1.1"/><circle cx="156.3" cy="786.3" r="0.9"/><circle cx="159.5" cy="772.1" r="0.9"/><circle cx="152.4" cy="744.9" r="1.1"/><circle cx="168.9" cy="783.1" r="1.1"/><circle cx="100.0" cy="736.4" r="1.0"/><circle cx="195.3" cy="735.9" r="1.1"/><circle cx="115.5" cy="785.2" r="0.8"/><circle cx="124.8" cy="780.8" r="0.9"/><circle cx="156.1" cy="756.4" r="1.0"/><circle cx="99.8" cy="744.2" r="1.1"/><circle cx="180.5" cy="734.2" r="1.1"/><circle cx="177.8" cy="722.4" r="0.8"/><circle cx="176.0" cy="762.1" r="1.0"/><circle cx="97.8" cy="764.0" r="0.9"/><circle cx="103.1" cy="727.0" r="1.1"/><circle cx="177.2" cy="764.2" r="1.1"/><circle cx="97.6" cy="763.1" r="0.8"/><circle cx="127.6" cy="734.2" r="1.1"/><circle cx="182.1" cy="756.6" r="0.9"/><circle cx="101.9" cy="724.5" r="0.8"/><circle cx="98.0" cy="764.1" r="0.8"/><circle cx="168.6" cy="766.7" r="1.0"/><circle cx="184.0" cy="719.8" r="0.8"/><circle cx="166.7" cy="776.8" r="1.1"/></g></g>
</g>
<clipPath id="c5"><rect x="198.8" y="716.2" width="98.4" height="72.9"/></clipPath>
<g clip-path="url(#c5)">
<rect x="198.8" y="716.2" width="98.4" height="72.9" fill="#d4d7da"/>
<g filter="url(#bl)"><path d="M292 716.2 L297.2 716.2 L297.2 789.1 L222 789.1 C218 780 215 770 214 760 C213 745 216 732 226 727 C236 723 248 728 256 736 C264 732 270 728 278 722 C284 719 288 717 292 716.2 Z" fill="#cbd0d9"/><ellipse cx="277" cy="763" rx="8" ry="15" transform="rotate(-12 277 763)" fill="#cdd3e0"/><g fill="#3c4676" fill-opacity="0.75"><circle cx="244.3" cy="737.4" r="0.9"/><circle cx="296.1" cy="744.5" r="0.8"/><circle cx="275.2" cy="743.9" r="1.1"/><circle cx="243.4" cy="754.5" r="1.0"/><circle cx="294.1" cy="731.2" r="0.8"/><circle cx="232.5" cy="785.4" r="0.8"/><circle cx="288.7" cy="789.1" r="1.1"/><circle cx="261.1" cy="753.7" r="1.0"/><circle cx="268.1" cy="776.0" r="1.0"/><circle cx="246.9" cy="742.2" r="0.9"/><circle cx="222.7" cy="755.9" r="0.8"/><circle cx="216.8" cy="749.7" r="0.9"/><circle cx="240.2" cy="750.5" r="0.7"/><circle cx="222.6" cy="735.4" r="1.1"/><circle cx="285.9" cy="723.9" r="0.8"/><circle cx="254.7" cy="747.8" r="0.9"/><circle cx="260.1" cy="783.3" r="0.7"/><circle cx="285.8" cy="730.9" r="1.1"/><circle cx="270.2" cy="781.6" r="0.9"/><circle cx="280.6" cy="746.6" r="0.7"/><circle cx="233.1" cy="752.1" r="1.0"/><circle cx="250.8" cy="760.9" r="0.7"/><circle cx="256.3" cy="769.7" r="1.1"/><circle cx="254.4" cy="781.5" r="1.0"/><circle cx="226.8" cy="755.7" r="0.9"/><circle cx="289.4" cy="776.9" r="1.1"/><circle cx="273.7" cy="746.3" r="0.8"/><circle cx="237.5" cy="758.0" r="0.8"/><circle cx="231.5" cy="744.6" r="1.0"/><circle cx="290.5" cy="786.5" r="0.8"/><circle cx="287.8" cy="751.7" r="1.0"/><circle cx="237.5" cy="738.6" r="1.0"/><circle cx="252.7" cy="744.2" r="1.1"/><circle cx="297.0" cy="744.6" r="0.9"/><circle cx="246.0" cy="789.0" r="1.0"/><circle cx="267.2" cy="752.7" r="1.1"/><circle cx="277.5" cy="741.6" r="1.0"/><circle cx="289.7" cy="749.9" r="0.9"/><circle cx="275.3" cy="787.2" r="1.0"/><circle cx="291.7" cy="777.9" r="1.0"/><circle cx="237.4" cy="756.8" r="1.0"/><circle cx="253.4" cy="739.6" r="0.9"/><circle cx="242.3" cy="761.1" r="1.1"/></g><g fill="#3c4676"><circle cx="285.6" cy="732.0" r="1.1"/><circle cx="242.9" cy="737.7" r="1.0"/><circle cx="290.4" cy="765.6" r="1.1"/><circle cx="256.9" cy="782.0" r="1.1"/><circle cx="250.0" cy="761.8" r="1.0"/><circle cx="264.7" cy="776.0" r="0.7"/><circle cx="233.3" cy="744.4" r="0.9"/><circle cx="292.6" cy="768.5" r="1.1"/><circle cx="296.2" cy="738.8" r="0.9"/><circle cx="270.1" cy="773.2" r="0.8"/><circle cx="253.2" cy="759.3" r="1.0"/><circle cx="222.8" cy="751.3" r="0.8"/><circle cx="261.4" cy="756.9" r="0.9"/><circle cx="291.3" cy="745.0" r="1.0"/><circle cx="252.2" cy="753.2" r="1.0"/><circle cx="241.2" cy="748.0" r="0.8"/><circle cx="246.6" cy="730.9" r="1.1"/></g><g fill="#5c6690" fill-opacity="0.75"><circle cx="272.9" cy="782.9" r="0.8"/><circle cx="292.7" cy="719.6" r="1.1"/><circle cx="255.4" cy="764.8" r="0.8"/><circle cx="286.9" cy="728.4" r="1.0"/><circle cx="251.5" cy="778.6" r="1.1"/><circle cx="267.9" cy="788.7" r="1.0"/><circle cx="268.0" cy="776.6" r="1.1"/><circle cx="271.8" cy="738.0" r="0.8"/><circle cx="289.7" cy="787.9" r="1.1"/><circle cx="236.9" cy="746.1" r="0.7"/><circle cx="271.6" cy="746.7" r="1.0"/><circle cx="230.0" cy="752.8" r="0.8"/><circle cx="284.4" cy="756.7" r="1.1"/><circle cx="283.9" cy="735.3" r="0.9"/><circle cx="233.1" cy="765.5" r="1.1"/><circle cx="251.3" cy="756.7" r="1.1"/><circle cx="287.0" cy="744.7" r="0.8"/><circle cx="263.9" cy="780.7" r="1.1"/><circle cx="270.9" cy="745.2" r="0.8"/><circle cx="285.8" cy="762.9" r="0.9"/><circle cx="232.6" cy="782.6" r="0.8"/><circle cx="296.0" cy="727.2" r="1.1"/><circle cx="281.8" cy="733.4" r="0.8"/><circle cx="279.7" cy="739.0" r="0.8"/><circle cx="237.9" cy="780.6" r="1.1"/><circle cx="285.1" cy="746.1" r="0.9"/><circle cx="240.7" cy="787.6" r="0.9"/><circle cx="247.3" cy="763.4" r="1.1"/><circle cx="268.7" cy="772.5" r="1.1"/><circle cx="286.4" cy="746.4" r="1.0"/><circle cx="273.8" cy="735.3" r="0.9"/><circle cx="287.2" cy="727.1" r="1.0"/><circle cx="297.1" cy="731.9" r="0.8"/><circle cx="244.7" cy="740.1" r="0.9"/><circle cx="252.8" cy="763.3" r="1.1"/><circle cx="291.7" cy="777.2" r="0.8"/><circle cx="260.1" cy="750.5" r="1.1"/><circle cx="284.4" cy="745.3" r="1.0"/><circle cx="281.2" cy="780.7" r="1.1"/><circle cx="229.8" cy="741.3" r="1.1"/><circle cx="293.5" cy="771.8" r="1.1"/><circle cx="269.9" cy="745.4" r="0.8"/><circle cx="246.4" cy="785.8" r="1.1"/><circle cx="247.5" cy="756.5" r="0.9"/><circle cx="239.1" cy="762.8" r="1.0"/><circle cx="240.1" cy="780.9" r="1.0"/><circle cx="257.5" cy="788.3" r="1.0"/><circle cx="261.4" cy="751.5" r="1.0"/></g><g fill="#4a5484"><circle cx="270.3" cy="786.9" r="0.9"/><circle cx="284.8" cy="768.1" r="0.8"/><circle cx="233.1" cy="786.5" r="1.0"/><circle cx="261.0" cy="773.5" r="1.1"/><circle cx="242.7" cy="776.2" r="0.8"/><circle cx="284.3" cy="751.8" r="0.9"/><circle cx="269.3" cy="770.8" r="0.9"/><circle cx="254.2" cy="748.1" r="1.1"/><circle cx="244.3" cy="751.3" r="0.8"/><circle cx="284.7" cy="778.9" r="0.9"/><circle cx="230.3" cy="758.3" r="1.1"/><circle cx="249.1" cy="749.7" r="0.9"/><circle cx="296.0" cy="738.1" r="1.1"/><circle cx="264.1" cy="762.4" r="0.7"/><circle cx="232.8" cy="787.0" r="0.7"/><circle cx="267.8" cy="751.1" r="1.1"/><circle cx="216.9" cy="748.1" r="1.1"/><circle cx="288.8" cy="761.9" r="0.7"/><circle cx="265.7" cy="777.2" r="0.9"/><circle cx="226.5" cy="738.7" r="1.1"/><circle cx="269.3" cy="783.5" r="1.0"/></g><g fill="#5c6690"><circle cx="236.1" cy="748.0" r="0.9"/><circle cx="288.1" cy="745.4" r="1.1"/><circle cx="234.3" cy="755.8" r="0.9"/><circle cx="288.7" cy="738.0" r="1.0"/><circle cx="231.0" cy="732.8" r="0.8"/><circle cx="293.0" cy="784.3" r="1.1"/><circle cx="265.4" cy="758.0" r="1.0"/><circle cx="229.8" cy="761.4" r="0.7"/><circle cx="285.4" cy="763.2" r="0.9"/><circle cx="248.5" cy="769.7" r="0.9"/><circle cx="269.3" cy="742.4" r="1.0"/><circle cx="242.5" cy="733.9" r="1.1"/><circle cx="294.9" cy="728.5" r="1.1"/><circle cx="236.6" cy="755.3" r="0.8"/><circle cx="289.3" cy="764.1" r="0.8"/><circle cx="244.4" cy="730.2" r="1.0"/><circle cx="295.4" cy="731.7" r="0.9"/><circle cx="266.3" cy="762.8" r="1.0"/><circle cx="265.9" cy="746.7" r="1.0"/><circle cx="261.3" cy="763.9" r="0.7"/><circle cx="221.1" cy="754.1" r="0.8"/><circle cx="234.7" cy="767.4" r="0.8"/><circle cx="283.9" cy="726.9" r="0.9"/><circle cx="277.2" cy="784.2" r="1.0"/><circle cx="251.2" cy="777.3" r="0.8"/><circle cx="224.6" cy="752.6" r="0.7"/></g><g fill="#7c86a6" fill-opacity="0.75"><circle cx="262.5" cy="748.5" r="0.9"/><circle cx="222.3" cy="751.8" r="1.0"/><circle cx="271.3" cy="781.9" r="0.8"/><circle cx="233.1" cy="788.6" r="1.1"/><circle cx="230.0" cy="730.0" r="1.0"/><circle cx="269.5" cy="786.0" r="0.8"/><circle cx="292.4" cy="750.4" r="1.0"/><circle cx="289.4" cy="762.5" r="0.7"/><circle cx="250.5" cy="785.6" r="1.1"/><circle cx="277.5" cy="740.0" r="0.7"/><circle cx="264.0" cy="776.9" r="0.9"/><circle cx="235.7" cy="735.4" r="0.8"/><circle cx="285.8" cy="775.8" r="1.1"/><circle cx="262.4" cy="757.0" r="0.8"/><circle cx="289.9" cy="720.8" r="0.9"/><circle cx="238.3" cy="747.1" r="0.9"/><circle cx="238.3" cy="745.3" r="0.9"/><circle cx="259.5" cy="756.8" r="0.7"/><circle cx="217.5" cy="741.8" r="1.1"/><circle cx="284.2" cy="782.5" r="0.9"/><circle cx="264.8" cy="751.1" r="1.1"/><circle cx="226.3" cy="764.8" r="0.8"/><circle cx="249.7" cy="755.0" r="0.7"/><circle cx="247.4" cy="734.0" r="1.0"/><circle cx="217.1" cy="744.8" r="0.9"/><circle cx="259.9" cy="781.6" r="1.0"/><circle cx="236.0" cy="748.0" r="0.8"/><circle cx="274.7" cy="786.4" r="1.1"/><circle cx="219.6" cy="747.2" r="0.8"/><circle cx="295.1" cy="765.0" r="0.7"/><circle cx="226.3" cy="751.0" r="0.8"/><circle cx="259.5" cy="786.9" r="0.9"/><circle cx="252.2" cy="741.3" r="0.8"/><circle cx="292.0" cy="763.4" r="1.0"/><circle cx="224.4" cy="761.0" r="0.8"/><circle cx="231.0" cy="780.6" r="1.0"/><circle cx="223.8" cy="763.2" r="0.8"/><circle cx="242.2" cy="759.4" r="1.0"/><circle cx="290.9" cy="728.0" r="1.0"/><circle cx="289.1" cy="745.7" r="1.1"/><circle cx="260.0" cy="787.9" r="0.8"/></g><g fill="#5c6690" fill-opacity="0.5"><circle cx="292.8" cy="782.7" r="0.9"/><circle cx="248.9" cy="779.3" r="0.9"/><circle cx="290.0" cy="783.4" r="1.0"/><circle cx="242.5" cy="764.0" r="1.1"/><circle cx="266.5" cy="766.3" r="1.1"/><circle cx="249.5" cy="750.5" r="1.0"/><circle cx="292.8" cy="767.7" r="0.9"/></g><g fill="#7c86a6"><circle cx="258.2" cy="760.3" r="1.0"/><circle cx="239.9" cy="757.6" r="0.7"/><circle cx="264.2" cy="755.8" r="0.9"/><circle cx="242.3" cy="780.5" r="0.9"/><circle cx="291.3" cy="778.5" r="0.8"/><circle cx="247.4" cy="774.1" r="0.8"/><circle cx="230.5" cy="789.0" r="1.1"/><circle cx="242.3" cy="766.1" r="1.1"/><circle cx="229.5" cy="749.3" r="1.0"/><circle cx="291.3" cy="772.2" r="1.1"/><circle cx="231.2" cy="762.8" r="1.0"/><circle cx="252.5" cy="761.3" r="0.8"/><circle cx="238.8" cy="748.9" r="1.0"/><circle cx="296.5" cy="717.4" r="0.8"/><circle cx="228.9" cy="736.9" r="1.0"/><circle cx="294.0" cy="734.6" r="1.0"/><circle cx="234.2" cy="734.8" r="0.7"/><circle cx="239.3" cy="751.7" r="0.8"/><circle cx="247.9" cy="747.6" r="1.0"/><circle cx="255.5" cy="749.4" r="1.1"/><circle cx="239.0" cy="764.2" r="1.1"/><circle cx="226.3" cy="755.3" r="0.9"/><circle cx="243.6" cy="750.4" r="1.0"/></g><g fill="#4a5484" fill-opacity="0.75"><circle cx="294.6" cy="784.1" r="0.7"/><circle cx="220.8" cy="741.1" r="1.0"/><circle cx="289.9" cy="749.7" r="1.1"/><circle cx="287.5" cy="762.7" r="0.9"/><circle cx="295.6" cy="718.1" r="0.8"/><circle cx="292.8" cy="780.2" r="1.0"/><circle cx="264.2" cy="753.9" r="1.0"/><circle cx="261.4" cy="750.5" r="0.8"/><circle cx="257.8" cy="778.7" r="0.7"/><circle cx="293.8" cy="782.5" r="0.9"/><circle cx="238.2" cy="747.7" r="1.0"/><circle cx="262.8" cy="749.7" r="1.1"/><circle cx="218.8" cy="750.2" r="1.0"/><circle cx="263.1" cy="765.4" r="1.1"/><circle cx="288.8" cy="723.3" r="1.0"/><circle cx="285.4" cy="759.2" r="0.9"/><circle cx="253.0" cy="743.1" r="0.8"/><circle cx="268.9" cy="784.1" r="1.1"/><circle cx="281.1" cy="780.4" r="0.9"/><circle cx="230.0" cy="733.5" r="0.9"/><circle cx="265.0" cy="753.0" r="1.0"/><circle cx="235.0" cy="733.5" r="0.8"/><circle cx="251.6" cy="786.8" r="1.0"/><circle cx="275.2" cy="781.4" r="1.0"/><circle cx="268.4" cy="757.1" r="0.8"/><circle cx="290.1" cy="775.5" r="1.1"/><circle cx="252.5" cy="769.1" r="1.0"/><circle cx="290.0" cy="788.0" r="0.8"/><circle cx="291.3" cy="760.2" r="0.8"/><circle cx="261.7" cy="758.8" r="1.1"/><circle cx="291.4" cy="732.7" r="1.0"/><circle cx="259.5" cy="754.3" r="0.8"/><circle cx="288.5" cy="729.9" r="0.9"/><circle cx="235.8" cy="766.1" r="0.8"/><circle cx="265.6" cy="780.5" r="1.1"/><circle cx="262.0" cy="774.5" r="1.0"/><circle cx="263.8" cy="771.7" r="0.8"/><circle cx="259.1" cy="773.5" r="1.1"/><circle cx="224.8" cy="738.4" r="0.7"/><circle cx="259.3" cy="758.6" r="1.0"/><circle cx="232.7" cy="749.5" r="1.1"/><circle cx="243.2" cy="783.3" r="0.8"/><circle cx="235.6" cy="729.8" r="0.9"/><circle cx="247.4" cy="757.6" r="0.8"/><circle cx="256.8" cy="789.0" r="0.7"/><circle cx="222.1" cy="755.7" r="0.9"/><circle cx="234.2" cy="734.8" r="0.9"/><circle cx="219.1" cy="740.6" r="0.9"/><circle cx="267.3" cy="764.6" r="1.0"/><circle cx="284.0" cy="754.8" r="0.8"/><circle cx="249.2" cy="767.7" r="0.8"/><circle cx="262.2" cy="756.1" r="0.9"/></g><g fill="#4a5484" fill-opacity="0.5"><circle cx="254.5" cy="752.7" r="0.8"/><circle cx="221.7" cy="751.0" r="1.1"/><circle cx="249.7" cy="742.7" r="1.1"/><circle cx="258.3" cy="765.2" r="0.7"/><circle cx="227.0" cy="755.7" r="1.0"/></g><g fill="#7c86a6" fill-opacity="0.5"><circle cx="257.1" cy="779.1" r="1.0"/><circle cx="261.3" cy="762.6" r="0.9"/></g><g fill="#3c4676" fill-opacity="0.5"><circle cx="274.8" cy="747.6" r="0.9"/><circle cx="235.3" cy="752.0" r="1.1"/><circle cx="251.7" cy="740.0" r="1.1"/></g><g fill="#7c86a6"><circle cx="277.1" cy="769.8" r="0.9"/><circle cx="277.4" cy="750.6" r="0.8"/><circle cx="278.9" cy="751.4" r="0.8"/><circle cx="281.4" cy="767.2" r="0.8"/><circle cx="273.7" cy="761.8" r="0.8"/><circle cx="277.6" cy="767.1" r="0.8"/><circle cx="279.1" cy="763.9" r="0.8"/></g><g fill="#5c6690" fill-opacity="0.75"><circle cx="215.2" cy="753.5" r="0.7"/><circle cx="208.5" cy="731.6" r="0.7"/><circle cx="202.1" cy="750.6" r="0.8"/><circle cx="217.8" cy="733.5" r="0.7"/><circle cx="213.5" cy="755.7" r="0.8"/><circle cx="217.2" cy="731.3" r="0.7"/></g><g fill="#5c6690" fill-opacity="0.5"><circle cx="220.9" cy="742.6" r="0.7"/><circle cx="212.3" cy="737.5" r="1.0"/><circle cx="201.2" cy="752.5" r="0.8"/><circle cx="200.1" cy="757.0" r="0.8"/><circle cx="205.1" cy="743.8" r="0.8"/><circle cx="220.8" cy="755.3" r="0.8"/><circle cx="218.3" cy="749.9" r="0.9"/><circle cx="213.5" cy="746.2" r="1.0"/></g><circle cx="224.6" cy="733.6" r="2.8" fill="#8a6a4c" fill-opacity="0.85"/><circle cx="224.6" cy="733.6" r="1.4" fill="#5a4030" fill-opacity="0.6"/><circle cx="232" cy="742" r="2.3" fill="#8a6a4c" fill-opacity="0.85"/><circle cx="232" cy="742" r="1.1" fill="#5a4030" fill-opacity="0.6"/><circle cx="232" cy="757" r="2.6" fill="#8a6a4c" fill-opacity="0.85"/><circle cx="232" cy="757" r="1.3" fill="#5a4030" fill-opacity="0.6"/><circle cx="245.8" cy="755" r="2.6" fill="#8a6a4c" fill-opacity="0.85"/><circle cx="245.8" cy="755" r="1.3" fill="#5a4030" fill-opacity="0.6"/><circle cx="252.2" cy="755" r="2.3" fill="#8a6a4c" fill-opacity="0.85"/><circle cx="252.2" cy="755" r="1.1" fill="#5a4030" fill-opacity="0.6"/><circle cx="246.8" cy="742" r="2.0" fill="#8a6a4c" fill-opacity="0.85"/><circle cx="246.8" cy="742" r="1.0" fill="#5a4030" fill-opacity="0.6"/><circle cx="238" cy="748" r="1.7" fill="#8a6a4c" fill-opacity="0.85"/><circle cx="238" cy="748" r="0.8" fill="#5a4030" fill-opacity="0.6"/><circle cx="229" cy="748" r="1.6" fill="#8a6a4c" fill-opacity="0.85"/><circle cx="229" cy="748" r="0.8" fill="#5a4030" fill-opacity="0.6"/><circle cx="236" cy="764" r="1.7" fill="#8a6a4c" fill-opacity="0.85"/><circle cx="236" cy="764" r="0.8" fill="#5a4030" fill-opacity="0.6"/><circle cx="225" cy="740" r="1.5" fill="#8a6a4c" fill-opacity="0.85"/><circle cx="225" cy="740" r="0.8" fill="#5a4030" fill-opacity="0.6"/></g>
</g>
<clipPath id="c6"><rect x="297.2" y="716.2" width="98.1" height="72.9"/></clipPath>
<g clip-path="url(#c6)">
<rect x="297.2" y="716.2" width="98.1" height="72.9" fill="#bdbcc6"/>
<g filter="url(#bl)"><rect x="297.2" y="716.2" width="98.1" height="73" filter="url(#f6n)"/><ellipse cx="311" cy="721" rx="11" ry="6.5" fill="#cfd0d6"/><g fill="#56547a" fill-opacity="0.75"><circle cx="360.9" cy="734.5" r="0.8"/><circle cx="394.8" cy="719.3" r="0.9"/><circle cx="369.2" cy="751.2" r="0.7"/><circle cx="381.4" cy="740.0" r="0.8"/><circle cx="351.4" cy="721.3" r="0.8"/><circle cx="326.2" cy="758.3" r="0.6"/><circle cx="382.1" cy="736.6" r="0.6"/><circle cx="391.8" cy="751.1" r="0.9"/><circle cx="373.7" cy="721.0" r="0.7"/><circle cx="338.7" cy="719.7" r="0.7"/><circle cx="337.5" cy="728.2" r="0.8"/><circle cx="319.8" cy="764.4" r="0.7"/><circle cx="384.8" cy="745.3" r="0.9"/><circle cx="308.3" cy="770.9" r="0.8"/><circle cx="376.7" cy="719.1" r="0.9"/><circle cx="394.0" cy="735.2" r="0.8"/><circle cx="371.8" cy="718.4" r="0.6"/><circle cx="303.9" cy="771.2" r="0.9"/><circle cx="364.0" cy="719.0" r="0.6"/><circle cx="300.8" cy="732.3" r="0.7"/><circle cx="355.5" cy="723.8" r="0.7"/><circle cx="340.3" cy="741.3" r="0.9"/><circle cx="331.8" cy="756.0" r="0.7"/><circle cx="326.4" cy="750.5" r="0.6"/><circle cx="307.5" cy="751.8" r="0.8"/><circle cx="386.0" cy="720.3" r="0.8"/><circle cx="319.9" cy="747.6" r="0.8"/><circle cx="351.0" cy="717.6" r="0.8"/><circle cx="352.0" cy="745.5" r="0.6"/><circle cx="341.8" cy="729.5" r="0.6"/><circle cx="373.4" cy="748.0" r="0.6"/><circle cx="367.2" cy="737.3" r="0.8"/><circle cx="355.6" cy="751.6" r="0.6"/><circle cx="351.2" cy="750.6" r="0.6"/><circle cx="387.8" cy="734.1" r="0.6"/><circle cx="358.2" cy="746.1" r="0.6"/><circle cx="355.4" cy="729.0" r="0.8"/><circle cx="309.8" cy="765.7" r="0.8"/><circle cx="330.9" cy="719.3" r="0.6"/><circle cx="303.4" cy="774.1" r="0.9"/><circle cx="339.4" cy="748.0" r="0.9"/><circle cx="301.9" cy="733.7" r="0.8"/><circle cx="301.3" cy="749.9" r="0.6"/><circle cx="317.1" cy="736.2" r="0.8"/><circle cx="349.3" cy="740.8" r="0.9"/><circle cx="325.0" cy="750.1" r="0.7"/><circle cx="390.3" cy="749.8" r="0.8"/><circle cx="366.0" cy="749.0" r="0.9"/><circle cx="393.3" cy="760.4" r="0.6"/><circle cx="352.3" cy="751.1" r="0.6"/><circle cx="394.4" cy="783.3" r="0.6"/><circle cx="314.1" cy="760.4" r="0.8"/><circle cx="363.9" cy="729.0" r="0.9"/><circle cx="328.7" cy="726.3" r="0.9"/><circle cx="321.4" cy="753.7" r="0.7"/><circle cx="324.5" cy="788.6" r="0.8"/><circle cx="322.8" cy="786.9" r="0.7"/><circle cx="388.5" cy="742.3" r="0.8"/><circle cx="352.5" cy="733.6" r="0.7"/><circle cx="308.0" cy="751.2" r="0.6"/><circle cx="347.3" cy="740.4" r="0.8"/><circle cx="301.1" cy="731.3" r="0.6"/><circle cx="320.4" cy="779.0" r="0.6"/><circle cx="390.2" cy="732.1" r="0.9"/><circle cx="331.1" cy="752.3" r="0.8"/><circle cx="302.9" cy="725.1" r="0.8"/><circle cx="355.6" cy="750.6" r="0.9"/><circle cx="298.3" cy="746.9" r="0.6"/><circle cx="353.0" cy="786.7" r="0.8"/><circle cx="356.9" cy="764.7" r="0.7"/><circle cx="319.6" cy="767.8" r="0.6"/><circle cx="378.5" cy="745.3" r="0.8"/><circle cx="355.5" cy="738.8" r="0.6"/><circle cx="321.9" cy="743.6" r="0.8"/><circle cx="317.1" cy="784.7" r="0.9"/><circle cx="353.5" cy="753.5" r="0.8"/><circle cx="319.1" cy="784.6" r="0.8"/><circle cx="373.2" cy="738.2" r="0.8"/><circle cx="359.5" cy="747.5" r="0.7"/><circle cx="369.9" cy="750.4" r="0.8"/><circle cx="312.2" cy="753.3" r="0.6"/><circle cx="349.6" cy="745.7" r="0.7"/><circle cx="349.7" cy="734.5" r="0.9"/><circle cx="354.5" cy="732.5" r="0.9"/><circle cx="346.7" cy="729.8" r="0.8"/><circle cx="364.8" cy="716.3" r="0.8"/><circle cx="324.1" cy="718.9" r="0.8"/><circle cx="329.6" cy="751.3" r="0.6"/><circle cx="360.3" cy="778.6" r="0.8"/><circle cx="302.5" cy="761.8" r="0.7"/><circle cx="298.7" cy="764.1" r="0.8"/><circle cx="365.5" cy="785.3" r="0.7"/><circle cx="324.7" cy="782.5" r="0.8"/><circle cx="309.0" cy="745.9" r="0.8"/><circle cx="298.4" cy="786.5" r="0.7"/><circle cx="379.7" cy="733.5" r="0.8"/><circle cx="337.3" cy="721.7" r="0.8"/><circle cx="348.2" cy="758.6" r="0.9"/><circle cx="365.0" cy="720.4" r="0.7"/><circle cx="330.1" cy="742.9" r="0.8"/><circle cx="360.8" cy="746.6" r="0.8"/><circle cx="378.5" cy="750.2" r="0.6"/><circle cx="357.5" cy="771.8" r="0.8"/></g><g fill="#86849c" fill-opacity="0.75"><circle cx="302.4" cy="733.1" r="0.7"/><circle cx="355.8" cy="723.6" r="0.7"/><circle cx="315.9" cy="749.5" r="0.7"/><circle cx="357.9" cy="745.3" r="0.7"/><circle cx="393.8" cy="747.7" r="0.6"/><circle cx="354.3" cy="759.7" r="0.9"/><circle cx="352.7" cy="761.7" r="0.6"/><circle cx="359.1" cy="758.0" r="0.7"/><circle cx="332.2" cy="746.6" r="0.9"/><circle cx="358.5" cy="717.3" r="0.8"/><circle cx="309.8" cy="736.8" r="0.9"/><circle cx="368.1" cy="733.4" r="0.6"/><circle cx="318.3" cy="739.2" r="0.6"/><circle cx="345.9" cy="719.0" r="0.8"/><circle cx="317.0" cy="786.8" r="0.8"/><circle cx="394.4" cy="777.5" r="0.7"/><circle cx="327.8" cy="738.0" r="0.7"/><circle cx="300.5" cy="736.2" r="0.7"/><circle cx="302.2" cy="741.1" r="0.8"/><circle cx="354.0" cy="743.8" r="0.6"/><circle cx="299.5" cy="727.8" r="0.6"/><circle cx="368.6" cy="723.0" r="0.7"/><circle cx="357.8" cy="752.2" r="0.7"/><circle cx="337.4" cy="746.3" r="0.9"/><circle cx="370.1" cy="717.4" r="0.9"/><circle cx="313.8" cy="730.9" r="0.7"/><circle cx="331.2" cy="720.9" r="0.7"/><circle cx="335.5" cy="718.2" r="0.8"/><circle cx="347.8" cy="743.9" r="0.6"/><circle cx="304.8" cy="754.0" r="0.7"/><circle cx="373.8" cy="718.0" r="0.7"/><circle cx="299.5" cy="777.1" r="0.8"/><circle cx="303.1" cy="759.3" r="0.7"/><circle cx="317.4" cy="738.7" r="0.7"/><circle cx="307.9" cy="727.9" r="0.6"/><circle cx="311.3" cy="766.2" r="0.6"/><circle cx="382.9" cy="743.9" r="0.8"/><circle cx="364.0" cy="737.9" r="0.8"/><circle cx="328.2" cy="718.8" r="0.6"/><circle cx="363.0" cy="718.1" r="0.9"/><circle cx="386.8" cy="716.4" r="0.7"/><circle cx="373.3" cy="734.6" r="0.7"/><circle cx="368.7" cy="736.9" r="0.8"/><circle cx="301.0" cy="783.0" r="0.9"/><circle cx="360.9" cy="721.5" r="0.9"/><circle cx="310.9" cy="761.0" r="0.7"/><circle cx="331.2" cy="735.2" r="0.8"/><circle cx="340.9" cy="739.1" r="0.9"/><circle cx="319.1" cy="738.3" r="0.7"/><circle cx="297.4" cy="755.8" r="0.9"/><circle cx="334.6" cy="746.7" r="0.9"/><circle cx="316.4" cy="774.8" r="0.6"/><circle cx="383.5" cy="727.1" r="0.6"/><circle cx="385.1" cy="740.6" r="0.7"/><circle cx="356.3" cy="736.8" r="0.8"/><circle cx="393.4" cy="758.7" r="0.9"/><circle cx="336.3" cy="723.0" r="0.8"/><circle cx="352.7" cy="720.9" r="0.6"/><circle cx="302.9" cy="776.8" r="0.6"/><circle cx="327.3" cy="758.4" r="0.9"/><circle cx="312.6" cy="740.5" r="0.8"/><circle cx="382.3" cy="747.5" r="0.9"/><circle cx="370.2" cy="740.9" r="0.6"/><circle cx="297.9" cy="772.5" r="0.7"/><circle cx="357.2" cy="787.5" r="0.6"/><circle cx="314.3" cy="749.4" r="0.8"/><circle cx="298.0" cy="720.0" r="0.7"/><circle cx="299.4" cy="734.0" r="0.7"/><circle cx="327.8" cy="723.3" r="0.7"/><circle cx="364.9" cy="719.5" r="0.7"/><circle cx="352.1" cy="748.9" r="0.8"/><circle cx="316.6" cy="768.5" r="0.8"/><circle cx="382.3" cy="716.8" r="0.9"/><circle cx="301.4" cy="786.1" r="0.7"/><circle cx="367.0" cy="725.3" r="0.6"/><circle cx="393.6" cy="786.8" r="0.7"/><circle cx="365.1" cy="750.1" r="0.7"/><circle cx="391.4" cy="744.2" r="0.6"/><circle cx="329.9" cy="742.9" r="0.8"/><circle cx="333.7" cy="758.0" r="0.9"/><circle cx="352.4" cy="754.5" r="0.6"/><circle cx="308.7" cy="736.6" r="0.6"/><circle cx="393.7" cy="777.3" r="0.8"/><circle cx="313.0" cy="762.0" r="0.6"/><circle cx="333.0" cy="735.0" r="0.7"/><circle cx="324.8" cy="749.5" r="0.8"/><circle cx="331.7" cy="736.4" r="0.9"/><circle cx="360.1" cy="727.4" r="0.8"/><circle cx="322.0" cy="781.0" r="0.7"/><circle cx="376.2" cy="722.7" r="0.7"/><circle cx="325.0" cy="766.3" r="0.6"/><circle cx="351.3" cy="726.4" r="0.8"/><circle cx="300.9" cy="760.3" r="0.6"/><circle cx="302.1" cy="754.1" r="0.6"/><circle cx="307.8" cy="753.7" r="0.7"/><circle cx="363.1" cy="782.8" r="0.9"/><circle cx="325.3" cy="743.3" r="0.9"/><circle cx="378.6" cy="739.5" r="0.8"/></g><g fill="#626080" fill-opacity="0.75"><circle cx="379.0" cy="723.7" r="0.7"/><circle cx="374.5" cy="718.4" r="0.8"/><circle cx="314.8" cy="771.1" r="0.9"/><circle cx="380.1" cy="728.0" r="0.8"/><circle cx="310.2" cy="737.2" r="0.6"/><circle cx="394.6" cy="717.0" r="0.9"/><circle cx="353.8" cy="759.9" r="0.6"/><circle cx="341.3" cy="748.6" r="0.9"/><circle cx="357.4" cy="762.6" r="0.6"/><circle cx="357.6" cy="785.5" r="0.7"/><circle cx="357.9" cy="776.0" r="0.6"/><circle cx="329.6" cy="756.6" r="0.8"/><circle cx="366.7" cy="724.7" r="0.6"/><circle cx="351.4" cy="742.3" r="0.7"/><circle cx="329.2" cy="787.9" r="0.6"/><circle cx="386.9" cy="732.9" r="0.6"/><circle cx="393.0" cy="759.6" r="0.7"/><circle cx="355.3" cy="720.1" r="0.8"/><circle cx="320.3" cy="778.8" r="0.6"/><circle cx="358.6" cy="731.2" r="0.9"/><circle cx="304.0" cy="759.4" r="0.9"/><circle cx="321.9" cy="772.6" r="0.9"/><circle cx="305.7" cy="773.4" r="0.7"/><circle cx="313.9" cy="734.5" r="0.8"/><circle cx="375.8" cy="733.7" r="0.9"/><circle cx="307.1" cy="762.6" r="0.8"/><circle cx="343.6" cy="729.4" r="0.9"/><circle cx="317.0" cy="773.4" r="0.6"/><circle cx="394.0" cy="764.4" r="0.8"/><circle cx="310.3" cy="763.7" r="0.7"/><circle cx="314.5" cy="758.4" r="0.6"/><circle cx="339.4" cy="740.0" r="0.7"/><circle cx="338.3" cy="724.7" r="0.9"/><circle cx="391.3" cy="757.4" r="0.8"/><circle cx="350.8" cy="756.0" r="0.8"/><circle cx="310.6" cy="745.7" r="0.6"/><circle cx="363.0" cy="735.8" r="0.9"/><circle cx="388.1" cy="719.9" r="0.9"/><circle cx="317.1" cy="729.3" r="0.8"/><circle cx="318.2" cy="746.4" r="0.7"/><circle cx="333.6" cy="725.8" r="0.8"/><circle cx="312.0" cy="765.3" r="0.6"/><circle cx="393.3" cy="786.6" r="0.9"/><circle cx="386.1" cy="730.2" r="0.8"/><circle cx="323.3" cy="733.0" r="0.9"/><circle cx="357.5" cy="782.5" r="0.9"/><circle cx="307.5" cy="746.6" r="0.8"/><circle cx="365.2" cy="740.6" r="0.8"/><circle cx="331.9" cy="729.1" r="0.8"/><circle cx="320.6" cy="777.5" r="0.6"/><circle cx="311.5" cy="774.0" r="0.8"/><circle cx="326.9" cy="789.0" r="0.9"/><circle cx="383.2" cy="726.1" r="0.7"/><circle cx="335.7" cy="732.1" r="0.6"/><circle cx="309.0" cy="733.1" r="0.7"/><circle cx="367.8" cy="747.0" r="0.9"/><circle cx="347.0" cy="787.8" r="0.6"/><circle cx="337.5" cy="724.4" r="0.9"/><circle cx="328.7" cy="723.1" r="0.8"/><circle cx="308.5" cy="727.0" r="0.7"/><circle cx="363.6" cy="749.6" r="0.8"/><circle cx="329.8" cy="730.2" r="0.7"/><circle cx="338.1" cy="737.8" r="0.8"/><circle cx="299.7" cy="736.0" r="0.8"/><circle cx="389.9" cy="723.7" r="0.7"/><circle cx="387.6" cy="732.7" r="0.9"/><circle cx="385.5" cy="748.7" r="0.9"/><circle cx="354.1" cy="760.2" r="0.6"/><circle cx="386.0" cy="736.8" r="0.8"/><circle cx="355.2" cy="737.4" r="0.7"/><circle cx="360.6" cy="722.0" r="0.9"/><circle cx="361.5" cy="786.1" r="0.8"/><circle cx="357.4" cy="785.7" r="0.6"/><circle cx="363.9" cy="756.9" r="0.8"/><circle cx="366.9" cy="717.8" r="0.9"/><circle cx="312.6" cy="772.9" r="0.8"/><circle cx="345.8" cy="729.6" r="0.6"/><circle cx="299.1" cy="747.8" r="0.8"/><circle cx="320.6" cy="756.9" r="0.6"/><circle cx="297.7" cy="727.8" r="0.7"/><circle cx="319.1" cy="724.4" r="0.8"/><circle cx="300.3" cy="728.7" r="0.6"/><circle cx="345.7" cy="721.6" r="0.8"/><circle cx="375.8" cy="742.2" r="0.6"/><circle cx="320.1" cy="728.4" r="0.9"/><circle cx="392.2" cy="758.7" r="0.9"/><circle cx="309.2" cy="755.9" r="0.8"/><circle cx="388.5" cy="737.2" r="0.6"/><circle cx="361.3" cy="739.5" r="0.7"/><circle cx="339.8" cy="745.2" r="0.9"/><circle cx="366.8" cy="717.3" r="0.8"/><circle cx="394.5" cy="778.2" r="0.6"/><circle cx="355.7" cy="768.2" r="0.6"/><circle cx="365.1" cy="732.0" r="0.7"/><circle cx="338.1" cy="745.3" r="0.8"/><circle cx="393.0" cy="739.4" r="0.8"/><circle cx="313.7" cy="782.7" r="0.8"/><circle cx="390.4" cy="719.7" r="0.8"/><circle cx="361.2" cy="728.4" r="0.9"/><circle cx="325.3" cy="767.5" r="0.6"/><circle cx="304.2" cy="738.1" r="0.7"/><circle cx="305.7" cy="777.4" r="0.6"/><circle cx="317.1" cy="726.7" r="0.6"/><circle cx="354.9" cy="783.1" r="0.7"/><circle cx="378.7" cy="750.8" r="0.7"/><circle cx="303.9" cy="758.7" r="0.6"/><circle cx="349.8" cy="753.5" r="0.8"/><circle cx="369.6" cy="750.9" r="0.8"/><circle cx="321.3" cy="741.3" r="0.7"/><circle cx="318.4" cy="776.3" r="0.6"/><circle cx="336.4" cy="750.3" r="0.8"/><circle cx="388.9" cy="728.0" r="0.7"/><circle cx="355.4" cy="733.8" r="0.6"/><circle cx="316.9" cy="789.0" r="0.8"/><circle cx="303.2" cy="780.3" r="0.6"/><circle cx="350.4" cy="748.0" r="0.7"/><circle cx="352.2" cy="743.5" r="0.8"/><circle cx="339.0" cy="742.1" r="0.8"/><circle cx="313.3" cy="778.7" r="0.7"/><circle cx="309.7" cy="727.4" r="0.9"/><circle cx="334.7" cy="753.9" r="0.7"/><circle cx="334.3" cy="741.0" r="0.9"/><circle cx="354.7" cy="759.6" r="0.8"/><circle cx="382.6" cy="737.0" r="0.9"/><circle cx="305.7" cy="747.4" r="0.8"/><circle cx="344.4" cy="735.4" r="0.9"/><circle cx="390.7" cy="741.8" r="0.8"/><circle cx="335.5" cy="718.6" r="0.9"/><circle cx="339.4" cy="737.6" r="0.7"/><circle cx="361.8" cy="757.2" r="0.6"/><circle cx="319.8" cy="754.7" r="0.6"/><circle cx="322.4" cy="739.2" r="0.6"/><circle cx="332.8" cy="750.7" r="0.9"/><circle cx="299.7" cy="752.9" r="0.8"/><circle cx="359.0" cy="785.7" r="0.6"/><circle cx="395.0" cy="760.1" r="0.9"/><circle cx="369.3" cy="720.7" r="0.9"/><circle cx="372.0" cy="750.1" r="0.6"/></g><g fill="#74728e" fill-opacity="0.75"><circle cx="358.9" cy="725.0" r="0.7"/><circle cx="370.9" cy="748.8" r="0.7"/><circle cx="345.4" cy="725.4" r="0.6"/><circle cx="337.1" cy="737.0" r="0.9"/><circle cx="314.2" cy="731.0" r="0.6"/><circle cx="317.7" cy="767.7" r="0.8"/><circle cx="347.8" cy="720.7" r="0.8"/><circle cx="297.4" cy="767.6" r="0.8"/><circle cx="325.6" cy="741.9" r="0.6"/><circle cx="303.4" cy="747.3" r="0.9"/><circle cx="342.6" cy="724.3" r="0.9"/><circle cx="369.8" cy="725.2" r="0.9"/><circle cx="300.1" cy="782.9" r="0.7"/><circle cx="370.8" cy="750.7" r="0.8"/><circle cx="306.8" cy="749.0" r="0.9"/><circle cx="311.4" cy="766.3" r="0.9"/><circle cx="336.9" cy="740.9" r="0.8"/><circle cx="299.4" cy="781.1" r="0.7"/><circle cx="393.5" cy="734.2" r="0.6"/><circle cx="323.1" cy="729.4" r="0.7"/><circle cx="305.8" cy="774.4" r="0.8"/><circle cx="362.5" cy="750.0" r="0.9"/><circle cx="323.0" cy="717.4" r="0.9"/><circle cx="318.7" cy="788.2" r="0.6"/><circle cx="393.0" cy="752.8" r="0.9"/><circle cx="373.3" cy="740.0" r="0.9"/><circle cx="328.8" cy="747.3" r="0.7"/><circle cx="393.6" cy="783.5" r="0.8"/><circle cx="317.4" cy="757.4" r="0.9"/><circle cx="350.3" cy="717.0" r="0.8"/><circle cx="338.9" cy="738.0" r="0.8"/><circle cx="369.1" cy="732.3" r="0.9"/><circle cx="338.7" cy="743.7" r="0.7"/><circle cx="297.2" cy="776.9" r="0.9"/><circle cx="317.6" cy="730.2" r="0.7"/><circle cx="312.3" cy="733.8" r="0.8"/><circle cx="310.1" cy="779.5" r="0.8"/><circle cx="323.6" cy="784.6" r="0.6"/><circle cx="364.5" cy="736.2" r="0.6"/><circle cx="343.9" cy="721.3" r="0.7"/><circle cx="340.6" cy="726.3" r="0.8"/><circle cx="369.6" cy="722.4" r="0.8"/><circle cx="350.8" cy="745.2" r="0.8"/><circle cx="361.8" cy="748.9" r="0.9"/><circle cx="308.2" cy="739.5" r="0.7"/><circle cx="348.9" cy="725.1" r="0.7"/><circle cx="300.8" cy="746.9" r="0.7"/><circle cx="331.1" cy="720.4" r="0.9"/><circle cx="393.5" cy="752.8" r="0.8"/><circle cx="301.7" cy="748.1" r="0.9"/><circle cx="391.6" cy="720.2" r="0.6"/><circle cx="378.4" cy="732.1" r="0.9"/><circle cx="321.2" cy="760.2" r="0.9"/><circle cx="299.5" cy="768.8" r="0.8"/><circle cx="350.6" cy="760.6" r="0.9"/><circle cx="330.6" cy="745.0" r="0.9"/><circle cx="348.3" cy="737.3" r="0.8"/><circle cx="367.7" cy="752.1" r="0.9"/><circle cx="306.3" cy="757.4" r="0.8"/><circle cx="371.2" cy="743.9" r="0.6"/><circle cx="338.4" cy="743.8" r="0.6"/><circle cx="363.2" cy="736.5" r="0.9"/><circle cx="354.0" cy="764.3" r="0.8"/><circle cx="307.3" cy="757.1" r="0.6"/><circle cx="306.6" cy="788.1" r="0.8"/><circle cx="312.4" cy="767.5" r="0.9"/><circle cx="334.0" cy="750.5" r="0.9"/><circle cx="348.7" cy="723.2" r="0.6"/><circle cx="394.9" cy="725.6" r="0.7"/><circle cx="384.1" cy="746.8" r="0.8"/><circle cx="305.8" cy="757.7" r="0.8"/><circle cx="334.2" cy="728.7" r="0.7"/><circle cx="391.2" cy="736.5" r="0.7"/><circle cx="357.3" cy="769.7" r="0.8"/><circle cx="297.3" cy="786.6" r="0.7"/><circle cx="327.8" cy="743.9" r="0.7"/><circle cx="389.5" cy="788.0" r="0.6"/><circle cx="339.6" cy="716.4" r="0.8"/><circle cx="386.7" cy="723.3" r="0.6"/><circle cx="392.8" cy="754.7" r="0.7"/><circle cx="329.7" cy="743.3" r="0.8"/><circle cx="361.0" cy="730.6" r="0.9"/><circle cx="392.3" cy="754.0" r="0.8"/><circle cx="386.2" cy="734.9" r="0.6"/><circle cx="308.9" cy="727.4" r="0.7"/><circle cx="364.1" cy="749.6" r="0.6"/><circle cx="360.0" cy="754.8" r="0.8"/><circle cx="322.7" cy="743.9" r="0.8"/><circle cx="321.9" cy="777.1" r="0.9"/><circle cx="374.2" cy="735.2" r="0.8"/><circle cx="359.8" cy="746.5" r="0.8"/><circle cx="298.6" cy="753.6" r="0.7"/><circle cx="315.2" cy="749.8" r="0.7"/><circle cx="306.0" cy="763.5" r="0.7"/><circle cx="383.8" cy="739.1" r="0.9"/><circle cx="336.1" cy="751.9" r="0.8"/><circle cx="307.4" cy="742.0" r="0.9"/><circle cx="359.2" cy="775.4" r="0.6"/><circle cx="394.8" cy="763.0" r="0.7"/><circle cx="326.4" cy="789.0" r="0.7"/><circle cx="312.7" cy="755.5" r="0.7"/><circle cx="324.2" cy="716.6" r="0.9"/><circle cx="375.5" cy="735.6" r="0.9"/><circle cx="356.7" cy="766.2" r="0.7"/><circle cx="323.1" cy="737.5" r="0.8"/><circle cx="354.8" cy="752.1" r="0.9"/><circle cx="315.5" cy="762.3" r="0.6"/></g><g fill="#86849c" fill-opacity="0.5"><circle cx="355.9" cy="760.7" r="0.7"/><circle cx="347.7" cy="721.2" r="0.9"/><circle cx="380.7" cy="729.7" r="0.8"/><circle cx="305.5" cy="762.9" r="0.7"/><circle cx="378.8" cy="729.5" r="0.7"/><circle cx="372.8" cy="746.4" r="0.7"/><circle cx="315.5" cy="781.6" r="0.7"/><circle cx="311.7" cy="743.6" r="0.9"/><circle cx="394.6" cy="726.3" r="0.8"/><circle cx="335.5" cy="741.8" r="0.9"/><circle cx="299.5" cy="788.3" r="0.9"/><circle cx="373.1" cy="719.5" r="0.6"/><circle cx="345.3" cy="749.4" r="0.7"/><circle cx="300.9" cy="763.3" r="0.9"/><circle cx="331.0" cy="750.7" r="0.9"/><circle cx="323.7" cy="756.9" r="0.6"/><circle cx="310.4" cy="769.3" r="0.6"/><circle cx="357.8" cy="752.1" r="0.8"/><circle cx="309.4" cy="776.1" r="0.8"/><circle cx="383.2" cy="737.7" r="0.6"/><circle cx="325.6" cy="719.4" r="0.8"/><circle cx="310.1" cy="777.9" r="0.8"/><circle cx="393.7" cy="740.4" r="0.8"/><circle cx="314.8" cy="772.3" r="0.7"/><circle cx="303.2" cy="746.2" r="0.6"/><circle cx="323.4" cy="774.1" r="0.6"/><circle cx="307.5" cy="785.2" r="0.8"/><circle cx="322.3" cy="732.4" r="0.7"/><circle cx="374.6" cy="737.4" r="0.6"/><circle cx="361.1" cy="727.9" r="0.9"/><circle cx="329.7" cy="787.2" r="0.6"/><circle cx="326.6" cy="733.5" r="0.9"/><circle cx="389.6" cy="747.6" r="0.7"/><circle cx="304.1" cy="749.3" r="0.9"/><circle cx="387.3" cy="716.9" r="0.8"/><circle cx="298.6" cy="731.7" r="0.9"/><circle cx="388.4" cy="725.2" r="0.9"/><circle cx="315.4" cy="731.2" r="0.8"/><circle cx="344.1" cy="718.4" r="0.7"/><circle cx="327.0" cy="716.5" r="0.6"/><circle cx="302.3" cy="781.5" r="0.8"/><circle cx="318.1" cy="753.4" r="0.7"/><circle cx="317.7" cy="750.8" r="0.8"/><circle cx="390.3" cy="752.4" r="0.8"/><circle cx="345.3" cy="734.3" r="0.7"/><circle cx="392.0" cy="785.3" r="0.8"/><circle cx="357.0" cy="724.7" r="0.7"/><circle cx="312.8" cy="771.0" r="0.6"/><circle cx="335.3" cy="746.6" r="0.9"/><circle cx="356.2" cy="745.7" r="0.9"/><circle cx="389.6" cy="742.3" r="0.9"/><circle cx="313.6" cy="765.6" r="0.8"/><circle cx="306.4" cy="762.5" r="0.8"/><circle cx="355.1" cy="758.1" r="0.7"/><circle cx="376.0" cy="745.8" r="0.9"/><circle cx="306.9" cy="738.7" r="0.8"/><circle cx="325.0" cy="754.5" r="0.7"/><circle cx="357.2" cy="775.1" r="0.6"/><circle cx="394.6" cy="749.9" r="0.7"/><circle cx="342.8" cy="721.7" r="0.7"/><circle cx="301.5" cy="787.1" r="0.6"/><circle cx="389.7" cy="743.1" r="0.8"/><circle cx="300.7" cy="751.4" r="0.8"/><circle cx="307.8" cy="776.5" r="0.8"/><circle cx="351.7" cy="718.0" r="0.7"/><circle cx="368.3" cy="748.8" r="0.7"/><circle cx="327.2" cy="723.9" r="0.9"/><circle cx="369.7" cy="746.1" r="0.8"/><circle cx="353.6" cy="725.1" r="0.8"/><circle cx="372.7" cy="725.7" r="0.9"/><circle cx="310.2" cy="782.8" r="0.7"/><circle cx="356.2" cy="758.0" r="0.7"/><circle cx="319.5" cy="735.4" r="0.6"/><circle cx="310.7" cy="728.0" r="0.7"/><circle cx="352.1" cy="755.0" r="0.8"/><circle cx="346.0" cy="724.0" r="0.7"/><circle cx="330.2" cy="734.9" r="0.8"/><circle cx="303.3" cy="760.1" r="0.6"/><circle cx="299.8" cy="731.7" r="0.7"/><circle cx="356.4" cy="771.2" r="0.8"/><circle cx="338.2" cy="716.7" r="0.9"/><circle cx="386.7" cy="740.6" r="0.8"/><circle cx="353.5" cy="719.7" r="0.9"/><circle cx="324.0" cy="767.8" r="0.7"/><circle cx="318.0" cy="774.2" r="0.8"/><circle cx="322.9" cy="729.8" r="0.9"/><circle cx="355.4" cy="758.7" r="0.7"/><circle cx="312.3" cy="727.7" r="0.7"/></g><g fill="#56547a" fill-opacity="0.5"><circle cx="363.3" cy="788.8" r="0.9"/><circle cx="341.5" cy="728.0" r="0.9"/><circle cx="304.7" cy="776.5" r="0.6"/><circle cx="343.7" cy="722.3" r="0.6"/><circle cx="339.7" cy="758.1" r="0.8"/><circle cx="361.5" cy="781.9" r="0.8"/><circle cx="333.3" cy="735.8" r="0.6"/><circle cx="303.7" cy="730.4" r="0.9"/><circle cx="385.4" cy="749.8" r="0.9"/><circle cx="359.7" cy="787.0" r="0.6"/><circle cx="316.0" cy="732.3" r="0.6"/><circle cx="315.4" cy="752.5" r="0.6"/><circle cx="378.6" cy="735.2" r="0.8"/><circle cx="355.6" cy="785.0" r="0.8"/><circle cx="358.9" cy="751.5" r="0.6"/><circle cx="341.6" cy="725.6" r="0.8"/><circle cx="349.4" cy="725.5" r="0.6"/><circle cx="365.3" cy="786.9" r="0.9"/><circle cx="309.1" cy="760.4" r="0.7"/><circle cx="381.0" cy="742.8" r="0.9"/><circle cx="304.3" cy="739.5" r="0.9"/><circle cx="311.1" cy="787.6" r="0.7"/><circle cx="365.2" cy="720.0" r="0.8"/><circle cx="356.3" cy="720.9" r="0.6"/><circle cx="328.5" cy="716.8" r="0.7"/><circle cx="354.8" cy="735.6" r="0.6"/><circle cx="390.4" cy="721.9" r="0.8"/><circle cx="341.7" cy="748.0" r="0.7"/><circle cx="300.8" cy="729.9" r="0.8"/><circle cx="321.5" cy="753.8" r="0.7"/><circle cx="351.3" cy="747.5" r="0.9"/><circle cx="326.1" cy="785.4" r="0.7"/><circle cx="364.2" cy="754.6" r="0.7"/><circle cx="340.6" cy="738.5" r="0.7"/><circle cx="331.8" cy="754.3" r="0.9"/><circle cx="393.5" cy="723.5" r="0.6"/><circle cx="359.3" cy="722.2" r="0.7"/><circle cx="302.0" cy="737.8" r="0.7"/><circle cx="318.5" cy="771.1" r="0.9"/><circle cx="394.0" cy="728.8" r="0.9"/><circle cx="313.5" cy="726.8" r="0.8"/><circle cx="373.1" cy="723.3" r="0.9"/><circle cx="309.9" cy="728.5" r="0.7"/><circle cx="316.8" cy="731.3" r="0.7"/><circle cx="357.3" cy="762.0" r="0.6"/><circle cx="338.4" cy="741.1" r="0.8"/><circle cx="312.0" cy="764.3" r="0.6"/><circle cx="324.6" cy="784.4" r="0.7"/><circle cx="369.1" cy="750.3" r="0.8"/><circle cx="352.5" cy="742.6" r="0.7"/><circle cx="373.7" cy="750.8" r="0.9"/><circle cx="298.4" cy="747.4" r="0.9"/><circle cx="307.3" cy="729.3" r="0.6"/><circle cx="318.3" cy="763.5" r="0.6"/><circle cx="305.9" cy="775.8" r="0.9"/><circle cx="310.5" cy="736.7" r="0.6"/><circle cx="325.9" cy="782.1" r="0.7"/><circle cx="308.5" cy="730.3" r="0.6"/><circle cx="321.7" cy="765.3" r="0.9"/><circle cx="312.7" cy="729.3" r="0.9"/><circle cx="328.9" cy="728.8" r="0.7"/><circle cx="325.5" cy="769.2" r="0.8"/><circle cx="304.0" cy="751.2" r="0.6"/><circle cx="352.9" cy="722.8" r="0.8"/><circle cx="391.1" cy="783.3" r="0.8"/><circle cx="322.8" cy="765.7" r="0.8"/><circle cx="301.9" cy="727.4" r="0.7"/><circle cx="317.9" cy="770.0" r="0.7"/><circle cx="388.3" cy="741.6" r="0.7"/><circle cx="329.4" cy="721.6" r="0.9"/><circle cx="340.0" cy="719.1" r="0.8"/><circle cx="354.9" cy="716.4" r="0.8"/><circle cx="347.7" cy="750.9" r="0.9"/><circle cx="323.4" cy="769.0" r="0.8"/><circle cx="372.1" cy="732.8" r="0.6"/><circle cx="306.6" cy="738.3" r="0.6"/><circle cx="344.1" cy="744.7" r="0.8"/><circle cx="380.7" cy="717.7" r="0.9"/><circle cx="345.8" cy="724.8" r="0.6"/><circle cx="316.6" cy="736.1" r="0.7"/><circle cx="337.5" cy="733.8" r="0.9"/><circle cx="381.5" cy="734.8" r="0.9"/><circle cx="394.8" cy="786.6" r="0.6"/><circle cx="375.2" cy="747.1" r="0.6"/><circle cx="357.7" cy="745.7" r="0.7"/><circle cx="366.3" cy="736.8" r="0.8"/><circle cx="305.0" cy="786.2" r="0.8"/></g><g fill="#626080" fill-opacity="0.5"><circle cx="356.4" cy="729.6" r="0.9"/><circle cx="315.2" cy="742.8" r="0.7"/><circle cx="388.7" cy="738.5" r="0.6"/><circle cx="366.9" cy="738.2" r="0.6"/><circle cx="302.4" cy="741.7" r="0.6"/><circle cx="337.3" cy="719.7" r="0.7"/><circle cx="330.9" cy="756.1" r="0.7"/><circle cx="325.4" cy="781.1" r="0.6"/><circle cx="314.1" cy="781.6" r="0.6"/><circle cx="300.0" cy="717.7" r="0.6"/><circle cx="353.4" cy="747.3" r="0.8"/><circle cx="342.6" cy="749.5" r="0.7"/><circle cx="353.8" cy="760.6" r="0.8"/><circle cx="362.3" cy="722.5" r="0.9"/><circle cx="381.9" cy="734.7" r="0.8"/><circle cx="353.9" cy="755.7" r="0.8"/><circle cx="320.0" cy="752.0" r="0.8"/><circle cx="350.6" cy="736.9" r="0.9"/><circle cx="370.2" cy="720.8" r="0.8"/><circle cx="325.8" cy="742.9" r="0.7"/><circle cx="378.5" cy="750.3" r="0.8"/><circle cx="299.1" cy="728.5" r="0.9"/><circle cx="344.5" cy="737.2" r="0.7"/><circle cx="339.2" cy="745.4" r="0.8"/><circle cx="356.2" cy="778.8" r="0.7"/><circle cx="368.0" cy="754.1" r="0.7"/><circle cx="351.5" cy="717.8" r="0.9"/><circle cx="385.7" cy="746.7" r="0.9"/><circle cx="332.1" cy="724.2" r="0.8"/><circle cx="386.8" cy="749.0" r="0.7"/><circle cx="368.2" cy="752.0" r="0.8"/><circle cx="301.4" cy="766.9" r="0.6"/><circle cx="338.2" cy="747.3" r="0.8"/><circle cx="303.0" cy="743.7" r="0.9"/><circle cx="360.3" cy="736.6" r="0.9"/><circle cx="330.3" cy="788.0" r="0.8"/><circle cx="301.0" cy="779.2" r="0.6"/><circle cx="369.9" cy="743.1" r="0.9"/><circle cx="309.2" cy="726.2" r="0.8"/><circle cx="319.7" cy="753.1" r="0.8"/><circle cx="324.8" cy="733.3" r="0.8"/><circle cx="366.9" cy="749.8" r="0.8"/><circle cx="372.7" cy="718.0" r="0.8"/><circle cx="387.6" cy="739.8" r="0.9"/><circle cx="316.8" cy="788.3" r="0.8"/><circle cx="348.9" cy="731.2" r="0.7"/><circle cx="354.6" cy="727.7" r="0.8"/><circle cx="322.2" cy="766.8" r="0.9"/><circle cx="390.5" cy="724.5" r="0.9"/><circle cx="390.9" cy="727.2" r="0.9"/><circle cx="374.3" cy="750.7" r="0.7"/><circle cx="320.8" cy="729.9" r="0.6"/><circle cx="338.0" cy="719.0" r="0.6"/><circle cx="311.5" cy="729.6" r="0.9"/><circle cx="345.1" cy="751.7" r="0.7"/><circle cx="393.9" cy="782.3" r="0.7"/><circle cx="349.1" cy="744.3" r="0.8"/><circle cx="387.6" cy="741.8" r="0.6"/><circle cx="362.0" cy="738.6" r="0.6"/><circle cx="334.1" cy="720.8" r="0.9"/><circle cx="317.9" cy="773.6" r="0.8"/><circle cx="364.0" cy="753.2" r="0.9"/><circle cx="320.6" cy="727.0" r="0.9"/><circle cx="390.4" cy="722.6" r="0.9"/><circle cx="389.8" cy="735.3" r="0.7"/><circle cx="314.6" cy="774.2" r="0.6"/><circle cx="369.0" cy="741.5" r="0.8"/><circle cx="300.9" cy="770.4" r="0.7"/><circle cx="321.0" cy="779.4" r="0.8"/><circle cx="372.0" cy="749.1" r="0.6"/><circle cx="345.8" cy="723.4" r="0.6"/><circle cx="321.4" cy="778.3" r="0.7"/><circle cx="304.5" cy="764.8" r="0.8"/><circle cx="311.4" cy="768.6" r="0.7"/><circle cx="297.2" cy="764.4" r="0.8"/><circle cx="348.8" cy="728.0" r="0.7"/><circle cx="348.4" cy="723.0" r="0.6"/><circle cx="312.6" cy="771.3" r="0.8"/><circle cx="325.4" cy="738.1" r="0.6"/><circle cx="305.2" cy="747.8" r="0.9"/><circle cx="335.3" cy="719.4" r="0.9"/><circle cx="340.2" cy="743.5" r="0.7"/><circle cx="303.6" cy="749.1" r="0.8"/><circle cx="299.8" cy="761.1" r="0.8"/><circle cx="332.8" cy="716.2" r="0.7"/><circle cx="367.5" cy="749.9" r="0.8"/><circle cx="330.3" cy="759.3" r="0.6"/><circle cx="350.1" cy="753.1" r="0.6"/><circle cx="345.2" cy="736.4" r="0.9"/><circle cx="350.7" cy="747.2" r="0.7"/><circle cx="299.2" cy="766.3" r="0.7"/><circle cx="308.4" cy="747.3" r="0.7"/><circle cx="394.2" cy="733.7" r="0.6"/><circle cx="359.2" cy="730.8" r="0.6"/><circle cx="350.0" cy="744.6" r="0.9"/><circle cx="321.0" cy="731.9" r="0.6"/><circle cx="376.5" cy="741.2" r="0.8"/><circle cx="370.4" cy="745.1" r="0.9"/><circle cx="343.1" cy="730.0" r="0.9"/><circle cx="321.3" cy="760.9" r="0.8"/><circle cx="303.1" cy="736.1" r="0.6"/><circle cx="324.2" cy="732.0" r="0.7"/><circle cx="361.7" cy="756.6" r="0.6"/><circle cx="373.4" cy="727.7" r="0.8"/><circle cx="319.8" cy="734.1" r="0.8"/><circle cx="355.8" cy="717.8" r="0.7"/></g><g fill="#74728e" fill-opacity="0.5"><circle cx="317.3" cy="749.5" r="0.8"/><circle cx="353.6" cy="783.3" r="0.8"/><circle cx="368.9" cy="736.7" r="0.7"/><circle cx="328.0" cy="751.1" r="0.6"/><circle cx="390.1" cy="737.6" r="0.9"/><circle cx="364.0" cy="749.9" r="0.8"/><circle cx="312.2" cy="770.2" r="0.8"/><circle cx="344.3" cy="736.7" r="0.7"/><circle cx="388.9" cy="752.7" r="0.8"/><circle cx="327.7" cy="746.4" r="0.6"/><circle cx="308.3" cy="779.4" r="0.9"/><circle cx="360.7" cy="719.8" r="0.9"/><circle cx="358.5" cy="730.5" r="0.9"/><circle cx="324.5" cy="769.4" r="0.6"/><circle cx="302.5" cy="744.5" r="0.7"/><circle cx="383.2" cy="729.9" r="0.7"/><circle cx="362.8" cy="743.4" r="0.7"/><circle cx="354.3" cy="728.2" r="0.8"/><circle cx="328.8" cy="740.2" r="0.9"/><circle cx="338.2" cy="734.3" r="0.6"/><circle cx="354.8" cy="733.5" r="0.8"/><circle cx="339.4" cy="725.1" r="0.7"/><circle cx="336.2" cy="728.4" r="0.8"/><circle cx="358.0" cy="723.2" r="0.7"/><circle cx="300.9" cy="785.8" r="0.7"/><circle cx="369.3" cy="728.8" r="0.7"/><circle cx="330.0" cy="734.1" r="0.8"/><circle cx="331.0" cy="757.7" r="0.9"/><circle cx="305.9" cy="752.9" r="0.8"/><circle cx="301.9" cy="722.3" r="0.8"/><circle cx="340.4" cy="725.0" r="0.6"/><circle cx="394.9" cy="762.5" r="0.7"/><circle cx="335.0" cy="744.2" r="0.8"/><circle cx="308.7" cy="765.0" r="0.7"/><circle cx="344.2" cy="724.2" r="0.7"/><circle cx="322.1" cy="731.4" r="0.8"/><circle cx="298.6" cy="756.9" r="0.9"/><circle cx="354.0" cy="731.0" r="0.6"/><circle cx="359.9" cy="728.0" r="0.6"/><circle cx="324.5" cy="733.4" r="0.6"/><circle cx="319.1" cy="769.2" r="0.9"/><circle cx="385.4" cy="722.2" r="0.6"/><circle cx="357.8" cy="717.7" r="0.6"/><circle cx="327.8" cy="721.4" r="0.7"/><circle cx="316.0" cy="777.1" r="0.7"/><circle cx="345.0" cy="741.5" r="0.8"/><circle cx="318.5" cy="755.0" r="0.6"/><circle cx="343.7" cy="729.0" r="0.7"/><circle cx="325.5" cy="742.0" r="0.9"/><circle cx="394.8" cy="718.1" r="0.7"/><circle cx="359.4" cy="736.3" r="0.6"/><circle cx="371.6" cy="718.7" r="0.6"/><circle cx="326.5" cy="725.1" r="0.6"/><circle cx="351.4" cy="750.8" r="0.9"/><circle cx="330.2" cy="760.9" r="0.8"/><circle cx="320.0" cy="775.0" r="0.6"/><circle cx="320.2" cy="781.7" r="0.7"/><circle cx="344.4" cy="725.0" r="0.6"/><circle cx="360.8" cy="785.9" r="0.7"/><circle cx="319.4" cy="749.3" r="0.9"/><circle cx="387.0" cy="738.7" r="0.7"/><circle cx="299.6" cy="721.1" r="0.8"/><circle cx="321.0" cy="726.9" r="0.8"/><circle cx="355.6" cy="721.4" r="0.7"/><circle cx="341.6" cy="723.8" r="0.8"/><circle cx="299.4" cy="764.2" r="0.6"/><circle cx="352.0" cy="719.4" r="0.9"/><circle cx="302.4" cy="773.4" r="0.8"/><circle cx="325.0" cy="736.5" r="0.8"/><circle cx="318.2" cy="768.4" r="0.6"/><circle cx="356.9" cy="789.0" r="0.8"/><circle cx="345.0" cy="721.8" r="0.7"/><circle cx="318.8" cy="729.5" r="0.8"/><circle cx="316.5" cy="745.7" r="0.9"/><circle cx="395.2" cy="759.4" r="0.9"/><circle cx="339.5" cy="752.5" r="0.6"/></g><ellipse cx="340.8" cy="773.5" rx="15.3" ry="15" fill="#dbdcd8"/><ellipse cx="377" cy="770.5" rx="17.5" ry="18.2" fill="#dddedb"/></g>
</g>
<clipPath id="c7"><rect x="396.2" y="716.5" width="97.6" height="73.5"/></clipPath>
<g clip-path="url(#c7)">
<rect x="396.2" y="716.5" width="97.6" height="73.5" fill="#cfcebf"/>
<g filter="url(#bl)"><rect x="396.2" y="716.5" width="97.6" height="73.5" filter="url(#f7n)"/><g fill="#8a7a62" fill-opacity="0.5"><ellipse cx="404.2" cy="718.1" rx="1.3" ry="1.2"/><ellipse cx="406.8" cy="723.8" rx="1.5" ry="1.3"/><ellipse cx="474.8" cy="721.6" rx="1.9" ry="1.6"/><ellipse cx="488.0" cy="722.0" rx="1.5" ry="1.3"/><ellipse cx="404.4" cy="726.5" rx="1.5" ry="1.3"/><ellipse cx="418.2" cy="728.5" rx="1.7" ry="1.3"/><ellipse cx="451.2" cy="726.9" rx="1.8" ry="1.6"/><ellipse cx="489.2" cy="728.4" rx="1.7" ry="1.3"/><ellipse cx="423.1" cy="732.1" rx="1.5" ry="1.1"/><ellipse cx="480.3" cy="734.2" rx="1.7" ry="1.4"/><ellipse cx="410.3" cy="738.4" rx="1.7" ry="1.3"/><ellipse cx="425.4" cy="739.0" rx="1.9" ry="1.4"/><ellipse cx="429.6" cy="738.4" rx="1.8" ry="1.4"/><ellipse cx="452.4" cy="738.0" rx="1.4" ry="1.2"/><ellipse cx="458.0" cy="737.7" rx="1.4" ry="1.1"/><ellipse cx="463.7" cy="737.4" rx="1.5" ry="1.1"/><ellipse cx="466.1" cy="744.2" rx="1.7" ry="1.5"/><ellipse cx="477.2" cy="742.9" rx="1.7" ry="1.3"/><ellipse cx="483.1" cy="744.2" rx="1.7" ry="1.5"/><ellipse cx="436.5" cy="747.1" rx="1.4" ry="1.2"/><ellipse cx="400.4" cy="753.3" rx="1.6" ry="1.3"/><ellipse cx="481.7" cy="752.3" rx="1.6" ry="1.3"/><ellipse cx="435.6" cy="759.1" rx="1.5" ry="1.1"/><ellipse cx="474.0" cy="757.2" rx="1.9" ry="1.6"/><ellipse cx="493.1" cy="763.8" rx="1.8" ry="1.5"/><ellipse cx="434.4" cy="768.8" rx="1.8" ry="1.4"/><ellipse cx="485.6" cy="768.0" rx="1.4" ry="1.0"/><ellipse cx="439.6" cy="773.6" rx="1.7" ry="1.3"/><ellipse cx="450.5" cy="774.3" rx="1.7" ry="1.5"/><ellipse cx="429.2" cy="779.4" rx="1.9" ry="1.5"/><ellipse cx="483.3" cy="777.6" rx="1.8" ry="1.4"/><ellipse cx="433.9" cy="783.6" rx="1.5" ry="1.3"/><ellipse cx="439.5" cy="782.3" rx="1.6" ry="1.4"/></g><g fill="#6e6048" fill-opacity="0.5"><ellipse cx="407.9" cy="718.5" rx="1.8" ry="1.6"/><ellipse cx="424.9" cy="719.0" rx="1.7" ry="1.4"/><ellipse cx="441.3" cy="718.8" rx="1.7" ry="1.4"/><ellipse cx="402.2" cy="722.1" rx="1.8" ry="1.6"/><ellipse cx="439.8" cy="727.6" rx="1.6" ry="1.4"/><ellipse cx="445.0" cy="729.3" rx="1.8" ry="1.5"/><ellipse cx="456.9" cy="729.4" rx="1.4" ry="1.2"/><ellipse cx="455.5" cy="732.9" rx="1.3" ry="1.1"/><ellipse cx="399.0" cy="737.1" rx="1.4" ry="1.1"/><ellipse cx="407.4" cy="743.0" rx="1.4" ry="1.2"/><ellipse cx="421.8" cy="743.3" rx="1.4" ry="1.2"/><ellipse cx="411.8" cy="753.9" rx="1.4" ry="1.2"/><ellipse cx="450.6" cy="757.3" rx="1.5" ry="1.1"/><ellipse cx="454.6" cy="761.6" rx="1.4" ry="1.3"/><ellipse cx="472.1" cy="768.1" rx="1.5" ry="1.3"/><ellipse cx="407.5" cy="773.9" rx="1.3" ry="1.0"/><ellipse cx="422.6" cy="773.0" rx="1.4" ry="1.1"/><ellipse cx="485.6" cy="773.7" rx="1.7" ry="1.4"/><ellipse cx="399.0" cy="778.4" rx="1.5" ry="1.3"/><ellipse cx="456.3" cy="779.2" rx="1.4" ry="1.2"/><ellipse cx="474.1" cy="778.4" rx="1.8" ry="1.4"/><ellipse cx="461.2" cy="781.8" rx="1.7" ry="1.3"/><ellipse cx="465.2" cy="784.3" rx="1.7" ry="1.3"/><ellipse cx="403.0" cy="787.9" rx="1.4" ry="1.2"/><ellipse cx="447.0" cy="789.1" rx="1.7" ry="1.5"/></g><g fill="#8a7a62" fill-opacity="0.75"><ellipse cx="421.1" cy="718.3" rx="1.9" ry="1.6"/><ellipse cx="429.5" cy="718.2" rx="1.5" ry="1.4"/><ellipse cx="434.2" cy="717.8" rx="1.5" ry="1.2"/><ellipse cx="462.7" cy="718.1" rx="1.4" ry="1.2"/><ellipse cx="463.3" cy="729.4" rx="1.8" ry="1.4"/><ellipse cx="460.3" cy="733.5" rx="1.4" ry="1.0"/><ellipse cx="493.1" cy="732.2" rx="1.7" ry="1.2"/><ellipse cx="404.5" cy="737.4" rx="1.6" ry="1.3"/><ellipse cx="400.3" cy="744.3" rx="1.5" ry="1.2"/><ellipse cx="427.5" cy="743.4" rx="1.5" ry="1.1"/><ellipse cx="439.5" cy="741.6" rx="1.3" ry="1.2"/><ellipse cx="419.8" cy="748.6" rx="1.4" ry="1.2"/><ellipse cx="426.4" cy="749.3" rx="1.9" ry="1.6"/><ellipse cx="467.0" cy="747.8" rx="1.6" ry="1.5"/><ellipse cx="477.8" cy="749.4" rx="1.4" ry="1.3"/><ellipse cx="489.8" cy="748.9" rx="1.8" ry="1.5"/><ellipse cx="417.1" cy="752.2" rx="1.5" ry="1.1"/><ellipse cx="455.2" cy="751.6" rx="1.3" ry="1.2"/><ellipse cx="475.2" cy="752.0" rx="1.9" ry="1.6"/><ellipse cx="492.7" cy="753.2" rx="1.5" ry="1.3"/><ellipse cx="413.1" cy="757.7" rx="1.6" ry="1.2"/><ellipse cx="461.3" cy="758.1" rx="1.6" ry="1.3"/><ellipse cx="400.1" cy="764.2" rx="1.3" ry="1.0"/><ellipse cx="404.8" cy="763.8" rx="1.5" ry="1.1"/><ellipse cx="440.5" cy="768.0" rx="1.4" ry="1.1"/><ellipse cx="480.4" cy="766.9" rx="1.5" ry="1.2"/><ellipse cx="419.3" cy="777.7" rx="1.5" ry="1.3"/><ellipse cx="446.8" cy="779.2" rx="1.4" ry="1.3"/><ellipse cx="490.9" cy="777.6" rx="1.3" ry="1.1"/></g><g fill="#7e6e56" fill-opacity="0.75"><ellipse cx="448.2" cy="717.8" rx="1.7" ry="1.5"/><ellipse cx="452.9" cy="717.1" rx="1.6" ry="1.4"/><ellipse cx="412.9" cy="727.6" rx="1.3" ry="1.1"/><ellipse cx="425.8" cy="727.9" rx="1.3" ry="1.1"/><ellipse cx="430.2" cy="726.8" rx="1.8" ry="1.6"/><ellipse cx="411.4" cy="734.3" rx="1.6" ry="1.5"/><ellipse cx="426.3" cy="733.0" rx="1.3" ry="1.1"/><ellipse cx="464.6" cy="733.5" rx="1.3" ry="1.0"/><ellipse cx="434.2" cy="737.4" rx="1.8" ry="1.6"/><ellipse cx="442.6" cy="737.2" rx="1.7" ry="1.5"/><ellipse cx="432.5" cy="743.7" rx="1.9" ry="1.6"/><ellipse cx="454.4" cy="741.5" rx="1.7" ry="1.2"/><ellipse cx="431.5" cy="764.3" rx="1.5" ry="1.3"/><ellipse cx="463.7" cy="769.4" rx="1.7" ry="1.4"/><ellipse cx="489.2" cy="766.6" rx="1.8" ry="1.5"/><ellipse cx="461.3" cy="771.6" rx="1.7" ry="1.4"/><ellipse cx="462.4" cy="777.8" rx="1.6" ry="1.1"/><ellipse cx="467.3" cy="778.7" rx="1.4" ry="1.0"/><ellipse cx="400.1" cy="782.8" rx="1.7" ry="1.2"/><ellipse cx="426.7" cy="782.5" rx="1.4" ry="1.2"/><ellipse cx="430.8" cy="786.7" rx="1.7" ry="1.3"/></g><g fill="#948670" fill-opacity="0.75"><ellipse cx="456.8" cy="718.3" rx="1.8" ry="1.5"/><ellipse cx="488.5" cy="717.9" rx="1.5" ry="1.1"/><ellipse cx="412.2" cy="723.4" rx="1.8" ry="1.3"/><ellipse cx="443.4" cy="722.6" rx="1.4" ry="1.2"/><ellipse cx="478.7" cy="738.5" rx="1.6" ry="1.4"/><ellipse cx="488.8" cy="738.7" rx="1.5" ry="1.2"/><ellipse cx="444.0" cy="742.0" rx="1.7" ry="1.3"/><ellipse cx="414.5" cy="747.0" rx="1.5" ry="1.2"/><ellipse cx="456.3" cy="749.1" rx="1.8" ry="1.4"/><ellipse cx="462.3" cy="749.1" rx="1.7" ry="1.4"/><ellipse cx="474.4" cy="747.0" rx="1.9" ry="1.7"/><ellipse cx="424.9" cy="759.2" rx="1.3" ry="1.2"/><ellipse cx="468.1" cy="758.5" rx="1.7" ry="1.3"/><ellipse cx="415.6" cy="762.7" rx="1.9" ry="1.4"/><ellipse cx="446.9" cy="768.5" rx="1.4" ry="1.2"/><ellipse cx="402.2" cy="772.9" rx="1.3" ry="1.2"/><ellipse cx="442.8" cy="774.0" rx="1.6" ry="1.4"/><ellipse cx="454.4" cy="773.3" rx="1.5" ry="1.1"/><ellipse cx="417.2" cy="784.3" rx="1.7" ry="1.4"/><ellipse cx="422.9" cy="782.9" rx="1.8" ry="1.6"/><ellipse cx="493.2" cy="782.9" rx="1.4" ry="1.2"/><ellipse cx="419.9" cy="788.3" rx="1.9" ry="1.4"/></g><g fill="#7e6e56" fill-opacity="0.5"><ellipse cx="475.0" cy="718.9" rx="1.7" ry="1.6"/><ellipse cx="448.8" cy="722.3" rx="1.6" ry="1.4"/><ellipse cx="455.7" cy="723.9" rx="1.4" ry="1.2"/><ellipse cx="491.2" cy="722.2" rx="1.8" ry="1.4"/><ellipse cx="396.6" cy="728.3" rx="1.5" ry="1.3"/><ellipse cx="478.7" cy="727.6" rx="1.7" ry="1.5"/><ellipse cx="468.6" cy="736.5" rx="1.6" ry="1.2"/><ellipse cx="411.6" cy="743.3" rx="1.7" ry="1.5"/><ellipse cx="493.7" cy="743.2" rx="1.4" ry="1.2"/><ellipse cx="405.9" cy="753.8" rx="1.5" ry="1.2"/><ellipse cx="421.8" cy="754.4" rx="1.3" ry="1.0"/><ellipse cx="450.2" cy="752.4" rx="1.5" ry="1.3"/><ellipse cx="461.2" cy="751.7" rx="1.7" ry="1.5"/><ellipse cx="486.9" cy="753.8" rx="1.9" ry="1.6"/><ellipse cx="399.1" cy="757.6" rx="1.3" ry="1.2"/><ellipse cx="421.7" cy="762.5" rx="1.7" ry="1.5"/><ellipse cx="438.4" cy="764.0" rx="1.7" ry="1.5"/><ellipse cx="475.1" cy="762.7" rx="1.9" ry="1.5"/><ellipse cx="480.4" cy="763.4" rx="1.4" ry="1.2"/><ellipse cx="423.5" cy="767.9" rx="1.6" ry="1.2"/><ellipse cx="410.2" cy="773.0" rx="1.6" ry="1.4"/><ellipse cx="480.8" cy="772.2" rx="1.4" ry="1.2"/><ellipse cx="415.7" cy="779.2" rx="1.6" ry="1.4"/><ellipse cx="450.5" cy="778.4" rx="1.8" ry="1.6"/><ellipse cx="411.9" cy="783.6" rx="1.3" ry="1.0"/><ellipse cx="443.3" cy="783.1" rx="1.7" ry="1.4"/><ellipse cx="471.9" cy="783.6" rx="1.3" ry="1.0"/><ellipse cx="482.0" cy="783.5" rx="1.3" ry="1.0"/><ellipse cx="437.4" cy="786.6" rx="1.3" ry="1.1"/><ellipse cx="441.1" cy="788.0" rx="1.9" ry="1.5"/><ellipse cx="450.5" cy="786.7" rx="1.4" ry="1.2"/><ellipse cx="458.8" cy="786.6" rx="1.6" ry="1.3"/><ellipse cx="467.0" cy="788.5" rx="1.9" ry="1.4"/><ellipse cx="472.4" cy="787.9" rx="1.4" ry="1.2"/></g><g fill="#948670" fill-opacity="0.5"><ellipse cx="417.8" cy="724.4" rx="1.4" ry="1.1"/><ellipse cx="428.9" cy="722.7" rx="1.5" ry="1.2"/><ellipse cx="433.4" cy="721.9" rx="1.4" ry="1.0"/><ellipse cx="439.9" cy="723.3" rx="1.4" ry="1.1"/><ellipse cx="460.9" cy="721.6" rx="1.7" ry="1.5"/><ellipse cx="472.4" cy="722.6" rx="1.6" ry="1.4"/><ellipse cx="432.6" cy="732.3" rx="1.5" ry="1.3"/><ellipse cx="450.6" cy="733.4" rx="1.8" ry="1.4"/><ellipse cx="476.0" cy="733.2" rx="1.8" ry="1.6"/><ellipse cx="419.3" cy="737.7" rx="1.3" ry="1.1"/><ellipse cx="448.0" cy="743.8" rx="1.6" ry="1.3"/><ellipse cx="470.4" cy="744.2" rx="1.5" ry="1.3"/><ellipse cx="402.9" cy="746.7" rx="1.5" ry="1.2"/><ellipse cx="447.6" cy="748.5" rx="1.5" ry="1.1"/><ellipse cx="451.9" cy="746.9" rx="1.7" ry="1.4"/><ellipse cx="438.1" cy="752.8" rx="1.5" ry="1.2"/><ellipse cx="446.6" cy="757.6" rx="1.4" ry="1.1"/><ellipse cx="458.2" cy="758.7" rx="1.7" ry="1.4"/><ellipse cx="478.9" cy="757.6" rx="1.6" ry="1.4"/><ellipse cx="410.7" cy="764.5" rx="1.6" ry="1.1"/><ellipse cx="443.1" cy="762.2" rx="1.7" ry="1.2"/><ellipse cx="409.2" cy="768.5" rx="1.3" ry="1.1"/><ellipse cx="418.9" cy="768.4" rx="1.9" ry="1.4"/><ellipse cx="429.5" cy="766.5" rx="1.7" ry="1.3"/><ellipse cx="457.1" cy="767.2" rx="1.4" ry="1.2"/><ellipse cx="417.1" cy="772.1" rx="1.7" ry="1.6"/><ellipse cx="432.6" cy="772.9" rx="1.8" ry="1.5"/><ellipse cx="415.3" cy="786.7" rx="1.3" ry="1.1"/><ellipse cx="424.5" cy="787.6" rx="1.8" ry="1.4"/><ellipse cx="477.7" cy="786.5" rx="1.8" ry="1.4"/></g><g fill="#6e6048" fill-opacity="0.75"><ellipse cx="466.3" cy="724.4" rx="1.7" ry="1.4"/><ellipse cx="466.8" cy="727.5" rx="1.5" ry="1.2"/><ellipse cx="473.5" cy="728.1" rx="1.8" ry="1.6"/><ellipse cx="484.7" cy="727.3" rx="1.7" ry="1.4"/><ellipse cx="405.1" cy="732.0" rx="1.4" ry="1.1"/><ellipse cx="488.1" cy="731.6" rx="1.8" ry="1.3"/><ellipse cx="487.6" cy="741.9" rx="1.3" ry="1.1"/><ellipse cx="428.0" cy="753.8" rx="1.7" ry="1.4"/><ellipse cx="470.4" cy="751.9" rx="1.9" ry="1.6"/><ellipse cx="421.0" cy="759.0" rx="1.8" ry="1.5"/><ellipse cx="431.0" cy="756.7" rx="1.9" ry="1.4"/><ellipse cx="488.9" cy="759.1" rx="1.6" ry="1.1"/><ellipse cx="427.4" cy="763.8" rx="1.7" ry="1.4"/><ellipse cx="470.4" cy="772.1" rx="1.4" ry="1.1"/><ellipse cx="408.0" cy="779.0" rx="1.8" ry="1.4"/><ellipse cx="441.3" cy="777.9" rx="1.6" ry="1.4"/><ellipse cx="455.1" cy="783.2" rx="1.4" ry="1.0"/><ellipse cx="476.6" cy="784.3" rx="1.8" ry="1.5"/><ellipse cx="399.1" cy="787.1" rx="1.8" ry="1.4"/><ellipse cx="408.9" cy="786.7" rx="1.5" ry="1.3"/></g></g>
</g>
<text x="60.25" y="798.8" class="dbt" font-style="italic" text-anchor="middle" textLength="74.5" lengthAdjust="spacingAndGlyphs">HMGA2/MIRlet7</text>
<rect x="23" y="799.9" width="74.5" height="0.9" fill="#222"/>
<text x="59.25" y="810.7" class="dbt" text-anchor="middle" textLength="63.1" lengthAdjust="spacingAndGlyphs">mutated genes</text>
<text x="146.65" y="798.9" class="dbt" text-anchor="middle" textLength="48.5" lengthAdjust="spacingAndGlyphs">102.0/0.36</text>
<rect x="122.4" y="799.9" width="48.5" height="0.9" fill="#222"/>
<text x="247.3" y="798.9" class="dbt" text-anchor="middle" textLength="41.8" lengthAdjust="spacingAndGlyphs">25.2/0.77</text>
<rect x="226.4" y="800.1" width="41.8" height="0.9" fill="#222"/>
<text x="345" y="798.9" class="dbt" text-anchor="middle" textLength="41.8" lengthAdjust="spacingAndGlyphs">0.55/1.32</text>
<rect x="324.1" y="799.5" width="41.8" height="0.9" fill="#222"/>
<text x="146.95" y="810.9" class="dbt" font-style="italic" text-anchor="middle" textLength="54.5" lengthAdjust="spacingAndGlyphs">JAK2/ASXL1</text>
<text x="247.3" y="810.9" class="dbt" text-anchor="middle" textLength="49.8" lengthAdjust="spacingAndGlyphs">monosomy7</text>
<text x="345.3" y="810.6" class="dbt" text-anchor="middle" textLength="22.2" lengthAdjust="spacingAndGlyphs">JAK2</text>
<rect x="0" y="0" width="1.5" height="821" fill="#000"/>
<rect x="0" y="0" width="520" height="1.7" fill="#000"/>
<rect x="518.1" y="0" width="1.9" height="821" fill="#000"/>
<rect x="0" y="819" width="520" height="2" fill="#000"/>
</svg>
</body></html>
